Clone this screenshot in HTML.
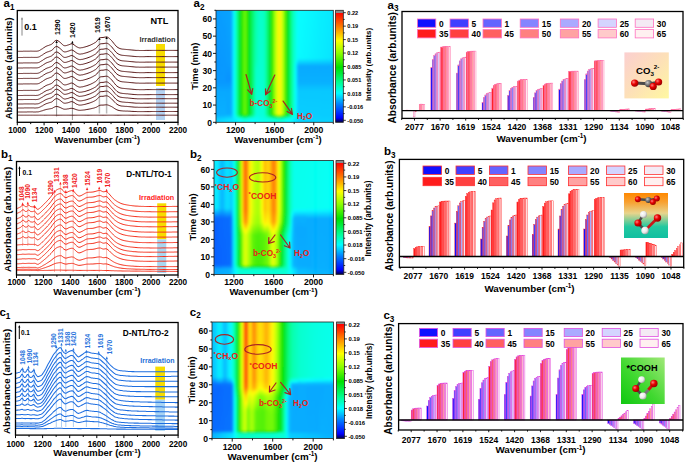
<!DOCTYPE html>
<html><head><meta charset="utf-8"><style>
html,body{margin:0;padding:0;background:#fff;}
body{width:685px;height:462px;overflow:hidden;}
svg{display:block;font-family:"Liberation Sans", sans-serif;}
</style></head><body>
<svg width="685" height="462" viewBox="0 0 685 462">
<defs><filter id="hblur" x="-5%" y="-5%" width="110%" height="110%"><feGaussianBlur stdDeviation="0.9"/></filter><clipPath id="hc1"><rect x="216" y="10.3" width="117.3" height="112"/></clipPath><linearGradient id="g2" x1="0" y1="0" x2="0" y2="1"><stop offset="0" stop-color="#0099ff"/><stop offset="0.47" stop-color="#0092ff"/><stop offset="0.64" stop-color="#0095ff"/><stop offset="0.72" stop-color="#00a6ff"/><stop offset="0.92" stop-color="#00abff"/><stop offset="0.96" stop-color="#00ccff"/><stop offset="1" stop-color="#00ccff"/></linearGradient><linearGradient id="g3" x1="0" y1="0" x2="0" y2="1"><stop offset="0" stop-color="#009aff"/><stop offset="0.47" stop-color="#0092ff"/><stop offset="0.64" stop-color="#0095ff"/><stop offset="0.72" stop-color="#00a6ff"/><stop offset="0.92" stop-color="#00acff"/><stop offset="0.96" stop-color="#00ccff"/><stop offset="1" stop-color="#00cdff"/></linearGradient><linearGradient id="g4" x1="0" y1="0" x2="0" y2="1"><stop offset="0" stop-color="#009aff"/><stop offset="0.47" stop-color="#0093ff"/><stop offset="0.64" stop-color="#0095ff"/><stop offset="0.72" stop-color="#00a6ff"/><stop offset="0.92" stop-color="#00acff"/><stop offset="0.96" stop-color="#00cfff"/><stop offset="1" stop-color="#00cfff"/></linearGradient><linearGradient id="g5" x1="0" y1="0" x2="0" y2="1"><stop offset="0" stop-color="#009bff"/><stop offset="0.47" stop-color="#0094ff"/><stop offset="0.64" stop-color="#0095ff"/><stop offset="0.72" stop-color="#00a6ff"/><stop offset="0.92" stop-color="#00acff"/><stop offset="0.96" stop-color="#00d1ff"/><stop offset="1" stop-color="#00d1ff"/></linearGradient><linearGradient id="g6" x1="0" y1="0" x2="0" y2="1"><stop offset="0" stop-color="#009bff"/><stop offset="0.47" stop-color="#0095ff"/><stop offset="0.64" stop-color="#0095ff"/><stop offset="0.72" stop-color="#00a6ff"/><stop offset="0.92" stop-color="#00adff"/><stop offset="0.96" stop-color="#00d4ff"/><stop offset="1" stop-color="#00d4ff"/></linearGradient><linearGradient id="g7" x1="0" y1="0" x2="0" y2="1"><stop offset="0" stop-color="#009cff"/><stop offset="0.47" stop-color="#0095ff"/><stop offset="0.64" stop-color="#0095ff"/><stop offset="0.72" stop-color="#00a6ff"/><stop offset="0.92" stop-color="#00adff"/><stop offset="0.96" stop-color="#00d6ff"/><stop offset="1" stop-color="#00d6ff"/></linearGradient><linearGradient id="g8" x1="0" y1="0" x2="0" y2="1"><stop offset="0" stop-color="#009dff"/><stop offset="0.47" stop-color="#0095ff"/><stop offset="0.64" stop-color="#0095ff"/><stop offset="0.72" stop-color="#00a6ff"/><stop offset="0.92" stop-color="#00adff"/><stop offset="0.96" stop-color="#00d8ff"/><stop offset="1" stop-color="#00d9ff"/></linearGradient><linearGradient id="g9" x1="0" y1="0" x2="0" y2="1"><stop offset="0" stop-color="#009dff"/><stop offset="0.47" stop-color="#0096ff"/><stop offset="0.64" stop-color="#0095ff"/><stop offset="0.72" stop-color="#00a6ff"/><stop offset="0.92" stop-color="#00aeff"/><stop offset="0.96" stop-color="#00dbff"/><stop offset="1" stop-color="#00dbff"/></linearGradient><linearGradient id="g10" x1="0" y1="0" x2="0" y2="1"><stop offset="0" stop-color="#009eff"/><stop offset="0.46" stop-color="#0098ff"/><stop offset="0.62" stop-color="#0090ff"/><stop offset="0.72" stop-color="#00a6ff"/><stop offset="0.91" stop-color="#00a7ff"/><stop offset="0.96" stop-color="#00ddff"/><stop offset="1" stop-color="#00ddff"/></linearGradient><linearGradient id="g11" x1="0" y1="0" x2="0" y2="1"><stop offset="0" stop-color="#009fff"/><stop offset="0.46" stop-color="#0099ff"/><stop offset="0.62" stop-color="#0090ff"/><stop offset="0.72" stop-color="#00a6ff"/><stop offset="0.91" stop-color="#00a7ff"/><stop offset="0.96" stop-color="#00dfff"/><stop offset="1" stop-color="#00e0ff"/></linearGradient><linearGradient id="g12" x1="0" y1="0" x2="0" y2="1"><stop offset="0" stop-color="#009fff"/><stop offset="0.46" stop-color="#0099ff"/><stop offset="0.61" stop-color="#008fff"/><stop offset="0.72" stop-color="#00a6ff"/><stop offset="0.91" stop-color="#00a7ff"/><stop offset="0.96" stop-color="#00e2ff"/><stop offset="1" stop-color="#00e2ff"/></linearGradient><linearGradient id="g13" x1="0" y1="0" x2="0" y2="1"><stop offset="0" stop-color="#00a7ff"/><stop offset="0.46" stop-color="#00a1ff"/><stop offset="0.62" stop-color="#0099ff"/><stop offset="0.72" stop-color="#00acff"/><stop offset="0.91" stop-color="#00adff"/><stop offset="0.96" stop-color="#00e4ff"/><stop offset="1" stop-color="#00e4ff"/></linearGradient><linearGradient id="g14" x1="0" y1="0" x2="0" y2="1"><stop offset="0" stop-color="#00d1ff"/><stop offset="0.91" stop-color="#00d3ff"/><stop offset="0.97" stop-color="#00e7ff"/><stop offset="1" stop-color="#00e7ff"/></linearGradient><linearGradient id="g15" x1="0" y1="0" x2="0" y2="1"><stop offset="0" stop-color="#00fffb"/><stop offset="0.93" stop-color="#00faff"/><stop offset="0.97" stop-color="#00e9ff"/><stop offset="1" stop-color="#00e9ff"/></linearGradient><linearGradient id="g16" x1="0" y1="0" x2="0" y2="1"><stop offset="0" stop-color="#00ffc9"/><stop offset="0.91" stop-color="#00ffca"/><stop offset="0.95" stop-color="#00f6ff"/><stop offset="0.97" stop-color="#00ecff"/><stop offset="1" stop-color="#00ecff"/></linearGradient><linearGradient id="g17" x1="0" y1="0" x2="0" y2="1"><stop offset="0" stop-color="#00fd8d"/><stop offset="0.91" stop-color="#00fd8e"/><stop offset="0.93" stop-color="#00ffbc"/><stop offset="0.95" stop-color="#00fff9"/><stop offset="0.97" stop-color="#00f4ff"/><stop offset="1" stop-color="#00f4ff"/></linearGradient><linearGradient id="g18" x1="0" y1="0" x2="0" y2="1"><stop offset="0" stop-color="#00f04c"/><stop offset="0.91" stop-color="#00f04e"/><stop offset="0.92" stop-color="#00f566"/><stop offset="0.95" stop-color="#00ffeb"/><stop offset="0.96" stop-color="#00feff"/><stop offset="1" stop-color="#00fdff"/></linearGradient><linearGradient id="g19" x1="0" y1="0" x2="0" y2="1"><stop offset="0" stop-color="#00e518"/><stop offset="0.91" stop-color="#00e51a"/><stop offset="0.92" stop-color="#00ec39"/><stop offset="0.95" stop-color="#00ffde"/><stop offset="0.96" stop-color="#00fff8"/><stop offset="1" stop-color="#00fff9"/></linearGradient><linearGradient id="g20" x1="0" y1="0" x2="0" y2="1"><stop offset="0" stop-color="#19e500"/><stop offset="0.91" stop-color="#17e500"/><stop offset="0.92" stop-color="#00e30e"/><stop offset="0.94" stop-color="#00ff97"/><stop offset="0.95" stop-color="#00ffd2"/><stop offset="0.96" stop-color="#00fff0"/><stop offset="1" stop-color="#00fff1"/></linearGradient><linearGradient id="g21" x1="0" y1="0" x2="0" y2="1"><stop offset="0" stop-color="#42ee00"/><stop offset="0.91" stop-color="#3fee00"/><stop offset="0.92" stop-color="#16e500"/><stop offset="0.93" stop-color="#00ea32"/><stop offset="0.94" stop-color="#00fb83"/><stop offset="0.95" stop-color="#00ffc6"/><stop offset="0.96" stop-color="#00ffe8"/><stop offset="1" stop-color="#00ffe9"/></linearGradient><linearGradient id="g22" x1="0" y1="0" x2="0" y2="1"><stop offset="0" stop-color="#68f600"/><stop offset="0.91" stop-color="#65f600"/><stop offset="0.92" stop-color="#39ec00"/><stop offset="0.93" stop-color="#00e517"/><stop offset="0.94" stop-color="#00f771"/><stop offset="0.95" stop-color="#00ffbb"/><stop offset="0.96" stop-color="#00ffe0"/><stop offset="1" stop-color="#00ffe1"/></linearGradient><linearGradient id="g23" x1="0" y1="0" x2="0" y2="1"><stop offset="0" stop-color="#4af000"/><stop offset="0.91" stop-color="#47ef00"/><stop offset="0.92" stop-color="#1ee600"/><stop offset="0.93" stop-color="#00e92b"/><stop offset="0.94" stop-color="#00fa7e"/><stop offset="0.95" stop-color="#00ffc2"/><stop offset="0.96" stop-color="#00ffe4"/><stop offset="1" stop-color="#00ffe6"/></linearGradient><linearGradient id="g24" x1="0" y1="0" x2="0" y2="1"><stop offset="0" stop-color="#1ee600"/><stop offset="0.91" stop-color="#1be600"/><stop offset="0.92" stop-color="#00e209"/><stop offset="0.94" stop-color="#00fe92"/><stop offset="0.95" stop-color="#00ffcd"/><stop offset="0.96" stop-color="#00ffeb"/><stop offset="1" stop-color="#00ffec"/></linearGradient><linearGradient id="g25" x1="0" y1="0" x2="0" y2="1"><stop offset="0" stop-color="#00e310"/><stop offset="0.91" stop-color="#00e412"/><stop offset="0.92" stop-color="#00ea31"/><stop offset="0.94" stop-color="#00ffa6"/><stop offset="0.95" stop-color="#00ffd8"/><stop offset="0.96" stop-color="#00fff2"/><stop offset="1" stop-color="#00fff3"/></linearGradient><linearGradient id="g26" x1="0" y1="0" x2="0" y2="1"><stop offset="0" stop-color="#00ec3c"/><stop offset="0.91" stop-color="#00ed3d"/><stop offset="0.92" stop-color="#00f257"/><stop offset="0.95" stop-color="#00ffe3"/><stop offset="0.96" stop-color="#00fff9"/><stop offset="1" stop-color="#00fff9"/></linearGradient><linearGradient id="g27" x1="0" y1="0" x2="0" y2="1"><stop offset="0" stop-color="#00f35c"/><stop offset="0.91" stop-color="#00f35e"/><stop offset="0.92" stop-color="#00f874"/><stop offset="0.95" stop-color="#00ffeb"/><stop offset="0.96" stop-color="#00fffe"/><stop offset="1" stop-color="#00ffff"/></linearGradient><linearGradient id="g28" x1="0" y1="0" x2="0" y2="1"><stop offset="0" stop-color="#00f97d"/><stop offset="0.91" stop-color="#00fc89"/><stop offset="0.93" stop-color="#00ffb4"/><stop offset="0.95" stop-color="#00ffee"/><stop offset="0.97" stop-color="#00fffc"/><stop offset="1" stop-color="#00fffc"/></linearGradient><linearGradient id="g29" x1="0" y1="0" x2="0" y2="1"><stop offset="0" stop-color="#00ff9d"/><stop offset="0.45" stop-color="#00ffa3"/><stop offset="0.53" stop-color="#00ffb4"/><stop offset="0.91" stop-color="#00ffbd"/><stop offset="0.96" stop-color="#00fffa"/><stop offset="1" stop-color="#00fffa"/></linearGradient><linearGradient id="g30" x1="0" y1="0" x2="0" y2="1"><stop offset="0" stop-color="#00ffb2"/><stop offset="0.45" stop-color="#00ffb9"/><stop offset="0.53" stop-color="#00ffcc"/><stop offset="0.92" stop-color="#00ffdb"/><stop offset="0.96" stop-color="#00fff8"/><stop offset="1" stop-color="#00fff8"/></linearGradient><linearGradient id="g31" x1="0" y1="0" x2="0" y2="1"><stop offset="0" stop-color="#00ffbe"/><stop offset="0.47" stop-color="#00ffc5"/><stop offset="0.85" stop-color="#00ffd6"/><stop offset="0.92" stop-color="#00ffda"/><stop offset="0.96" stop-color="#00fff6"/><stop offset="1" stop-color="#00fff6"/></linearGradient><linearGradient id="g32" x1="0" y1="0" x2="0" y2="1"><stop offset="0" stop-color="#00ffca"/><stop offset="0.66" stop-color="#00ffd3"/><stop offset="0.92" stop-color="#00ffda"/><stop offset="0.97" stop-color="#00fff4"/><stop offset="1" stop-color="#00fff4"/></linearGradient><linearGradient id="g33" x1="0" y1="0" x2="0" y2="1"><stop offset="0" stop-color="#00ffc8"/><stop offset="0.66" stop-color="#00ffd3"/><stop offset="0.92" stop-color="#00ffda"/><stop offset="0.97" stop-color="#00fff1"/><stop offset="1" stop-color="#00fff1"/></linearGradient><linearGradient id="g34" x1="0" y1="0" x2="0" y2="1"><stop offset="0" stop-color="#00ffc4"/><stop offset="0.64" stop-color="#00ffce"/><stop offset="0.92" stop-color="#00ffd9"/><stop offset="0.97" stop-color="#00ffef"/><stop offset="1" stop-color="#00ffef"/></linearGradient><linearGradient id="g35" x1="0" y1="0" x2="0" y2="1"><stop offset="0" stop-color="#00ffbc"/><stop offset="0.48" stop-color="#00ffc4"/><stop offset="0.92" stop-color="#00ffd3"/><stop offset="0.97" stop-color="#00ffed"/><stop offset="1" stop-color="#00ffed"/></linearGradient><linearGradient id="g36" x1="0" y1="0" x2="0" y2="1"><stop offset="0" stop-color="#00ff9d"/><stop offset="0.91" stop-color="#00ffa6"/><stop offset="0.96" stop-color="#00ffeb"/><stop offset="1" stop-color="#00ffeb"/></linearGradient><linearGradient id="g37" x1="0" y1="0" x2="0" y2="1"><stop offset="0" stop-color="#00f97a"/><stop offset="0.91" stop-color="#00f97b"/><stop offset="0.93" stop-color="#00ffa5"/><stop offset="0.95" stop-color="#00ffdb"/><stop offset="0.97" stop-color="#00ffe9"/><stop offset="1" stop-color="#00ffe9"/></linearGradient><linearGradient id="g38" x1="0" y1="0" x2="0" y2="1"><stop offset="0" stop-color="#00ef49"/><stop offset="0.91" stop-color="#00ef4b"/><stop offset="0.92" stop-color="#00f460"/><stop offset="0.95" stop-color="#00ffd4"/><stop offset="0.96" stop-color="#00ffe6"/><stop offset="1" stop-color="#00ffe6"/></linearGradient><linearGradient id="g39" x1="0" y1="0" x2="0" y2="1"><stop offset="0" stop-color="#00e518"/><stop offset="0.91" stop-color="#00e519"/><stop offset="0.92" stop-color="#00eb35"/><stop offset="0.95" stop-color="#00ffcc"/><stop offset="0.96" stop-color="#00ffe3"/><stop offset="1" stop-color="#00ffe4"/></linearGradient><linearGradient id="g40" x1="0" y1="0" x2="0" y2="1"><stop offset="0" stop-color="#1fe700"/><stop offset="0.91" stop-color="#1de600"/><stop offset="0.92" stop-color="#00e106"/><stop offset="0.94" stop-color="#00fc8a"/><stop offset="0.95" stop-color="#00ffc4"/><stop offset="0.96" stop-color="#00ffe1"/><stop offset="1" stop-color="#00ffe2"/></linearGradient><linearGradient id="g41" x1="0" y1="0" x2="0" y2="1"><stop offset="0" stop-color="#58f300"/><stop offset="0.91" stop-color="#55f200"/><stop offset="0.92" stop-color="#2be900"/><stop offset="0.93" stop-color="#00e721"/><stop offset="0.94" stop-color="#00f875"/><stop offset="0.95" stop-color="#00ffbb"/><stop offset="0.96" stop-color="#00ffdf"/><stop offset="1" stop-color="#00ffe0"/></linearGradient><linearGradient id="g42" x1="0" y1="0" x2="0" y2="1"><stop offset="0" stop-color="#94ff00"/><stop offset="0.91" stop-color="#91ff00"/><stop offset="0.92" stop-color="#5ff400"/><stop offset="0.93" stop-color="#05e100"/><stop offset="0.95" stop-color="#00ffb3"/><stop offset="0.96" stop-color="#00ffdc"/><stop offset="1" stop-color="#00ffde"/></linearGradient><linearGradient id="g43" x1="0" y1="0" x2="0" y2="1"><stop offset="0" stop-color="#c8ff00"/><stop offset="0.91" stop-color="#c5ff00"/><stop offset="0.92" stop-color="#91ff00"/><stop offset="0.93" stop-color="#2ae900"/><stop offset="0.94" stop-color="#00ef4a"/><stop offset="0.95" stop-color="#00ffaa"/><stop offset="0.96" stop-color="#00ffda"/><stop offset="1" stop-color="#00ffdb"/></linearGradient><linearGradient id="g44" x1="0" y1="0" x2="0" y2="1"><stop offset="0" stop-color="#ebff00"/><stop offset="0.91" stop-color="#e7ff00"/><stop offset="0.92" stop-color="#afff00"/><stop offset="0.93" stop-color="#42ee00"/><stop offset="0.94" stop-color="#00ec3b"/><stop offset="0.95" stop-color="#00ffa4"/><stop offset="0.96" stop-color="#00ffd7"/><stop offset="1" stop-color="#00ffd9"/></linearGradient><linearGradient id="g45" x1="0" y1="0" x2="0" y2="1"><stop offset="0" stop-color="#fff100"/><stop offset="0.91" stop-color="#fff500"/><stop offset="0.92" stop-color="#cdff00"/><stop offset="0.93" stop-color="#5bf400"/><stop offset="0.94" stop-color="#00e92c"/><stop offset="0.95" stop-color="#00ff9e"/><stop offset="0.96" stop-color="#00ffd5"/><stop offset="1" stop-color="#00ffd7"/></linearGradient><linearGradient id="g46" x1="0" y1="0" x2="0" y2="1"><stop offset="0" stop-color="#f3ff00"/><stop offset="0.91" stop-color="#efff00"/><stop offset="0.92" stop-color="#b5ff00"/><stop offset="0.93" stop-color="#48ef00"/><stop offset="0.94" stop-color="#00eb38"/><stop offset="0.95" stop-color="#00ffa3"/><stop offset="0.96" stop-color="#00ffd7"/><stop offset="1" stop-color="#00ffd9"/></linearGradient><linearGradient id="g47" x1="0" y1="0" x2="0" y2="1"><stop offset="0" stop-color="#ccff00"/><stop offset="0.91" stop-color="#c8ff00"/><stop offset="0.92" stop-color="#93ff00"/><stop offset="0.93" stop-color="#2be900"/><stop offset="0.94" stop-color="#00ef4b"/><stop offset="0.95" stop-color="#00ffad"/><stop offset="0.96" stop-color="#00ffde"/><stop offset="1" stop-color="#00ffdf"/></linearGradient><linearGradient id="g48" x1="0" y1="0" x2="0" y2="1"><stop offset="0" stop-color="#98ff00"/><stop offset="0.91" stop-color="#95ff00"/><stop offset="0.92" stop-color="#61f500"/><stop offset="0.93" stop-color="#04e100"/><stop offset="0.95" stop-color="#00ffba"/><stop offset="0.96" stop-color="#00ffe4"/><stop offset="1" stop-color="#00ffe6"/></linearGradient><linearGradient id="g49" x1="0" y1="0" x2="0" y2="1"><stop offset="0" stop-color="#50f100"/><stop offset="0.91" stop-color="#4ef100"/><stop offset="0.92" stop-color="#22e700"/><stop offset="0.93" stop-color="#00e92a"/><stop offset="0.94" stop-color="#00fa80"/><stop offset="0.95" stop-color="#00ffc7"/><stop offset="0.96" stop-color="#00ffeb"/><stop offset="1" stop-color="#00ffec"/></linearGradient><linearGradient id="g50" x1="0" y1="0" x2="0" y2="1"><stop offset="0" stop-color="#12e400"/><stop offset="0.91" stop-color="#10e300"/><stop offset="0.92" stop-color="#00e414"/><stop offset="0.94" stop-color="#00ff9a"/><stop offset="0.95" stop-color="#00ffd4"/><stop offset="0.96" stop-color="#00fff2"/><stop offset="1" stop-color="#00fff3"/></linearGradient><linearGradient id="g51" x1="0" y1="0" x2="0" y2="1"><stop offset="0" stop-color="#00e721"/><stop offset="0.91" stop-color="#00e723"/><stop offset="0.92" stop-color="#00ed41"/><stop offset="0.95" stop-color="#00ffe0"/><stop offset="0.96" stop-color="#00fff8"/><stop offset="1" stop-color="#00fff9"/></linearGradient><linearGradient id="g52" x1="0" y1="0" x2="0" y2="1"><stop offset="0" stop-color="#00f154"/><stop offset="0.91" stop-color="#00f155"/><stop offset="0.92" stop-color="#00f66d"/><stop offset="0.95" stop-color="#00ffeb"/><stop offset="0.96" stop-color="#00ffff"/><stop offset="1" stop-color="#00feff"/></linearGradient><linearGradient id="g53" x1="0" y1="0" x2="0" y2="1"><stop offset="0" stop-color="#00fb82"/><stop offset="0.91" stop-color="#00fb83"/><stop offset="0.93" stop-color="#00ffb5"/><stop offset="0.95" stop-color="#00fff6"/><stop offset="0.98" stop-color="#00f6ff"/><stop offset="1" stop-color="#00f6ff"/></linearGradient><linearGradient id="g54" x1="0" y1="0" x2="0" y2="1"><stop offset="0" stop-color="#00ffb0"/><stop offset="0.91" stop-color="#00ffb0"/><stop offset="0.93" stop-color="#00ffd2"/><stop offset="0.95" stop-color="#00fdff"/><stop offset="0.97" stop-color="#00efff"/><stop offset="1" stop-color="#00efff"/></linearGradient><linearGradient id="g55" x1="0" y1="0" x2="0" y2="1"><stop offset="0" stop-color="#00ffc9"/><stop offset="0.46" stop-color="#00ffd0"/><stop offset="0.58" stop-color="#00ffdb"/><stop offset="0.91" stop-color="#00ffd5"/><stop offset="0.94" stop-color="#00fffc"/><stop offset="0.96" stop-color="#00e9ff"/><stop offset="1" stop-color="#00e9ff"/></linearGradient><linearGradient id="g56" x1="0" y1="0" x2="0" y2="1"><stop offset="0" stop-color="#00ffdf"/><stop offset="0.44" stop-color="#00ffe4"/><stop offset="0.49" stop-color="#00faff"/><stop offset="0.65" stop-color="#00fdff"/><stop offset="0.93" stop-color="#00faff"/><stop offset="0.96" stop-color="#00e3ff"/><stop offset="1" stop-color="#00e2ff"/></linearGradient><linearGradient id="g57" x1="0" y1="0" x2="0" y2="1"><stop offset="0" stop-color="#00fff4"/><stop offset="0.43" stop-color="#00fff7"/><stop offset="0.46" stop-color="#00eeff"/><stop offset="0.5" stop-color="#00c2ff"/><stop offset="0.64" stop-color="#00c8ff"/><stop offset="0.72" stop-color="#00dcff"/><stop offset="1" stop-color="#00dcff"/></linearGradient><linearGradient id="g58" x1="0" y1="0" x2="0" y2="1"><stop offset="0" stop-color="#00feff"/><stop offset="0.43" stop-color="#00faff"/><stop offset="0.5" stop-color="#00a7ff"/><stop offset="0.64" stop-color="#00aeff"/><stop offset="0.71" stop-color="#00c6ff"/><stop offset="0.93" stop-color="#00cdff"/><stop offset="0.99" stop-color="#00d9ff"/><stop offset="1" stop-color="#00d9ff"/></linearGradient><linearGradient id="g59" x1="0" y1="0" x2="0" y2="1"><stop offset="0" stop-color="#00fdff"/><stop offset="0.43" stop-color="#00f9ff"/><stop offset="0.5" stop-color="#00a7ff"/><stop offset="0.64" stop-color="#00aeff"/><stop offset="0.71" stop-color="#00c6ff"/><stop offset="0.93" stop-color="#00cdff"/><stop offset="0.99" stop-color="#00d8ff"/><stop offset="1" stop-color="#00d8ff"/></linearGradient><linearGradient id="g60" x1="0" y1="0" x2="0" y2="1"><stop offset="0" stop-color="#00fcff"/><stop offset="0.43" stop-color="#00f8ff"/><stop offset="0.5" stop-color="#00a7ff"/><stop offset="0.64" stop-color="#00aeff"/><stop offset="0.71" stop-color="#00c6ff"/><stop offset="0.93" stop-color="#00cdff"/><stop offset="0.99" stop-color="#00d8ff"/><stop offset="1" stop-color="#00d8ff"/></linearGradient><linearGradient id="g61" x1="0" y1="0" x2="0" y2="1"><stop offset="0" stop-color="#00fbff"/><stop offset="0.43" stop-color="#00f7ff"/><stop offset="0.5" stop-color="#00a7ff"/><stop offset="0.64" stop-color="#00aeff"/><stop offset="0.71" stop-color="#00c6ff"/><stop offset="0.93" stop-color="#00cdff"/><stop offset="1" stop-color="#00d8ff"/></linearGradient><linearGradient id="g62" x1="0" y1="0" x2="0" y2="1"><stop offset="0" stop-color="#00faff"/><stop offset="0.43" stop-color="#00f6ff"/><stop offset="0.5" stop-color="#00a7ff"/><stop offset="0.64" stop-color="#00aeff"/><stop offset="0.71" stop-color="#00c6ff"/><stop offset="0.93" stop-color="#00cdff"/><stop offset="1" stop-color="#00d8ff"/></linearGradient><linearGradient id="g63" x1="0" y1="0" x2="0" y2="1"><stop offset="0" stop-color="#00f9ff"/><stop offset="0.43" stop-color="#00f5ff"/><stop offset="0.5" stop-color="#00a7ff"/><stop offset="0.64" stop-color="#00aeff"/><stop offset="0.71" stop-color="#00c6ff"/><stop offset="0.93" stop-color="#00ccff"/><stop offset="1" stop-color="#00d7ff"/></linearGradient><linearGradient id="g64" x1="0" y1="0" x2="0" y2="1"><stop offset="0" stop-color="#00f8ff"/><stop offset="0.43" stop-color="#00f4ff"/><stop offset="0.5" stop-color="#00a7ff"/><stop offset="0.64" stop-color="#00aeff"/><stop offset="0.71" stop-color="#00c6ff"/><stop offset="0.93" stop-color="#00ccff"/><stop offset="1" stop-color="#00d7ff"/></linearGradient><linearGradient id="g65" x1="0" y1="0" x2="0" y2="1"><stop offset="0" stop-color="#00f7ff"/><stop offset="0.43" stop-color="#00f3ff"/><stop offset="0.5" stop-color="#00a7ff"/><stop offset="0.64" stop-color="#00aeff"/><stop offset="0.71" stop-color="#00c6ff"/><stop offset="0.93" stop-color="#00ccff"/><stop offset="1" stop-color="#00d7ff"/></linearGradient><linearGradient id="g66" x1="0" y1="0" x2="0" y2="1"><stop offset="0" stop-color="#00f6ff"/><stop offset="0.43" stop-color="#00f2ff"/><stop offset="0.5" stop-color="#00a7ff"/><stop offset="0.64" stop-color="#00aeff"/><stop offset="0.71" stop-color="#00c6ff"/><stop offset="0.93" stop-color="#00ccff"/><stop offset="1" stop-color="#00d7ff"/></linearGradient><linearGradient id="g67" x1="0" y1="0" x2="0" y2="1"><stop offset="0" stop-color="#00f5ff"/><stop offset="0.43" stop-color="#00f1ff"/><stop offset="0.5" stop-color="#00a7ff"/><stop offset="0.64" stop-color="#00aeff"/><stop offset="0.71" stop-color="#00c6ff"/><stop offset="0.93" stop-color="#00ccff"/><stop offset="1" stop-color="#00d6ff"/></linearGradient><linearGradient id="g68" x1="0" y1="0" x2="0" y2="1"><stop offset="0" stop-color="#00f4ff"/><stop offset="0.43" stop-color="#00f0ff"/><stop offset="0.5" stop-color="#00a7ff"/><stop offset="0.64" stop-color="#00aeff"/><stop offset="0.71" stop-color="#00c6ff"/><stop offset="0.93" stop-color="#00ccff"/><stop offset="1" stop-color="#00d6ff"/></linearGradient><linearGradient id="g69" x1="0" y1="0" x2="0" y2="1"><stop offset="0" stop-color="#00f3ff"/><stop offset="0.43" stop-color="#00efff"/><stop offset="0.5" stop-color="#00a7ff"/><stop offset="0.64" stop-color="#00aeff"/><stop offset="0.71" stop-color="#00c6ff"/><stop offset="0.93" stop-color="#00ccff"/><stop offset="1" stop-color="#00d6ff"/></linearGradient><linearGradient id="g70" x1="0" y1="0" x2="0" y2="1"><stop offset="0" stop-color="#00f2ff"/><stop offset="0.43" stop-color="#00eeff"/><stop offset="0.5" stop-color="#00a7ff"/><stop offset="0.64" stop-color="#00aeff"/><stop offset="0.71" stop-color="#00c6ff"/><stop offset="0.93" stop-color="#00ccff"/><stop offset="1" stop-color="#00d6ff"/></linearGradient><linearGradient id="g71" x1="0" y1="0" x2="0" y2="1"><stop offset="0" stop-color="#00f0ff"/><stop offset="0.43" stop-color="#00edff"/><stop offset="0.5" stop-color="#00a7ff"/><stop offset="0.64" stop-color="#00aeff"/><stop offset="0.71" stop-color="#00c6ff"/><stop offset="0.93" stop-color="#00ccff"/><stop offset="1" stop-color="#00d5ff"/></linearGradient><linearGradient id="g72" x1="0" y1="0" x2="0" y2="1"><stop offset="0" stop-color="#00efff"/><stop offset="0.43" stop-color="#00ecff"/><stop offset="0.5" stop-color="#00a7ff"/><stop offset="0.64" stop-color="#00aeff"/><stop offset="0.71" stop-color="#00c6ff"/><stop offset="0.93" stop-color="#00ccff"/><stop offset="1" stop-color="#00d5ff"/></linearGradient><linearGradient id="g73" x1="0" y1="0" x2="0" y2="1"><stop offset="0" stop-color="#00eeff"/><stop offset="0.43" stop-color="#00ebff"/><stop offset="0.5" stop-color="#00a7ff"/><stop offset="0.64" stop-color="#00aeff"/><stop offset="0.71" stop-color="#00c6ff"/><stop offset="0.93" stop-color="#00cbff"/><stop offset="1" stop-color="#00d5ff"/></linearGradient><linearGradient id="g74" x1="0" y1="0" x2="0" y2="1"><stop offset="0" stop-color="#00edff"/><stop offset="0.43" stop-color="#00eaff"/><stop offset="0.5" stop-color="#00a7ff"/><stop offset="0.64" stop-color="#00aeff"/><stop offset="0.71" stop-color="#00c6ff"/><stop offset="0.93" stop-color="#00cbff"/><stop offset="1" stop-color="#00d4ff"/></linearGradient><linearGradient id="g75" x1="0" y1="0" x2="0" y2="1"><stop offset="0" stop-color="#00ecff"/><stop offset="0.43" stop-color="#00e9ff"/><stop offset="0.5" stop-color="#00a7ff"/><stop offset="0.64" stop-color="#00aeff"/><stop offset="0.71" stop-color="#00c6ff"/><stop offset="0.93" stop-color="#00cbff"/><stop offset="1" stop-color="#00d4ff"/></linearGradient><linearGradient id="g76" x1="0" y1="0" x2="0" y2="1"><stop offset="0" stop-color="#00ebff"/><stop offset="0.43" stop-color="#00e8ff"/><stop offset="0.5" stop-color="#00a7ff"/><stop offset="0.64" stop-color="#00aeff"/><stop offset="0.71" stop-color="#00c6ff"/><stop offset="0.93" stop-color="#00cbff"/><stop offset="1" stop-color="#00d4ff"/></linearGradient><linearGradient id="g77" x1="0" y1="0" x2="0" y2="1"><stop offset="0" stop-color="#00eaff"/><stop offset="0.43" stop-color="#00e7ff"/><stop offset="0.5" stop-color="#00a7ff"/><stop offset="0.64" stop-color="#00aeff"/><stop offset="0.71" stop-color="#00c6ff"/><stop offset="0.93" stop-color="#00cbff"/><stop offset="1" stop-color="#00d4ff"/></linearGradient><linearGradient id="g78" x1="0" y1="0" x2="0" y2="1"><stop offset="0" stop-color="#00e9ff"/><stop offset="0.43" stop-color="#00e6ff"/><stop offset="0.5" stop-color="#00a7ff"/><stop offset="0.64" stop-color="#00aeff"/><stop offset="0.71" stop-color="#00c6ff"/><stop offset="0.93" stop-color="#00cbff"/><stop offset="1" stop-color="#00d3ff"/></linearGradient><linearGradient id="g79" x1="0" y1="0" x2="0" y2="1"><stop offset="0" stop-color="#00e8ff"/><stop offset="0.43" stop-color="#00e5ff"/><stop offset="0.5" stop-color="#00a7ff"/><stop offset="0.64" stop-color="#00aeff"/><stop offset="0.71" stop-color="#00c6ff"/><stop offset="0.93" stop-color="#00cbff"/><stop offset="1" stop-color="#00d3ff"/></linearGradient><linearGradient id="g80" x1="0" y1="0" x2="0" y2="1"><stop offset="0" stop-color="#00e7ff"/><stop offset="0.43" stop-color="#00e4ff"/><stop offset="0.5" stop-color="#00a7ff"/><stop offset="0.64" stop-color="#00aeff"/><stop offset="0.71" stop-color="#00c6ff"/><stop offset="0.93" stop-color="#00cbff"/><stop offset="1" stop-color="#00d3ff"/></linearGradient><linearGradient id="g81" x1="0" y1="0" x2="0" y2="1"><stop offset="0" stop-color="#00e6ff"/><stop offset="0.43" stop-color="#00e3ff"/><stop offset="0.5" stop-color="#00a7ff"/><stop offset="0.64" stop-color="#00aeff"/><stop offset="0.71" stop-color="#00c6ff"/><stop offset="0.93" stop-color="#00cbff"/><stop offset="1" stop-color="#00d3ff"/></linearGradient><linearGradient id="cb81" x1="0" y1="0" x2="0" y2="1"><stop offset="0" stop-color="#8a8a8a"/><stop offset="0.02" stop-color="#8a8a8a"/><stop offset="0.02" stop-color="#ff0000"/><stop offset="0.15" stop-color="#ff8000"/><stop offset="0.27" stop-color="#ffff00"/><stop offset="0.38" stop-color="#90ff00"/><stop offset="0.51" stop-color="#00e000"/><stop offset="0.65" stop-color="#00ff98"/><stop offset="0.74" stop-color="#00ffff"/><stop offset="0.84" stop-color="#0080ff"/><stop offset="0.96" stop-color="#0000ff"/><stop offset="1" stop-color="#000040"/></linearGradient><clipPath id="hc83"><rect x="214" y="160.6" width="119.4" height="113.8"/></clipPath><linearGradient id="g84" x1="0" y1="0" x2="0" y2="1"><stop offset="0" stop-color="#00e6ff"/><stop offset="0.42" stop-color="#00e0ff"/><stop offset="0.47" stop-color="#0093ff"/><stop offset="0.51" stop-color="#005eff"/><stop offset="0.9" stop-color="#005cff"/><stop offset="0.94" stop-color="#00a2ff"/><stop offset="1" stop-color="#00a6ff"/></linearGradient><linearGradient id="g85" x1="0" y1="0" x2="0" y2="1"><stop offset="0" stop-color="#00e7ff"/><stop offset="0.42" stop-color="#00e1ff"/><stop offset="0.46" stop-color="#00a3ff"/><stop offset="0.5" stop-color="#0064ff"/><stop offset="0.57" stop-color="#005bff"/><stop offset="0.9" stop-color="#005cff"/><stop offset="0.94" stop-color="#00a2ff"/><stop offset="1" stop-color="#00a6ff"/></linearGradient><linearGradient id="g86" x1="0" y1="0" x2="0" y2="1"><stop offset="0" stop-color="#00edff"/><stop offset="0.42" stop-color="#00e8ff"/><stop offset="0.46" stop-color="#00a7ff"/><stop offset="0.5" stop-color="#0066ff"/><stop offset="0.56" stop-color="#005cff"/><stop offset="0.9" stop-color="#005dff"/><stop offset="0.94" stop-color="#00a3ff"/><stop offset="1" stop-color="#00a7ff"/></linearGradient><linearGradient id="g87" x1="0" y1="0" x2="0" y2="1"><stop offset="0" stop-color="#00efff"/><stop offset="0.42" stop-color="#00eaff"/><stop offset="0.46" stop-color="#00a9ff"/><stop offset="0.5" stop-color="#0067ff"/><stop offset="0.56" stop-color="#005dff"/><stop offset="0.9" stop-color="#005eff"/><stop offset="0.94" stop-color="#00a4ff"/><stop offset="1" stop-color="#00a9ff"/></linearGradient><linearGradient id="g88" x1="0" y1="0" x2="0" y2="1"><stop offset="0" stop-color="#00dcff"/><stop offset="0.42" stop-color="#00d7ff"/><stop offset="0.47" stop-color="#0091ff"/><stop offset="0.51" stop-color="#0061ff"/><stop offset="0.9" stop-color="#005fff"/><stop offset="0.94" stop-color="#00a6ff"/><stop offset="1" stop-color="#00aaff"/></linearGradient><linearGradient id="g89" x1="0" y1="0" x2="0" y2="1"><stop offset="0" stop-color="#00c9ff"/><stop offset="0.42" stop-color="#00c5ff"/><stop offset="0.5" stop-color="#0066ff"/><stop offset="0.89" stop-color="#005fff"/><stop offset="0.92" stop-color="#0077ff"/><stop offset="0.94" stop-color="#00a7ff"/><stop offset="1" stop-color="#00abff"/></linearGradient><linearGradient id="g90" x1="0" y1="0" x2="0" y2="1"><stop offset="0" stop-color="#00b6ff"/><stop offset="0.42" stop-color="#00b3ff"/><stop offset="0.51" stop-color="#0062ff"/><stop offset="0.9" stop-color="#0061ff"/><stop offset="0.94" stop-color="#00a8ff"/><stop offset="1" stop-color="#00acff"/></linearGradient><linearGradient id="g91" x1="0" y1="0" x2="0" y2="1"><stop offset="0" stop-color="#00c0ff"/><stop offset="0.42" stop-color="#00bcff"/><stop offset="0.51" stop-color="#0063ff"/><stop offset="0.9" stop-color="#0062ff"/><stop offset="0.94" stop-color="#00a9ff"/><stop offset="1" stop-color="#00adff"/></linearGradient><linearGradient id="g92" x1="0" y1="0" x2="0" y2="1"><stop offset="0" stop-color="#00cfff"/><stop offset="0.42" stop-color="#00cbff"/><stop offset="0.5" stop-color="#0069ff"/><stop offset="0.84" stop-color="#0061ff"/><stop offset="0.9" stop-color="#0063ff"/><stop offset="0.94" stop-color="#00aaff"/><stop offset="1" stop-color="#00afff"/></linearGradient><linearGradient id="g93" x1="0" y1="0" x2="0" y2="1"><stop offset="0" stop-color="#00deff"/><stop offset="0.42" stop-color="#00d9ff"/><stop offset="0.47" stop-color="#0095ff"/><stop offset="0.51" stop-color="#0065ff"/><stop offset="0.9" stop-color="#0064ff"/><stop offset="0.94" stop-color="#00abff"/><stop offset="1" stop-color="#00b0ff"/></linearGradient><linearGradient id="g94" x1="0" y1="0" x2="0" y2="1"><stop offset="0" stop-color="#00e2ff"/><stop offset="0.42" stop-color="#00ddff"/><stop offset="0.47" stop-color="#0097ff"/><stop offset="0.51" stop-color="#0066ff"/><stop offset="0.9" stop-color="#0065ff"/><stop offset="0.94" stop-color="#00adff"/><stop offset="1" stop-color="#00b1ff"/></linearGradient><linearGradient id="g95" x1="0" y1="0" x2="0" y2="1"><stop offset="0" stop-color="#00daff"/><stop offset="0.42" stop-color="#00d6ff"/><stop offset="0.5" stop-color="#006cff"/><stop offset="0.66" stop-color="#0064ff"/><stop offset="0.9" stop-color="#0066ff"/><stop offset="0.94" stop-color="#00aeff"/><stop offset="1" stop-color="#00b2ff"/></linearGradient><linearGradient id="g96" x1="0" y1="0" x2="0" y2="1"><stop offset="0" stop-color="#00d3ff"/><stop offset="0.42" stop-color="#00ceff"/><stop offset="0.5" stop-color="#006dff"/><stop offset="0.87" stop-color="#0065ff"/><stop offset="0.91" stop-color="#0071ff"/><stop offset="0.94" stop-color="#00b8ff"/><stop offset="1" stop-color="#00bcff"/></linearGradient><linearGradient id="g97" x1="0" y1="0" x2="0" y2="1"><stop offset="0" stop-color="#00d5ff"/><stop offset="0.42" stop-color="#00d0ff"/><stop offset="0.52" stop-color="#009dff"/><stop offset="0.9" stop-color="#009eff"/><stop offset="0.95" stop-color="#00cfff"/><stop offset="1" stop-color="#00cfff"/></linearGradient><linearGradient id="g98" x1="0" y1="0" x2="0" y2="1"><stop offset="0" stop-color="#00fff8"/><stop offset="0.47" stop-color="#00f8ff"/><stop offset="0.65" stop-color="#00e6ff"/><stop offset="1" stop-color="#00e2ff"/></linearGradient><linearGradient id="g99" x1="0" y1="0" x2="0" y2="1"><stop offset="0" stop-color="#00ffc8"/><stop offset="0.9" stop-color="#00ffd3"/><stop offset="0.94" stop-color="#00f9ff"/><stop offset="1" stop-color="#00f5ff"/></linearGradient><linearGradient id="g100" x1="0" y1="0" x2="0" y2="1"><stop offset="0" stop-color="#00f874"/><stop offset="0.56" stop-color="#00f97c"/><stop offset="0.7" stop-color="#00fd8e"/><stop offset="0.9" stop-color="#00fe91"/><stop offset="0.94" stop-color="#00fff2"/><stop offset="1" stop-color="#00fff7"/></linearGradient><linearGradient id="g101" x1="0" y1="0" x2="0" y2="1"><stop offset="0" stop-color="#00e51a"/><stop offset="0.54" stop-color="#00e723"/><stop offset="0.67" stop-color="#00ee43"/><stop offset="0.9" stop-color="#00ee47"/><stop offset="0.92" stop-color="#00fa7f"/><stop offset="0.93" stop-color="#00ffc7"/><stop offset="0.94" stop-color="#00ffdf"/><stop offset="0.99" stop-color="#00ffe8"/><stop offset="1" stop-color="#00ffe8"/></linearGradient><linearGradient id="g102" x1="0" y1="0" x2="0" y2="1"><stop offset="0" stop-color="#50f100"/><stop offset="0.48" stop-color="#48ef00"/><stop offset="0.56" stop-color="#39ec00"/><stop offset="0.65" stop-color="#09e200"/><stop offset="0.9" stop-color="#04e100"/><stop offset="0.91" stop-color="#00e51a"/><stop offset="0.93" stop-color="#00ffac"/><stop offset="0.94" stop-color="#00ffcd"/><stop offset="0.96" stop-color="#00ffd8"/><stop offset="1" stop-color="#00ffd8"/></linearGradient><linearGradient id="g103" x1="0" y1="0" x2="0" y2="1"><stop offset="0" stop-color="#c2ff00"/><stop offset="0.46" stop-color="#bbff00"/><stop offset="0.55" stop-color="#a6ff00"/><stop offset="0.65" stop-color="#50f100"/><stop offset="0.9" stop-color="#46ef00"/><stop offset="0.91" stop-color="#20e700"/><stop offset="0.92" stop-color="#00e61b"/><stop offset="0.93" stop-color="#00ff9c"/><stop offset="0.94" stop-color="#00ffc7"/><stop offset="0.95" stop-color="#00ffd6"/><stop offset="1" stop-color="#00ffd6"/></linearGradient><linearGradient id="g104" x1="0" y1="0" x2="0" y2="1"><stop offset="0" stop-color="#ffc400"/><stop offset="0.44" stop-color="#ffcb00"/><stop offset="0.54" stop-color="#ffe700"/><stop offset="0.57" stop-color="#f9ff00"/><stop offset="0.64" stop-color="#99ff00"/><stop offset="0.73" stop-color="#90ff00"/><stop offset="0.89" stop-color="#90ff00"/><stop offset="0.9" stop-color="#87fd00"/><stop offset="0.91" stop-color="#58f300"/><stop offset="0.92" stop-color="#0fe300"/><stop offset="0.93" stop-color="#00ee43"/><stop offset="0.93" stop-color="#00fd8f"/><stop offset="0.94" stop-color="#00ffc4"/><stop offset="0.95" stop-color="#00ffd6"/><stop offset="1" stop-color="#00ffd6"/></linearGradient><linearGradient id="g105" x1="0" y1="0" x2="0" y2="1"><stop offset="0" stop-color="#ff8000"/><stop offset="0.44" stop-color="#ff8700"/><stop offset="0.54" stop-color="#ffa500"/><stop offset="0.6" stop-color="#fffb00"/><stop offset="0.65" stop-color="#d0ff00"/><stop offset="0.89" stop-color="#cdff00"/><stop offset="0.9" stop-color="#c3ff00"/><stop offset="0.91" stop-color="#91ff00"/><stop offset="0.92" stop-color="#3aed00"/><stop offset="0.93" stop-color="#00e827"/><stop offset="0.93" stop-color="#00fa82"/><stop offset="0.94" stop-color="#00ffc1"/><stop offset="0.95" stop-color="#00ffd6"/><stop offset="1" stop-color="#00ffd6"/></linearGradient><linearGradient id="g106" x1="0" y1="0" x2="0" y2="1"><stop offset="0" stop-color="#ff5800"/><stop offset="0.43" stop-color="#ff5e00"/><stop offset="0.54" stop-color="#ff8900"/><stop offset="0.62" stop-color="#fdff00"/><stop offset="0.65" stop-color="#deff00"/><stop offset="0.89" stop-color="#deff00"/><stop offset="0.9" stop-color="#d4ff00"/><stop offset="0.91" stop-color="#9fff00"/><stop offset="0.92" stop-color="#47ef00"/><stop offset="0.93" stop-color="#00e620"/><stop offset="0.93" stop-color="#00fa7e"/><stop offset="0.94" stop-color="#00ffc0"/><stop offset="0.95" stop-color="#00ffd6"/><stop offset="1" stop-color="#00ffd6"/></linearGradient><linearGradient id="g107" x1="0" y1="0" x2="0" y2="1"><stop offset="0" stop-color="#ff8d00"/><stop offset="0.44" stop-color="#ff9300"/><stop offset="0.54" stop-color="#ffb100"/><stop offset="0.6" stop-color="#f8ff00"/><stop offset="0.65" stop-color="#c6ff00"/><stop offset="0.89" stop-color="#c3ff00"/><stop offset="0.9" stop-color="#baff00"/><stop offset="0.91" stop-color="#88fd00"/><stop offset="0.92" stop-color="#34eb00"/><stop offset="0.93" stop-color="#00e92c"/><stop offset="0.93" stop-color="#00fb84"/><stop offset="0.94" stop-color="#00ffc1"/><stop offset="0.95" stop-color="#00ffd6"/><stop offset="1" stop-color="#00ffd6"/></linearGradient><linearGradient id="g108" x1="0" y1="0" x2="0" y2="1"><stop offset="0" stop-color="#ffc100"/><stop offset="0.45" stop-color="#ffc800"/><stop offset="0.54" stop-color="#ffdf00"/><stop offset="0.58" stop-color="#f9ff00"/><stop offset="0.64" stop-color="#b0ff00"/><stop offset="0.87" stop-color="#a9ff00"/><stop offset="0.9" stop-color="#a0ff00"/><stop offset="0.91" stop-color="#6ff800"/><stop offset="0.92" stop-color="#21e700"/><stop offset="0.93" stop-color="#00eb38"/><stop offset="0.93" stop-color="#00fc8a"/><stop offset="0.94" stop-color="#00ffc3"/><stop offset="0.95" stop-color="#00ffd6"/><stop offset="1" stop-color="#00ffd6"/></linearGradient><linearGradient id="g109" x1="0" y1="0" x2="0" y2="1"><stop offset="0" stop-color="#fff000"/><stop offset="0.45" stop-color="#fff700"/><stop offset="0.54" stop-color="#f3ff00"/><stop offset="0.65" stop-color="#90ff00"/><stop offset="0.89" stop-color="#8eff00"/><stop offset="0.9" stop-color="#85fd00"/><stop offset="0.91" stop-color="#57f300"/><stop offset="0.92" stop-color="#0ee300"/><stop offset="0.93" stop-color="#00fd90"/><stop offset="0.94" stop-color="#00ffc4"/><stop offset="0.95" stop-color="#00ffd6"/><stop offset="1" stop-color="#00ffd6"/></linearGradient><linearGradient id="g110" x1="0" y1="0" x2="0" y2="1"><stop offset="0" stop-color="#f0ff00"/><stop offset="0.45" stop-color="#e9ff00"/><stop offset="0.55" stop-color="#d0ff00"/><stop offset="0.65" stop-color="#73f900"/><stop offset="0.89" stop-color="#71f800"/><stop offset="0.9" stop-color="#69f700"/><stop offset="0.91" stop-color="#3eed00"/><stop offset="0.92" stop-color="#00e105"/><stop offset="0.93" stop-color="#00fe96"/><stop offset="0.94" stop-color="#00ffc6"/><stop offset="0.95" stop-color="#00ffd6"/><stop offset="1" stop-color="#00ffd6"/></linearGradient><linearGradient id="g111" x1="0" y1="0" x2="0" y2="1"><stop offset="0" stop-color="#d4ff00"/><stop offset="0.45" stop-color="#ceff00"/><stop offset="0.55" stop-color="#b5ff00"/><stop offset="0.65" stop-color="#5af300"/><stop offset="0.89" stop-color="#58f300"/><stop offset="0.9" stop-color="#50f100"/><stop offset="0.91" stop-color="#29e900"/><stop offset="0.92" stop-color="#00e415"/><stop offset="0.93" stop-color="#00ff9a"/><stop offset="0.94" stop-color="#00ffc7"/><stop offset="0.95" stop-color="#00ffd6"/><stop offset="1" stop-color="#00ffd6"/></linearGradient><linearGradient id="g112" x1="0" y1="0" x2="0" y2="1"><stop offset="0" stop-color="#c5ff00"/><stop offset="0.46" stop-color="#bdff00"/><stop offset="0.55" stop-color="#a8ff00"/><stop offset="0.65" stop-color="#53f200"/><stop offset="0.9" stop-color="#4af000"/><stop offset="0.91" stop-color="#23e800"/><stop offset="0.92" stop-color="#00e519"/><stop offset="0.93" stop-color="#00ff9c"/><stop offset="0.94" stop-color="#00ffc7"/><stop offset="0.95" stop-color="#00ffd6"/><stop offset="1" stop-color="#00ffd6"/></linearGradient><linearGradient id="g113" x1="0" y1="0" x2="0" y2="1"><stop offset="0" stop-color="#b8ff00"/><stop offset="0.46" stop-color="#b0ff00"/><stop offset="0.55" stop-color="#9dff00"/><stop offset="0.65" stop-color="#4cf000"/><stop offset="0.9" stop-color="#43ee00"/><stop offset="0.91" stop-color="#1de600"/><stop offset="0.92" stop-color="#00e61d"/><stop offset="0.93" stop-color="#00ff9d"/><stop offset="0.94" stop-color="#00ffc7"/><stop offset="0.95" stop-color="#00ffd6"/><stop offset="1" stop-color="#00ffd6"/></linearGradient><linearGradient id="g114" x1="0" y1="0" x2="0" y2="1"><stop offset="0" stop-color="#b2ff00"/><stop offset="0.46" stop-color="#abff00"/><stop offset="0.55" stop-color="#97ff00"/><stop offset="0.65" stop-color="#46ef00"/><stop offset="0.9" stop-color="#3ded00"/><stop offset="0.91" stop-color="#18e500"/><stop offset="0.92" stop-color="#00e722"/><stop offset="0.93" stop-color="#00ff9e"/><stop offset="0.94" stop-color="#00ffc8"/><stop offset="0.95" stop-color="#00ffd6"/><stop offset="1" stop-color="#00ffd6"/></linearGradient><linearGradient id="g115" x1="0" y1="0" x2="0" y2="1"><stop offset="0" stop-color="#b5ff00"/><stop offset="0.46" stop-color="#aeff00"/><stop offset="0.55" stop-color="#9aff00"/><stop offset="0.65" stop-color="#47ef00"/><stop offset="0.9" stop-color="#3eed00"/><stop offset="0.91" stop-color="#19e500"/><stop offset="0.92" stop-color="#00e720"/><stop offset="0.93" stop-color="#00ff9e"/><stop offset="0.94" stop-color="#00ffc8"/><stop offset="0.95" stop-color="#00ffd6"/><stop offset="1" stop-color="#00ffd6"/></linearGradient><linearGradient id="g116" x1="0" y1="0" x2="0" y2="1"><stop offset="0" stop-color="#ddff00"/><stop offset="0.45" stop-color="#d6ff00"/><stop offset="0.54" stop-color="#bfff00"/><stop offset="0.64" stop-color="#51f100"/><stop offset="0.8" stop-color="#49f000"/><stop offset="0.9" stop-color="#41ee00"/><stop offset="0.91" stop-color="#1ce600"/><stop offset="0.92" stop-color="#00e61e"/><stop offset="0.93" stop-color="#00ff9d"/><stop offset="0.94" stop-color="#00ffc8"/><stop offset="0.95" stop-color="#00ffd6"/><stop offset="1" stop-color="#00ffd6"/></linearGradient><linearGradient id="g117" x1="0" y1="0" x2="0" y2="1"><stop offset="0" stop-color="#fff800"/><stop offset="0.46" stop-color="#f9ff00"/><stop offset="0.54" stop-color="#e0ff00"/><stop offset="0.64" stop-color="#56f300"/><stop offset="0.7" stop-color="#4cf000"/><stop offset="0.9" stop-color="#45ef00"/><stop offset="0.91" stop-color="#1fe700"/><stop offset="0.92" stop-color="#00e61c"/><stop offset="0.93" stop-color="#00ff9d"/><stop offset="0.94" stop-color="#00ffc7"/><stop offset="0.95" stop-color="#00ffd6"/><stop offset="1" stop-color="#00ffd6"/></linearGradient><linearGradient id="g118" x1="0" y1="0" x2="0" y2="1"><stop offset="0" stop-color="#ffd100"/><stop offset="0.43" stop-color="#ffd700"/><stop offset="0.54" stop-color="#fffd00"/><stop offset="0.59" stop-color="#baff00"/><stop offset="0.64" stop-color="#5ff400"/><stop offset="0.68" stop-color="#53f200"/><stop offset="0.89" stop-color="#53f200"/><stop offset="0.9" stop-color="#4bf000"/><stop offset="0.91" stop-color="#24e800"/><stop offset="0.92" stop-color="#00e518"/><stop offset="0.93" stop-color="#00ff9b"/><stop offset="0.94" stop-color="#00ffc7"/><stop offset="0.95" stop-color="#00ffd6"/><stop offset="1" stop-color="#00ffd6"/></linearGradient><linearGradient id="g119" x1="0" y1="0" x2="0" y2="1"><stop offset="0" stop-color="#ffb500"/><stop offset="0.43" stop-color="#ffba00"/><stop offset="0.54" stop-color="#ffe400"/><stop offset="0.56" stop-color="#fffe00"/><stop offset="0.64" stop-color="#6af700"/><stop offset="0.67" stop-color="#5cf400"/><stop offset="0.89" stop-color="#5cf400"/><stop offset="0.9" stop-color="#55f200"/><stop offset="0.91" stop-color="#2dea00"/><stop offset="0.92" stop-color="#00e412"/><stop offset="0.93" stop-color="#00ff9a"/><stop offset="0.94" stop-color="#00ffc7"/><stop offset="0.95" stop-color="#00ffd6"/><stop offset="1" stop-color="#00ffd6"/></linearGradient><linearGradient id="g120" x1="0" y1="0" x2="0" y2="1"><stop offset="0" stop-color="#ffcc00"/><stop offset="0.44" stop-color="#ffd400"/><stop offset="0.54" stop-color="#fff500"/><stop offset="0.56" stop-color="#f3ff00"/><stop offset="0.64" stop-color="#72f900"/><stop offset="0.68" stop-color="#66f600"/><stop offset="0.89" stop-color="#66f600"/><stop offset="0.9" stop-color="#5ff400"/><stop offset="0.92" stop-color="#00e20b"/><stop offset="0.93" stop-color="#00ff98"/><stop offset="0.94" stop-color="#00ffc6"/><stop offset="0.95" stop-color="#00ffd6"/><stop offset="1" stop-color="#00ffd6"/></linearGradient><linearGradient id="g121" x1="0" y1="0" x2="0" y2="1"><stop offset="0" stop-color="#ffd200"/><stop offset="0.44" stop-color="#ffd900"/><stop offset="0.54" stop-color="#fff700"/><stop offset="0.56" stop-color="#f3ff00"/><stop offset="0.64" stop-color="#80fb00"/><stop offset="0.69" stop-color="#75f900"/><stop offset="0.89" stop-color="#75f900"/><stop offset="0.9" stop-color="#6df800"/><stop offset="0.91" stop-color="#42ee00"/><stop offset="0.92" stop-color="#00e002"/><stop offset="0.93" stop-color="#00fe95"/><stop offset="0.94" stop-color="#00ffc5"/><stop offset="0.95" stop-color="#00ffd6"/><stop offset="1" stop-color="#00ffd6"/></linearGradient><linearGradient id="g122" x1="0" y1="0" x2="0" y2="1"><stop offset="0" stop-color="#ffc600"/><stop offset="0.44" stop-color="#ffcc00"/><stop offset="0.54" stop-color="#ffe600"/><stop offset="0.57" stop-color="#fcff00"/><stop offset="0.64" stop-color="#a4ff00"/><stop offset="0.79" stop-color="#9cff00"/><stop offset="0.89" stop-color="#9cff00"/><stop offset="0.9" stop-color="#94ff00"/><stop offset="0.91" stop-color="#64f500"/><stop offset="0.92" stop-color="#18e500"/><stop offset="0.93" stop-color="#00ed3d"/><stop offset="0.93" stop-color="#00fd8d"/><stop offset="0.94" stop-color="#00ffc3"/><stop offset="0.95" stop-color="#00ffd6"/><stop offset="1" stop-color="#00ffd6"/></linearGradient><linearGradient id="g123" x1="0" y1="0" x2="0" y2="1"><stop offset="0" stop-color="#ffa400"/><stop offset="0.44" stop-color="#ffaa00"/><stop offset="0.54" stop-color="#ffc400"/><stop offset="0.59" stop-color="#fcff00"/><stop offset="0.65" stop-color="#c3ff00"/><stop offset="0.89" stop-color="#c0ff00"/><stop offset="0.9" stop-color="#b7ff00"/><stop offset="0.91" stop-color="#86fd00"/><stop offset="0.92" stop-color="#32eb00"/><stop offset="0.93" stop-color="#00e92d"/><stop offset="0.93" stop-color="#00fb84"/><stop offset="0.94" stop-color="#00ffc1"/><stop offset="0.95" stop-color="#00ffd6"/><stop offset="1" stop-color="#00ffd6"/></linearGradient><linearGradient id="g124" x1="0" y1="0" x2="0" y2="1"><stop offset="0" stop-color="#ff7d00"/><stop offset="0.44" stop-color="#ff8300"/><stop offset="0.54" stop-color="#ff9d00"/><stop offset="0.62" stop-color="#feff00"/><stop offset="0.65" stop-color="#e5ff00"/><stop offset="0.89" stop-color="#e5ff00"/><stop offset="0.9" stop-color="#dbff00"/><stop offset="0.91" stop-color="#a5ff00"/><stop offset="0.92" stop-color="#4cf000"/><stop offset="0.93" stop-color="#00e61d"/><stop offset="0.93" stop-color="#00f97c"/><stop offset="0.94" stop-color="#00ffc0"/><stop offset="0.95" stop-color="#00ffd6"/><stop offset="1" stop-color="#00ffd6"/></linearGradient><linearGradient id="g125" x1="0" y1="0" x2="0" y2="1"><stop offset="0" stop-color="#ff8000"/><stop offset="0.44" stop-color="#ff8600"/><stop offset="0.54" stop-color="#ffa300"/><stop offset="0.61" stop-color="#fcff00"/><stop offset="0.65" stop-color="#d5ff00"/><stop offset="0.89" stop-color="#d5ff00"/><stop offset="0.9" stop-color="#cbff00"/><stop offset="0.91" stop-color="#98ff00"/><stop offset="0.92" stop-color="#40ee00"/><stop offset="0.93" stop-color="#00e724"/><stop offset="0.93" stop-color="#00fa80"/><stop offset="0.94" stop-color="#00ffc0"/><stop offset="0.95" stop-color="#00ffd6"/><stop offset="1" stop-color="#00ffd6"/></linearGradient><linearGradient id="g126" x1="0" y1="0" x2="0" y2="1"><stop offset="0" stop-color="#ff9400"/><stop offset="0.44" stop-color="#ff9b00"/><stop offset="0.54" stop-color="#ffbb00"/><stop offset="0.59" stop-color="#fdff00"/><stop offset="0.64" stop-color="#c3ff00"/><stop offset="0.72" stop-color="#baff00"/><stop offset="0.89" stop-color="#baff00"/><stop offset="0.9" stop-color="#b1ff00"/><stop offset="0.91" stop-color="#80fc00"/><stop offset="0.92" stop-color="#2dea00"/><stop offset="0.93" stop-color="#00ea30"/><stop offset="0.93" stop-color="#00fb86"/><stop offset="0.94" stop-color="#00ffc2"/><stop offset="0.95" stop-color="#00ffd6"/><stop offset="1" stop-color="#00ffd6"/></linearGradient><linearGradient id="g127" x1="0" y1="0" x2="0" y2="1"><stop offset="0" stop-color="#ffce00"/><stop offset="0.45" stop-color="#ffd600"/><stop offset="0.54" stop-color="#ffed00"/><stop offset="0.57" stop-color="#f7ff00"/><stop offset="0.64" stop-color="#a3ff00"/><stop offset="0.87" stop-color="#9bff00"/><stop offset="0.9" stop-color="#92ff00"/><stop offset="0.91" stop-color="#62f500"/><stop offset="0.92" stop-color="#17e500"/><stop offset="0.93" stop-color="#00ed3e"/><stop offset="0.93" stop-color="#00fd8d"/><stop offset="0.94" stop-color="#00ffc3"/><stop offset="0.95" stop-color="#00ffd6"/><stop offset="1" stop-color="#00ffd6"/></linearGradient><linearGradient id="g128" x1="0" y1="0" x2="0" y2="1"><stop offset="0" stop-color="#faff00"/><stop offset="0.44" stop-color="#f4ff00"/><stop offset="0.54" stop-color="#daff00"/><stop offset="0.64" stop-color="#66f600"/><stop offset="0.74" stop-color="#5df400"/><stop offset="0.89" stop-color="#5df400"/><stop offset="0.9" stop-color="#56f200"/><stop offset="0.91" stop-color="#2eea00"/><stop offset="0.92" stop-color="#00e311"/><stop offset="0.93" stop-color="#00ff99"/><stop offset="0.94" stop-color="#00ffc7"/><stop offset="0.95" stop-color="#00ffd6"/><stop offset="1" stop-color="#00ffd6"/></linearGradient><linearGradient id="g129" x1="0" y1="0" x2="0" y2="1"><stop offset="0" stop-color="#c8ff00"/><stop offset="0.44" stop-color="#c1ff00"/><stop offset="0.54" stop-color="#a6ff00"/><stop offset="0.64" stop-color="#28e900"/><stop offset="0.72" stop-color="#1fe700"/><stop offset="0.9" stop-color="#19e500"/><stop offset="0.91" stop-color="#00e107"/><stop offset="0.93" stop-color="#00ffa5"/><stop offset="0.94" stop-color="#00ffca"/><stop offset="0.96" stop-color="#00ffd6"/><stop offset="1" stop-color="#00ffd6"/></linearGradient><linearGradient id="g130" x1="0" y1="0" x2="0" y2="1"><stop offset="0" stop-color="#8afe00"/><stop offset="0.44" stop-color="#84fc00"/><stop offset="0.54" stop-color="#68f600"/><stop offset="0.62" stop-color="#01e000"/><stop offset="0.66" stop-color="#00e518"/><stop offset="0.9" stop-color="#00e61d"/><stop offset="0.92" stop-color="#00f35c"/><stop offset="0.93" stop-color="#00ffb0"/><stop offset="0.94" stop-color="#00ffcc"/><stop offset="0.97" stop-color="#00ffd6"/><stop offset="1" stop-color="#00ffd6"/></linearGradient><linearGradient id="g131" x1="0" y1="0" x2="0" y2="1"><stop offset="0" stop-color="#3ded00"/><stop offset="0.45" stop-color="#36ec00"/><stop offset="0.54" stop-color="#20e700"/><stop offset="0.58" stop-color="#00e002"/><stop offset="0.64" stop-color="#00ee42"/><stop offset="0.9" stop-color="#00f04d"/><stop offset="0.92" stop-color="#00f97c"/><stop offset="0.94" stop-color="#00ffcf"/><stop offset="1" stop-color="#00ffd6"/></linearGradient><linearGradient id="g132" x1="0" y1="0" x2="0" y2="1"><stop offset="0" stop-color="#00e103"/><stop offset="0.45" stop-color="#00e209"/><stop offset="0.55" stop-color="#00e722"/><stop offset="0.65" stop-color="#00f878"/><stop offset="0.9" stop-color="#00f97c"/><stop offset="0.94" stop-color="#00ffd1"/><stop offset="1" stop-color="#00ffd6"/></linearGradient><linearGradient id="g133" x1="0" y1="0" x2="0" y2="1"><stop offset="0" stop-color="#00eb34"/><stop offset="0.46" stop-color="#00ec3b"/><stop offset="0.55" stop-color="#00f051"/><stop offset="0.65" stop-color="#00ffa2"/><stop offset="0.9" stop-color="#00ffa5"/><stop offset="0.95" stop-color="#00ffd8"/><stop offset="1" stop-color="#00ffd8"/></linearGradient><linearGradient id="g134" x1="0" y1="0" x2="0" y2="1"><stop offset="0" stop-color="#00f463"/><stop offset="0.46" stop-color="#00f66b"/><stop offset="0.55" stop-color="#00fa7f"/><stop offset="0.65" stop-color="#00ffc8"/><stop offset="0.91" stop-color="#00ffce"/><stop offset="0.96" stop-color="#00ffe5"/><stop offset="1" stop-color="#00ffe5"/></linearGradient><linearGradient id="g135" x1="0" y1="0" x2="0" y2="1"><stop offset="0" stop-color="#00fe92"/><stop offset="0.46" stop-color="#00ff99"/><stop offset="0.55" stop-color="#00ffaa"/><stop offset="0.65" stop-color="#00ffee"/><stop offset="1" stop-color="#00fff2"/></linearGradient><linearGradient id="g136" x1="0" y1="0" x2="0" y2="1"><stop offset="0" stop-color="#00ffbb"/><stop offset="0.44" stop-color="#00ffc2"/><stop offset="0.58" stop-color="#00ffec"/><stop offset="0.63" stop-color="#00f4ff"/><stop offset="0.89" stop-color="#00ecff"/><stop offset="0.97" stop-color="#00ffff"/><stop offset="1" stop-color="#00ffff"/></linearGradient><linearGradient id="g137" x1="0" y1="0" x2="0" y2="1"><stop offset="0" stop-color="#00ffd1"/><stop offset="0.42" stop-color="#00ffd7"/><stop offset="0.47" stop-color="#00fcff"/><stop offset="0.52" stop-color="#00deff"/><stop offset="0.7" stop-color="#00c6ff"/><stop offset="0.91" stop-color="#00ccff"/><stop offset="0.95" stop-color="#00f0ff"/><stop offset="1" stop-color="#00f0ff"/></linearGradient><linearGradient id="g138" x1="0" y1="0" x2="0" y2="1"><stop offset="0" stop-color="#00ffe7"/><stop offset="0.42" stop-color="#00ffea"/><stop offset="0.45" stop-color="#00f6ff"/><stop offset="0.51" stop-color="#00b3ff"/><stop offset="0.9" stop-color="#00b1ff"/><stop offset="0.95" stop-color="#00e3ff"/><stop offset="1" stop-color="#00e3ff"/></linearGradient><linearGradient id="g139" x1="0" y1="0" x2="0" y2="1"><stop offset="0" stop-color="#00ffeb"/><stop offset="0.42" stop-color="#00ffee"/><stop offset="0.44" stop-color="#00fcff"/><stop offset="0.5" stop-color="#00b2ff"/><stop offset="0.6" stop-color="#00a9ff"/><stop offset="0.91" stop-color="#00b0ff"/><stop offset="0.95" stop-color="#00d7ff"/><stop offset="1" stop-color="#00d7ff"/></linearGradient><linearGradient id="g140" x1="0" y1="0" x2="0" y2="1"><stop offset="0" stop-color="#00ffeb"/><stop offset="0.42" stop-color="#00ffee"/><stop offset="0.44" stop-color="#00fbff"/><stop offset="0.5" stop-color="#00afff"/><stop offset="0.59" stop-color="#00a6ff"/><stop offset="0.91" stop-color="#00acff"/><stop offset="0.95" stop-color="#00caff"/><stop offset="1" stop-color="#00caff"/></linearGradient><linearGradient id="g141" x1="0" y1="0" x2="0" y2="1"><stop offset="0" stop-color="#00ffec"/><stop offset="0.42" stop-color="#00ffef"/><stop offset="0.44" stop-color="#00faff"/><stop offset="0.5" stop-color="#00afff"/><stop offset="0.59" stop-color="#00a6ff"/><stop offset="0.91" stop-color="#00aaff"/><stop offset="0.96" stop-color="#00bfff"/><stop offset="1" stop-color="#00bfff"/></linearGradient><linearGradient id="g142" x1="0" y1="0" x2="0" y2="1"><stop offset="0" stop-color="#00ffec"/><stop offset="0.42" stop-color="#00fff0"/><stop offset="0.44" stop-color="#00faff"/><stop offset="0.5" stop-color="#00afff"/><stop offset="0.59" stop-color="#00a6ff"/><stop offset="0.91" stop-color="#00aaff"/><stop offset="0.96" stop-color="#00beff"/><stop offset="1" stop-color="#00beff"/></linearGradient><linearGradient id="g143" x1="0" y1="0" x2="0" y2="1"><stop offset="0" stop-color="#00ffed"/><stop offset="0.42" stop-color="#00fff0"/><stop offset="0.44" stop-color="#00f9ff"/><stop offset="0.5" stop-color="#00afff"/><stop offset="0.6" stop-color="#00a6ff"/><stop offset="0.91" stop-color="#00aaff"/><stop offset="0.96" stop-color="#00beff"/><stop offset="1" stop-color="#00beff"/></linearGradient><linearGradient id="g144" x1="0" y1="0" x2="0" y2="1"><stop offset="0" stop-color="#00ffed"/><stop offset="0.42" stop-color="#00fff0"/><stop offset="0.44" stop-color="#00f9ff"/><stop offset="0.5" stop-color="#00afff"/><stop offset="0.6" stop-color="#00a6ff"/><stop offset="0.91" stop-color="#00aaff"/><stop offset="0.96" stop-color="#00bdff"/><stop offset="1" stop-color="#00bdff"/></linearGradient><linearGradient id="g145" x1="0" y1="0" x2="0" y2="1"><stop offset="0" stop-color="#00ffed"/><stop offset="0.42" stop-color="#00fff1"/><stop offset="0.44" stop-color="#00f9ff"/><stop offset="0.5" stop-color="#00afff"/><stop offset="0.6" stop-color="#00a6ff"/><stop offset="0.91" stop-color="#00aaff"/><stop offset="0.96" stop-color="#00bdff"/><stop offset="1" stop-color="#00bdff"/></linearGradient><linearGradient id="g146" x1="0" y1="0" x2="0" y2="1"><stop offset="0" stop-color="#00ffee"/><stop offset="0.42" stop-color="#00fff1"/><stop offset="0.44" stop-color="#00f8ff"/><stop offset="0.51" stop-color="#00a9ff"/><stop offset="0.91" stop-color="#00a9ff"/><stop offset="0.97" stop-color="#00bcff"/><stop offset="1" stop-color="#00bcff"/></linearGradient><linearGradient id="g147" x1="0" y1="0" x2="0" y2="1"><stop offset="0" stop-color="#00ffef"/><stop offset="0.42" stop-color="#00fff2"/><stop offset="0.44" stop-color="#00f8ff"/><stop offset="0.51" stop-color="#00a9ff"/><stop offset="0.91" stop-color="#00a9ff"/><stop offset="0.97" stop-color="#00bbff"/><stop offset="1" stop-color="#00bbff"/></linearGradient><linearGradient id="g148" x1="0" y1="0" x2="0" y2="1"><stop offset="0" stop-color="#00ffef"/><stop offset="0.42" stop-color="#00fff2"/><stop offset="0.44" stop-color="#00f7ff"/><stop offset="0.51" stop-color="#00a9ff"/><stop offset="0.92" stop-color="#00adff"/><stop offset="0.98" stop-color="#00bbff"/><stop offset="1" stop-color="#00bbff"/></linearGradient><linearGradient id="g149" x1="0" y1="0" x2="0" y2="1"><stop offset="0" stop-color="#00ffef"/><stop offset="0.42" stop-color="#00fff3"/><stop offset="0.44" stop-color="#00f7ff"/><stop offset="0.51" stop-color="#00a9ff"/><stop offset="0.92" stop-color="#00adff"/><stop offset="0.98" stop-color="#00baff"/><stop offset="1" stop-color="#00baff"/></linearGradient><linearGradient id="g150" x1="0" y1="0" x2="0" y2="1"><stop offset="0" stop-color="#00fff0"/><stop offset="0.42" stop-color="#00fff3"/><stop offset="0.44" stop-color="#00f6ff"/><stop offset="0.51" stop-color="#00a9ff"/><stop offset="0.92" stop-color="#00adff"/><stop offset="0.98" stop-color="#00b9ff"/><stop offset="1" stop-color="#00b9ff"/></linearGradient><linearGradient id="g151" x1="0" y1="0" x2="0" y2="1"><stop offset="0" stop-color="#00fff1"/><stop offset="0.42" stop-color="#00fff4"/><stop offset="0.44" stop-color="#00f6ff"/><stop offset="0.51" stop-color="#00a9ff"/><stop offset="0.92" stop-color="#00adff"/><stop offset="0.99" stop-color="#00b8ff"/><stop offset="1" stop-color="#00b8ff"/></linearGradient><linearGradient id="g152" x1="0" y1="0" x2="0" y2="1"><stop offset="0" stop-color="#00fff1"/><stop offset="0.42" stop-color="#00fff4"/><stop offset="0.44" stop-color="#00f5ff"/><stop offset="0.51" stop-color="#00a9ff"/><stop offset="0.92" stop-color="#00acff"/><stop offset="0.99" stop-color="#00b8ff"/><stop offset="1" stop-color="#00b8ff"/></linearGradient><linearGradient id="g153" x1="0" y1="0" x2="0" y2="1"><stop offset="0" stop-color="#00fff1"/><stop offset="0.42" stop-color="#00fff4"/><stop offset="0.44" stop-color="#00f5ff"/><stop offset="0.51" stop-color="#00a9ff"/><stop offset="0.92" stop-color="#00acff"/><stop offset="1" stop-color="#00b7ff"/></linearGradient><linearGradient id="g154" x1="0" y1="0" x2="0" y2="1"><stop offset="0" stop-color="#00fff2"/><stop offset="0.42" stop-color="#00fff5"/><stop offset="0.44" stop-color="#00f5ff"/><stop offset="0.51" stop-color="#00a9ff"/><stop offset="0.92" stop-color="#00acff"/><stop offset="1" stop-color="#00b7ff"/></linearGradient><linearGradient id="g155" x1="0" y1="0" x2="0" y2="1"><stop offset="0" stop-color="#00fff2"/><stop offset="0.42" stop-color="#00fff5"/><stop offset="0.44" stop-color="#00f4ff"/><stop offset="0.51" stop-color="#00a9ff"/><stop offset="0.92" stop-color="#00acff"/><stop offset="1" stop-color="#00b6ff"/></linearGradient><linearGradient id="g156" x1="0" y1="0" x2="0" y2="1"><stop offset="0" stop-color="#00fff3"/><stop offset="0.42" stop-color="#00fff6"/><stop offset="0.44" stop-color="#00f4ff"/><stop offset="0.51" stop-color="#00a9ff"/><stop offset="0.92" stop-color="#00acff"/><stop offset="1" stop-color="#00b6ff"/></linearGradient><linearGradient id="g157" x1="0" y1="0" x2="0" y2="1"><stop offset="0" stop-color="#00fff3"/><stop offset="0.42" stop-color="#00fff6"/><stop offset="0.44" stop-color="#00f4ff"/><stop offset="0.51" stop-color="#00a9ff"/><stop offset="0.92" stop-color="#00abff"/><stop offset="1" stop-color="#00b5ff"/></linearGradient><linearGradient id="g158" x1="0" y1="0" x2="0" y2="1"><stop offset="0" stop-color="#00fff3"/><stop offset="0.42" stop-color="#00fff6"/><stop offset="0.44" stop-color="#00f3ff"/><stop offset="0.51" stop-color="#00a9ff"/><stop offset="0.92" stop-color="#00abff"/><stop offset="1" stop-color="#00b5ff"/></linearGradient><linearGradient id="g159" x1="0" y1="0" x2="0" y2="1"><stop offset="0" stop-color="#00fff4"/><stop offset="0.42" stop-color="#00fff7"/><stop offset="0.44" stop-color="#00f3ff"/><stop offset="0.51" stop-color="#00a9ff"/><stop offset="0.92" stop-color="#00abff"/><stop offset="1" stop-color="#00b4ff"/></linearGradient><linearGradient id="g160" x1="0" y1="0" x2="0" y2="1"><stop offset="0" stop-color="#00fff5"/><stop offset="0.42" stop-color="#00fff8"/><stop offset="0.44" stop-color="#00f2ff"/><stop offset="0.51" stop-color="#00a9ff"/><stop offset="0.92" stop-color="#00abff"/><stop offset="1" stop-color="#00b3ff"/></linearGradient><linearGradient id="cb160" x1="0" y1="0" x2="0" y2="1"><stop offset="0" stop-color="#8a8a8a"/><stop offset="0.02" stop-color="#8a8a8a"/><stop offset="0.02" stop-color="#ff0000"/><stop offset="0.15" stop-color="#ff8000"/><stop offset="0.27" stop-color="#ffff00"/><stop offset="0.38" stop-color="#90ff00"/><stop offset="0.51" stop-color="#00e000"/><stop offset="0.65" stop-color="#00ff98"/><stop offset="0.74" stop-color="#00ffff"/><stop offset="0.84" stop-color="#0080ff"/><stop offset="0.96" stop-color="#0000ff"/><stop offset="1" stop-color="#000040"/></linearGradient><clipPath id="hc162"><rect x="212" y="322" width="121.4" height="116.6"/></clipPath><linearGradient id="g163" x1="0" y1="0" x2="0" y2="1"><stop offset="0" stop-color="#00c0ff"/><stop offset="0.47" stop-color="#00bdff"/><stop offset="0.54" stop-color="#0062ff"/><stop offset="0.92" stop-color="#006dff"/><stop offset="0.94" stop-color="#00aaff"/><stop offset="0.99" stop-color="#00b3ff"/><stop offset="1" stop-color="#00b3ff"/></linearGradient><linearGradient id="g164" x1="0" y1="0" x2="0" y2="1"><stop offset="0" stop-color="#00c1ff"/><stop offset="0.47" stop-color="#00beff"/><stop offset="0.54" stop-color="#0063ff"/><stop offset="0.91" stop-color="#0065ff"/><stop offset="0.93" stop-color="#007eff"/><stop offset="0.94" stop-color="#00abff"/><stop offset="0.99" stop-color="#00b3ff"/><stop offset="1" stop-color="#00b3ff"/></linearGradient><linearGradient id="g165" x1="0" y1="0" x2="0" y2="1"><stop offset="0" stop-color="#00c7ff"/><stop offset="0.47" stop-color="#00c4ff"/><stop offset="0.53" stop-color="#006aff"/><stop offset="0.59" stop-color="#0061ff"/><stop offset="0.91" stop-color="#0066ff"/><stop offset="0.93" stop-color="#0080ff"/><stop offset="0.94" stop-color="#00aeff"/><stop offset="0.98" stop-color="#00b7ff"/><stop offset="1" stop-color="#00b7ff"/></linearGradient><linearGradient id="g166" x1="0" y1="0" x2="0" y2="1"><stop offset="0" stop-color="#00cfff"/><stop offset="0.47" stop-color="#00cbff"/><stop offset="0.53" stop-color="#006cff"/><stop offset="0.58" stop-color="#0062ff"/><stop offset="0.91" stop-color="#0067ff"/><stop offset="0.93" stop-color="#0081ff"/><stop offset="0.94" stop-color="#00b1ff"/><stop offset="0.98" stop-color="#00bbff"/><stop offset="1" stop-color="#00bbff"/></linearGradient><linearGradient id="g167" x1="0" y1="0" x2="0" y2="1"><stop offset="0" stop-color="#00ddff"/><stop offset="0.47" stop-color="#00d9ff"/><stop offset="0.51" stop-color="#009dff"/><stop offset="0.53" stop-color="#006eff"/><stop offset="0.57" stop-color="#0063ff"/><stop offset="0.91" stop-color="#0068ff"/><stop offset="0.93" stop-color="#0083ff"/><stop offset="0.94" stop-color="#00b5ff"/><stop offset="0.97" stop-color="#00beff"/><stop offset="1" stop-color="#00beff"/></linearGradient><linearGradient id="g168" x1="0" y1="0" x2="0" y2="1"><stop offset="0" stop-color="#00ebff"/><stop offset="0.47" stop-color="#00e7ff"/><stop offset="0.51" stop-color="#00a5ff"/><stop offset="0.53" stop-color="#0070ff"/><stop offset="0.56" stop-color="#0063ff"/><stop offset="0.91" stop-color="#0069ff"/><stop offset="0.93" stop-color="#0085ff"/><stop offset="0.94" stop-color="#00b8ff"/><stop offset="0.97" stop-color="#00c2ff"/><stop offset="1" stop-color="#00c2ff"/></linearGradient><linearGradient id="g169" x1="0" y1="0" x2="0" y2="1"><stop offset="0" stop-color="#00efff"/><stop offset="0.47" stop-color="#00ebff"/><stop offset="0.51" stop-color="#00a7ff"/><stop offset="0.53" stop-color="#0071ff"/><stop offset="0.56" stop-color="#0064ff"/><stop offset="0.91" stop-color="#0069ff"/><stop offset="0.93" stop-color="#0087ff"/><stop offset="0.94" stop-color="#00bcff"/><stop offset="0.97" stop-color="#00c6ff"/><stop offset="1" stop-color="#00c6ff"/></linearGradient><linearGradient id="g170" x1="0" y1="0" x2="0" y2="1"><stop offset="0" stop-color="#00e9ff"/><stop offset="0.47" stop-color="#00e5ff"/><stop offset="0.51" stop-color="#00a4ff"/><stop offset="0.53" stop-color="#0071ff"/><stop offset="0.56" stop-color="#0065ff"/><stop offset="0.91" stop-color="#006aff"/><stop offset="0.93" stop-color="#0089ff"/><stop offset="0.94" stop-color="#00bfff"/><stop offset="0.97" stop-color="#00c9ff"/><stop offset="1" stop-color="#00c9ff"/></linearGradient><linearGradient id="g171" x1="0" y1="0" x2="0" y2="1"><stop offset="0" stop-color="#00d9ff"/><stop offset="0.47" stop-color="#00d6ff"/><stop offset="0.51" stop-color="#009dff"/><stop offset="0.53" stop-color="#0070ff"/><stop offset="0.58" stop-color="#0066ff"/><stop offset="0.91" stop-color="#006bff"/><stop offset="0.92" stop-color="#0074ff"/><stop offset="0.94" stop-color="#00c2ff"/><stop offset="0.96" stop-color="#00cdff"/><stop offset="1" stop-color="#00cdff"/></linearGradient><linearGradient id="g172" x1="0" y1="0" x2="0" y2="1"><stop offset="0" stop-color="#00c0ff"/><stop offset="0.47" stop-color="#00bdff"/><stop offset="0.54" stop-color="#0069ff"/><stop offset="0.91" stop-color="#006cff"/><stop offset="0.92" stop-color="#0075ff"/><stop offset="0.94" stop-color="#00c6ff"/><stop offset="0.96" stop-color="#00d0ff"/><stop offset="1" stop-color="#00d0ff"/></linearGradient><linearGradient id="g173" x1="0" y1="0" x2="0" y2="1"><stop offset="0" stop-color="#00c0ff"/><stop offset="0.47" stop-color="#00bdff"/><stop offset="0.54" stop-color="#006aff"/><stop offset="0.91" stop-color="#006dff"/><stop offset="0.92" stop-color="#0076ff"/><stop offset="0.94" stop-color="#00c9ff"/><stop offset="0.96" stop-color="#00d4ff"/><stop offset="1" stop-color="#00d4ff"/></linearGradient><linearGradient id="g174" x1="0" y1="0" x2="0" y2="1"><stop offset="0" stop-color="#00d9ff"/><stop offset="0.47" stop-color="#00d6ff"/><stop offset="0.51" stop-color="#009eff"/><stop offset="0.53" stop-color="#0072ff"/><stop offset="0.58" stop-color="#0068ff"/><stop offset="0.91" stop-color="#006dff"/><stop offset="0.92" stop-color="#0077ff"/><stop offset="0.94" stop-color="#00ccff"/><stop offset="0.96" stop-color="#00d8ff"/><stop offset="1" stop-color="#00d8ff"/></linearGradient><linearGradient id="g175" x1="0" y1="0" x2="0" y2="1"><stop offset="0" stop-color="#00ecff"/><stop offset="0.47" stop-color="#00e8ff"/><stop offset="0.51" stop-color="#00a8ff"/><stop offset="0.53" stop-color="#0075ff"/><stop offset="0.56" stop-color="#0069ff"/><stop offset="0.91" stop-color="#006eff"/><stop offset="0.92" stop-color="#0078ff"/><stop offset="0.94" stop-color="#00d0ff"/><stop offset="0.96" stop-color="#00dbff"/><stop offset="1" stop-color="#00dbff"/></linearGradient><linearGradient id="g176" x1="0" y1="0" x2="0" y2="1"><stop offset="0" stop-color="#00f9ff"/><stop offset="0.47" stop-color="#00f5ff"/><stop offset="0.5" stop-color="#00c5ff"/><stop offset="0.53" stop-color="#0077ff"/><stop offset="0.56" stop-color="#006aff"/><stop offset="0.91" stop-color="#006fff"/><stop offset="0.92" stop-color="#0079ff"/><stop offset="0.94" stop-color="#00d3ff"/><stop offset="0.96" stop-color="#00dfff"/><stop offset="1" stop-color="#00dfff"/></linearGradient><linearGradient id="g177" x1="0" y1="0" x2="0" y2="1"><stop offset="0" stop-color="#00ffed"/><stop offset="0.47" stop-color="#00fff1"/><stop offset="0.48" stop-color="#00fffc"/><stop offset="0.51" stop-color="#00beff"/><stop offset="0.53" stop-color="#007aff"/><stop offset="0.56" stop-color="#006bff"/><stop offset="0.91" stop-color="#0070ff"/><stop offset="0.92" stop-color="#007aff"/><stop offset="0.94" stop-color="#00d6ff"/><stop offset="0.96" stop-color="#00e3ff"/><stop offset="1" stop-color="#00e3ff"/></linearGradient><linearGradient id="g178" x1="0" y1="0" x2="0" y2="1"><stop offset="0" stop-color="#00ffc9"/><stop offset="0.47" stop-color="#00ffcc"/><stop offset="0.51" stop-color="#00fcff"/><stop offset="0.54" stop-color="#00baff"/><stop offset="0.71" stop-color="#00aeff"/><stop offset="0.92" stop-color="#00b6ff"/><stop offset="0.95" stop-color="#00e9ff"/><stop offset="1" stop-color="#00e9ff"/></linearGradient><linearGradient id="g179" x1="0" y1="0" x2="0" y2="1"><stop offset="0" stop-color="#00ff98"/><stop offset="0.48" stop-color="#00ff9d"/><stop offset="0.55" stop-color="#00ffc7"/><stop offset="0.65" stop-color="#00fffb"/><stop offset="1" stop-color="#00ffff"/></linearGradient><linearGradient id="g180" x1="0" y1="0" x2="0" y2="1"><stop offset="0" stop-color="#00f257"/><stop offset="0.55" stop-color="#00f35e"/><stop offset="0.6" stop-color="#00fa81"/><stop offset="0.65" stop-color="#00ffa2"/><stop offset="0.91" stop-color="#00ffa2"/><stop offset="0.93" stop-color="#00ffbd"/><stop offset="0.94" stop-color="#00ffe6"/><stop offset="1" stop-color="#00ffed"/></linearGradient><linearGradient id="g181" x1="0" y1="0" x2="0" y2="1"><stop offset="0" stop-color="#00e30e"/><stop offset="0.56" stop-color="#00e414"/><stop offset="0.65" stop-color="#00ee46"/><stop offset="0.91" stop-color="#00ee46"/><stop offset="0.92" stop-color="#00f156"/><stop offset="0.94" stop-color="#00ffcd"/><stop offset="0.95" stop-color="#00ffdc"/><stop offset="1" stop-color="#00ffdc"/></linearGradient><linearGradient id="g182" x1="0" y1="0" x2="0" y2="1"><stop offset="0" stop-color="#45ef00"/><stop offset="0.56" stop-color="#3fee00"/><stop offset="0.65" stop-color="#0ee300"/><stop offset="0.91" stop-color="#0ee300"/><stop offset="0.92" stop-color="#00e209"/><stop offset="0.94" stop-color="#00ffb4"/><stop offset="0.95" stop-color="#00ffca"/><stop offset="1" stop-color="#00ffca"/></linearGradient><linearGradient id="g183" x1="0" y1="0" x2="0" y2="1"><stop offset="0" stop-color="#9cff00"/><stop offset="0.56" stop-color="#96ff00"/><stop offset="0.65" stop-color="#61f500"/><stop offset="0.91" stop-color="#61f500"/><stop offset="0.92" stop-color="#42ee00"/><stop offset="0.93" stop-color="#00e207"/><stop offset="0.94" stop-color="#00f35d"/><stop offset="0.94" stop-color="#00ffa5"/><stop offset="0.95" stop-color="#00ffc2"/><stop offset="1" stop-color="#00ffc2"/></linearGradient><linearGradient id="g184" x1="0" y1="0" x2="0" y2="1"><stop offset="0" stop-color="#f1ff00"/><stop offset="0.56" stop-color="#ebff00"/><stop offset="0.65" stop-color="#aeff00"/><stop offset="0.79" stop-color="#91ff00"/><stop offset="0.91" stop-color="#91ff00"/><stop offset="0.92" stop-color="#6df800"/><stop offset="0.93" stop-color="#18e500"/><stop offset="0.94" stop-color="#00f04d"/><stop offset="0.94" stop-color="#00ffa1"/><stop offset="0.95" stop-color="#00ffc2"/><stop offset="1" stop-color="#00ffc2"/></linearGradient><linearGradient id="g185" x1="0" y1="0" x2="0" y2="1"><stop offset="0" stop-color="#ffaa00"/><stop offset="0.52" stop-color="#ffb100"/><stop offset="0.57" stop-color="#ffc100"/><stop offset="0.63" stop-color="#faff00"/><stop offset="0.7" stop-color="#d5ff00"/><stop offset="0.76" stop-color="#b7ff00"/><stop offset="0.91" stop-color="#b7ff00"/><stop offset="0.92" stop-color="#92ff00"/><stop offset="0.93" stop-color="#32eb00"/><stop offset="0.94" stop-color="#00ed3f"/><stop offset="0.94" stop-color="#00ff9d"/><stop offset="0.95" stop-color="#00ffc3"/><stop offset="1" stop-color="#00ffc3"/></linearGradient><linearGradient id="g186" x1="0" y1="0" x2="0" y2="1"><stop offset="0" stop-color="#ff4f00"/><stop offset="0.51" stop-color="#ff5600"/><stop offset="0.56" stop-color="#ff6600"/><stop offset="0.63" stop-color="#ffd200"/><stop offset="0.69" stop-color="#fff400"/><stop offset="0.73" stop-color="#dfff00"/><stop offset="0.77" stop-color="#ceff00"/><stop offset="0.91" stop-color="#ceff00"/><stop offset="0.92" stop-color="#a7ff00"/><stop offset="0.93" stop-color="#42ee00"/><stop offset="0.94" stop-color="#00eb37"/><stop offset="0.94" stop-color="#00ff9c"/><stop offset="0.95" stop-color="#00ffc4"/><stop offset="1" stop-color="#00ffc4"/></linearGradient><linearGradient id="g187" x1="0" y1="0" x2="0" y2="1"><stop offset="0" stop-color="#ff4f00"/><stop offset="0.51" stop-color="#ff5600"/><stop offset="0.56" stop-color="#ff6700"/><stop offset="0.63" stop-color="#ffd800"/><stop offset="0.69" stop-color="#f8ff00"/><stop offset="0.75" stop-color="#a3ff00"/><stop offset="0.91" stop-color="#9cff00"/><stop offset="0.92" stop-color="#78fa00"/><stop offset="0.93" stop-color="#1ee700"/><stop offset="0.94" stop-color="#00ef4b"/><stop offset="0.94" stop-color="#00ffa2"/><stop offset="0.95" stop-color="#00ffc4"/><stop offset="1" stop-color="#00ffc4"/></linearGradient><linearGradient id="g188" x1="0" y1="0" x2="0" y2="1"><stop offset="0" stop-color="#ffa200"/><stop offset="0.51" stop-color="#ffa800"/><stop offset="0.56" stop-color="#ffb700"/><stop offset="0.61" stop-color="#feff00"/><stop offset="0.65" stop-color="#e1ff00"/><stop offset="0.69" stop-color="#c1ff00"/><stop offset="0.75" stop-color="#79fa00"/><stop offset="0.91" stop-color="#73f900"/><stop offset="0.92" stop-color="#52f200"/><stop offset="0.93" stop-color="#03e100"/><stop offset="0.94" stop-color="#00ffa6"/><stop offset="0.95" stop-color="#00ffc5"/><stop offset="1" stop-color="#00ffc5"/></linearGradient><linearGradient id="g189" x1="0" y1="0" x2="0" y2="1"><stop offset="0" stop-color="#ffe600"/><stop offset="0.56" stop-color="#ffe900"/><stop offset="0.6" stop-color="#f4ff00"/><stop offset="0.64" stop-color="#ceff00"/><stop offset="0.7" stop-color="#b3ff00"/><stop offset="0.76" stop-color="#8cfe00"/><stop offset="0.91" stop-color="#8cfe00"/><stop offset="0.92" stop-color="#68f600"/><stop offset="0.93" stop-color="#13e400"/><stop offset="0.94" stop-color="#00f152"/><stop offset="0.94" stop-color="#00ffa4"/><stop offset="0.95" stop-color="#00ffc6"/><stop offset="1" stop-color="#00ffc6"/></linearGradient><linearGradient id="g190" x1="0" y1="0" x2="0" y2="1"><stop offset="0" stop-color="#ffc200"/><stop offset="0.52" stop-color="#ffc900"/><stop offset="0.57" stop-color="#ffd800"/><stop offset="0.61" stop-color="#f6ff00"/><stop offset="0.66" stop-color="#e0ff00"/><stop offset="0.76" stop-color="#a3ff00"/><stop offset="0.91" stop-color="#a3ff00"/><stop offset="0.92" stop-color="#7efb00"/><stop offset="0.93" stop-color="#23e700"/><stop offset="0.94" stop-color="#00ef49"/><stop offset="0.94" stop-color="#00ffa3"/><stop offset="0.95" stop-color="#00ffc6"/><stop offset="1" stop-color="#00ffc6"/></linearGradient><linearGradient id="g191" x1="0" y1="0" x2="0" y2="1"><stop offset="0" stop-color="#ffa200"/><stop offset="0.51" stop-color="#ffa800"/><stop offset="0.56" stop-color="#ffb700"/><stop offset="0.61" stop-color="#feff00"/><stop offset="0.65" stop-color="#e1ff00"/><stop offset="0.7" stop-color="#c0ff00"/><stop offset="0.76" stop-color="#9fff00"/><stop offset="0.91" stop-color="#9fff00"/><stop offset="0.92" stop-color="#7bfa00"/><stop offset="0.93" stop-color="#20e700"/><stop offset="0.94" stop-color="#00ef4b"/><stop offset="0.94" stop-color="#00ffa4"/><stop offset="0.95" stop-color="#00ffc7"/><stop offset="1" stop-color="#00ffc7"/></linearGradient><linearGradient id="g192" x1="0" y1="0" x2="0" y2="1"><stop offset="0" stop-color="#ff8500"/><stop offset="0.49" stop-color="#ff8a00"/><stop offset="0.56" stop-color="#ffa600"/><stop offset="0.6" stop-color="#fff800"/><stop offset="0.64" stop-color="#d0ff00"/><stop offset="0.7" stop-color="#afff00"/><stop offset="0.76" stop-color="#81fc00"/><stop offset="0.91" stop-color="#7ffb00"/><stop offset="0.92" stop-color="#5df400"/><stop offset="0.93" stop-color="#0ae200"/><stop offset="0.94" stop-color="#00ffa8"/><stop offset="0.95" stop-color="#00ffc8"/><stop offset="1" stop-color="#00ffc8"/></linearGradient><linearGradient id="g193" x1="0" y1="0" x2="0" y2="1"><stop offset="0" stop-color="#ffa200"/><stop offset="0.5" stop-color="#ffa800"/><stop offset="0.56" stop-color="#ffbd00"/><stop offset="0.6" stop-color="#fffc00"/><stop offset="0.63" stop-color="#c2ff00"/><stop offset="0.7" stop-color="#95ff00"/><stop offset="0.76" stop-color="#5ff500"/><stop offset="0.91" stop-color="#5ef400"/><stop offset="0.92" stop-color="#3fee00"/><stop offset="0.93" stop-color="#00e20c"/><stop offset="0.94" stop-color="#00f463"/><stop offset="0.94" stop-color="#00ffab"/><stop offset="0.95" stop-color="#00ffc9"/><stop offset="1" stop-color="#00ffc9"/></linearGradient><linearGradient id="g194" x1="0" y1="0" x2="0" y2="1"><stop offset="0" stop-color="#ffc700"/><stop offset="0.51" stop-color="#ffce00"/><stop offset="0.56" stop-color="#ffe000"/><stop offset="0.59" stop-color="#f5ff00"/><stop offset="0.63" stop-color="#a8ff00"/><stop offset="0.7" stop-color="#83fc00"/><stop offset="0.76" stop-color="#58f300"/><stop offset="0.91" stop-color="#57f300"/><stop offset="0.92" stop-color="#38ec00"/><stop offset="0.93" stop-color="#00e311"/><stop offset="0.94" stop-color="#00f566"/><stop offset="0.94" stop-color="#00ffad"/><stop offset="0.95" stop-color="#00ffc9"/><stop offset="1" stop-color="#00ffc9"/></linearGradient><linearGradient id="g195" x1="0" y1="0" x2="0" y2="1"><stop offset="0" stop-color="#ffd500"/><stop offset="0.5" stop-color="#ffdb00"/><stop offset="0.56" stop-color="#fff000"/><stop offset="0.58" stop-color="#f3ff00"/><stop offset="0.63" stop-color="#91ff00"/><stop offset="0.76" stop-color="#54f200"/><stop offset="0.91" stop-color="#54f200"/><stop offset="0.92" stop-color="#36ec00"/><stop offset="0.93" stop-color="#00e413"/><stop offset="0.94" stop-color="#00f568"/><stop offset="0.94" stop-color="#00ffae"/><stop offset="0.95" stop-color="#00ffca"/><stop offset="1" stop-color="#00ffca"/></linearGradient><linearGradient id="g196" x1="0" y1="0" x2="0" y2="1"><stop offset="0" stop-color="#ffe000"/><stop offset="0.5" stop-color="#ffe600"/><stop offset="0.56" stop-color="#fffc00"/><stop offset="0.6" stop-color="#c0ff00"/><stop offset="0.63" stop-color="#7dfb00"/><stop offset="0.76" stop-color="#52f200"/><stop offset="0.91" stop-color="#52f200"/><stop offset="0.92" stop-color="#34eb00"/><stop offset="0.93" stop-color="#00e414"/><stop offset="0.94" stop-color="#00f569"/><stop offset="0.94" stop-color="#00ffae"/><stop offset="0.95" stop-color="#00ffcb"/><stop offset="1" stop-color="#00ffcb"/></linearGradient><linearGradient id="g197" x1="0" y1="0" x2="0" y2="1"><stop offset="0" stop-color="#ffd600"/><stop offset="0.5" stop-color="#ffdc00"/><stop offset="0.56" stop-color="#fff200"/><stop offset="0.57" stop-color="#ffff00"/><stop offset="0.63" stop-color="#85fd00"/><stop offset="0.76" stop-color="#50f100"/><stop offset="0.91" stop-color="#50f100"/><stop offset="0.92" stop-color="#31eb00"/><stop offset="0.93" stop-color="#00e516"/><stop offset="0.94" stop-color="#00f66a"/><stop offset="0.94" stop-color="#00ffaf"/><stop offset="0.95" stop-color="#00ffcb"/><stop offset="1" stop-color="#00ffcb"/></linearGradient><linearGradient id="g198" x1="0" y1="0" x2="0" y2="1"><stop offset="0" stop-color="#ffcb00"/><stop offset="0.5" stop-color="#ffd100"/><stop offset="0.56" stop-color="#ffe800"/><stop offset="0.58" stop-color="#f9ff00"/><stop offset="0.63" stop-color="#8eff00"/><stop offset="0.76" stop-color="#4ff100"/><stop offset="0.91" stop-color="#4ff100"/><stop offset="0.92" stop-color="#31eb00"/><stop offset="0.93" stop-color="#00e517"/><stop offset="0.94" stop-color="#00f66b"/><stop offset="0.94" stop-color="#00ffb0"/><stop offset="0.95" stop-color="#00ffcc"/><stop offset="1" stop-color="#00ffcc"/></linearGradient><linearGradient id="g199" x1="0" y1="0" x2="0" y2="1"><stop offset="0" stop-color="#ffbb00"/><stop offset="0.5" stop-color="#ffc100"/><stop offset="0.56" stop-color="#ffd800"/><stop offset="0.59" stop-color="#f5ff00"/><stop offset="0.63" stop-color="#9aff00"/><stop offset="0.76" stop-color="#59f300"/><stop offset="0.91" stop-color="#59f300"/><stop offset="0.92" stop-color="#3aec00"/><stop offset="0.93" stop-color="#00e310"/><stop offset="0.94" stop-color="#00f568"/><stop offset="0.94" stop-color="#00ffb0"/><stop offset="0.95" stop-color="#00ffcd"/><stop offset="1" stop-color="#00ffcd"/></linearGradient><linearGradient id="g200" x1="0" y1="0" x2="0" y2="1"><stop offset="0" stop-color="#ffaa00"/><stop offset="0.5" stop-color="#ffb100"/><stop offset="0.56" stop-color="#ffcb00"/><stop offset="0.59" stop-color="#fffb00"/><stop offset="0.63" stop-color="#a9ff00"/><stop offset="0.76" stop-color="#63f500"/><stop offset="0.91" stop-color="#63f500"/><stop offset="0.92" stop-color="#43ee00"/><stop offset="0.93" stop-color="#00e20a"/><stop offset="0.94" stop-color="#00f565"/><stop offset="0.94" stop-color="#00ffaf"/><stop offset="0.95" stop-color="#00ffcd"/><stop offset="1" stop-color="#00ffcd"/></linearGradient><linearGradient id="g201" x1="0" y1="0" x2="0" y2="1"><stop offset="0" stop-color="#ffb900"/><stop offset="0.51" stop-color="#ffc000"/><stop offset="0.56" stop-color="#ffd200"/><stop offset="0.59" stop-color="#fffb00"/><stop offset="0.63" stop-color="#b6ff00"/><stop offset="0.71" stop-color="#87fd00"/><stop offset="0.76" stop-color="#6df700"/><stop offset="0.91" stop-color="#6df700"/><stop offset="0.92" stop-color="#4cf000"/><stop offset="0.93" stop-color="#00e104"/><stop offset="0.94" stop-color="#00f462"/><stop offset="0.94" stop-color="#00ffaf"/><stop offset="0.95" stop-color="#00ffce"/><stop offset="1" stop-color="#00ffce"/></linearGradient><linearGradient id="g202" x1="0" y1="0" x2="0" y2="1"><stop offset="0" stop-color="#ffcd00"/><stop offset="0.51" stop-color="#ffd400"/><stop offset="0.56" stop-color="#ffe400"/><stop offset="0.59" stop-color="#f6ff00"/><stop offset="0.63" stop-color="#b2ff00"/><stop offset="0.71" stop-color="#87fd00"/><stop offset="0.77" stop-color="#6ff800"/><stop offset="0.91" stop-color="#6ff800"/><stop offset="0.92" stop-color="#4df100"/><stop offset="0.93" stop-color="#00e104"/><stop offset="0.94" stop-color="#00f462"/><stop offset="0.94" stop-color="#00ffaf"/><stop offset="0.95" stop-color="#00ffcf"/><stop offset="1" stop-color="#00ffcf"/></linearGradient><linearGradient id="g203" x1="0" y1="0" x2="0" y2="1"><stop offset="0" stop-color="#ffe200"/><stop offset="0.51" stop-color="#ffe900"/><stop offset="0.56" stop-color="#fff500"/><stop offset="0.58" stop-color="#f5ff00"/><stop offset="0.63" stop-color="#abff00"/><stop offset="0.73" stop-color="#7afa00"/><stop offset="0.81" stop-color="#6ff800"/><stop offset="0.91" stop-color="#6ff800"/><stop offset="0.92" stop-color="#4df100"/><stop offset="0.93" stop-color="#00e104"/><stop offset="0.94" stop-color="#00f462"/><stop offset="0.94" stop-color="#00ffb0"/><stop offset="0.95" stop-color="#00ffd0"/><stop offset="1" stop-color="#00ffd0"/></linearGradient><linearGradient id="g204" x1="0" y1="0" x2="0" y2="1"><stop offset="0" stop-color="#fff500"/><stop offset="0.51" stop-color="#fffc00"/><stop offset="0.56" stop-color="#f7ff00"/><stop offset="0.64" stop-color="#9fff00"/><stop offset="0.72" stop-color="#7dfb00"/><stop offset="0.79" stop-color="#6ff800"/><stop offset="0.91" stop-color="#6ff800"/><stop offset="0.92" stop-color="#4df100"/><stop offset="0.93" stop-color="#00e104"/><stop offset="0.94" stop-color="#00f463"/><stop offset="0.94" stop-color="#00ffb1"/><stop offset="0.95" stop-color="#00ffd0"/><stop offset="1" stop-color="#00ffd0"/></linearGradient><linearGradient id="g205" x1="0" y1="0" x2="0" y2="1"><stop offset="0" stop-color="#f0ff00"/><stop offset="0.51" stop-color="#e9ff00"/><stop offset="0.56" stop-color="#dfff00"/><stop offset="0.64" stop-color="#8afe00"/><stop offset="0.77" stop-color="#62f500"/><stop offset="0.91" stop-color="#62f500"/><stop offset="0.92" stop-color="#42ee00"/><stop offset="0.93" stop-color="#00e20c"/><stop offset="0.94" stop-color="#00f568"/><stop offset="0.94" stop-color="#00ffb3"/><stop offset="0.95" stop-color="#00ffd1"/><stop offset="1" stop-color="#00ffd1"/></linearGradient><linearGradient id="g206" x1="0" y1="0" x2="0" y2="1"><stop offset="0" stop-color="#d2ff00"/><stop offset="0.51" stop-color="#cbff00"/><stop offset="0.56" stop-color="#c0ff00"/><stop offset="0.64" stop-color="#65f600"/><stop offset="0.79" stop-color="#49f000"/><stop offset="0.91" stop-color="#49f000"/><stop offset="0.92" stop-color="#2be900"/><stop offset="0.93" stop-color="#00e61c"/><stop offset="0.94" stop-color="#00f771"/><stop offset="0.94" stop-color="#00ffb6"/><stop offset="0.95" stop-color="#00ffd2"/><stop offset="1" stop-color="#00ffd2"/></linearGradient><linearGradient id="g207" x1="0" y1="0" x2="0" y2="1"><stop offset="0" stop-color="#b3ff00"/><stop offset="0.51" stop-color="#acff00"/><stop offset="0.56" stop-color="#a1ff00"/><stop offset="0.64" stop-color="#40ee00"/><stop offset="0.85" stop-color="#30ea00"/><stop offset="0.91" stop-color="#30ea00"/><stop offset="0.92" stop-color="#15e400"/><stop offset="0.93" stop-color="#00e92c"/><stop offset="0.94" stop-color="#00f97a"/><stop offset="0.94" stop-color="#00ffb9"/><stop offset="0.95" stop-color="#00ffd2"/><stop offset="1" stop-color="#00ffd2"/></linearGradient><linearGradient id="g208" x1="0" y1="0" x2="0" y2="1"><stop offset="0" stop-color="#8bfe00"/><stop offset="0.51" stop-color="#84fc00"/><stop offset="0.56" stop-color="#79fa00"/><stop offset="0.64" stop-color="#1ee600"/><stop offset="0.91" stop-color="#13e400"/><stop offset="0.92" stop-color="#00e105"/><stop offset="0.94" stop-color="#00ffbc"/><stop offset="0.95" stop-color="#00ffd3"/><stop offset="1" stop-color="#00ffd3"/></linearGradient><linearGradient id="g209" x1="0" y1="0" x2="0" y2="1"><stop offset="0" stop-color="#5df400"/><stop offset="0.52" stop-color="#56f200"/><stop offset="0.57" stop-color="#46ef00"/><stop offset="0.63" stop-color="#01e000"/><stop offset="0.91" stop-color="#00e20a"/><stop offset="0.92" stop-color="#00e620"/><stop offset="0.94" stop-color="#00ffc0"/><stop offset="0.95" stop-color="#00ffd4"/><stop offset="1" stop-color="#00ffd4"/></linearGradient><linearGradient id="g210" x1="0" y1="0" x2="0" y2="1"><stop offset="0" stop-color="#31eb00"/><stop offset="0.53" stop-color="#29e900"/><stop offset="0.57" stop-color="#1ce600"/><stop offset="0.6" stop-color="#00e209"/><stop offset="0.65" stop-color="#00e826"/><stop offset="0.91" stop-color="#00e828"/><stop offset="0.92" stop-color="#00ec3a"/><stop offset="0.94" stop-color="#00ffc3"/><stop offset="0.95" stop-color="#00ffd5"/><stop offset="1" stop-color="#00ffd5"/></linearGradient><linearGradient id="g211" x1="0" y1="0" x2="0" y2="1"><stop offset="0" stop-color="#0ce300"/><stop offset="0.51" stop-color="#05e100"/><stop offset="0.56" stop-color="#00e105"/><stop offset="0.64" stop-color="#00f258"/><stop offset="0.91" stop-color="#00f25a"/><stop offset="0.92" stop-color="#00f567"/><stop offset="0.94" stop-color="#00ffc9"/><stop offset="0.96" stop-color="#00ffd5"/><stop offset="1" stop-color="#00ffd5"/></linearGradient><linearGradient id="g212" x1="0" y1="0" x2="0" y2="1"><stop offset="0" stop-color="#00e519"/><stop offset="0.51" stop-color="#00e620"/><stop offset="0.56" stop-color="#00ea30"/><stop offset="0.63" stop-color="#00ff97"/><stop offset="0.71" stop-color="#00ffa0"/><stop offset="0.92" stop-color="#00ffa6"/><stop offset="0.95" stop-color="#00ffd9"/><stop offset="1" stop-color="#00ffd9"/></linearGradient><linearGradient id="g213" x1="0" y1="0" x2="0" y2="1"><stop offset="0" stop-color="#00ec3c"/><stop offset="0.5" stop-color="#00ed41"/><stop offset="0.56" stop-color="#00f257"/><stop offset="0.63" stop-color="#00ffd1"/><stop offset="0.68" stop-color="#00ffdb"/><stop offset="0.93" stop-color="#00ffe2"/><stop offset="0.99" stop-color="#00ffee"/><stop offset="1" stop-color="#00ffee"/></linearGradient><linearGradient id="g214" x1="0" y1="0" x2="0" y2="1"><stop offset="0" stop-color="#00f35c"/><stop offset="0.5" stop-color="#00f463"/><stop offset="0.56" stop-color="#00f97b"/><stop offset="0.62" stop-color="#00fff6"/><stop offset="0.66" stop-color="#00ecff"/><stop offset="0.93" stop-color="#00f1ff"/><stop offset="1" stop-color="#00fbff"/></linearGradient><linearGradient id="g215" x1="0" y1="0" x2="0" y2="1"><stop offset="0" stop-color="#00f97d"/><stop offset="0.48" stop-color="#00fb83"/><stop offset="0.54" stop-color="#00ffb6"/><stop offset="0.57" stop-color="#00ffca"/><stop offset="0.6" stop-color="#00fbff"/><stop offset="0.64" stop-color="#00c6ff"/><stop offset="0.92" stop-color="#00c6ff"/><stop offset="0.95" stop-color="#00e1ff"/><stop offset="1" stop-color="#00e1ff"/></linearGradient><linearGradient id="g216" x1="0" y1="0" x2="0" y2="1"><stop offset="0" stop-color="#00fd90"/><stop offset="0.47" stop-color="#00fe94"/><stop offset="0.51" stop-color="#00ffd4"/><stop offset="0.52" stop-color="#00fffb"/><stop offset="0.55" stop-color="#00e0ff"/><stop offset="0.65" stop-color="#00b0ff"/><stop offset="0.92" stop-color="#00b3ff"/><stop offset="0.95" stop-color="#00ccff"/><stop offset="1" stop-color="#00ccff"/></linearGradient><linearGradient id="g217" x1="0" y1="0" x2="0" y2="1"><stop offset="0" stop-color="#00ffa0"/><stop offset="0.47" stop-color="#00ffa4"/><stop offset="0.5" stop-color="#00ffdb"/><stop offset="0.51" stop-color="#00fff3"/><stop offset="0.52" stop-color="#00d3ff"/><stop offset="0.54" stop-color="#00acff"/><stop offset="0.92" stop-color="#00aaff"/><stop offset="0.95" stop-color="#00cbff"/><stop offset="1" stop-color="#00cbff"/></linearGradient><linearGradient id="g218" x1="0" y1="0" x2="0" y2="1"><stop offset="0" stop-color="#00ffae"/><stop offset="0.47" stop-color="#00ffb2"/><stop offset="0.5" stop-color="#00ffe4"/><stop offset="0.51" stop-color="#00fffa"/><stop offset="0.54" stop-color="#00abff"/><stop offset="0.92" stop-color="#00aaff"/><stop offset="0.95" stop-color="#00caff"/><stop offset="1" stop-color="#00caff"/></linearGradient><linearGradient id="g219" x1="0" y1="0" x2="0" y2="1"><stop offset="0" stop-color="#00ffb4"/><stop offset="0.47" stop-color="#00ffb8"/><stop offset="0.5" stop-color="#00ffe8"/><stop offset="0.51" stop-color="#00fffe"/><stop offset="0.53" stop-color="#00b9ff"/><stop offset="0.55" stop-color="#00a6ff"/><stop offset="0.92" stop-color="#00aaff"/><stop offset="0.95" stop-color="#00c9ff"/><stop offset="1" stop-color="#00c9ff"/></linearGradient><linearGradient id="g220" x1="0" y1="0" x2="0" y2="1"><stop offset="0" stop-color="#00ffbb"/><stop offset="0.47" stop-color="#00ffbf"/><stop offset="0.51" stop-color="#00fdff"/><stop offset="0.53" stop-color="#00b8ff"/><stop offset="0.55" stop-color="#00a6ff"/><stop offset="0.92" stop-color="#00aaff"/><stop offset="0.95" stop-color="#00c9ff"/><stop offset="1" stop-color="#00c9ff"/></linearGradient><linearGradient id="g221" x1="0" y1="0" x2="0" y2="1"><stop offset="0" stop-color="#00ffc2"/><stop offset="0.47" stop-color="#00ffc5"/><stop offset="0.51" stop-color="#00f8ff"/><stop offset="0.53" stop-color="#00b7ff"/><stop offset="0.56" stop-color="#00a6ff"/><stop offset="0.92" stop-color="#00aaff"/><stop offset="0.95" stop-color="#00c8ff"/><stop offset="1" stop-color="#00c8ff"/></linearGradient><linearGradient id="g222" x1="0" y1="0" x2="0" y2="1"><stop offset="0" stop-color="#00ffc8"/><stop offset="0.47" stop-color="#00ffcc"/><stop offset="0.5" stop-color="#00fff5"/><stop offset="0.51" stop-color="#00ddff"/><stop offset="0.54" stop-color="#00aaff"/><stop offset="0.92" stop-color="#00a9ff"/><stop offset="0.95" stop-color="#00c7ff"/><stop offset="1" stop-color="#00c7ff"/></linearGradient><linearGradient id="g223" x1="0" y1="0" x2="0" y2="1"><stop offset="0" stop-color="#00ffcd"/><stop offset="0.47" stop-color="#00ffd0"/><stop offset="0.5" stop-color="#00fff8"/><stop offset="0.54" stop-color="#00aaff"/><stop offset="0.92" stop-color="#00a9ff"/><stop offset="0.95" stop-color="#00c6ff"/><stop offset="1" stop-color="#00c6ff"/></linearGradient><linearGradient id="g224" x1="0" y1="0" x2="0" y2="1"><stop offset="0" stop-color="#00ffcf"/><stop offset="0.47" stop-color="#00ffd2"/><stop offset="0.5" stop-color="#00fff9"/><stop offset="0.54" stop-color="#00aaff"/><stop offset="0.92" stop-color="#00a9ff"/><stop offset="0.95" stop-color="#00c5ff"/><stop offset="1" stop-color="#00c5ff"/></linearGradient><linearGradient id="g225" x1="0" y1="0" x2="0" y2="1"><stop offset="0" stop-color="#00ffd1"/><stop offset="0.47" stop-color="#00ffd4"/><stop offset="0.5" stop-color="#00fffa"/><stop offset="0.54" stop-color="#00aaff"/><stop offset="0.92" stop-color="#00a9ff"/><stop offset="0.95" stop-color="#00c4ff"/><stop offset="1" stop-color="#00c4ff"/></linearGradient><linearGradient id="g226" x1="0" y1="0" x2="0" y2="1"><stop offset="0" stop-color="#00ffd3"/><stop offset="0.47" stop-color="#00ffd6"/><stop offset="0.5" stop-color="#00fffc"/><stop offset="0.54" stop-color="#00aaff"/><stop offset="0.92" stop-color="#00a9ff"/><stop offset="0.95" stop-color="#00c3ff"/><stop offset="1" stop-color="#00c3ff"/></linearGradient><linearGradient id="g227" x1="0" y1="0" x2="0" y2="1"><stop offset="0" stop-color="#00ffd5"/><stop offset="0.47" stop-color="#00ffd8"/><stop offset="0.5" stop-color="#00fffd"/><stop offset="0.53" stop-color="#00b5ff"/><stop offset="0.56" stop-color="#00a6ff"/><stop offset="0.92" stop-color="#00a9ff"/><stop offset="0.95" stop-color="#00c2ff"/><stop offset="1" stop-color="#00c2ff"/></linearGradient><linearGradient id="g228" x1="0" y1="0" x2="0" y2="1"><stop offset="0" stop-color="#00ffd7"/><stop offset="0.47" stop-color="#00ffda"/><stop offset="0.5" stop-color="#00fffe"/><stop offset="0.53" stop-color="#00b4ff"/><stop offset="0.56" stop-color="#00a6ff"/><stop offset="0.92" stop-color="#00a9ff"/><stop offset="0.96" stop-color="#00c2ff"/><stop offset="1" stop-color="#00c2ff"/></linearGradient><linearGradient id="g229" x1="0" y1="0" x2="0" y2="1"><stop offset="0" stop-color="#00ffd9"/><stop offset="0.47" stop-color="#00ffdc"/><stop offset="0.5" stop-color="#00feff"/><stop offset="0.53" stop-color="#00b4ff"/><stop offset="0.56" stop-color="#00a6ff"/><stop offset="0.92" stop-color="#00a9ff"/><stop offset="0.96" stop-color="#00c1ff"/><stop offset="1" stop-color="#00c1ff"/></linearGradient><linearGradient id="g230" x1="0" y1="0" x2="0" y2="1"><stop offset="0" stop-color="#00ffdb"/><stop offset="0.47" stop-color="#00ffde"/><stop offset="0.5" stop-color="#00fdff"/><stop offset="0.53" stop-color="#00b4ff"/><stop offset="0.56" stop-color="#00a6ff"/><stop offset="0.92" stop-color="#00a9ff"/><stop offset="0.96" stop-color="#00c0ff"/><stop offset="1" stop-color="#00c0ff"/></linearGradient><linearGradient id="g231" x1="0" y1="0" x2="0" y2="1"><stop offset="0" stop-color="#00ffdd"/><stop offset="0.47" stop-color="#00ffe0"/><stop offset="0.5" stop-color="#00fbff"/><stop offset="0.53" stop-color="#00b4ff"/><stop offset="0.56" stop-color="#00a6ff"/><stop offset="0.92" stop-color="#00a9ff"/><stop offset="0.96" stop-color="#00bfff"/><stop offset="1" stop-color="#00bfff"/></linearGradient><linearGradient id="g232" x1="0" y1="0" x2="0" y2="1"><stop offset="0" stop-color="#00ffdf"/><stop offset="0.47" stop-color="#00ffe2"/><stop offset="0.5" stop-color="#00f9ff"/><stop offset="0.53" stop-color="#00b3ff"/><stop offset="0.56" stop-color="#00a6ff"/><stop offset="0.92" stop-color="#00a9ff"/><stop offset="0.96" stop-color="#00beff"/><stop offset="1" stop-color="#00beff"/></linearGradient><linearGradient id="g233" x1="0" y1="0" x2="0" y2="1"><stop offset="0" stop-color="#00ffe1"/><stop offset="0.47" stop-color="#00ffe3"/><stop offset="0.5" stop-color="#00f8ff"/><stop offset="0.53" stop-color="#00b3ff"/><stop offset="0.56" stop-color="#00a6ff"/><stop offset="0.92" stop-color="#00a8ff"/><stop offset="0.96" stop-color="#00bdff"/><stop offset="1" stop-color="#00bdff"/></linearGradient><linearGradient id="g234" x1="0" y1="0" x2="0" y2="1"><stop offset="0" stop-color="#00ffe1"/><stop offset="0.47" stop-color="#00ffe4"/><stop offset="0.5" stop-color="#00f7ff"/><stop offset="0.53" stop-color="#00b3ff"/><stop offset="0.56" stop-color="#00a6ff"/><stop offset="0.92" stop-color="#00a8ff"/><stop offset="0.96" stop-color="#00bcff"/><stop offset="1" stop-color="#00bcff"/></linearGradient><linearGradient id="g235" x1="0" y1="0" x2="0" y2="1"><stop offset="0" stop-color="#00ffe2"/><stop offset="0.47" stop-color="#00ffe5"/><stop offset="0.5" stop-color="#00f7ff"/><stop offset="0.53" stop-color="#00b3ff"/><stop offset="0.56" stop-color="#00a6ff"/><stop offset="0.92" stop-color="#00a8ff"/><stop offset="0.96" stop-color="#00bbff"/><stop offset="1" stop-color="#00bbff"/></linearGradient><linearGradient id="g236" x1="0" y1="0" x2="0" y2="1"><stop offset="0" stop-color="#00ffe3"/><stop offset="0.47" stop-color="#00ffe6"/><stop offset="0.5" stop-color="#00f6ff"/><stop offset="0.53" stop-color="#00b3ff"/><stop offset="0.56" stop-color="#00a6ff"/><stop offset="0.93" stop-color="#00adff"/><stop offset="0.98" stop-color="#00baff"/><stop offset="1" stop-color="#00baff"/></linearGradient><linearGradient id="g237" x1="0" y1="0" x2="0" y2="1"><stop offset="0" stop-color="#00ffe4"/><stop offset="0.47" stop-color="#00ffe7"/><stop offset="0.5" stop-color="#00f5ff"/><stop offset="0.53" stop-color="#00b3ff"/><stop offset="0.56" stop-color="#00a6ff"/><stop offset="0.93" stop-color="#00adff"/><stop offset="0.98" stop-color="#00baff"/><stop offset="1" stop-color="#00baff"/></linearGradient><linearGradient id="g238" x1="0" y1="0" x2="0" y2="1"><stop offset="0" stop-color="#00ffe5"/><stop offset="0.47" stop-color="#00ffe7"/><stop offset="0.5" stop-color="#00f5ff"/><stop offset="0.53" stop-color="#00b3ff"/><stop offset="0.56" stop-color="#00a6ff"/><stop offset="0.93" stop-color="#00adff"/><stop offset="0.99" stop-color="#00b9ff"/><stop offset="1" stop-color="#00b9ff"/></linearGradient><linearGradient id="g239" x1="0" y1="0" x2="0" y2="1"><stop offset="0" stop-color="#00ffe6"/><stop offset="0.47" stop-color="#00ffe8"/><stop offset="0.49" stop-color="#00fffb"/><stop offset="0.54" stop-color="#00a9ff"/><stop offset="0.93" stop-color="#00acff"/><stop offset="0.99" stop-color="#00b8ff"/><stop offset="1" stop-color="#00b8ff"/></linearGradient><linearGradient id="g240" x1="0" y1="0" x2="0" y2="1"><stop offset="0" stop-color="#00ffe6"/><stop offset="0.47" stop-color="#00ffe9"/><stop offset="0.49" stop-color="#00fffb"/><stop offset="0.54" stop-color="#00a9ff"/><stop offset="0.93" stop-color="#00acff"/><stop offset="0.99" stop-color="#00b7ff"/><stop offset="1" stop-color="#00b7ff"/></linearGradient><linearGradient id="g241" x1="0" y1="0" x2="0" y2="1"><stop offset="0" stop-color="#00ffe7"/><stop offset="0.47" stop-color="#00ffea"/><stop offset="0.49" stop-color="#00fffc"/><stop offset="0.54" stop-color="#00a9ff"/><stop offset="0.93" stop-color="#00acff"/><stop offset="1" stop-color="#00b6ff"/></linearGradient><linearGradient id="g242" x1="0" y1="0" x2="0" y2="1"><stop offset="0" stop-color="#00ffe8"/><stop offset="0.47" stop-color="#00ffeb"/><stop offset="0.49" stop-color="#00fffd"/><stop offset="0.54" stop-color="#00a9ff"/><stop offset="0.93" stop-color="#00abff"/><stop offset="1" stop-color="#00b5ff"/></linearGradient><linearGradient id="g243" x1="0" y1="0" x2="0" y2="1"><stop offset="0" stop-color="#00ffe9"/><stop offset="0.47" stop-color="#00ffec"/><stop offset="0.49" stop-color="#00fffd"/><stop offset="0.54" stop-color="#00a9ff"/><stop offset="0.93" stop-color="#00abff"/><stop offset="1" stop-color="#00b4ff"/></linearGradient><linearGradient id="g244" x1="0" y1="0" x2="0" y2="1"><stop offset="0" stop-color="#00ffea"/><stop offset="0.47" stop-color="#00ffec"/><stop offset="0.49" stop-color="#00fffe"/><stop offset="0.54" stop-color="#00a9ff"/><stop offset="0.93" stop-color="#00abff"/><stop offset="1" stop-color="#00b3ff"/></linearGradient><linearGradient id="g245" x1="0" y1="0" x2="0" y2="1"><stop offset="0" stop-color="#00ffea"/><stop offset="0.47" stop-color="#00ffed"/><stop offset="0.49" stop-color="#00fffe"/><stop offset="0.53" stop-color="#00b2ff"/><stop offset="0.56" stop-color="#00a6ff"/><stop offset="0.93" stop-color="#00abff"/><stop offset="1" stop-color="#00b3ff"/></linearGradient><linearGradient id="cb245" x1="0" y1="0" x2="0" y2="1"><stop offset="0" stop-color="#8a8a8a"/><stop offset="0.02" stop-color="#8a8a8a"/><stop offset="0.02" stop-color="#ff0000"/><stop offset="0.14" stop-color="#ff8000"/><stop offset="0.27" stop-color="#ffff00"/><stop offset="0.38" stop-color="#90ff00"/><stop offset="0.51" stop-color="#00e000"/><stop offset="0.65" stop-color="#00ff98"/><stop offset="0.74" stop-color="#00ffff"/><stop offset="0.84" stop-color="#0080ff"/><stop offset="0.96" stop-color="#0000ff"/><stop offset="1" stop-color="#000040"/></linearGradient><radialGradient id="bR" cx="0.35" cy="0.35" r="0.7"><stop offset="0" stop-color="#ff8080"/><stop offset="0.45" stop-color="#e80000"/><stop offset="1" stop-color="#900000"/></radialGradient><radialGradient id="bG" cx="0.35" cy="0.35" r="0.7"><stop offset="0" stop-color="#c8c8c8"/><stop offset="0.5" stop-color="#777"/><stop offset="1" stop-color="#333"/></radialGradient><radialGradient id="bW" cx="0.35" cy="0.35" r="0.7"><stop offset="0" stop-color="#ffffff"/><stop offset="0.6" stop-color="#e8e8e8"/><stop offset="1" stop-color="#a0a0a0"/></radialGradient><linearGradient id="inA" x1="0" y1="0" x2="1" y2="1"><stop offset="0" stop-color="#fbcfd0"/><stop offset="0.5" stop-color="#fde0b8"/><stop offset="1" stop-color="#fff8a0"/></linearGradient><linearGradient id="inB" x1="0" y1="0" x2="0" y2="1"><stop offset="0" stop-color="#ff8800"/><stop offset="0.2" stop-color="#f8a030"/><stop offset="0.45" stop-color="#e8d48c"/><stop offset="0.75" stop-color="#22c8a0"/><stop offset="1" stop-color="#10bfa0"/></linearGradient><linearGradient id="inC" x1="0" y1="1" x2="1" y2="0"><stop offset="0" stop-color="#10c810"/><stop offset="0.45" stop-color="#40d830"/><stop offset="1" stop-color="#a0e878"/></linearGradient></defs>
<text x="3.5" y="7" font-size="11.5" font-weight="bold" fill="#000">a<tspan font-size="8.16" dy="2.7">1</tspan></text>
<rect x="156" y="44" width="9" height="42" fill="#f7dc00"/>
<rect x="156" y="88" width="9" height="32" fill="#b4d2f2"/>
<line x1="56.6" y1="40.5" x2="56.6" y2="116.4" stroke="#777" stroke-width="0.8"/>
<line x1="72.4" y1="41" x2="72.4" y2="120" stroke="#777" stroke-width="0.8"/>
<line x1="99.4" y1="37.5" x2="99.4" y2="113.5" stroke="#bbb" stroke-width="1.5"/>
<line x1="106.6" y1="36.5" x2="106.6" y2="113.5" stroke="#bbb" stroke-width="1.5"/>
<polyline points="17.3,51.3 17.8,51.3 18.4,51.3 18.9,51.3 19.4,51.3 20.0,51.3 20.5,51.3 21.0,51.3 21.6,51.3 22.1,51.3 22.7,51.3 23.2,51.2 23.7,51.2 24.3,51.2 24.8,51.2 25.3,51.2 25.9,51.2 26.4,51.2 26.9,51.2 27.5,51.2 28.0,51.2 28.5,51.2 29.1,51.2 29.6,51.2 30.2,51.2 30.7,51.1 31.2,51.1 31.8,51.2 32.3,51.2 32.8,51.2 33.4,51.2 33.9,51.2 34.4,51.2 35.0,51.3 35.5,51.2 36.0,51.2 36.6,51.2 37.1,51.1 37.7,51.1 38.2,51.0 38.7,50.8 39.3,50.6 39.8,50.3 40.3,50.0 40.9,49.6 41.4,49.3 41.9,49.0 42.5,48.7 43.0,48.3 43.5,47.9 44.1,47.6 45.2,46.8 46.2,46.3 47.3,45.8 48.4,45.5 49.4,45.1 50.5,44.7 51.6,44.2 52.7,43.4 53.7,42.1 54.8,41.1 55.9,40.4 56.9,40.2 58.0,40.8 59.1,41.5 60.2,42.4 61.2,43.3 62.3,44.4 63.4,45.3 64.4,45.7 65.5,45.7 66.6,45.5 67.7,45.1 68.7,44.8 69.8,44.4 70.9,43.9 71.9,43.8 73.0,44.2 74.1,44.9 75.2,45.7 76.2,46.5 77.3,47.1 78.4,47.6 79.4,47.9 80.5,47.9 81.6,47.7 82.7,47.6 83.7,47.3 84.8,47.0 85.9,46.7 86.9,46.4 88.0,46.0 89.1,45.6 90.2,45.2 91.2,44.7 92.3,44.2 93.4,43.6 94.4,43.0 95.5,42.4 96.6,41.5 97.6,40.2 98.7,38.9 99.8,37.9 100.9,37.6 101.9,37.5 103.0,37.5 104.1,37.3 105.1,37.1 106.2,37.0 107.3,37.1 108.4,37.7 109.4,38.5 110.5,39.5 111.6,40.6 112.6,41.8 113.7,43.2 114.8,44.6 115.9,45.9 116.9,46.8 118.0,47.6 119.1,48.2 120.1,48.6 121.2,48.9 122.3,49.1 123.4,49.2 124.4,49.3 125.5,49.4 126.6,49.5 127.6,49.6 128.7,49.7 129.8,49.8 130.9,49.9 131.9,50.0 133.0,50.1 134.1,50.2 135.1,50.3 136.2,50.4 137.3,50.4 138.4,50.4 139.4,50.5 140.5,50.5 141.6,50.5 142.6,50.5 143.7,50.5 144.8,50.5 145.9,50.4 146.9,50.4 148.0,50.4 149.1,50.4 150.1,50.4 151.2,50.4 152.3,50.4 153.4,50.4 154.4,50.4 155.5,50.4 156.6,50.4 157.6,50.4 158.7,50.4 159.8,50.4 160.9,50.4 161.9,50.4 163.0,50.4 164.1,50.4 165.1,50.4 166.2,50.4 167.3,50.4 168.4,50.4 169.4,50.4 170.5,50.4 171.6,50.4 172.6,50.4 173.7,50.4 174.8,50.4 175.9,50.4 176.9,50.4 178.0,50.4" fill="none" stroke="#5a1a1a" stroke-width="1" stroke-linejoin="round"/>
<polyline points="17.3,57.5 17.8,57.5 18.4,57.5 18.9,57.5 19.4,57.5 20.0,57.5 20.5,57.5 21.0,57.5 21.6,57.5 22.1,57.5 22.7,57.5 23.2,57.4 23.7,57.4 24.3,57.4 24.8,57.4 25.3,57.4 25.9,57.4 26.4,57.4 26.9,57.4 27.5,57.4 28.0,57.4 28.5,57.4 29.1,57.4 29.6,57.4 30.2,57.4 30.7,57.4 31.2,57.3 31.8,57.4 32.3,57.4 32.8,57.4 33.4,57.4 33.9,57.4 34.4,57.4 35.0,57.5 35.5,57.4 36.0,57.4 36.6,57.4 37.1,57.3 37.7,57.3 38.2,57.2 38.7,57.0 39.3,56.8 39.8,56.5 40.3,56.2 40.9,55.8 41.4,55.5 41.9,55.2 42.5,54.9 43.0,54.5 43.5,54.1 44.1,53.8 45.2,53.0 46.2,52.5 47.3,52.0 48.4,51.7 49.4,51.3 50.5,50.9 51.6,50.4 52.7,49.6 53.7,48.3 54.8,47.3 55.9,46.6 56.9,46.4 58.0,47.0 59.1,47.7 60.2,48.6 61.2,49.5 62.3,50.6 63.4,51.5 64.4,51.9 65.5,51.9 66.6,51.7 67.7,51.3 68.7,51.0 69.8,50.6 70.9,50.1 71.9,50.0 73.0,50.4 74.1,51.1 75.2,51.9 76.2,52.7 77.3,53.3 78.4,53.8 79.4,54.1 80.5,54.1 81.6,53.9 82.7,53.8 83.7,53.5 84.8,53.2 85.9,52.9 86.9,52.6 88.0,52.2 89.1,51.8 90.2,51.4 91.2,50.9 92.3,50.4 93.4,49.8 94.4,49.2 95.5,48.6 96.6,47.7 97.6,46.4 98.7,45.1 99.8,44.1 100.9,43.8 101.9,43.7 103.0,43.7 104.1,43.5 105.1,43.3 106.2,43.2 107.3,43.3 108.4,43.9 109.4,44.7 110.5,45.7 111.6,46.8 112.6,48.0 113.7,49.4 114.8,50.8 115.9,52.1 116.9,53.0 118.0,53.8 119.1,54.4 120.1,54.8 121.2,55.1 122.3,55.3 123.4,55.4 124.4,55.5 125.5,55.6 126.6,55.7 127.6,55.8 128.7,55.9 129.8,56.0 130.9,56.1 131.9,56.2 133.0,56.3 134.1,56.4 135.1,56.5 136.2,56.6 137.3,56.6 138.4,56.6 139.4,56.7 140.5,56.7 141.6,56.7 142.6,56.7 143.7,56.7 144.8,56.7 145.9,56.6 146.9,56.6 148.0,56.6 149.1,56.6 150.1,56.6 151.2,56.6 152.3,56.6 153.4,56.6 154.4,56.6 155.5,56.6 156.6,56.6 157.6,56.6 158.7,56.6 159.8,56.6 160.9,56.6 161.9,56.6 163.0,56.6 164.1,56.6 165.1,56.6 166.2,56.6 167.3,56.6 168.4,56.6 169.4,56.6 170.5,56.6 171.6,56.6 172.6,56.6 173.7,56.6 174.8,56.6 175.9,56.6 176.9,56.6 178.0,56.6" fill="none" stroke="#5a1a1a" stroke-width="1" stroke-linejoin="round"/>
<polyline points="17.3,63.0 17.8,63.0 18.4,63.0 18.9,63.0 19.4,63.0 20.0,63.0 20.5,63.0 21.0,63.0 21.6,63.0 22.1,63.0 22.7,63.0 23.2,62.9 23.7,62.9 24.3,62.9 24.8,62.9 25.3,62.9 25.9,62.9 26.4,62.9 26.9,62.9 27.5,62.9 28.0,62.9 28.5,62.9 29.1,62.9 29.6,62.9 30.2,62.9 30.7,62.9 31.2,62.8 31.8,62.9 32.3,62.9 32.8,62.9 33.4,62.9 33.9,62.9 34.4,62.9 35.0,63.0 35.5,62.9 36.0,62.9 36.6,62.9 37.1,62.8 37.7,62.8 38.2,62.7 38.7,62.5 39.3,62.3 39.8,62.0 40.3,61.7 40.9,61.3 41.4,61.0 41.9,60.7 42.5,60.4 43.0,60.0 43.5,59.6 44.1,59.3 45.2,58.5 46.2,58.0 47.3,57.5 48.4,57.2 49.4,56.8 50.5,56.4 51.6,55.9 52.7,55.1 53.7,53.8 54.8,52.8 55.9,52.1 56.9,51.9 58.0,52.5 59.1,53.2 60.2,54.1 61.2,55.0 62.3,56.1 63.4,57.0 64.4,57.4 65.5,57.4 66.6,57.2 67.7,56.8 68.7,56.5 69.8,56.1 70.9,55.6 71.9,55.5 73.0,55.9 74.1,56.6 75.2,57.4 76.2,58.2 77.3,58.8 78.4,59.3 79.4,59.6 80.5,59.6 81.6,59.4 82.7,59.3 83.7,59.0 84.8,58.7 85.9,58.4 86.9,58.1 88.0,57.7 89.1,57.3 90.2,56.9 91.2,56.4 92.3,55.9 93.4,55.3 94.4,54.7 95.5,54.1 96.6,53.2 97.6,51.9 98.7,50.6 99.8,49.6 100.9,49.3 101.9,49.2 103.0,49.2 104.1,49.0 105.1,48.8 106.2,48.7 107.3,48.8 108.4,49.4 109.4,50.2 110.5,51.2 111.6,52.3 112.6,53.5 113.7,54.9 114.8,56.3 115.9,57.6 116.9,58.5 118.0,59.3 119.1,59.9 120.1,60.3 121.2,60.6 122.3,60.8 123.4,60.9 124.4,61.0 125.5,61.1 126.6,61.2 127.6,61.3 128.7,61.4 129.8,61.5 130.9,61.6 131.9,61.7 133.0,61.8 134.1,61.9 135.1,62.0 136.2,62.1 137.3,62.1 138.4,62.1 139.4,62.2 140.5,62.2 141.6,62.2 142.6,62.2 143.7,62.2 144.8,62.2 145.9,62.1 146.9,62.1 148.0,62.1 149.1,62.1 150.1,62.1 151.2,62.1 152.3,62.1 153.4,62.1 154.4,62.1 155.5,62.1 156.6,62.1 157.6,62.1 158.7,62.1 159.8,62.1 160.9,62.1 161.9,62.1 163.0,62.1 164.1,62.1 165.1,62.1 166.2,62.1 167.3,62.1 168.4,62.1 169.4,62.1 170.5,62.1 171.6,62.1 172.6,62.1 173.7,62.1 174.8,62.1 175.9,62.1 176.9,62.1 178.0,62.1" fill="none" stroke="#5a1a1a" stroke-width="1" stroke-linejoin="round"/>
<polyline points="17.3,68.0 17.8,68.0 18.4,68.0 18.9,68.0 19.4,68.0 20.0,68.0 20.5,68.0 21.0,68.0 21.6,68.0 22.1,68.0 22.7,68.0 23.2,67.9 23.7,67.9 24.3,67.9 24.8,67.9 25.3,67.9 25.9,67.9 26.4,67.9 26.9,67.9 27.5,67.9 28.0,67.9 28.5,67.9 29.1,67.9 29.6,67.9 30.2,67.9 30.7,67.8 31.2,67.8 31.8,67.9 32.3,67.9 32.8,67.9 33.4,67.9 33.9,67.9 34.4,67.9 35.0,68.0 35.5,67.9 36.0,67.9 36.6,67.9 37.1,67.8 37.7,67.8 38.2,67.7 38.7,67.5 39.3,67.3 39.8,67.0 40.3,66.7 40.9,66.3 41.4,66.0 41.9,65.7 42.5,65.4 43.0,65.0 43.5,64.6 44.1,64.3 45.2,63.5 46.2,63.0 47.3,62.5 48.4,62.2 49.4,61.8 50.5,61.4 51.6,60.9 52.7,60.1 53.7,58.8 54.8,57.8 55.9,57.1 56.9,56.9 58.0,57.5 59.1,58.2 60.2,59.1 61.2,60.0 62.3,61.1 63.4,62.0 64.4,62.4 65.5,62.4 66.6,62.2 67.7,61.8 68.7,61.5 69.8,61.1 70.9,60.6 71.9,60.5 73.0,60.9 74.1,61.6 75.2,62.4 76.2,63.2 77.3,63.8 78.4,64.3 79.4,64.6 80.5,64.6 81.6,64.4 82.7,64.3 83.7,64.0 84.8,63.7 85.9,63.4 86.9,63.1 88.0,62.7 89.1,62.3 90.2,61.9 91.2,61.4 92.3,60.9 93.4,60.3 94.4,59.7 95.5,59.1 96.6,58.2 97.6,56.9 98.7,55.6 99.8,54.6 100.9,54.3 101.9,54.2 103.0,54.2 104.1,54.0 105.1,53.8 106.2,53.7 107.3,53.8 108.4,54.4 109.4,55.2 110.5,56.2 111.6,57.3 112.6,58.5 113.7,59.9 114.8,61.3 115.9,62.6 116.9,63.5 118.0,64.3 119.1,64.9 120.1,65.3 121.2,65.6 122.3,65.8 123.4,65.9 124.4,66.0 125.5,66.1 126.6,66.2 127.6,66.3 128.7,66.4 129.8,66.5 130.9,66.6 131.9,66.7 133.0,66.8 134.1,66.9 135.1,67.0 136.2,67.1 137.3,67.1 138.4,67.1 139.4,67.2 140.5,67.2 141.6,67.2 142.6,67.2 143.7,67.2 144.8,67.2 145.9,67.1 146.9,67.1 148.0,67.1 149.1,67.1 150.1,67.1 151.2,67.1 152.3,67.1 153.4,67.1 154.4,67.1 155.5,67.1 156.6,67.1 157.6,67.1 158.7,67.1 159.8,67.1 160.9,67.1 161.9,67.1 163.0,67.1 164.1,67.1 165.1,67.1 166.2,67.1 167.3,67.1 168.4,67.1 169.4,67.1 170.5,67.1 171.6,67.1 172.6,67.1 173.7,67.1 174.8,67.1 175.9,67.1 176.9,67.1 178.0,67.1" fill="none" stroke="#5a1a1a" stroke-width="1" stroke-linejoin="round"/>
<polyline points="17.3,73.5 17.8,73.5 18.4,73.5 18.9,73.5 19.4,73.5 20.0,73.5 20.5,73.5 21.0,73.5 21.6,73.5 22.1,73.5 22.7,73.5 23.2,73.4 23.7,73.4 24.3,73.4 24.8,73.4 25.3,73.4 25.9,73.4 26.4,73.4 26.9,73.4 27.5,73.4 28.0,73.4 28.5,73.4 29.1,73.4 29.6,73.4 30.2,73.4 30.7,73.3 31.2,73.3 31.8,73.4 32.3,73.4 32.8,73.4 33.4,73.4 33.9,73.4 34.4,73.4 35.0,73.5 35.5,73.4 36.0,73.4 36.6,73.4 37.1,73.3 37.7,73.3 38.2,73.2 38.7,73.0 39.3,72.8 39.8,72.5 40.3,72.2 40.9,71.8 41.4,71.5 41.9,71.2 42.5,70.9 43.0,70.5 43.5,70.1 44.1,69.8 45.2,69.0 46.2,68.5 47.3,68.0 48.4,67.7 49.4,67.3 50.5,66.9 51.6,66.4 52.7,65.6 53.7,64.3 54.8,63.3 55.9,62.6 56.9,62.4 58.0,63.0 59.1,63.7 60.2,64.6 61.2,65.5 62.3,66.6 63.4,67.5 64.4,67.9 65.5,67.9 66.6,67.7 67.7,67.3 68.7,67.0 69.8,66.6 70.9,66.1 71.9,66.0 73.0,66.4 74.1,67.1 75.2,67.9 76.2,68.7 77.3,69.3 78.4,69.8 79.4,70.1 80.5,70.1 81.6,69.9 82.7,69.8 83.7,69.5 84.8,69.2 85.9,68.9 86.9,68.6 88.0,68.2 89.1,67.8 90.2,67.4 91.2,66.9 92.3,66.4 93.4,65.8 94.4,65.2 95.5,64.6 96.6,63.7 97.6,62.4 98.7,61.1 99.8,60.1 100.9,59.8 101.9,59.7 103.0,59.7 104.1,59.5 105.1,59.3 106.2,59.2 107.3,59.3 108.4,59.9 109.4,60.7 110.5,61.7 111.6,62.8 112.6,64.0 113.7,65.4 114.8,66.8 115.9,68.1 116.9,69.0 118.0,69.8 119.1,70.4 120.1,70.8 121.2,71.1 122.3,71.3 123.4,71.4 124.4,71.5 125.5,71.6 126.6,71.7 127.6,71.8 128.7,71.9 129.8,72.0 130.9,72.1 131.9,72.2 133.0,72.3 134.1,72.4 135.1,72.5 136.2,72.6 137.3,72.6 138.4,72.6 139.4,72.7 140.5,72.7 141.6,72.7 142.6,72.7 143.7,72.7 144.8,72.7 145.9,72.6 146.9,72.6 148.0,72.6 149.1,72.6 150.1,72.6 151.2,72.6 152.3,72.6 153.4,72.6 154.4,72.6 155.5,72.6 156.6,72.6 157.6,72.6 158.7,72.6 159.8,72.6 160.9,72.6 161.9,72.6 163.0,72.6 164.1,72.6 165.1,72.6 166.2,72.6 167.3,72.6 168.4,72.6 169.4,72.6 170.5,72.6 171.6,72.6 172.6,72.6 173.7,72.6 174.8,72.6 175.9,72.6 176.9,72.6 178.0,72.6" fill="none" stroke="#5a1a1a" stroke-width="1" stroke-linejoin="round"/>
<polyline points="17.3,78.5 17.8,78.5 18.4,78.5 18.9,78.5 19.4,78.5 20.0,78.5 20.5,78.5 21.0,78.5 21.6,78.5 22.1,78.5 22.7,78.5 23.2,78.4 23.7,78.4 24.3,78.4 24.8,78.4 25.3,78.4 25.9,78.4 26.4,78.4 26.9,78.4 27.5,78.4 28.0,78.4 28.5,78.4 29.1,78.4 29.6,78.4 30.2,78.4 30.7,78.3 31.2,78.3 31.8,78.4 32.3,78.4 32.8,78.4 33.4,78.4 33.9,78.4 34.4,78.4 35.0,78.5 35.5,78.4 36.0,78.4 36.6,78.4 37.1,78.3 37.7,78.3 38.2,78.2 38.7,78.0 39.3,77.8 39.8,77.5 40.3,77.2 40.9,76.8 41.4,76.5 41.9,76.2 42.5,75.9 43.0,75.5 43.5,75.1 44.1,74.8 45.2,74.0 46.2,73.5 47.3,73.0 48.4,72.7 49.4,72.3 50.5,71.9 51.6,71.4 52.7,70.6 53.7,69.3 54.8,68.3 55.9,67.6 56.9,67.4 58.0,68.0 59.1,68.7 60.2,69.6 61.2,70.5 62.3,71.6 63.4,72.5 64.4,72.9 65.5,72.9 66.6,72.7 67.7,72.3 68.7,72.0 69.8,71.6 70.9,71.1 71.9,71.0 73.0,71.4 74.1,72.1 75.2,72.9 76.2,73.7 77.3,74.3 78.4,74.8 79.4,75.1 80.5,75.1 81.6,74.9 82.7,74.8 83.7,74.5 84.8,74.2 85.9,73.9 86.9,73.6 88.0,73.2 89.1,72.8 90.2,72.4 91.2,71.9 92.3,71.4 93.4,70.8 94.4,70.2 95.5,69.6 96.6,68.7 97.6,67.4 98.7,66.1 99.8,65.1 100.9,64.8 101.9,64.7 103.0,64.7 104.1,64.5 105.1,64.3 106.2,64.2 107.3,64.3 108.4,64.9 109.4,65.7 110.5,66.7 111.6,67.8 112.6,69.0 113.7,70.4 114.8,71.8 115.9,73.1 116.9,74.0 118.0,74.8 119.1,75.4 120.1,75.8 121.2,76.1 122.3,76.3 123.4,76.4 124.4,76.5 125.5,76.6 126.6,76.7 127.6,76.8 128.7,76.9 129.8,77.0 130.9,77.1 131.9,77.2 133.0,77.3 134.1,77.4 135.1,77.5 136.2,77.6 137.3,77.6 138.4,77.6 139.4,77.7 140.5,77.7 141.6,77.7 142.6,77.7 143.7,77.7 144.8,77.7 145.9,77.6 146.9,77.6 148.0,77.6 149.1,77.6 150.1,77.6 151.2,77.6 152.3,77.6 153.4,77.6 154.4,77.6 155.5,77.6 156.6,77.6 157.6,77.6 158.7,77.6 159.8,77.6 160.9,77.6 161.9,77.6 163.0,77.6 164.1,77.6 165.1,77.6 166.2,77.6 167.3,77.6 168.4,77.6 169.4,77.6 170.5,77.6 171.6,77.6 172.6,77.6 173.7,77.6 174.8,77.6 175.9,77.6 176.9,77.6 178.0,77.6" fill="none" stroke="#5a1a1a" stroke-width="1" stroke-linejoin="round"/>
<polyline points="17.3,84.0 17.8,84.0 18.4,84.0 18.9,84.0 19.4,84.0 20.0,84.0 20.5,84.0 21.0,84.0 21.6,84.0 22.1,84.0 22.7,84.0 23.2,83.9 23.7,83.9 24.3,83.9 24.8,83.9 25.3,83.9 25.9,83.9 26.4,83.9 26.9,83.9 27.5,83.9 28.0,83.9 28.5,83.9 29.1,83.9 29.6,83.9 30.2,83.9 30.7,83.8 31.2,83.8 31.8,83.9 32.3,83.9 32.8,83.9 33.4,83.9 33.9,83.9 34.4,83.9 35.0,84.0 35.5,83.9 36.0,83.9 36.6,83.9 37.1,83.8 37.7,83.8 38.2,83.7 38.7,83.5 39.3,83.3 39.8,83.0 40.3,82.7 40.9,82.3 41.4,82.0 41.9,81.7 42.5,81.4 43.0,81.0 43.5,80.6 44.1,80.3 45.2,79.5 46.2,79.0 47.3,78.5 48.4,78.2 49.4,77.8 50.5,77.4 51.6,76.9 52.7,76.1 53.7,74.8 54.8,73.8 55.9,73.1 56.9,72.9 58.0,73.5 59.1,74.2 60.2,75.1 61.2,76.0 62.3,77.1 63.4,78.0 64.4,78.4 65.5,78.4 66.6,78.2 67.7,77.8 68.7,77.5 69.8,77.1 70.9,76.6 71.9,76.5 73.0,76.9 74.1,77.6 75.2,78.4 76.2,79.2 77.3,79.8 78.4,80.3 79.4,80.6 80.5,80.6 81.6,80.4 82.7,80.3 83.7,80.0 84.8,79.7 85.9,79.4 86.9,79.1 88.0,78.7 89.1,78.3 90.2,77.9 91.2,77.4 92.3,76.9 93.4,76.3 94.4,75.7 95.5,75.1 96.6,74.2 97.6,72.9 98.7,71.6 99.8,70.6 100.9,70.3 101.9,70.2 103.0,70.2 104.1,70.0 105.1,69.8 106.2,69.7 107.3,69.8 108.4,70.4 109.4,71.2 110.5,72.2 111.6,73.3 112.6,74.5 113.7,75.9 114.8,77.3 115.9,78.6 116.9,79.5 118.0,80.3 119.1,80.9 120.1,81.3 121.2,81.6 122.3,81.8 123.4,81.9 124.4,82.0 125.5,82.1 126.6,82.2 127.6,82.3 128.7,82.4 129.8,82.5 130.9,82.6 131.9,82.7 133.0,82.8 134.1,82.9 135.1,83.0 136.2,83.1 137.3,83.1 138.4,83.1 139.4,83.2 140.5,83.2 141.6,83.2 142.6,83.2 143.7,83.2 144.8,83.2 145.9,83.1 146.9,83.1 148.0,83.1 149.1,83.1 150.1,83.1 151.2,83.1 152.3,83.1 153.4,83.1 154.4,83.1 155.5,83.1 156.6,83.1 157.6,83.1 158.7,83.1 159.8,83.1 160.9,83.1 161.9,83.1 163.0,83.1 164.1,83.1 165.1,83.1 166.2,83.1 167.3,83.1 168.4,83.1 169.4,83.1 170.5,83.1 171.6,83.1 172.6,83.1 173.7,83.1 174.8,83.1 175.9,83.1 176.9,83.1 178.0,83.1" fill="none" stroke="#5a1a1a" stroke-width="1" stroke-linejoin="round"/>
<polyline points="17.3,90.5 17.8,90.5 18.4,90.5 18.9,90.5 19.4,90.5 20.0,90.5 20.5,90.5 21.0,90.5 21.6,90.5 22.1,90.5 22.7,90.5 23.2,90.4 23.7,90.4 24.3,90.4 24.8,90.4 25.3,90.4 25.9,90.4 26.4,90.4 26.9,90.4 27.5,90.4 28.0,90.4 28.5,90.4 29.1,90.4 29.6,90.4 30.2,90.4 30.7,90.3 31.2,90.3 31.8,90.4 32.3,90.4 32.8,90.4 33.4,90.4 33.9,90.4 34.4,90.4 35.0,90.5 35.5,90.4 36.0,90.4 36.6,90.4 37.1,90.3 37.7,90.3 38.2,90.2 38.7,90.0 39.3,89.8 39.8,89.5 40.3,89.2 40.9,88.8 41.4,88.5 41.9,88.2 42.5,87.9 43.0,87.5 43.5,87.1 44.1,86.8 45.2,86.0 46.2,85.5 47.3,85.0 48.4,84.7 49.4,84.3 50.5,83.9 51.6,83.4 52.7,82.6 53.7,81.3 54.8,80.3 55.9,79.6 56.9,79.4 58.0,80.0 59.1,80.7 60.2,81.6 61.2,82.5 62.3,83.6 63.4,84.5 64.4,84.9 65.5,84.9 66.6,84.7 67.7,84.3 68.7,84.0 69.8,83.6 70.9,83.1 71.9,83.0 73.0,83.4 74.1,84.1 75.2,84.9 76.2,85.7 77.3,86.3 78.4,86.8 79.4,87.1 80.5,87.1 81.6,86.9 82.7,86.8 83.7,86.5 84.8,86.2 85.9,85.9 86.9,85.6 88.0,85.2 89.1,84.8 90.2,84.4 91.2,83.9 92.3,83.4 93.4,82.8 94.4,82.2 95.5,81.6 96.6,80.7 97.6,79.4 98.7,78.1 99.8,77.1 100.9,76.8 101.9,76.7 103.0,76.7 104.1,76.5 105.1,76.3 106.2,76.2 107.3,76.3 108.4,76.9 109.4,77.7 110.5,78.7 111.6,79.8 112.6,81.0 113.7,82.4 114.8,83.8 115.9,85.1 116.9,86.0 118.0,86.8 119.1,87.4 120.1,87.8 121.2,88.1 122.3,88.3 123.4,88.4 124.4,88.5 125.5,88.6 126.6,88.7 127.6,88.8 128.7,88.9 129.8,89.0 130.9,89.1 131.9,89.2 133.0,89.3 134.1,89.4 135.1,89.5 136.2,89.6 137.3,89.6 138.4,89.6 139.4,89.7 140.5,89.7 141.6,89.7 142.6,89.7 143.7,89.7 144.8,89.7 145.9,89.6 146.9,89.6 148.0,89.6 149.1,89.6 150.1,89.6 151.2,89.6 152.3,89.6 153.4,89.6 154.4,89.6 155.5,89.6 156.6,89.6 157.6,89.6 158.7,89.6 159.8,89.6 160.9,89.6 161.9,89.6 163.0,89.6 164.1,89.6 165.1,89.6 166.2,89.6 167.3,89.6 168.4,89.6 169.4,89.6 170.5,89.6 171.6,89.6 172.6,89.6 173.7,89.6 174.8,89.6 175.9,89.6 176.9,89.6 178.0,89.6" fill="none" stroke="#5a1a1a" stroke-width="1" stroke-linejoin="round"/>
<polyline points="17.3,95.5 17.8,95.5 18.4,95.5 18.9,95.5 19.4,95.5 20.0,95.5 20.5,95.5 21.0,95.5 21.6,95.5 22.1,95.5 22.7,95.5 23.2,95.5 23.7,95.4 24.3,95.4 24.8,95.4 25.3,95.4 25.9,95.4 26.4,95.4 26.9,95.4 27.5,95.4 28.0,95.4 28.5,95.4 29.1,95.4 29.6,95.4 30.2,95.4 30.7,95.4 31.2,95.4 31.8,95.4 32.3,95.4 32.8,95.4 33.4,95.4 33.9,95.4 34.4,95.4 35.0,95.5 35.5,95.5 36.0,95.4 36.6,95.4 37.1,95.4 37.7,95.3 38.2,95.2 38.7,95.0 39.3,94.8 39.8,94.5 40.3,94.2 40.9,93.9 41.4,93.6 41.9,93.3 42.5,93.0 43.0,92.7 43.5,92.3 44.1,91.9 45.2,91.3 46.2,90.7 47.3,90.3 48.4,90.0 49.4,89.6 50.5,89.2 51.6,88.8 52.7,88.0 53.7,86.8 54.8,85.8 55.9,85.1 56.9,85.0 58.0,85.5 59.1,86.2 60.2,87.0 61.2,87.9 62.3,88.9 63.4,89.8 64.4,90.2 65.5,90.2 66.6,90.0 67.7,89.7 68.7,89.4 69.8,88.9 70.9,88.5 71.9,88.4 73.0,88.8 74.1,89.4 75.2,90.2 76.2,91.0 77.3,91.5 78.4,92.0 79.4,92.3 80.5,92.2 81.6,92.1 82.7,91.9 83.7,91.7 84.8,91.5 85.9,91.2 86.9,90.8 88.0,90.5 89.1,90.1 90.2,89.7 91.2,89.2 92.3,88.7 93.4,88.2 94.4,87.6 95.5,87.0 96.6,86.2 97.6,85.0 98.7,83.7 99.8,82.8 100.9,82.5 101.9,82.4 103.0,82.4 104.1,82.2 105.1,82.0 106.2,81.9 107.3,82.0 108.4,82.6 109.4,83.4 110.5,84.3 111.6,85.3 112.6,86.5 113.7,87.8 114.8,89.2 115.9,90.3 116.9,91.3 118.0,92.0 119.1,92.6 120.1,93.0 121.2,93.2 122.3,93.4 123.4,93.5 124.4,93.6 125.5,93.7 126.6,93.8 127.6,93.8 128.7,94.0 129.8,94.1 130.9,94.2 131.9,94.3 133.0,94.4 134.1,94.5 135.1,94.6 136.2,94.6 137.3,94.7 138.4,94.7 139.4,94.7 140.5,94.7 141.6,94.7 142.6,94.7 143.7,94.7 144.8,94.7 145.9,94.7 146.9,94.7 148.0,94.7 149.1,94.7 150.1,94.6 151.2,94.6 152.3,94.6 153.4,94.6 154.4,94.6 155.5,94.6 156.6,94.6 157.6,94.6 158.7,94.6 159.8,94.6 160.9,94.6 161.9,94.6 163.0,94.6 164.1,94.6 165.1,94.6 166.2,94.6 167.3,94.6 168.4,94.6 169.4,94.6 170.5,94.6 171.6,94.6 172.6,94.6 173.7,94.6 174.8,94.6 175.9,94.6 176.9,94.6 178.0,94.6" fill="none" stroke="#5a1a1a" stroke-width="1" stroke-linejoin="round"/>
<polyline points="17.3,99.6 17.8,99.6 18.4,99.6 18.9,99.6 19.4,99.6 20.0,99.6 20.5,99.6 21.0,99.6 21.6,99.6 22.1,99.6 22.7,99.6 23.2,99.6 23.7,99.5 24.3,99.5 24.8,99.5 25.3,99.5 25.9,99.5 26.4,99.5 26.9,99.5 27.5,99.5 28.0,99.5 28.5,99.5 29.1,99.5 29.6,99.5 30.2,99.5 30.7,99.5 31.2,99.5 31.8,99.5 32.3,99.5 32.8,99.5 33.4,99.5 33.9,99.5 34.4,99.5 35.0,99.6 35.5,99.6 36.0,99.5 36.6,99.5 37.1,99.5 37.7,99.4 38.2,99.3 38.7,99.1 39.3,98.9 39.8,98.6 40.3,98.3 40.9,98.0 41.4,97.7 41.9,97.4 42.5,97.1 43.0,96.8 43.5,96.4 44.1,96.0 45.2,95.4 46.2,94.8 47.3,94.4 48.4,94.1 49.4,93.7 50.5,93.3 51.6,92.9 52.7,92.1 53.7,90.9 54.8,89.9 55.9,89.2 56.9,89.1 58.0,89.6 59.1,90.3 60.2,91.1 61.2,92.0 62.3,93.0 63.4,93.9 64.4,94.3 65.5,94.3 66.6,94.1 67.7,93.8 68.7,93.5 69.8,93.0 70.9,92.6 71.9,92.5 73.0,92.9 74.1,93.5 75.2,94.3 76.2,95.1 77.3,95.6 78.4,96.1 79.4,96.4 80.5,96.3 81.6,96.2 82.7,96.0 83.7,95.8 84.8,95.6 85.9,95.3 86.9,94.9 88.0,94.6 89.1,94.2 90.2,93.8 91.2,93.3 92.3,92.8 93.4,92.3 94.4,91.7 95.5,91.1 96.6,90.3 97.6,89.1 98.7,87.8 99.8,86.9 100.9,86.6 101.9,86.5 103.0,86.5 104.1,86.3 105.1,86.1 106.2,86.0 107.3,86.1 108.4,86.7 109.4,87.5 110.5,88.4 111.6,89.4 112.6,90.6 113.7,91.9 114.8,93.3 115.9,94.4 116.9,95.4 118.0,96.1 119.1,96.7 120.1,97.1 121.2,97.3 122.3,97.5 123.4,97.6 124.4,97.7 125.5,97.8 126.6,97.9 127.6,97.9 128.7,98.1 129.8,98.2 130.9,98.3 131.9,98.4 133.0,98.5 134.1,98.6 135.1,98.7 136.2,98.7 137.3,98.8 138.4,98.8 139.4,98.8 140.5,98.8 141.6,98.8 142.6,98.8 143.7,98.8 144.8,98.8 145.9,98.8 146.9,98.8 148.0,98.8 149.1,98.8 150.1,98.7 151.2,98.7 152.3,98.7 153.4,98.7 154.4,98.7 155.5,98.7 156.6,98.7 157.6,98.7 158.7,98.7 159.8,98.7 160.9,98.7 161.9,98.7 163.0,98.7 164.1,98.7 165.1,98.7 166.2,98.7 167.3,98.7 168.4,98.7 169.4,98.7 170.5,98.7 171.6,98.7 172.6,98.7 173.7,98.7 174.8,98.7 175.9,98.7 176.9,98.7 178.0,98.7" fill="none" stroke="#5a1a1a" stroke-width="1" stroke-linejoin="round"/>
<polyline points="17.3,104.0 17.8,104.0 18.4,104.0 18.9,104.0 19.4,104.0 20.0,104.0 20.5,104.0 21.0,104.0 21.6,104.0 22.1,104.0 22.7,104.0 23.2,104.0 23.7,103.9 24.3,103.9 24.8,103.9 25.3,103.9 25.9,103.9 26.4,103.9 26.9,103.9 27.5,103.9 28.0,103.9 28.5,103.9 29.1,103.9 29.6,103.9 30.2,103.9 30.7,103.9 31.2,103.9 31.8,103.9 32.3,103.9 32.8,103.9 33.4,103.9 33.9,103.9 34.4,104.0 35.0,104.0 35.5,104.0 36.0,103.9 36.6,103.9 37.1,103.9 37.7,103.8 38.2,103.7 38.7,103.6 39.3,103.3 39.8,103.1 40.3,102.8 40.9,102.5 41.4,102.2 41.9,101.9 42.5,101.6 43.0,101.3 43.5,101.0 44.1,100.6 45.2,100.0 46.2,99.5 47.3,99.1 48.4,98.7 49.4,98.4 50.5,98.1 51.6,97.6 52.7,96.9 53.7,95.8 54.8,94.9 55.9,94.2 56.9,94.1 58.0,94.5 59.1,95.2 60.2,96.0 61.2,96.8 62.3,97.8 63.4,98.6 64.4,99.0 65.5,99.0 66.6,98.7 67.7,98.5 68.7,98.2 69.8,97.7 70.9,97.4 71.9,97.3 73.0,97.6 74.1,98.2 75.2,99.0 76.2,99.7 77.3,100.2 78.4,100.7 79.4,100.9 80.5,100.9 81.6,100.8 82.7,100.6 83.7,100.4 84.8,100.2 85.9,99.9 86.9,99.6 88.0,99.2 89.1,98.9 90.2,98.5 91.2,98.1 92.3,97.6 93.4,97.1 94.4,96.6 95.5,96.0 96.6,95.2 97.6,94.1 98.7,92.8 99.8,92.0 100.9,91.6 101.9,91.6 103.0,91.6 104.1,91.4 105.1,91.2 106.2,91.1 107.3,91.2 108.4,91.7 109.4,92.5 110.5,93.4 111.6,94.3 112.6,95.4 113.7,96.7 114.8,98.0 115.9,99.1 116.9,100.0 118.0,100.7 119.1,101.2 120.1,101.6 121.2,101.8 122.3,102.0 123.4,102.1 124.4,102.2 125.5,102.3 126.6,102.4 127.6,102.4 128.7,102.5 129.8,102.6 130.9,102.7 131.9,102.8 133.0,102.9 134.1,103.0 135.1,103.1 136.2,103.2 137.3,103.2 138.4,103.2 139.4,103.2 140.5,103.3 141.6,103.3 142.6,103.3 143.7,103.2 144.8,103.2 145.9,103.2 146.9,103.2 148.0,103.2 149.1,103.2 150.1,103.2 151.2,103.2 152.3,103.2 153.4,103.2 154.4,103.2 155.5,103.2 156.6,103.2 157.6,103.2 158.7,103.2 159.8,103.2 160.9,103.2 161.9,103.2 163.0,103.2 164.1,103.2 165.1,103.2 166.2,103.2 167.3,103.2 168.4,103.2 169.4,103.2 170.5,103.2 171.6,103.2 172.6,103.2 173.7,103.2 174.8,103.2 175.9,103.2 176.9,103.2 178.0,103.2" fill="none" stroke="#5a1a1a" stroke-width="1" stroke-linejoin="round"/>
<polyline points="17.3,108.0 17.8,108.0 18.4,108.0 18.9,108.0 19.4,108.0 20.0,108.0 20.5,108.0 21.0,108.0 21.6,108.0 22.1,108.0 22.7,108.0 23.2,108.0 23.7,108.0 24.3,107.9 24.8,107.9 25.3,107.9 25.9,107.9 26.4,107.9 26.9,107.9 27.5,107.9 28.0,107.9 28.5,107.9 29.1,107.9 29.6,107.9 30.2,107.9 30.7,107.9 31.2,107.9 31.8,107.9 32.3,107.9 32.8,107.9 33.4,107.9 33.9,107.9 34.4,108.0 35.0,108.0 35.5,108.0 36.0,107.9 36.6,107.9 37.1,107.9 37.7,107.8 38.2,107.7 38.7,107.6 39.3,107.4 39.8,107.1 40.3,106.9 40.9,106.6 41.4,106.3 41.9,106.0 42.5,105.8 43.0,105.5 43.5,105.1 44.1,104.8 45.2,104.2 46.2,103.7 47.3,103.4 48.4,103.0 49.4,102.7 50.5,102.4 51.6,102.0 52.7,101.3 53.7,100.2 54.8,99.4 55.9,98.7 56.9,98.6 58.0,99.0 59.1,99.6 60.2,100.4 61.2,101.2 62.3,102.1 63.4,102.9 64.4,103.2 65.5,103.2 66.6,103.0 67.7,102.8 68.7,102.5 69.8,102.1 70.9,101.7 71.9,101.6 73.0,102.0 74.1,102.5 75.2,103.3 76.2,104.0 77.3,104.4 78.4,104.9 79.4,105.1 80.5,105.1 81.6,105.0 82.7,104.8 83.7,104.6 84.8,104.4 85.9,104.1 86.9,103.8 88.0,103.5 89.1,103.2 90.2,102.8 91.2,102.4 92.3,102.0 93.4,101.5 94.4,101.0 95.5,100.4 96.6,99.7 97.6,98.6 98.7,97.4 99.8,96.6 100.9,96.3 101.9,96.3 103.0,96.3 104.1,96.1 105.1,95.9 106.2,95.8 107.3,95.9 108.4,96.4 109.4,97.1 110.5,98.0 111.6,98.9 112.6,99.9 113.7,101.1 114.8,102.3 115.9,103.4 116.9,104.2 118.0,104.9 119.1,105.4 120.1,105.7 121.2,106.0 122.3,106.1 123.4,106.2 124.4,106.3 125.5,106.4 126.6,106.4 127.6,106.5 128.7,106.6 129.8,106.7 130.9,106.8 131.9,106.9 133.0,107.0 134.1,107.1 135.1,107.2 136.2,107.2 137.3,107.2 138.4,107.3 139.4,107.3 140.5,107.3 141.6,107.3 142.6,107.3 143.7,107.3 144.8,107.3 145.9,107.3 146.9,107.3 148.0,107.3 149.1,107.2 150.1,107.2 151.2,107.2 152.3,107.2 153.4,107.2 154.4,107.2 155.5,107.2 156.6,107.2 157.6,107.2 158.7,107.2 159.8,107.2 160.9,107.2 161.9,107.2 163.0,107.2 164.1,107.2 165.1,107.2 166.2,107.2 167.3,107.2 168.4,107.2 169.4,107.2 170.5,107.2 171.6,107.2 172.6,107.2 173.7,107.2 174.8,107.2 175.9,107.2 176.9,107.2 178.0,107.2" fill="none" stroke="#5a1a1a" stroke-width="1" stroke-linejoin="round"/>
<polyline points="17.3,112.0 17.8,112.0 18.4,112.0 18.9,112.0 19.4,112.0 20.0,112.0 20.5,112.0 21.0,112.0 21.6,112.0 22.1,112.0 22.7,112.0 23.2,112.0 23.7,112.0 24.3,112.0 24.8,112.0 25.3,112.0 25.9,112.0 26.4,112.0 26.9,112.0 27.5,111.9 28.0,111.9 28.5,111.9 29.1,111.9 29.6,111.9 30.2,111.9 30.7,111.9 31.2,111.9 31.8,111.9 32.3,111.9 32.8,111.9 33.4,112.0 33.9,112.0 34.4,112.0 35.0,112.0 35.5,112.0 36.0,112.0 36.6,111.9 37.1,111.9 37.7,111.9 38.2,111.8 38.7,111.8 39.3,111.6 39.8,111.5 40.3,111.3 40.9,111.2 41.4,111.0 41.9,110.8 42.5,110.7 43.0,110.5 43.5,110.3 44.1,110.1 45.2,109.8 46.2,109.5 47.3,109.3 48.4,109.1 49.4,108.9 50.5,108.7 51.6,108.5 52.7,108.1 53.7,107.4 54.8,106.9 55.9,106.5 56.9,106.5 58.0,106.7 59.1,107.1 60.2,107.5 61.2,108.0 62.3,108.5 63.4,109.0 64.4,109.2 65.5,109.2 66.6,109.1 67.7,108.9 68.7,108.8 69.8,108.5 70.9,108.3 71.9,108.3 73.0,108.5 74.1,108.8 75.2,109.2 76.2,109.6 77.3,109.9 78.4,110.2 79.4,110.3 80.5,110.3 81.6,110.2 82.7,110.1 83.7,110.0 84.8,109.9 85.9,109.7 86.9,109.5 88.0,109.3 89.1,109.1 90.2,108.9 91.2,108.7 92.3,108.4 93.4,108.2 94.4,107.9 95.5,107.5 96.6,107.1 97.6,106.5 98.7,105.8 99.8,105.3 100.9,105.1 101.9,105.1 103.0,105.1 104.1,105.0 105.1,104.9 106.2,104.8 107.3,104.9 108.4,105.2 109.4,105.6 110.5,106.1 111.6,106.6 112.6,107.2 113.7,107.9 114.8,108.7 115.9,109.3 116.9,109.8 118.0,110.2 119.1,110.5 120.1,110.7 121.2,110.8 122.3,110.9 123.4,111.0 124.4,111.0 125.5,111.1 126.6,111.1 127.6,111.1 128.7,111.2 129.8,111.2 130.9,111.3 131.9,111.4 133.0,111.4 134.1,111.5 135.1,111.5 136.2,111.5 137.3,111.6 138.4,111.6 139.4,111.6 140.5,111.6 141.6,111.6 142.6,111.6 143.7,111.6 144.8,111.6 145.9,111.6 146.9,111.6 148.0,111.6 149.1,111.6 150.1,111.6 151.2,111.5 152.3,111.5 153.4,111.5 154.4,111.5 155.5,111.5 156.6,111.5 157.6,111.5 158.7,111.5 159.8,111.5 160.9,111.5 161.9,111.5 163.0,111.5 164.1,111.5 165.1,111.5 166.2,111.5 167.3,111.5 168.4,111.5 169.4,111.5 170.5,111.5 171.6,111.5 172.6,111.5 173.7,111.5 174.8,111.5 175.9,111.5 176.9,111.5 178.0,111.5" fill="none" stroke="#5a1a1a" stroke-width="1" stroke-linejoin="round"/>
<polyline points="17.3,115.2 17.8,115.2 18.4,115.2 18.9,115.2 19.4,115.2 20.0,115.2 20.5,115.2 21.0,115.2 21.6,115.2 22.1,115.2 22.7,115.2 23.2,115.2 23.7,115.2 24.3,115.2 24.8,115.2 25.3,115.2 25.9,115.2 26.4,115.2 26.9,115.2 27.5,115.2 28.0,115.2 28.5,115.2 29.1,115.2 29.6,115.2 30.2,115.2 30.7,115.2 31.2,115.2 31.8,115.2 32.3,115.2 32.8,115.2 33.4,115.2 33.9,115.2 34.4,115.2 35.0,115.2 35.5,115.2 36.0,115.2 36.6,115.2 37.1,115.2 37.7,115.2 38.2,115.2 38.7,115.2 39.3,115.2 39.8,115.2 40.3,115.2 40.9,115.2 41.4,115.2 41.9,115.2 42.5,115.2 43.0,115.2 43.5,115.2 44.1,115.2 45.2,115.2 46.2,115.2 47.3,115.2 48.4,115.2 49.4,115.2 50.5,115.2 51.6,115.2 52.7,115.2 53.7,115.2 54.8,115.2 55.9,115.2 56.9,115.2 58.0,115.2 59.1,115.2 60.2,115.2 61.2,115.2 62.3,115.2 63.4,115.2 64.4,115.2 65.5,115.2 66.6,115.2 67.7,115.2 68.7,115.2 69.8,115.2 70.9,115.2 71.9,115.2 73.0,115.2 74.1,115.2 75.2,115.2 76.2,115.2 77.3,115.2 78.4,115.2 79.4,115.2 80.5,115.2 81.6,115.2 82.7,115.2 83.7,115.2 84.8,115.2 85.9,115.2 86.9,115.2 88.0,115.2 89.1,115.2 90.2,115.2 91.2,115.2 92.3,115.2 93.4,115.2 94.4,115.2 95.5,115.2 96.6,115.2 97.6,115.2 98.7,115.2 99.8,115.2 100.9,115.2 101.9,115.2 103.0,115.2 104.1,115.2 105.1,115.2 106.2,115.2 107.3,115.2 108.4,115.2 109.4,115.2 110.5,115.2 111.6,115.2 112.6,115.2 113.7,115.2 114.8,115.2 115.9,115.2 116.9,115.2 118.0,115.2 119.1,115.2 120.1,115.2 121.2,115.2 122.3,115.2 123.4,115.2 124.4,115.2 125.5,115.2 126.6,115.2 127.6,115.2 128.7,115.2 129.8,115.2 130.9,115.2 131.9,115.2 133.0,115.2 134.1,115.2 135.1,115.2 136.2,115.2 137.3,115.2 138.4,115.2 139.4,115.2 140.5,115.2 141.6,115.2 142.6,115.2 143.7,115.2 144.8,115.2 145.9,115.2 146.9,115.2 148.0,115.2 149.1,115.2 150.1,115.2 151.2,115.2 152.3,115.2 153.4,115.2 154.4,115.2 155.5,115.2 156.6,115.2 157.6,115.2 158.7,115.2 159.8,115.2 160.9,115.2 161.9,115.2 163.0,115.2 164.1,115.2 165.1,115.2 166.2,115.2 167.3,115.2 168.4,115.2 169.4,115.2 170.5,115.2 171.6,115.2 172.6,115.2 173.7,115.2 174.8,115.2 175.9,115.2 176.9,115.2 178.0,115.2" fill="none" stroke="#5a1a1a" stroke-width="1" stroke-linejoin="round"/>
<path d="M56.6 40.5 l-1.2 2.6 h2.4 z" fill="#000"/>
<text x="60" y="35" font-size="7" text-anchor="start" font-weight="bold" fill="#000" transform="rotate(-90 60 35)">1290</text>
<path d="M72.4 41 l-1.2 2.6 h2.4 z" fill="#000"/>
<text x="75" y="38" font-size="7" text-anchor="start" font-weight="bold" fill="#000" transform="rotate(-90 75 38)">1420</text>
<path d="M99.4 37.5 l-1.2 2.6 h2.4 z" fill="#000"/>
<text x="100" y="33" font-size="7" text-anchor="start" font-weight="bold" fill="#000" transform="rotate(-90 100 33)">1619</text>
<path d="M106.6 36.5 l-1.2 2.6 h2.4 z" fill="#000"/>
<text x="110" y="32" font-size="7" text-anchor="start" font-weight="bold" fill="#000" transform="rotate(-90 110 32)">1670</text>
<rect x="17.3" y="10.5" width="160.7" height="111.8" fill="none" stroke="#000" stroke-width="1.3"/>
<line x1="17.3" y1="122.3" x2="17.3" y2="125.3" stroke="#000" stroke-width="1"/>
<line x1="30.69" y1="122.3" x2="30.69" y2="124.1" stroke="#000" stroke-width="1"/>
<line x1="44.08" y1="122.3" x2="44.08" y2="125.3" stroke="#000" stroke-width="1"/>
<line x1="57.47" y1="122.3" x2="57.47" y2="124.1" stroke="#000" stroke-width="1"/>
<line x1="70.87" y1="122.3" x2="70.87" y2="125.3" stroke="#000" stroke-width="1"/>
<line x1="84.26" y1="122.3" x2="84.26" y2="124.1" stroke="#000" stroke-width="1"/>
<line x1="97.65" y1="122.3" x2="97.65" y2="125.3" stroke="#000" stroke-width="1"/>
<line x1="111.04" y1="122.3" x2="111.04" y2="124.1" stroke="#000" stroke-width="1"/>
<line x1="124.43" y1="122.3" x2="124.43" y2="125.3" stroke="#000" stroke-width="1"/>
<line x1="137.83" y1="122.3" x2="137.83" y2="124.1" stroke="#000" stroke-width="1"/>
<line x1="151.22" y1="122.3" x2="151.22" y2="125.3" stroke="#000" stroke-width="1"/>
<line x1="164.61" y1="122.3" x2="164.61" y2="124.1" stroke="#000" stroke-width="1"/>
<line x1="178" y1="122.3" x2="178" y2="125.3" stroke="#000" stroke-width="1"/>
<text x="17.3" y="133" font-size="8.2" text-anchor="middle" font-weight="bold" fill="#000">1000</text>
<text x="44.08" y="133" font-size="8.2" text-anchor="middle" font-weight="bold" fill="#000">1200</text>
<text x="70.87" y="133" font-size="8.2" text-anchor="middle" font-weight="bold" fill="#000">1400</text>
<text x="97.65" y="133" font-size="8.2" text-anchor="middle" font-weight="bold" fill="#000">1600</text>
<text x="124.43" y="133" font-size="8.2" text-anchor="middle" font-weight="bold" fill="#000">1800</text>
<text x="151.22" y="133" font-size="8.2" text-anchor="middle" font-weight="bold" fill="#000">2000</text>
<text x="178" y="133" font-size="8.2" text-anchor="middle" font-weight="bold" fill="#000">2200</text>
<text x="97.4" y="142.6" font-size="9.3" text-anchor="middle" font-weight="bold">Wavenumber (cm<tspan font-size="6.05" dy="-3.5">-1</tspan><tspan dy="3.5">)</tspan></text>
<text x="11.8" y="68.3" font-size="9.3" text-anchor="middle" font-weight="bold" fill="#000" transform="rotate(-90 11.8 68.3)">Absorbance (arb.units)</text>
<line x1="22" y1="18.5" x2="22" y2="35.6" stroke="#888" stroke-width="1"/>
<path d="M22 17 l-1.1 2.6 h2.2 z" fill="#888"/>
<text x="24.2" y="30.4" font-size="9" text-anchor="start" font-weight="bold" fill="#000">0.1</text>
<text x="159.4" y="23.6" font-size="9.2" text-anchor="middle" font-weight="bold" fill="#000">NTL</text>
<text x="157.5" y="42" font-size="7.4" text-anchor="middle" font-weight="bold" fill="#333">Irradiation</text>
<text x="193.5" y="7" font-size="11.5" font-weight="bold" fill="#000">a<tspan font-size="8.16" dy="2.7">2</tspan></text>
<g clip-path="url(#hc1)"><g filter="url(#hblur)">
<rect x="214" y="8.3" width="1.8" height="116" fill="url(#g2)"/>
<rect x="215.5" y="8.3" width="1.8" height="116" fill="url(#g3)"/>
<rect x="217" y="8.3" width="1.8" height="116" fill="url(#g4)"/>
<rect x="218.5" y="8.3" width="1.8" height="116" fill="url(#g5)"/>
<rect x="220" y="8.3" width="1.8" height="116" fill="url(#g6)"/>
<rect x="221.5" y="8.3" width="1.8" height="116" fill="url(#g7)"/>
<rect x="223" y="8.3" width="1.8" height="116" fill="url(#g8)"/>
<rect x="224.5" y="8.3" width="1.8" height="116" fill="url(#g9)"/>
<rect x="226" y="8.3" width="1.8" height="116" fill="url(#g10)"/>
<rect x="227.5" y="8.3" width="1.8" height="116" fill="url(#g11)"/>
<rect x="229" y="8.3" width="1.8" height="116" fill="url(#g12)"/>
<rect x="230.5" y="8.3" width="1.8" height="116" fill="url(#g13)"/>
<rect x="232" y="8.3" width="1.8" height="116" fill="url(#g14)"/>
<rect x="233.5" y="8.3" width="1.8" height="116" fill="url(#g15)"/>
<rect x="235" y="8.3" width="1.8" height="116" fill="url(#g16)"/>
<rect x="236.5" y="8.3" width="1.8" height="116" fill="url(#g17)"/>
<rect x="238" y="8.3" width="1.8" height="116" fill="url(#g18)"/>
<rect x="239.5" y="8.3" width="1.8" height="116" fill="url(#g19)"/>
<rect x="241" y="8.3" width="1.8" height="116" fill="url(#g20)"/>
<rect x="242.5" y="8.3" width="1.8" height="116" fill="url(#g21)"/>
<rect x="244" y="8.3" width="1.8" height="116" fill="url(#g22)"/>
<rect x="245.5" y="8.3" width="1.8" height="116" fill="url(#g23)"/>
<rect x="247" y="8.3" width="1.8" height="116" fill="url(#g24)"/>
<rect x="248.5" y="8.3" width="1.8" height="116" fill="url(#g25)"/>
<rect x="250" y="8.3" width="1.8" height="116" fill="url(#g26)"/>
<rect x="251.5" y="8.3" width="1.8" height="116" fill="url(#g27)"/>
<rect x="253" y="8.3" width="1.8" height="116" fill="url(#g28)"/>
<rect x="254.5" y="8.3" width="1.8" height="116" fill="url(#g29)"/>
<rect x="256" y="8.3" width="1.8" height="116" fill="url(#g30)"/>
<rect x="257.5" y="8.3" width="1.8" height="116" fill="url(#g31)"/>
<rect x="259" y="8.3" width="1.8" height="116" fill="url(#g32)"/>
<rect x="260.5" y="8.3" width="1.8" height="116" fill="url(#g33)"/>
<rect x="262" y="8.3" width="1.8" height="116" fill="url(#g34)"/>
<rect x="263.5" y="8.3" width="1.8" height="116" fill="url(#g35)"/>
<rect x="265" y="8.3" width="1.8" height="116" fill="url(#g36)"/>
<rect x="266.5" y="8.3" width="1.8" height="116" fill="url(#g37)"/>
<rect x="268" y="8.3" width="1.8" height="116" fill="url(#g38)"/>
<rect x="269.5" y="8.3" width="1.8" height="116" fill="url(#g39)"/>
<rect x="271" y="8.3" width="1.8" height="116" fill="url(#g40)"/>
<rect x="272.5" y="8.3" width="1.8" height="116" fill="url(#g41)"/>
<rect x="274" y="8.3" width="1.8" height="116" fill="url(#g42)"/>
<rect x="275.5" y="8.3" width="1.8" height="116" fill="url(#g43)"/>
<rect x="277" y="8.3" width="1.8" height="116" fill="url(#g44)"/>
<rect x="278.5" y="8.3" width="1.8" height="116" fill="url(#g45)"/>
<rect x="280" y="8.3" width="1.8" height="116" fill="url(#g46)"/>
<rect x="281.5" y="8.3" width="1.8" height="116" fill="url(#g47)"/>
<rect x="283" y="8.3" width="1.8" height="116" fill="url(#g48)"/>
<rect x="284.5" y="8.3" width="1.8" height="116" fill="url(#g49)"/>
<rect x="286" y="8.3" width="1.8" height="116" fill="url(#g50)"/>
<rect x="287.5" y="8.3" width="1.8" height="116" fill="url(#g51)"/>
<rect x="289" y="8.3" width="1.8" height="116" fill="url(#g52)"/>
<rect x="290.5" y="8.3" width="1.8" height="116" fill="url(#g53)"/>
<rect x="292" y="8.3" width="1.8" height="116" fill="url(#g54)"/>
<rect x="293.5" y="8.3" width="1.8" height="116" fill="url(#g55)"/>
<rect x="295" y="8.3" width="1.8" height="116" fill="url(#g56)"/>
<rect x="296.5" y="8.3" width="1.8" height="116" fill="url(#g57)"/>
<rect x="298" y="8.3" width="1.8" height="116" fill="url(#g58)"/>
<rect x="299.5" y="8.3" width="1.8" height="116" fill="url(#g59)"/>
<rect x="301" y="8.3" width="1.8" height="116" fill="url(#g60)"/>
<rect x="302.5" y="8.3" width="1.8" height="116" fill="url(#g61)"/>
<rect x="304" y="8.3" width="1.8" height="116" fill="url(#g62)"/>
<rect x="305.5" y="8.3" width="1.8" height="116" fill="url(#g63)"/>
<rect x="307" y="8.3" width="1.8" height="116" fill="url(#g64)"/>
<rect x="308.5" y="8.3" width="1.8" height="116" fill="url(#g65)"/>
<rect x="310" y="8.3" width="1.8" height="116" fill="url(#g66)"/>
<rect x="311.5" y="8.3" width="1.8" height="116" fill="url(#g67)"/>
<rect x="313" y="8.3" width="1.8" height="116" fill="url(#g68)"/>
<rect x="314.5" y="8.3" width="1.8" height="116" fill="url(#g69)"/>
<rect x="316" y="8.3" width="1.8" height="116" fill="url(#g70)"/>
<rect x="317.5" y="8.3" width="1.8" height="116" fill="url(#g71)"/>
<rect x="319" y="8.3" width="1.8" height="116" fill="url(#g72)"/>
<rect x="320.5" y="8.3" width="1.8" height="116" fill="url(#g73)"/>
<rect x="322" y="8.3" width="1.8" height="116" fill="url(#g74)"/>
<rect x="323.5" y="8.3" width="1.8" height="116" fill="url(#g75)"/>
<rect x="325" y="8.3" width="1.8" height="116" fill="url(#g76)"/>
<rect x="326.5" y="8.3" width="1.8" height="116" fill="url(#g77)"/>
<rect x="328" y="8.3" width="1.8" height="116" fill="url(#g78)"/>
<rect x="329.5" y="8.3" width="1.8" height="116" fill="url(#g79)"/>
<rect x="331" y="8.3" width="1.8" height="116" fill="url(#g80)"/>
<rect x="332.5" y="8.3" width="3.1" height="116" fill="url(#g81)"/>
</g></g>
<rect x="216" y="10.3" width="117.3" height="112" fill="none" stroke="#222" stroke-width="0.8"/>
<line x1="216" y1="122.3" x2="213" y2="122.3" stroke="#000" stroke-width="0.9"/>
<line x1="216" y1="113.68" x2="214.4" y2="113.68" stroke="#000" stroke-width="0.9"/>
<line x1="216" y1="105.07" x2="213" y2="105.07" stroke="#000" stroke-width="0.9"/>
<line x1="216" y1="96.45" x2="214.4" y2="96.45" stroke="#000" stroke-width="0.9"/>
<line x1="216" y1="87.84" x2="213" y2="87.84" stroke="#000" stroke-width="0.9"/>
<line x1="216" y1="79.22" x2="214.4" y2="79.22" stroke="#000" stroke-width="0.9"/>
<line x1="216" y1="70.61" x2="213" y2="70.61" stroke="#000" stroke-width="0.9"/>
<line x1="216" y1="61.99" x2="214.4" y2="61.99" stroke="#000" stroke-width="0.9"/>
<line x1="216" y1="53.38" x2="213" y2="53.38" stroke="#000" stroke-width="0.9"/>
<line x1="216" y1="44.76" x2="214.4" y2="44.76" stroke="#000" stroke-width="0.9"/>
<line x1="216" y1="36.15" x2="213" y2="36.15" stroke="#000" stroke-width="0.9"/>
<line x1="216" y1="27.53" x2="214.4" y2="27.53" stroke="#000" stroke-width="0.9"/>
<line x1="216" y1="18.92" x2="213" y2="18.92" stroke="#000" stroke-width="0.9"/>
<line x1="216" y1="10.3" x2="214.4" y2="10.3" stroke="#000" stroke-width="0.9"/>
<text x="212" y="125.5" font-size="8.6" text-anchor="end" font-weight="bold" fill="#000">0</text>
<text x="212" y="108.27" font-size="8.6" text-anchor="end" font-weight="bold" fill="#000">10</text>
<text x="212" y="91.04" font-size="8.6" text-anchor="end" font-weight="bold" fill="#000">20</text>
<text x="212" y="73.81" font-size="8.6" text-anchor="end" font-weight="bold" fill="#000">30</text>
<text x="212" y="56.58" font-size="8.6" text-anchor="end" font-weight="bold" fill="#000">40</text>
<text x="212" y="39.35" font-size="8.6" text-anchor="end" font-weight="bold" fill="#000">50</text>
<text x="212" y="22.12" font-size="8.6" text-anchor="end" font-weight="bold" fill="#000">60</text>
<line x1="216" y1="122.3" x2="216" y2="124.1" stroke="#000" stroke-width="0.9"/>
<line x1="235.55" y1="122.3" x2="235.55" y2="125.3" stroke="#000" stroke-width="0.9"/>
<line x1="255.1" y1="122.3" x2="255.1" y2="124.1" stroke="#000" stroke-width="0.9"/>
<line x1="274.65" y1="122.3" x2="274.65" y2="125.3" stroke="#000" stroke-width="0.9"/>
<line x1="294.2" y1="122.3" x2="294.2" y2="124.1" stroke="#000" stroke-width="0.9"/>
<line x1="313.75" y1="122.3" x2="313.75" y2="125.3" stroke="#000" stroke-width="0.9"/>
<line x1="333.3" y1="122.3" x2="333.3" y2="124.1" stroke="#000" stroke-width="0.9"/>
<text x="235.55" y="133.3" font-size="8.6" text-anchor="middle" font-weight="bold" fill="#000">1200</text>
<text x="274.65" y="133.3" font-size="8.6" text-anchor="middle" font-weight="bold" fill="#000">1600</text>
<text x="313.75" y="133.3" font-size="8.6" text-anchor="middle" font-weight="bold" fill="#000">2000</text>
<text x="278" y="142.6" font-size="9.5" text-anchor="middle" font-weight="bold">Wavenumber (cm<tspan font-size="6.17" dy="-3.5">-1</tspan><tspan dy="3.5">)</tspan></text>
<text x="198.4" y="66.2" font-size="9.4" text-anchor="middle" font-weight="bold" fill="#000" transform="rotate(-90 198.4 66.2)">Time (min)</text>
<rect x="335.6" y="10.3" width="7.7" height="112" fill="url(#cb81)" stroke="#222" stroke-width="0.8"/>
<line x1="343.3" y1="12.7" x2="345.8" y2="12.7" stroke="#000" stroke-width="0.8"/>
<line x1="343.3" y1="19.42" x2="344.7" y2="19.42" stroke="#000" stroke-width="0.8"/>
<text x="347.3" y="14.9" font-size="5.6" text-anchor="start" font-weight="bold" fill="#000">0.22</text>
<line x1="343.3" y1="26.15" x2="345.8" y2="26.15" stroke="#000" stroke-width="0.8"/>
<line x1="343.3" y1="32.88" x2="344.7" y2="32.88" stroke="#000" stroke-width="0.8"/>
<text x="347.3" y="28.35" font-size="5.6" text-anchor="start" font-weight="bold" fill="#000">0.19</text>
<line x1="343.3" y1="39.6" x2="345.8" y2="39.6" stroke="#000" stroke-width="0.8"/>
<line x1="343.3" y1="46.32" x2="344.7" y2="46.32" stroke="#000" stroke-width="0.8"/>
<text x="347.3" y="41.8" font-size="5.6" text-anchor="start" font-weight="bold" fill="#000">0.15</text>
<line x1="343.3" y1="53.05" x2="345.8" y2="53.05" stroke="#000" stroke-width="0.8"/>
<line x1="343.3" y1="59.77" x2="344.7" y2="59.77" stroke="#000" stroke-width="0.8"/>
<text x="347.3" y="55.25" font-size="5.6" text-anchor="start" font-weight="bold" fill="#000">0.12</text>
<line x1="343.3" y1="66.5" x2="345.8" y2="66.5" stroke="#000" stroke-width="0.8"/>
<line x1="343.3" y1="73.22" x2="344.7" y2="73.22" stroke="#000" stroke-width="0.8"/>
<text x="347.3" y="68.7" font-size="5.6" text-anchor="start" font-weight="bold" fill="#000">0.085</text>
<line x1="343.3" y1="79.95" x2="345.8" y2="79.95" stroke="#000" stroke-width="0.8"/>
<line x1="343.3" y1="86.67" x2="344.7" y2="86.67" stroke="#000" stroke-width="0.8"/>
<text x="347.3" y="82.15" font-size="5.6" text-anchor="start" font-weight="bold" fill="#000">0.051</text>
<line x1="343.3" y1="93.4" x2="345.8" y2="93.4" stroke="#000" stroke-width="0.8"/>
<line x1="343.3" y1="100.12" x2="344.7" y2="100.12" stroke="#000" stroke-width="0.8"/>
<text x="347.3" y="95.6" font-size="5.6" text-anchor="start" font-weight="bold" fill="#000">0.018</text>
<line x1="343.3" y1="106.85" x2="345.8" y2="106.85" stroke="#000" stroke-width="0.8"/>
<line x1="343.3" y1="113.57" x2="344.7" y2="113.57" stroke="#000" stroke-width="0.8"/>
<text x="347.3" y="109.05" font-size="5.6" text-anchor="start" font-weight="bold" fill="#000">-0.016</text>
<line x1="343.3" y1="120.3" x2="345.8" y2="120.3" stroke="#000" stroke-width="0.8"/>
<text x="347.3" y="122.5" font-size="5.6" text-anchor="start" font-weight="bold" fill="#000">-0.050</text>
<text x="370.8" y="64.5" font-size="7.9" text-anchor="middle" font-weight="bold" fill="#000" transform="rotate(-90 370.8 64.5)">Intensity (arb.units)</text>
<text x="190" y="158.4" font-size="11.5" font-weight="bold" fill="#000">b<tspan font-size="8.16" dy="2.7">2</tspan></text>
<g clip-path="url(#hc83)"><g filter="url(#hblur)">
<rect x="212" y="158.6" width="1.8" height="117.8" fill="url(#g84)"/>
<rect x="213.5" y="158.6" width="1.8" height="117.8" fill="url(#g85)"/>
<rect x="215" y="158.6" width="1.8" height="117.8" fill="url(#g86)"/>
<rect x="216.5" y="158.6" width="1.8" height="117.8" fill="url(#g87)"/>
<rect x="218" y="158.6" width="1.8" height="117.8" fill="url(#g88)"/>
<rect x="219.5" y="158.6" width="1.8" height="117.8" fill="url(#g89)"/>
<rect x="221" y="158.6" width="1.8" height="117.8" fill="url(#g90)"/>
<rect x="222.5" y="158.6" width="1.8" height="117.8" fill="url(#g91)"/>
<rect x="224" y="158.6" width="1.8" height="117.8" fill="url(#g92)"/>
<rect x="225.5" y="158.6" width="1.8" height="117.8" fill="url(#g93)"/>
<rect x="227" y="158.6" width="1.8" height="117.8" fill="url(#g94)"/>
<rect x="228.5" y="158.6" width="1.8" height="117.8" fill="url(#g95)"/>
<rect x="230" y="158.6" width="1.8" height="117.8" fill="url(#g96)"/>
<rect x="231.5" y="158.6" width="1.8" height="117.8" fill="url(#g97)"/>
<rect x="233" y="158.6" width="1.8" height="117.8" fill="url(#g98)"/>
<rect x="234.5" y="158.6" width="1.8" height="117.8" fill="url(#g99)"/>
<rect x="236" y="158.6" width="1.8" height="117.8" fill="url(#g100)"/>
<rect x="237.5" y="158.6" width="1.8" height="117.8" fill="url(#g101)"/>
<rect x="239" y="158.6" width="1.8" height="117.8" fill="url(#g102)"/>
<rect x="240.5" y="158.6" width="1.8" height="117.8" fill="url(#g103)"/>
<rect x="242" y="158.6" width="1.8" height="117.8" fill="url(#g104)"/>
<rect x="243.5" y="158.6" width="1.8" height="117.8" fill="url(#g105)"/>
<rect x="245" y="158.6" width="1.8" height="117.8" fill="url(#g106)"/>
<rect x="246.5" y="158.6" width="1.8" height="117.8" fill="url(#g107)"/>
<rect x="248" y="158.6" width="1.8" height="117.8" fill="url(#g108)"/>
<rect x="249.5" y="158.6" width="1.8" height="117.8" fill="url(#g109)"/>
<rect x="251" y="158.6" width="1.8" height="117.8" fill="url(#g110)"/>
<rect x="252.5" y="158.6" width="1.8" height="117.8" fill="url(#g111)"/>
<rect x="254" y="158.6" width="1.8" height="117.8" fill="url(#g112)"/>
<rect x="255.5" y="158.6" width="1.8" height="117.8" fill="url(#g113)"/>
<rect x="257" y="158.6" width="1.8" height="117.8" fill="url(#g114)"/>
<rect x="258.5" y="158.6" width="1.8" height="117.8" fill="url(#g115)"/>
<rect x="260" y="158.6" width="1.8" height="117.8" fill="url(#g116)"/>
<rect x="261.5" y="158.6" width="1.8" height="117.8" fill="url(#g117)"/>
<rect x="263" y="158.6" width="1.8" height="117.8" fill="url(#g118)"/>
<rect x="264.5" y="158.6" width="1.8" height="117.8" fill="url(#g119)"/>
<rect x="266" y="158.6" width="1.8" height="117.8" fill="url(#g120)"/>
<rect x="267.5" y="158.6" width="1.8" height="117.8" fill="url(#g121)"/>
<rect x="269" y="158.6" width="1.8" height="117.8" fill="url(#g122)"/>
<rect x="270.5" y="158.6" width="1.8" height="117.8" fill="url(#g123)"/>
<rect x="272" y="158.6" width="1.8" height="117.8" fill="url(#g124)"/>
<rect x="273.5" y="158.6" width="1.8" height="117.8" fill="url(#g125)"/>
<rect x="275" y="158.6" width="1.8" height="117.8" fill="url(#g126)"/>
<rect x="276.5" y="158.6" width="1.8" height="117.8" fill="url(#g127)"/>
<rect x="278" y="158.6" width="1.8" height="117.8" fill="url(#g128)"/>
<rect x="279.5" y="158.6" width="1.8" height="117.8" fill="url(#g129)"/>
<rect x="281" y="158.6" width="1.8" height="117.8" fill="url(#g130)"/>
<rect x="282.5" y="158.6" width="1.8" height="117.8" fill="url(#g131)"/>
<rect x="284" y="158.6" width="1.8" height="117.8" fill="url(#g132)"/>
<rect x="285.5" y="158.6" width="1.8" height="117.8" fill="url(#g133)"/>
<rect x="287" y="158.6" width="1.8" height="117.8" fill="url(#g134)"/>
<rect x="288.5" y="158.6" width="1.8" height="117.8" fill="url(#g135)"/>
<rect x="290" y="158.6" width="1.8" height="117.8" fill="url(#g136)"/>
<rect x="291.5" y="158.6" width="1.8" height="117.8" fill="url(#g137)"/>
<rect x="293" y="158.6" width="1.8" height="117.8" fill="url(#g138)"/>
<rect x="294.5" y="158.6" width="1.8" height="117.8" fill="url(#g139)"/>
<rect x="296" y="158.6" width="1.8" height="117.8" fill="url(#g140)"/>
<rect x="297.5" y="158.6" width="3.3" height="117.8" fill="url(#g141)"/>
<rect x="300.5" y="158.6" width="1.8" height="117.8" fill="url(#g142)"/>
<rect x="302" y="158.6" width="1.8" height="117.8" fill="url(#g143)"/>
<rect x="303.5" y="158.6" width="1.8" height="117.8" fill="url(#g144)"/>
<rect x="305" y="158.6" width="1.8" height="117.8" fill="url(#g145)"/>
<rect x="306.5" y="158.6" width="3.3" height="117.8" fill="url(#g146)"/>
<rect x="309.5" y="158.6" width="1.8" height="117.8" fill="url(#g147)"/>
<rect x="311" y="158.6" width="1.8" height="117.8" fill="url(#g148)"/>
<rect x="312.5" y="158.6" width="1.8" height="117.8" fill="url(#g149)"/>
<rect x="314" y="158.6" width="3.3" height="117.8" fill="url(#g150)"/>
<rect x="317" y="158.6" width="1.8" height="117.8" fill="url(#g151)"/>
<rect x="318.5" y="158.6" width="1.8" height="117.8" fill="url(#g152)"/>
<rect x="320" y="158.6" width="1.8" height="117.8" fill="url(#g153)"/>
<rect x="321.5" y="158.6" width="1.8" height="117.8" fill="url(#g154)"/>
<rect x="323" y="158.6" width="1.8" height="117.8" fill="url(#g155)"/>
<rect x="324.5" y="158.6" width="1.8" height="117.8" fill="url(#g156)"/>
<rect x="326" y="158.6" width="1.8" height="117.8" fill="url(#g157)"/>
<rect x="327.5" y="158.6" width="1.8" height="117.8" fill="url(#g158)"/>
<rect x="329" y="158.6" width="3.3" height="117.8" fill="url(#g159)"/>
<rect x="332" y="158.6" width="3.7" height="117.8" fill="url(#g160)"/>
</g></g>
<rect x="214" y="160.6" width="119.4" height="113.8" fill="none" stroke="#222" stroke-width="0.8"/>
<line x1="214" y1="274.4" x2="211" y2="274.4" stroke="#000" stroke-width="0.9"/>
<line x1="214" y1="265.65" x2="212.4" y2="265.65" stroke="#000" stroke-width="0.9"/>
<line x1="214" y1="256.89" x2="211" y2="256.89" stroke="#000" stroke-width="0.9"/>
<line x1="214" y1="248.14" x2="212.4" y2="248.14" stroke="#000" stroke-width="0.9"/>
<line x1="214" y1="239.38" x2="211" y2="239.38" stroke="#000" stroke-width="0.9"/>
<line x1="214" y1="230.63" x2="212.4" y2="230.63" stroke="#000" stroke-width="0.9"/>
<line x1="214" y1="221.88" x2="211" y2="221.88" stroke="#000" stroke-width="0.9"/>
<line x1="214" y1="213.12" x2="212.4" y2="213.12" stroke="#000" stroke-width="0.9"/>
<line x1="214" y1="204.37" x2="211" y2="204.37" stroke="#000" stroke-width="0.9"/>
<line x1="214" y1="195.62" x2="212.4" y2="195.62" stroke="#000" stroke-width="0.9"/>
<line x1="214" y1="186.86" x2="211" y2="186.86" stroke="#000" stroke-width="0.9"/>
<line x1="214" y1="178.11" x2="212.4" y2="178.11" stroke="#000" stroke-width="0.9"/>
<line x1="214" y1="169.35" x2="211" y2="169.35" stroke="#000" stroke-width="0.9"/>
<line x1="214" y1="160.6" x2="212.4" y2="160.6" stroke="#000" stroke-width="0.9"/>
<text x="210" y="277.6" font-size="8.6" text-anchor="end" font-weight="bold" fill="#000">0</text>
<text x="210" y="260.09" font-size="8.6" text-anchor="end" font-weight="bold" fill="#000">10</text>
<text x="210" y="242.58" font-size="8.6" text-anchor="end" font-weight="bold" fill="#000">20</text>
<text x="210" y="225.08" font-size="8.6" text-anchor="end" font-weight="bold" fill="#000">30</text>
<text x="210" y="207.57" font-size="8.6" text-anchor="end" font-weight="bold" fill="#000">40</text>
<text x="210" y="190.06" font-size="8.6" text-anchor="end" font-weight="bold" fill="#000">50</text>
<text x="210" y="172.55" font-size="8.6" text-anchor="end" font-weight="bold" fill="#000">60</text>
<line x1="214" y1="274.4" x2="214" y2="276.2" stroke="#000" stroke-width="0.9"/>
<line x1="233.9" y1="274.4" x2="233.9" y2="277.4" stroke="#000" stroke-width="0.9"/>
<line x1="253.8" y1="274.4" x2="253.8" y2="276.2" stroke="#000" stroke-width="0.9"/>
<line x1="273.7" y1="274.4" x2="273.7" y2="277.4" stroke="#000" stroke-width="0.9"/>
<line x1="293.6" y1="274.4" x2="293.6" y2="276.2" stroke="#000" stroke-width="0.9"/>
<line x1="313.5" y1="274.4" x2="313.5" y2="277.4" stroke="#000" stroke-width="0.9"/>
<line x1="333.4" y1="274.4" x2="333.4" y2="276.2" stroke="#000" stroke-width="0.9"/>
<text x="233.9" y="285.3" font-size="8.6" text-anchor="middle" font-weight="bold" fill="#000">1200</text>
<text x="273.7" y="285.3" font-size="8.6" text-anchor="middle" font-weight="bold" fill="#000">1600</text>
<text x="313.5" y="285.3" font-size="8.6" text-anchor="middle" font-weight="bold" fill="#000">2000</text>
<text x="273.6" y="295" font-size="9.6" text-anchor="middle" font-weight="bold">Wavenumber (cm<tspan font-size="6.24" dy="-3.5">-1</tspan><tspan dy="3.5">)</tspan></text>
<text x="196.4" y="217" font-size="9.4" text-anchor="middle" font-weight="bold" fill="#000" transform="rotate(-90 196.4 217)">Time (min)</text>
<rect x="336" y="160.6" width="7.8" height="113.8" fill="url(#cb160)" stroke="#222" stroke-width="0.8"/>
<line x1="343.8" y1="163.3" x2="346.3" y2="163.3" stroke="#000" stroke-width="0.8"/>
<line x1="343.8" y1="170.11" x2="345.2" y2="170.11" stroke="#000" stroke-width="0.8"/>
<text x="347.8" y="165.5" font-size="5.9" text-anchor="start" font-weight="bold" fill="#000">0.22</text>
<line x1="343.8" y1="176.93" x2="346.3" y2="176.93" stroke="#000" stroke-width="0.8"/>
<line x1="343.8" y1="183.74" x2="345.2" y2="183.74" stroke="#000" stroke-width="0.8"/>
<text x="347.8" y="179.12" font-size="5.9" text-anchor="start" font-weight="bold" fill="#000">0.19</text>
<line x1="343.8" y1="190.55" x2="346.3" y2="190.55" stroke="#000" stroke-width="0.8"/>
<line x1="343.8" y1="197.36" x2="345.2" y2="197.36" stroke="#000" stroke-width="0.8"/>
<text x="347.8" y="192.75" font-size="5.9" text-anchor="start" font-weight="bold" fill="#000">0.15</text>
<line x1="343.8" y1="204.18" x2="346.3" y2="204.18" stroke="#000" stroke-width="0.8"/>
<line x1="343.8" y1="210.99" x2="345.2" y2="210.99" stroke="#000" stroke-width="0.8"/>
<text x="347.8" y="206.38" font-size="5.9" text-anchor="start" font-weight="bold" fill="#000">0.12</text>
<line x1="343.8" y1="217.8" x2="346.3" y2="217.8" stroke="#000" stroke-width="0.8"/>
<line x1="343.8" y1="224.61" x2="345.2" y2="224.61" stroke="#000" stroke-width="0.8"/>
<text x="347.8" y="220" font-size="5.9" text-anchor="start" font-weight="bold" fill="#000">0.085</text>
<line x1="343.8" y1="231.43" x2="346.3" y2="231.43" stroke="#000" stroke-width="0.8"/>
<line x1="343.8" y1="238.24" x2="345.2" y2="238.24" stroke="#000" stroke-width="0.8"/>
<text x="347.8" y="233.62" font-size="5.9" text-anchor="start" font-weight="bold" fill="#000">0.051</text>
<line x1="343.8" y1="245.05" x2="346.3" y2="245.05" stroke="#000" stroke-width="0.8"/>
<line x1="343.8" y1="251.86" x2="345.2" y2="251.86" stroke="#000" stroke-width="0.8"/>
<text x="347.8" y="247.25" font-size="5.9" text-anchor="start" font-weight="bold" fill="#000">0.018</text>
<line x1="343.8" y1="258.68" x2="346.3" y2="258.68" stroke="#000" stroke-width="0.8"/>
<line x1="343.8" y1="265.49" x2="345.2" y2="265.49" stroke="#000" stroke-width="0.8"/>
<text x="347.8" y="260.88" font-size="5.9" text-anchor="start" font-weight="bold" fill="#000">-0.016</text>
<line x1="343.8" y1="272.3" x2="346.3" y2="272.3" stroke="#000" stroke-width="0.8"/>
<text x="347.8" y="274.5" font-size="5.9" text-anchor="start" font-weight="bold" fill="#000">-0.050</text>
<text x="371.3" y="218.5" font-size="8.2" text-anchor="middle" font-weight="bold" fill="#000" transform="rotate(-90 371.3 218.5)">Intensity (arb.units)</text>
<text x="189.8" y="315.6" font-size="11.5" font-weight="bold" fill="#000">c<tspan font-size="8.16" dy="2.7">2</tspan></text>
<g clip-path="url(#hc162)"><g filter="url(#hblur)">
<rect x="210" y="320" width="1.8" height="120.6" fill="url(#g163)"/>
<rect x="211.5" y="320" width="1.8" height="120.6" fill="url(#g164)"/>
<rect x="213" y="320" width="1.8" height="120.6" fill="url(#g165)"/>
<rect x="214.5" y="320" width="1.8" height="120.6" fill="url(#g166)"/>
<rect x="216" y="320" width="1.8" height="120.6" fill="url(#g167)"/>
<rect x="217.5" y="320" width="1.8" height="120.6" fill="url(#g168)"/>
<rect x="219" y="320" width="1.8" height="120.6" fill="url(#g169)"/>
<rect x="220.5" y="320" width="1.8" height="120.6" fill="url(#g170)"/>
<rect x="222" y="320" width="1.8" height="120.6" fill="url(#g171)"/>
<rect x="223.5" y="320" width="1.8" height="120.6" fill="url(#g172)"/>
<rect x="225" y="320" width="1.8" height="120.6" fill="url(#g173)"/>
<rect x="226.5" y="320" width="1.8" height="120.6" fill="url(#g174)"/>
<rect x="228" y="320" width="1.8" height="120.6" fill="url(#g175)"/>
<rect x="229.5" y="320" width="1.8" height="120.6" fill="url(#g176)"/>
<rect x="231" y="320" width="1.8" height="120.6" fill="url(#g177)"/>
<rect x="232.5" y="320" width="1.8" height="120.6" fill="url(#g178)"/>
<rect x="234" y="320" width="1.8" height="120.6" fill="url(#g179)"/>
<rect x="235.5" y="320" width="1.8" height="120.6" fill="url(#g180)"/>
<rect x="237" y="320" width="1.8" height="120.6" fill="url(#g181)"/>
<rect x="238.5" y="320" width="1.8" height="120.6" fill="url(#g182)"/>
<rect x="240" y="320" width="1.8" height="120.6" fill="url(#g183)"/>
<rect x="241.5" y="320" width="1.8" height="120.6" fill="url(#g184)"/>
<rect x="243" y="320" width="1.8" height="120.6" fill="url(#g185)"/>
<rect x="244.5" y="320" width="1.8" height="120.6" fill="url(#g186)"/>
<rect x="246" y="320" width="1.8" height="120.6" fill="url(#g187)"/>
<rect x="247.5" y="320" width="1.8" height="120.6" fill="url(#g188)"/>
<rect x="249" y="320" width="1.8" height="120.6" fill="url(#g189)"/>
<rect x="250.5" y="320" width="1.8" height="120.6" fill="url(#g190)"/>
<rect x="252" y="320" width="1.8" height="120.6" fill="url(#g191)"/>
<rect x="253.5" y="320" width="1.8" height="120.6" fill="url(#g192)"/>
<rect x="255" y="320" width="1.8" height="120.6" fill="url(#g193)"/>
<rect x="256.5" y="320" width="1.8" height="120.6" fill="url(#g194)"/>
<rect x="258" y="320" width="1.8" height="120.6" fill="url(#g195)"/>
<rect x="259.5" y="320" width="1.8" height="120.6" fill="url(#g196)"/>
<rect x="261" y="320" width="1.8" height="120.6" fill="url(#g197)"/>
<rect x="262.5" y="320" width="1.8" height="120.6" fill="url(#g198)"/>
<rect x="264" y="320" width="1.8" height="120.6" fill="url(#g199)"/>
<rect x="265.5" y="320" width="1.8" height="120.6" fill="url(#g200)"/>
<rect x="267" y="320" width="1.8" height="120.6" fill="url(#g201)"/>
<rect x="268.5" y="320" width="1.8" height="120.6" fill="url(#g202)"/>
<rect x="270" y="320" width="1.8" height="120.6" fill="url(#g203)"/>
<rect x="271.5" y="320" width="1.8" height="120.6" fill="url(#g204)"/>
<rect x="273" y="320" width="1.8" height="120.6" fill="url(#g205)"/>
<rect x="274.5" y="320" width="1.8" height="120.6" fill="url(#g206)"/>
<rect x="276" y="320" width="1.8" height="120.6" fill="url(#g207)"/>
<rect x="277.5" y="320" width="1.8" height="120.6" fill="url(#g208)"/>
<rect x="279" y="320" width="1.8" height="120.6" fill="url(#g209)"/>
<rect x="280.5" y="320" width="1.8" height="120.6" fill="url(#g210)"/>
<rect x="282" y="320" width="1.8" height="120.6" fill="url(#g211)"/>
<rect x="283.5" y="320" width="1.8" height="120.6" fill="url(#g212)"/>
<rect x="285" y="320" width="1.8" height="120.6" fill="url(#g213)"/>
<rect x="286.5" y="320" width="1.8" height="120.6" fill="url(#g214)"/>
<rect x="288" y="320" width="1.8" height="120.6" fill="url(#g215)"/>
<rect x="289.5" y="320" width="1.8" height="120.6" fill="url(#g216)"/>
<rect x="291" y="320" width="1.8" height="120.6" fill="url(#g217)"/>
<rect x="292.5" y="320" width="1.8" height="120.6" fill="url(#g218)"/>
<rect x="294" y="320" width="1.8" height="120.6" fill="url(#g219)"/>
<rect x="295.5" y="320" width="1.8" height="120.6" fill="url(#g220)"/>
<rect x="297" y="320" width="1.8" height="120.6" fill="url(#g221)"/>
<rect x="298.5" y="320" width="1.8" height="120.6" fill="url(#g222)"/>
<rect x="300" y="320" width="1.8" height="120.6" fill="url(#g223)"/>
<rect x="301.5" y="320" width="1.8" height="120.6" fill="url(#g224)"/>
<rect x="303" y="320" width="1.8" height="120.6" fill="url(#g225)"/>
<rect x="304.5" y="320" width="1.8" height="120.6" fill="url(#g226)"/>
<rect x="306" y="320" width="1.8" height="120.6" fill="url(#g227)"/>
<rect x="307.5" y="320" width="1.8" height="120.6" fill="url(#g228)"/>
<rect x="309" y="320" width="1.8" height="120.6" fill="url(#g229)"/>
<rect x="310.5" y="320" width="1.8" height="120.6" fill="url(#g230)"/>
<rect x="312" y="320" width="1.8" height="120.6" fill="url(#g231)"/>
<rect x="313.5" y="320" width="1.8" height="120.6" fill="url(#g232)"/>
<rect x="315" y="320" width="1.8" height="120.6" fill="url(#g233)"/>
<rect x="316.5" y="320" width="1.8" height="120.6" fill="url(#g234)"/>
<rect x="318" y="320" width="1.8" height="120.6" fill="url(#g235)"/>
<rect x="319.5" y="320" width="1.8" height="120.6" fill="url(#g236)"/>
<rect x="321" y="320" width="1.8" height="120.6" fill="url(#g237)"/>
<rect x="322.5" y="320" width="1.8" height="120.6" fill="url(#g238)"/>
<rect x="324" y="320" width="1.8" height="120.6" fill="url(#g239)"/>
<rect x="325.5" y="320" width="1.8" height="120.6" fill="url(#g240)"/>
<rect x="327" y="320" width="1.8" height="120.6" fill="url(#g241)"/>
<rect x="328.5" y="320" width="1.8" height="120.6" fill="url(#g242)"/>
<rect x="330" y="320" width="1.8" height="120.6" fill="url(#g243)"/>
<rect x="331.5" y="320" width="1.8" height="120.6" fill="url(#g244)"/>
<rect x="333" y="320" width="2.7" height="120.6" fill="url(#g245)"/>
</g></g>
<rect x="212" y="322" width="121.4" height="116.6" fill="none" stroke="#222" stroke-width="0.8"/>
<line x1="212" y1="438.6" x2="209" y2="438.6" stroke="#000" stroke-width="0.9"/>
<line x1="212" y1="429.63" x2="210.4" y2="429.63" stroke="#000" stroke-width="0.9"/>
<line x1="212" y1="420.66" x2="209" y2="420.66" stroke="#000" stroke-width="0.9"/>
<line x1="212" y1="411.69" x2="210.4" y2="411.69" stroke="#000" stroke-width="0.9"/>
<line x1="212" y1="402.72" x2="209" y2="402.72" stroke="#000" stroke-width="0.9"/>
<line x1="212" y1="393.75" x2="210.4" y2="393.75" stroke="#000" stroke-width="0.9"/>
<line x1="212" y1="384.78" x2="209" y2="384.78" stroke="#000" stroke-width="0.9"/>
<line x1="212" y1="375.82" x2="210.4" y2="375.82" stroke="#000" stroke-width="0.9"/>
<line x1="212" y1="366.85" x2="209" y2="366.85" stroke="#000" stroke-width="0.9"/>
<line x1="212" y1="357.88" x2="210.4" y2="357.88" stroke="#000" stroke-width="0.9"/>
<line x1="212" y1="348.91" x2="209" y2="348.91" stroke="#000" stroke-width="0.9"/>
<line x1="212" y1="339.94" x2="210.4" y2="339.94" stroke="#000" stroke-width="0.9"/>
<line x1="212" y1="330.97" x2="209" y2="330.97" stroke="#000" stroke-width="0.9"/>
<line x1="212" y1="322" x2="210.4" y2="322" stroke="#000" stroke-width="0.9"/>
<text x="208" y="441.8" font-size="8.6" text-anchor="end" font-weight="bold" fill="#000">0</text>
<text x="208" y="423.86" font-size="8.6" text-anchor="end" font-weight="bold" fill="#000">10</text>
<text x="208" y="405.92" font-size="8.6" text-anchor="end" font-weight="bold" fill="#000">20</text>
<text x="208" y="387.98" font-size="8.6" text-anchor="end" font-weight="bold" fill="#000">30</text>
<text x="208" y="370.05" font-size="8.6" text-anchor="end" font-weight="bold" fill="#000">40</text>
<text x="208" y="352.11" font-size="8.6" text-anchor="end" font-weight="bold" fill="#000">50</text>
<text x="208" y="334.17" font-size="8.6" text-anchor="end" font-weight="bold" fill="#000">60</text>
<line x1="212" y1="438.6" x2="212" y2="440.4" stroke="#000" stroke-width="0.9"/>
<line x1="232.23" y1="438.6" x2="232.23" y2="441.6" stroke="#000" stroke-width="0.9"/>
<line x1="252.47" y1="438.6" x2="252.47" y2="440.4" stroke="#000" stroke-width="0.9"/>
<line x1="272.7" y1="438.6" x2="272.7" y2="441.6" stroke="#000" stroke-width="0.9"/>
<line x1="292.93" y1="438.6" x2="292.93" y2="440.4" stroke="#000" stroke-width="0.9"/>
<line x1="313.17" y1="438.6" x2="313.17" y2="441.6" stroke="#000" stroke-width="0.9"/>
<line x1="333.4" y1="438.6" x2="333.4" y2="440.4" stroke="#000" stroke-width="0.9"/>
<text x="232.23" y="450.3" font-size="8.6" text-anchor="middle" font-weight="bold" fill="#000">1200</text>
<text x="272.7" y="450.3" font-size="8.6" text-anchor="middle" font-weight="bold" fill="#000">1600</text>
<text x="313.17" y="450.3" font-size="8.6" text-anchor="middle" font-weight="bold" fill="#000">2000</text>
<text x="272.5" y="459.5" font-size="9.8" text-anchor="middle" font-weight="bold">Wavenumber (cm<tspan font-size="6.37" dy="-3.5">-1</tspan><tspan dy="3.5">)</tspan></text>
<text x="195.4" y="380" font-size="9.4" text-anchor="middle" font-weight="bold" fill="#000" transform="rotate(-90 195.4 380)">Time (min)</text>
<rect x="336.6" y="322" width="7.8" height="116.6" fill="url(#cb245)" stroke="#222" stroke-width="0.8"/>
<line x1="344.4" y1="325" x2="346.9" y2="325" stroke="#000" stroke-width="0.8"/>
<line x1="344.4" y1="331.96" x2="345.8" y2="331.96" stroke="#000" stroke-width="0.8"/>
<text x="348.4" y="327.2" font-size="5.9" text-anchor="start" font-weight="bold" fill="#000">0.22</text>
<line x1="344.4" y1="338.91" x2="346.9" y2="338.91" stroke="#000" stroke-width="0.8"/>
<line x1="344.4" y1="345.87" x2="345.8" y2="345.87" stroke="#000" stroke-width="0.8"/>
<text x="348.4" y="341.11" font-size="5.9" text-anchor="start" font-weight="bold" fill="#000">0.19</text>
<line x1="344.4" y1="352.82" x2="346.9" y2="352.82" stroke="#000" stroke-width="0.8"/>
<line x1="344.4" y1="359.78" x2="345.8" y2="359.78" stroke="#000" stroke-width="0.8"/>
<text x="348.4" y="355.02" font-size="5.9" text-anchor="start" font-weight="bold" fill="#000">0.15</text>
<line x1="344.4" y1="366.74" x2="346.9" y2="366.74" stroke="#000" stroke-width="0.8"/>
<line x1="344.4" y1="373.69" x2="345.8" y2="373.69" stroke="#000" stroke-width="0.8"/>
<text x="348.4" y="368.94" font-size="5.9" text-anchor="start" font-weight="bold" fill="#000">0.12</text>
<line x1="344.4" y1="380.65" x2="346.9" y2="380.65" stroke="#000" stroke-width="0.8"/>
<line x1="344.4" y1="387.61" x2="345.8" y2="387.61" stroke="#000" stroke-width="0.8"/>
<text x="348.4" y="382.85" font-size="5.9" text-anchor="start" font-weight="bold" fill="#000">0.085</text>
<line x1="344.4" y1="394.56" x2="346.9" y2="394.56" stroke="#000" stroke-width="0.8"/>
<line x1="344.4" y1="401.52" x2="345.8" y2="401.52" stroke="#000" stroke-width="0.8"/>
<text x="348.4" y="396.76" font-size="5.9" text-anchor="start" font-weight="bold" fill="#000">0.051</text>
<line x1="344.4" y1="408.48" x2="346.9" y2="408.48" stroke="#000" stroke-width="0.8"/>
<line x1="344.4" y1="415.43" x2="345.8" y2="415.43" stroke="#000" stroke-width="0.8"/>
<text x="348.4" y="410.68" font-size="5.9" text-anchor="start" font-weight="bold" fill="#000">0.018</text>
<line x1="344.4" y1="422.39" x2="346.9" y2="422.39" stroke="#000" stroke-width="0.8"/>
<line x1="344.4" y1="429.34" x2="345.8" y2="429.34" stroke="#000" stroke-width="0.8"/>
<text x="348.4" y="424.59" font-size="5.9" text-anchor="start" font-weight="bold" fill="#000">-0.016</text>
<line x1="344.4" y1="436.3" x2="346.9" y2="436.3" stroke="#000" stroke-width="0.8"/>
<text x="348.4" y="438.5" font-size="5.9" text-anchor="start" font-weight="bold" fill="#000">-0.050</text>
<text x="371.6" y="381" font-size="8.2" text-anchor="middle" font-weight="bold" fill="#000" transform="rotate(-90 371.6 381)">Intensity (arb.units)</text>
<path d="M246 74.5 L251.7 94.4 M247.7 89.92 L251.7 94.4 L252.72 88.49" fill="none" stroke="#a82424" stroke-width="1.2" stroke-linecap="round" stroke-linejoin="round"/>
<path d="M274.8 75.1 L265.6 94.8 M265.52 88.8 L265.6 94.8 L270.25 91.01" fill="none" stroke="#a82424" stroke-width="1.2" stroke-linecap="round" stroke-linejoin="round"/>
<path d="M283.1 101.1 L292.4 114.4 M287.17 111.47 L292.4 114.4 L291.44 108.48" fill="none" stroke="#a82424" stroke-width="1.2" stroke-linecap="round" stroke-linejoin="round"/>
<text x="249.5" y="105.9" font-size="8.2" font-weight="bold" fill="#ea2218">b-CO<tspan font-size="5.33" dy="1.8">3</tspan><tspan font-size="5.33" dy="-5.2">2-</tspan></text>
<text x="297" y="118.6" font-size="8.2" font-weight="bold" fill="#ea2218">H<tspan font-size="5.33" dy="1.8">2</tspan><tspan dy="-1.8">O</tspan></text>
<ellipse cx="227" cy="172.6" rx="10.4" ry="4.6" fill="none" stroke="#a82424" stroke-width="1.1"/>
<ellipse cx="262.6" cy="177.4" rx="13.2" ry="4.6" fill="none" stroke="#a82424" stroke-width="1.1"/>
<text x="214.5" y="190" font-size="8.6" font-weight="bold" fill="#ea2218"><tspan font-size="6.19" dy="-2.2">*</tspan><tspan dy="2.2">CH</tspan><tspan font-size="5.59" dy="1.8">x</tspan><tspan dy="-1.8">O</tspan></text>
<text x="248.5" y="198.6" font-size="8.5" font-weight="bold" fill="#ea2218"><tspan font-size="6.12" dy="-2.2">*</tspan><tspan dy="2.2">COOH</tspan></text>
<path d="M275 235 L268.6 243.5 M268.87 237.51 L268.6 243.5 L274.29 241.58" fill="none" stroke="#a82424" stroke-width="1.2" stroke-linecap="round" stroke-linejoin="round"/>
<path d="M280.6 235 L290 248 M284.46 245.69 L290 248 L289.54 242.02" fill="none" stroke="#a82424" stroke-width="1.2" stroke-linecap="round" stroke-linejoin="round"/>
<text x="253" y="256" font-size="8.2" font-weight="bold" fill="#ea2218">b-CO<tspan font-size="5.33" dy="1.8">3</tspan><tspan font-size="5.33" dy="-5.2">2-</tspan></text>
<text x="294" y="256.4" font-size="8.2" font-weight="bold" fill="#ea2218">H<tspan font-size="5.33" dy="1.8">2</tspan><tspan dy="-1.8">O</tspan></text>
<ellipse cx="224.4" cy="339.4" rx="9.2" ry="4.8" fill="none" stroke="#a82424" stroke-width="1.1"/>
<ellipse cx="258" cy="349.4" rx="13.2" ry="4.8" fill="none" stroke="#a82424" stroke-width="1.1"/>
<text x="213.5" y="358.6" font-size="8.6" font-weight="bold" fill="#ea2218"><tspan font-size="6.19" dy="-2.2">*</tspan><tspan dy="2.2">CH</tspan><tspan font-size="5.59" dy="1.8">x</tspan><tspan dy="-1.8">O</tspan></text>
<text x="249.5" y="369.4" font-size="8.5" font-weight="bold" fill="#ea2218"><tspan font-size="6.12" dy="-2.2">*</tspan><tspan dy="2.2">COOH</tspan></text>
<path d="M276 383 L269.4 392 M269.6 386 L269.4 392 L275.06 390.01" fill="none" stroke="#a82424" stroke-width="1.2" stroke-linecap="round" stroke-linejoin="round"/>
<path d="M280.6 382.4 L290.6 394.6 M284.93 392.63 L290.6 394.6 L289.78 388.66" fill="none" stroke="#a82424" stroke-width="1.2" stroke-linecap="round" stroke-linejoin="round"/>
<text x="259" y="406" font-size="8.2" font-weight="bold" fill="#ea2218">b-CO<tspan font-size="5.33" dy="1.8">3</tspan><tspan font-size="5.33" dy="-5.2">2-</tspan></text>
<text x="293" y="406" font-size="8.2" font-weight="bold" fill="#ea2218">H<tspan font-size="5.33" dy="1.8">2</tspan><tspan dy="-1.8">O</tspan></text>
<text x="1" y="158" font-size="11.5" font-weight="bold" fill="#000">b<tspan font-size="8.16" dy="2.7">1</tspan></text>
<rect x="157.2" y="203.3" width="9.1" height="36.1" fill="#f7dc00"/>
<rect x="157.2" y="239.4" width="9.1" height="33.6" fill="#a8d6f0"/>
<line x1="22.6" y1="202.6" x2="22.6" y2="246" stroke="#f6a8a0" stroke-width="0.8"/>
<line x1="27.8" y1="201.8" x2="27.8" y2="246" stroke="#f6a8a0" stroke-width="0.8"/>
<line x1="34.5" y1="205.3" x2="34.5" y2="246" stroke="#f6a8a0" stroke-width="0.8"/>
<line x1="54.5" y1="190" x2="54.5" y2="272" stroke="#f6a8a0" stroke-width="0.8"/>
<line x1="60.4" y1="182" x2="60.4" y2="272" stroke="#f6a8a0" stroke-width="0.8"/>
<line x1="65.8" y1="190.3" x2="65.8" y2="272" stroke="#f6a8a0" stroke-width="0.8"/>
<line x1="73.2" y1="189" x2="73.2" y2="272" stroke="#f6a8a0" stroke-width="0.8"/>
<line x1="87.1" y1="187.4" x2="87.1" y2="272" stroke="#f6a8a0" stroke-width="0.8"/>
<line x1="99.2" y1="186.7" x2="99.2" y2="272" stroke="#f6a8a0" stroke-width="0.8"/>
<line x1="106.6" y1="189" x2="106.6" y2="272" stroke="#f6a8a0" stroke-width="0.8"/>
<polyline points="16.5,208.6 17.0,208.5 17.6,208.3 18.1,208.1 18.7,207.8 19.2,207.6 19.7,207.3 20.3,207.1 20.8,206.8 21.3,206.3 21.9,205.7 22.4,205.0 23.0,204.7 23.5,204.9 24.0,205.6 24.6,206.2 25.1,206.5 25.7,206.6 26.2,206.7 26.7,206.6 27.3,206.3 27.8,205.7 28.3,205.1 28.9,205.1 29.4,205.6 30.0,206.2 30.5,206.5 31.0,206.6 31.6,206.7 32.1,206.8 32.6,206.8 33.2,206.7 33.7,206.3 34.3,206.0 34.8,206.2 35.3,206.9 35.9,207.9 36.4,208.6 37.0,209.1 37.5,209.3 38.0,209.3 38.6,209.0 39.1,208.7 39.6,208.3 40.2,207.9 40.7,207.4 41.3,206.9 41.8,206.3 42.3,205.8 42.9,205.3 43.4,204.7 44.5,203.7 45.6,202.6 46.6,201.5 47.7,200.3 48.8,199.2 49.9,197.9 51.0,196.6 52.0,195.2 53.1,193.7 54.2,192.3 55.3,191.1 56.3,190.2 57.4,189.5 58.5,189.0 59.6,188.7 60.6,188.6 61.7,189.0 62.8,190.5 63.9,191.7 65.0,192.4 66.0,192.7 67.1,192.3 68.2,191.7 69.3,191.2 70.3,190.9 71.4,190.6 72.5,190.7 73.6,191.2 74.6,192.3 75.7,193.6 76.8,194.7 77.9,195.6 78.9,196.1 80.0,196.0 81.1,195.6 82.2,195.0 83.3,194.4 84.3,193.8 85.4,193.2 86.5,192.7 87.6,192.4 88.6,192.3 89.7,192.2 90.8,192.2 91.9,192.1 92.9,192.0 94.0,191.8 95.1,191.5 96.2,191.2 97.2,190.9 98.3,190.6 99.4,190.5 100.5,190.6 101.6,191.1 102.6,191.6 103.7,191.8 104.8,191.6 105.9,191.4 106.9,191.7 108.0,192.7 109.1,193.9 110.2,195.1 111.2,196.3 112.3,197.5 113.4,198.7 114.5,199.7 115.6,200.4 116.6,201.1 117.7,201.8 118.8,202.4 119.9,202.9 120.9,203.4 122.0,203.8 123.1,204.1 124.2,204.4 125.2,204.6 126.3,204.8 127.4,205.0 128.5,205.2 129.6,205.4 130.6,205.5 131.7,205.6 132.8,205.8 133.9,205.9 134.9,206.0 136.0,206.1 137.1,206.1 138.2,206.2 139.2,206.3 140.3,206.3 141.4,206.4 142.5,206.4 143.5,206.4 144.6,206.5 145.7,206.5 146.8,206.5 147.9,206.5 148.9,206.5 150.0,206.5 151.1,206.5 152.2,206.5 153.2,206.5 154.3,206.6 155.4,206.6 156.5,206.6 157.5,206.6 158.6,206.5 159.7,206.5 160.8,206.5 161.8,206.5 162.9,206.5 164.0,206.5 165.1,206.5 166.2,206.5 167.2,206.5 168.3,206.5 169.4,206.5 170.5,206.5 171.5,206.5 172.6,206.4 173.7,206.4 174.8,206.4 175.8,206.4 176.9,206.4 178.0,206.4" fill="none" stroke="#f4301c" stroke-width="1" stroke-linejoin="round"/>
<polyline points="16.5,213.4 17.0,213.3 17.6,213.1 18.1,212.9 18.7,212.6 19.2,212.4 19.7,212.1 20.3,211.9 20.8,211.6 21.3,211.2 21.9,210.5 22.4,209.8 23.0,209.5 23.5,209.7 24.0,210.4 24.6,211.0 25.1,211.3 25.7,211.5 26.2,211.5 26.7,211.4 27.3,211.1 27.8,210.5 28.3,209.9 28.9,209.9 29.4,210.5 30.0,211.1 30.5,211.4 31.0,211.5 31.6,211.6 32.1,211.6 32.6,211.6 33.2,211.5 33.7,211.2 34.3,210.9 34.8,211.1 35.3,211.8 35.9,212.7 36.4,213.5 37.0,214.0 37.5,214.2 38.0,214.2 38.6,213.9 39.1,213.6 39.6,213.2 40.2,212.7 40.7,212.3 41.3,211.7 41.8,211.2 42.3,210.7 42.9,210.1 43.4,209.6 44.5,208.6 45.6,207.5 46.6,206.4 47.7,205.2 48.8,204.1 49.9,202.9 51.0,201.6 52.0,200.1 53.1,198.6 54.2,197.2 55.3,196.0 56.3,195.2 57.4,194.5 58.5,194.0 59.6,193.6 60.6,193.5 61.7,193.9 62.8,195.4 63.9,196.6 65.0,197.4 66.0,197.7 67.1,197.3 68.2,196.6 69.3,196.2 70.3,195.9 71.4,195.6 72.5,195.6 73.6,196.1 74.6,197.3 75.7,198.6 76.8,199.6 77.9,200.6 78.9,201.1 80.0,201.0 81.1,200.6 82.2,200.0 83.3,199.4 84.3,198.9 85.4,198.2 86.5,197.7 87.6,197.4 88.6,197.3 89.7,197.2 90.8,197.2 91.9,197.1 92.9,197.0 94.0,196.8 95.1,196.6 96.2,196.2 97.2,195.9 98.3,195.7 99.4,195.5 100.5,195.6 101.6,196.1 102.6,196.7 103.7,196.9 104.8,196.7 105.9,196.5 106.9,196.8 108.0,197.7 109.1,199.0 110.2,200.2 111.2,201.4 112.3,202.6 113.4,203.8 114.5,204.8 115.6,205.5 116.6,206.3 117.7,206.9 118.8,207.5 119.9,208.0 120.9,208.5 122.0,208.9 123.1,209.2 124.2,209.5 125.2,209.8 126.3,210.0 127.4,210.2 128.5,210.4 129.6,210.5 130.6,210.7 131.7,210.8 132.8,210.9 133.9,211.0 134.9,211.1 136.0,211.2 137.1,211.3 138.2,211.4 139.2,211.5 140.3,211.5 141.4,211.6 142.5,211.6 143.5,211.6 144.6,211.7 145.7,211.7 146.8,211.7 147.9,211.7 148.9,211.7 150.0,211.7 151.1,211.8 152.2,211.8 153.2,211.8 154.3,211.8 155.4,211.8 156.5,211.8 157.5,211.8 158.6,211.8 159.7,211.8 160.8,211.8 161.8,211.8 162.9,211.8 164.0,211.8 165.1,211.8 166.2,211.8 167.2,211.8 168.3,211.8 169.4,211.7 170.5,211.7 171.5,211.7 172.6,211.7 173.7,211.7 174.8,211.7 175.8,211.7 176.9,211.7 178.0,211.7" fill="none" stroke="#f4301c" stroke-width="1" stroke-linejoin="round"/>
<polyline points="16.5,218.9 17.0,218.8 17.6,218.6 18.1,218.4 18.7,218.1 19.2,217.9 19.7,217.6 20.3,217.4 20.8,217.1 21.3,216.7 21.9,216.0 22.4,215.3 23.0,215.0 23.5,215.2 24.0,215.9 24.6,216.5 25.1,216.8 25.7,217.0 26.2,217.0 26.7,216.9 27.3,216.6 27.8,216.0 28.3,215.4 28.9,215.4 29.4,216.0 30.0,216.5 30.5,216.9 31.0,217.0 31.6,217.1 32.1,217.1 32.6,217.1 33.2,217.0 33.7,216.6 34.3,216.3 34.8,216.5 35.3,217.3 35.9,218.2 36.4,219.0 37.0,219.4 37.5,219.7 38.0,219.6 38.6,219.4 39.1,219.1 39.6,218.7 40.2,218.2 40.7,217.7 41.3,217.2 41.8,216.7 42.3,216.1 42.9,215.6 43.4,215.1 44.5,214.0 45.6,213.0 46.6,211.8 47.7,210.7 48.8,209.5 49.9,208.3 51.0,207.0 52.0,205.5 53.1,204.0 54.2,202.6 55.3,201.5 56.3,200.6 57.4,199.9 58.5,199.4 59.6,199.1 60.6,199.0 61.7,199.4 62.8,200.9 63.9,202.1 65.0,202.8 66.0,203.1 67.1,202.7 68.2,202.1 69.3,201.6 70.3,201.3 71.4,201.1 72.5,201.1 73.6,201.6 74.6,202.7 75.7,204.0 76.8,205.1 77.9,206.0 78.9,206.6 80.0,206.4 81.1,206.0 82.2,205.4 83.3,204.9 84.3,204.3 85.4,203.7 86.5,203.1 87.6,202.9 88.6,202.7 89.7,202.6 90.8,202.6 91.9,202.5 92.9,202.4 94.0,202.2 95.1,202.0 96.2,201.6 97.2,201.3 98.3,201.1 99.4,200.9 100.5,201.0 101.6,201.5 102.6,202.1 103.7,202.3 104.8,202.1 105.9,201.9 106.9,202.2 108.0,203.1 109.1,204.3 110.2,205.6 111.2,206.8 112.3,208.0 113.4,209.1 114.5,210.1 115.6,210.9 116.6,211.6 117.7,212.3 118.8,212.9 119.9,213.4 120.9,213.9 122.0,214.2 123.1,214.6 124.2,214.9 125.2,215.1 126.3,215.4 127.4,215.5 128.5,215.7 129.6,215.9 130.6,216.0 131.7,216.2 132.8,216.3 133.9,216.4 134.9,216.5 136.0,216.6 137.1,216.7 138.2,216.7 139.2,216.8 140.3,216.9 141.4,216.9 142.5,216.9 143.5,217.0 144.6,217.0 145.7,217.0 146.8,217.0 147.9,217.1 148.9,217.1 150.0,217.1 151.1,217.1 152.2,217.1 153.2,217.1 154.3,217.1 155.4,217.1 156.5,217.1 157.5,217.1 158.6,217.1 159.7,217.1 160.8,217.1 161.8,217.1 162.9,217.1 164.0,217.1 165.1,217.1 166.2,217.1 167.2,217.1 168.3,217.1 169.4,217.1 170.5,217.1 171.5,217.0 172.6,217.0 173.7,217.0 174.8,217.0 175.8,217.0 176.9,217.0 178.0,217.0" fill="none" stroke="#f4301c" stroke-width="1" stroke-linejoin="round"/>
<polyline points="16.5,223.9 17.0,223.8 17.6,223.6 18.1,223.4 18.7,223.1 19.2,222.9 19.7,222.6 20.3,222.4 20.8,222.1 21.3,221.7 21.9,221.0 22.4,220.3 23.0,220.0 23.5,220.2 24.0,220.9 24.6,221.5 25.1,221.8 25.7,222.0 26.2,222.0 26.7,221.9 27.3,221.6 27.8,221.0 28.3,220.4 28.9,220.4 29.4,221.0 30.0,221.5 30.5,221.8 31.0,222.0 31.6,222.0 32.1,222.1 32.6,222.1 33.2,222.0 33.7,221.6 34.3,221.3 34.8,221.5 35.3,222.3 35.9,223.2 36.4,223.9 37.0,224.4 37.5,224.7 38.0,224.6 38.6,224.4 39.1,224.0 39.6,223.6 40.2,223.2 40.7,222.7 41.3,222.2 41.8,221.7 42.3,221.1 42.9,220.6 43.4,220.1 44.5,219.0 45.6,217.9 46.6,216.8 47.7,215.7 48.8,214.5 49.9,213.3 51.0,212.0 52.0,210.5 53.1,209.0 54.2,207.6 55.3,206.4 56.3,205.6 57.4,204.9 58.5,204.4 59.6,204.0 60.6,203.9 61.7,204.3 62.8,205.8 63.9,207.0 65.0,207.8 66.0,208.1 67.1,207.7 68.2,207.0 69.3,206.5 70.3,206.2 71.4,206.0 72.5,206.0 73.6,206.5 74.6,207.6 75.7,208.9 76.8,210.0 77.9,210.9 78.9,211.5 80.0,211.4 81.1,210.9 82.2,210.3 83.3,209.8 84.3,209.2 85.4,208.6 86.5,208.1 87.6,207.8 88.6,207.6 89.7,207.5 90.8,207.5 91.9,207.4 92.9,207.3 94.0,207.1 95.1,206.9 96.2,206.5 97.2,206.2 98.3,206.0 99.4,205.8 100.5,205.9 101.6,206.4 102.6,207.0 103.7,207.2 104.8,207.0 105.9,206.7 106.9,207.1 108.0,208.0 109.1,209.2 110.2,210.5 111.2,211.6 112.3,212.8 113.4,214.0 114.5,215.0 115.6,215.8 116.6,216.5 117.7,217.2 118.8,217.8 119.9,218.3 120.9,218.7 122.0,219.1 123.1,219.5 124.2,219.7 125.2,220.0 126.3,220.2 127.4,220.4 128.5,220.6 129.6,220.7 130.6,220.9 131.7,221.0 132.8,221.1 133.9,221.2 134.9,221.3 136.0,221.4 137.1,221.5 138.2,221.6 139.2,221.7 140.3,221.7 141.4,221.8 142.5,221.8 143.5,221.8 144.6,221.8 145.7,221.9 146.8,221.9 147.9,221.9 148.9,221.9 150.0,221.9 151.1,221.9 152.2,221.9 153.2,221.9 154.3,221.9 155.4,221.9 156.5,221.9 157.5,221.9 158.6,221.9 159.7,221.9 160.8,221.9 161.8,221.9 162.9,221.9 164.0,221.9 165.1,221.9 166.2,221.9 167.2,221.9 168.3,221.9 169.4,221.9 170.5,221.9 171.5,221.9 172.6,221.8 173.7,221.8 174.8,221.8 175.8,221.8 176.9,221.8 178.0,221.8" fill="none" stroke="#f4301c" stroke-width="1" stroke-linejoin="round"/>
<polyline points="16.5,229.0 17.0,228.9 17.6,228.7 18.1,228.5 18.7,228.3 19.2,228.0 19.7,227.8 20.3,227.5 20.8,227.3 21.3,226.8 21.9,226.2 22.4,225.6 23.0,225.2 23.5,225.5 24.0,226.1 24.6,226.7 25.1,227.0 25.7,227.1 26.2,227.1 26.7,227.0 27.3,226.7 27.8,226.2 28.3,225.7 28.9,225.7 29.4,226.2 30.0,226.7 30.5,227.0 31.0,227.1 31.6,227.2 32.1,227.2 32.6,227.2 33.2,227.1 33.7,226.8 34.3,226.5 34.8,226.7 35.3,227.4 35.9,228.3 36.4,229.0 37.0,229.5 37.5,229.7 38.0,229.7 38.6,229.4 39.1,229.1 39.6,228.7 40.2,228.2 40.7,227.8 41.3,227.2 41.8,226.7 42.3,226.2 42.9,225.6 43.4,225.1 44.5,224.1 45.6,223.0 46.6,221.9 47.7,220.7 48.8,219.5 49.9,218.3 51.0,217.0 52.0,215.5 53.1,214.0 54.2,212.6 55.3,211.5 56.3,210.6 57.4,209.9 58.5,209.4 59.6,209.0 60.6,208.9 61.7,209.3 62.8,210.8 63.9,212.0 65.0,212.8 66.0,213.1 67.1,212.7 68.2,212.0 69.3,211.5 70.3,211.2 71.4,211.0 72.5,211.0 73.6,211.5 74.6,212.6 75.7,213.9 76.8,215.0 77.9,215.9 78.9,216.5 80.0,216.3 81.1,215.9 82.2,215.3 83.3,214.7 84.3,214.2 85.4,213.5 86.5,213.0 87.6,212.7 88.6,212.6 89.7,212.5 90.8,212.5 91.9,212.4 92.9,212.3 94.0,212.1 95.1,211.8 96.2,211.5 97.2,211.2 98.3,210.9 99.4,210.8 100.5,210.9 101.6,211.4 102.6,211.9 103.7,212.1 104.8,211.9 105.9,211.7 106.9,212.0 108.0,212.9 109.1,214.2 110.2,215.4 111.2,216.6 112.3,217.8 113.4,218.9 114.5,219.9 115.6,220.7 116.6,221.4 117.7,222.1 118.8,222.7 119.9,223.2 120.9,223.6 122.0,224.0 123.1,224.4 124.2,224.6 125.2,224.9 126.3,225.1 127.4,225.3 128.5,225.5 129.6,225.6 130.6,225.8 131.7,225.9 132.8,226.0 133.9,226.1 134.9,226.2 136.0,226.3 137.1,226.4 138.2,226.5 139.2,226.5 140.3,226.6 141.4,226.6 142.5,226.7 143.5,226.7 144.6,226.7 145.7,226.7 146.8,226.7 147.9,226.7 148.9,226.8 150.0,226.8 151.1,226.8 152.2,226.8 153.2,226.8 154.3,226.8 155.4,226.8 156.5,226.8 157.5,226.8 158.6,226.8 159.7,226.8 160.8,226.8 161.8,226.8 162.9,226.7 164.0,226.7 165.1,226.7 166.2,226.7 167.2,226.7 168.3,226.7 169.4,226.7 170.5,226.7 171.5,226.7 172.6,226.7 173.7,226.6 174.8,226.6 175.8,226.6 176.9,226.6 178.0,226.6" fill="none" stroke="#f4301c" stroke-width="1" stroke-linejoin="round"/>
<polyline points="16.5,234.2 17.0,234.1 17.6,233.9 18.1,233.7 18.7,233.5 19.2,233.3 19.7,233.1 20.3,232.9 20.8,232.7 21.3,232.3 21.9,231.7 22.4,231.1 23.0,230.8 23.5,231.0 24.0,231.6 24.6,232.1 25.1,232.4 25.7,232.5 26.2,232.5 26.7,232.4 27.3,232.2 27.8,231.7 28.3,231.2 28.9,231.2 29.4,231.6 30.0,232.1 30.5,232.4 31.0,232.5 31.6,232.6 32.1,232.6 32.6,232.6 33.2,232.5 33.7,232.2 34.3,232.0 34.8,232.1 35.3,232.8 35.9,233.6 36.4,234.3 37.0,234.7 37.5,234.9 38.0,234.9 38.6,234.6 39.1,234.3 39.6,233.9 40.2,233.5 40.7,233.0 41.3,232.5 41.8,231.9 42.3,231.4 42.9,230.9 43.4,230.3 44.5,229.3 45.6,228.2 46.6,227.1 47.7,225.9 48.8,224.8 49.9,223.5 51.0,222.2 52.0,220.8 53.1,219.3 54.2,217.9 55.3,216.7 56.3,215.8 57.4,215.1 58.5,214.6 59.6,214.3 60.6,214.2 61.7,214.6 62.8,216.1 63.9,217.3 65.0,218.0 66.0,218.3 67.1,217.9 68.2,217.3 69.3,216.8 70.3,216.5 71.4,216.2 72.5,216.3 73.6,216.8 74.6,217.9 75.7,219.2 76.8,220.3 77.9,221.2 78.9,221.7 80.0,221.6 81.1,221.2 82.2,220.6 83.3,220.0 84.3,219.4 85.4,218.8 86.5,218.3 87.6,218.0 88.6,217.9 89.7,217.8 90.8,217.8 91.9,217.7 92.9,217.6 94.0,217.4 95.1,217.1 96.2,216.8 97.2,216.5 98.3,216.2 99.4,216.1 100.5,216.2 101.6,216.7 102.6,217.2 103.7,217.4 104.8,217.2 105.9,217.0 106.9,217.3 108.0,218.3 109.1,219.5 110.2,220.7 111.2,221.9 112.3,223.1 113.4,224.3 114.5,225.3 115.6,226.0 116.6,226.7 117.7,227.4 118.8,228.0 119.9,228.5 120.9,229.0 122.0,229.4 123.1,229.7 124.2,230.0 125.2,230.2 126.3,230.4 127.4,230.6 128.5,230.8 129.6,231.0 130.6,231.1 131.7,231.2 132.8,231.4 133.9,231.5 134.9,231.6 136.0,231.7 137.1,231.7 138.2,231.8 139.2,231.9 140.3,231.9 141.4,232.0 142.5,232.0 143.5,232.0 144.6,232.1 145.7,232.1 146.8,232.1 147.9,232.1 148.9,232.1 150.0,232.1 151.1,232.1 152.2,232.1 153.2,232.1 154.3,232.2 155.4,232.2 156.5,232.2 157.5,232.2 158.6,232.1 159.7,232.1 160.8,232.1 161.8,232.1 162.9,232.1 164.0,232.1 165.1,232.1 166.2,232.1 167.2,232.1 168.3,232.1 169.4,232.1 170.5,232.1 171.5,232.1 172.6,232.0 173.7,232.0 174.8,232.0 175.8,232.0 176.9,232.0 178.0,232.0" fill="none" stroke="#f4301c" stroke-width="1" stroke-linejoin="round"/>
<polyline points="16.5,239.1 17.0,239.0 17.6,238.9 18.1,238.8 18.7,238.6 19.2,238.5 19.7,238.3 20.3,238.2 20.8,238.0 21.3,237.7 21.9,237.3 22.4,236.9 23.0,236.7 23.5,236.8 24.0,237.2 24.6,237.6 25.1,237.8 25.7,237.8 26.2,237.8 26.7,237.8 27.3,237.6 27.8,237.2 28.3,236.9 28.9,236.9 29.4,237.2 30.0,237.6 30.5,237.7 31.0,237.8 31.6,237.9 32.1,237.9 32.6,237.9 33.2,237.8 33.7,237.6 34.3,237.4 34.8,237.6 35.3,238.0 35.9,238.6 36.4,239.2 37.0,239.6 37.5,239.8 38.0,239.8 38.6,239.5 39.1,239.2 39.6,238.8 40.2,238.3 40.7,237.9 41.3,237.4 41.8,236.8 42.3,236.3 42.9,235.8 43.4,235.2 44.5,234.2 45.6,233.1 46.6,232.0 47.7,230.9 48.8,229.7 49.9,228.5 51.0,227.2 52.0,225.7 53.1,224.2 54.2,222.8 55.3,221.6 56.3,220.8 57.4,220.1 58.5,219.6 59.6,219.2 60.6,219.1 61.7,219.5 62.8,221.0 63.9,222.2 65.0,223.0 66.0,223.3 67.1,222.9 68.2,222.2 69.3,221.7 70.3,221.4 71.4,221.2 72.5,221.2 73.6,221.7 74.6,222.8 75.7,224.1 76.8,225.2 77.9,226.1 78.9,226.7 80.0,226.6 81.1,226.1 82.2,225.5 83.3,225.0 84.3,224.4 85.4,223.8 86.5,223.3 87.6,223.0 88.6,222.8 89.7,222.7 90.8,222.7 91.9,222.6 92.9,222.5 94.0,222.3 95.1,222.1 96.2,221.7 97.2,221.4 98.3,221.2 99.4,221.0 100.5,221.1 101.6,221.6 102.6,222.2 103.7,222.4 104.8,222.2 105.9,221.9 106.9,222.3 108.0,223.2 109.1,224.4 110.2,225.7 111.2,226.8 112.3,228.0 113.4,229.2 114.5,230.2 115.6,231.0 116.6,231.7 117.7,232.4 118.8,233.0 119.9,233.5 120.9,233.9 122.0,234.3 123.1,234.7 124.2,234.9 125.2,235.2 126.3,235.4 127.4,235.6 128.5,235.8 129.6,235.9 130.6,236.1 131.7,236.2 132.8,236.3 133.9,236.4 134.9,236.5 136.0,236.6 137.1,236.7 138.2,236.8 139.2,236.9 140.3,236.9 141.4,237.0 142.5,237.0 143.5,237.0 144.6,237.0 145.7,237.1 146.8,237.1 147.9,237.1 148.9,237.1 150.0,237.1 151.1,237.1 152.2,237.1 153.2,237.1 154.3,237.1 155.4,237.1 156.5,237.1 157.5,237.1 158.6,237.1 159.7,237.1 160.8,237.1 161.8,237.1 162.9,237.1 164.0,237.1 165.1,237.1 166.2,237.1 167.2,237.1 168.3,237.1 169.4,237.1 170.5,237.1 171.5,237.1 172.6,237.0 173.7,237.0 174.8,237.0 175.8,237.0 176.9,237.0 178.0,237.0" fill="none" stroke="#f4301c" stroke-width="1" stroke-linejoin="round"/>
<polyline points="16.5,245.0 17.0,245.0 17.6,244.9 18.1,244.9 18.7,244.8 19.2,244.8 19.7,244.7 20.3,244.7 20.8,244.6 21.3,244.6 21.9,244.5 22.4,244.3 23.0,244.3 23.5,244.3 24.0,244.4 24.6,244.5 25.1,244.5 25.7,244.5 26.2,244.5 26.7,244.5 27.3,244.4 27.8,244.3 28.3,244.2 28.9,244.2 29.4,244.3 30.0,244.4 30.5,244.4 31.0,244.4 31.6,244.4 32.1,244.4 32.6,244.4 33.2,244.4 33.7,244.4 34.3,244.3 34.8,244.4 35.3,244.5 35.9,244.8 36.4,245.1 37.0,245.4 37.5,245.6 38.0,245.6 38.6,245.3 39.1,245.0 39.6,244.6 40.2,244.1 40.7,243.7 41.3,243.2 41.8,242.7 42.3,242.1 42.9,241.6 43.4,241.1 44.5,240.0 45.6,239.0 46.6,237.8 47.7,236.7 48.8,235.5 49.9,234.3 51.0,233.0 52.0,231.5 53.1,230.0 54.2,228.6 55.3,227.4 56.3,226.6 57.4,225.9 58.5,225.3 59.6,225.0 60.6,224.9 61.7,225.3 62.8,226.8 63.9,228.0 65.0,228.7 66.0,229.0 67.1,228.7 68.2,228.0 69.3,227.5 70.3,227.2 71.4,226.9 72.5,227.0 73.6,227.5 74.6,228.6 75.7,229.9 76.8,230.9 77.9,231.9 78.9,232.4 80.0,232.3 81.1,231.8 82.2,231.3 83.3,230.7 84.3,230.1 85.4,229.5 86.5,229.0 87.6,228.7 88.6,228.5 89.7,228.5 90.8,228.4 91.9,228.4 92.9,228.3 94.0,228.0 95.1,227.8 96.2,227.4 97.2,227.1 98.3,226.9 99.4,226.7 100.5,226.8 101.6,227.3 102.6,227.9 103.7,228.1 104.8,227.8 105.9,227.6 106.9,228.0 108.0,228.9 109.1,230.1 110.2,231.4 111.2,232.5 112.3,233.7 113.4,234.9 114.5,235.9 115.6,236.7 116.6,237.4 117.7,238.0 118.8,238.6 119.9,239.1 120.9,239.6 122.0,240.0 123.1,240.3 124.2,240.6 125.2,240.8 126.3,241.0 127.4,241.2 128.5,241.4 129.6,241.6 130.6,241.7 131.7,241.8 132.8,241.9 133.9,242.1 134.9,242.2 136.0,242.2 137.1,242.3 138.2,242.4 139.2,242.5 140.3,242.5 141.4,242.5 142.5,242.6 143.5,242.6 144.6,242.6 145.7,242.6 146.8,242.7 147.9,242.7 148.9,242.7 150.0,242.7 151.1,242.7 152.2,242.7 153.2,242.7 154.3,242.7 155.4,242.7 156.5,242.7 157.5,242.7 158.6,242.7 159.7,242.7 160.8,242.7 161.8,242.7 162.9,242.7 164.0,242.6 165.1,242.6 166.2,242.6 167.2,242.6 168.3,242.6 169.4,242.6 170.5,242.6 171.5,242.6 172.6,242.6 173.7,242.5 174.8,242.5 175.8,242.5 176.9,242.5 178.0,242.5" fill="none" stroke="#f4301c" stroke-width="1" stroke-linejoin="round"/>
<polyline points="16.5,250.1 17.0,250.1 17.6,250.1 18.1,250.0 18.7,250.0 19.2,249.9 19.7,249.9 20.3,249.9 20.8,249.8 21.3,249.8 21.9,249.7 22.4,249.6 23.0,249.6 23.5,249.6 24.0,249.6 24.6,249.7 25.1,249.7 25.7,249.7 26.2,249.7 26.7,249.7 27.3,249.6 27.8,249.6 28.3,249.5 28.9,249.5 29.4,249.5 30.0,249.6 30.5,249.6 31.0,249.6 31.6,249.6 32.1,249.6 32.6,249.6 33.2,249.6 33.7,249.6 34.3,249.6 34.8,249.6 35.3,249.7 35.9,249.9 36.4,250.2 37.0,250.6 37.5,250.7 38.0,250.7 38.6,250.4 39.1,250.1 39.6,249.7 40.2,249.3 40.7,248.8 41.3,248.3 41.8,247.8 42.3,247.3 42.9,246.8 43.4,246.3 44.5,245.3 45.6,244.2 46.6,243.1 47.7,242.0 48.8,240.8 49.9,239.6 51.0,238.4 52.0,236.9 53.1,235.4 54.2,234.1 55.3,232.9 56.3,232.1 57.4,231.4 58.5,230.9 59.6,230.6 60.6,230.4 61.7,230.9 62.8,232.3 63.9,233.5 65.0,234.2 66.0,234.5 67.1,234.1 68.2,233.5 69.3,233.0 70.3,232.7 71.4,232.5 72.5,232.5 73.6,233.0 74.6,234.1 75.7,235.3 76.8,236.4 77.9,237.3 78.9,237.8 80.0,237.7 81.1,237.3 82.2,236.7 83.3,236.2 84.3,235.6 85.4,235.0 86.5,234.5 87.6,234.2 88.6,234.0 89.7,234.0 90.8,233.9 91.9,233.9 92.9,233.8 94.0,233.6 95.1,233.3 96.2,233.0 97.2,232.7 98.3,232.4 99.4,232.3 100.5,232.4 101.6,232.8 102.6,233.4 103.7,233.6 104.8,233.4 105.9,233.2 106.9,233.5 108.0,234.4 109.1,235.6 110.2,236.8 111.2,237.9 112.3,239.1 113.4,240.3 114.5,241.2 115.6,242.0 116.6,242.7 117.7,243.4 118.8,243.9 119.9,244.4 120.9,244.9 122.0,245.3 123.1,245.6 124.2,245.9 125.2,246.1 126.3,246.3 127.4,246.5 128.5,246.7 129.6,246.8 130.6,247.0 131.7,247.1 132.8,247.2 133.9,247.3 134.9,247.4 136.0,247.5 137.1,247.6 138.2,247.7 139.2,247.7 140.3,247.8 141.4,247.8 142.5,247.8 143.5,247.9 144.6,247.9 145.7,247.9 146.8,247.9 147.9,247.9 148.9,247.9 150.0,248.0 151.1,248.0 152.2,248.0 153.2,248.0 154.3,248.0 155.4,248.0 156.5,248.0 157.5,248.0 158.6,248.0 159.7,248.0 160.8,248.0 161.8,247.9 162.9,247.9 164.0,247.9 165.1,247.9 166.2,247.9 167.2,247.9 168.3,247.9 169.4,247.9 170.5,247.9 171.5,247.9 172.6,247.9 173.7,247.8 174.8,247.8 175.8,247.8 176.9,247.8 178.0,247.8" fill="none" stroke="#f4301c" stroke-width="1" stroke-linejoin="round"/>
<polyline points="16.5,254.7 17.0,254.7 17.6,254.6 18.1,254.6 18.7,254.6 19.2,254.5 19.7,254.5 20.3,254.5 20.8,254.4 21.3,254.4 21.9,254.3 22.4,254.2 23.0,254.2 23.5,254.2 24.0,254.2 24.6,254.3 25.1,254.3 25.7,254.3 26.2,254.3 26.7,254.2 27.3,254.2 27.8,254.1 28.3,254.1 28.9,254.1 29.4,254.1 30.0,254.2 30.5,254.2 31.0,254.2 31.6,254.2 32.1,254.2 32.6,254.2 33.2,254.2 33.7,254.2 34.3,254.1 34.8,254.2 35.3,254.2 35.9,254.5 36.4,254.8 37.0,255.1 37.5,255.3 38.0,255.2 38.6,255.0 39.1,254.6 39.6,254.3 40.2,253.8 40.7,253.4 41.3,252.9 41.8,252.4 42.3,251.9 42.9,251.4 43.4,250.9 44.5,249.9 45.6,248.8 46.6,247.8 47.7,246.7 48.8,245.5 49.9,244.4 51.0,243.1 52.0,241.7 53.1,240.2 54.2,238.9 55.3,237.8 56.3,236.9 57.4,236.3 58.5,235.8 59.6,235.4 60.6,235.3 61.7,235.7 62.8,237.1 63.9,238.3 65.0,239.0 66.0,239.3 67.1,238.9 68.2,238.2 69.3,237.8 70.3,237.5 71.4,237.3 72.5,237.3 73.6,237.7 74.6,238.8 75.7,240.1 76.8,241.1 77.9,242.0 78.9,242.5 80.0,242.4 81.1,242.0 82.2,241.4 83.3,240.9 84.3,240.3 85.4,239.7 86.5,239.2 87.6,238.9 88.6,238.8 89.7,238.7 90.8,238.6 91.9,238.6 92.9,238.5 94.0,238.3 95.1,238.0 96.2,237.7 97.2,237.4 98.3,237.1 99.4,237.0 100.5,237.1 101.6,237.6 102.6,238.1 103.7,238.3 104.8,238.1 105.9,237.8 106.9,238.2 108.0,239.1 109.1,240.2 110.2,241.4 111.2,242.5 112.3,243.7 113.4,244.8 114.5,245.8 115.6,246.5 116.6,247.2 117.7,247.8 118.8,248.4 119.9,248.9 120.9,249.3 122.0,249.7 123.1,250.0 124.2,250.3 125.2,250.5 126.3,250.7 127.4,250.9 128.5,251.0 129.6,251.2 130.6,251.3 131.7,251.4 132.8,251.6 133.9,251.7 134.9,251.7 136.0,251.8 137.1,251.9 138.2,252.0 139.2,252.0 140.3,252.1 141.4,252.1 142.5,252.1 143.5,252.2 144.6,252.2 145.7,252.2 146.8,252.2 147.9,252.2 148.9,252.2 150.0,252.2 151.1,252.2 152.2,252.2 153.2,252.2 154.3,252.2 155.4,252.2 156.5,252.2 157.5,252.2 158.6,252.2 159.7,252.2 160.8,252.2 161.8,252.2 162.9,252.2 164.0,252.2 165.1,252.2 166.2,252.1 167.2,252.1 168.3,252.1 169.4,252.1 170.5,252.1 171.5,252.1 172.6,252.1 173.7,252.1 174.8,252.0 175.8,252.0 176.9,252.0 178.0,252.0" fill="none" stroke="#f4301c" stroke-width="1" stroke-linejoin="round"/>
<polyline points="16.5,259.3 17.0,259.3 17.6,259.2 18.1,259.2 18.7,259.2 19.2,259.1 19.7,259.1 20.3,259.1 20.8,259.0 21.3,259.0 21.9,258.9 22.4,258.8 23.0,258.7 23.5,258.8 24.0,258.8 24.6,258.8 25.1,258.9 25.7,258.9 26.2,258.9 26.7,258.8 27.3,258.8 27.8,258.7 28.3,258.7 28.9,258.6 29.4,258.7 30.0,258.7 30.5,258.8 31.0,258.8 31.6,258.8 32.1,258.8 32.6,258.8 33.2,258.8 33.7,258.7 34.3,258.7 34.8,258.7 35.3,258.8 35.9,259.0 36.4,259.3 37.0,259.6 37.5,259.8 38.0,259.7 38.6,259.5 39.1,259.2 39.6,258.8 40.2,258.4 40.7,258.0 41.3,257.5 41.8,257.0 42.3,256.5 42.9,256.0 43.4,255.5 44.5,254.6 45.6,253.6 46.6,252.5 47.7,251.4 48.8,250.3 49.9,249.2 51.0,248.0 52.0,246.6 53.1,245.2 54.2,243.9 55.3,242.8 56.3,242.0 57.4,241.3 58.5,240.8 59.6,240.5 60.6,240.4 61.7,240.8 62.8,242.2 63.9,243.3 65.0,244.0 66.0,244.2 67.1,243.9 68.2,243.2 69.3,242.8 70.3,242.5 71.4,242.3 72.5,242.3 73.6,242.7 74.6,243.8 75.7,245.0 76.8,246.0 77.9,246.9 78.9,247.3 80.0,247.2 81.1,246.8 82.2,246.2 83.3,245.7 84.3,245.2 85.4,244.6 86.5,244.1 87.6,243.8 88.6,243.7 89.7,243.6 90.8,243.6 91.9,243.5 92.9,243.4 94.0,243.2 95.1,242.9 96.2,242.6 97.2,242.3 98.3,242.1 99.4,242.0 100.5,242.0 101.6,242.5 102.6,243.0 103.7,243.2 104.8,243.0 105.9,242.8 106.9,243.1 108.0,243.9 109.1,245.0 110.2,246.2 111.2,247.3 112.3,248.4 113.4,249.5 114.5,250.4 115.6,251.1 116.6,251.8 117.7,252.4 118.8,252.9 119.9,253.4 120.9,253.8 122.0,254.2 123.1,254.5 124.2,254.7 125.2,255.0 126.3,255.2 127.4,255.3 128.5,255.5 129.6,255.6 130.6,255.7 131.7,255.9 132.8,256.0 133.9,256.1 134.9,256.2 136.0,256.2 137.1,256.3 138.2,256.4 139.2,256.4 140.3,256.5 141.4,256.5 142.5,256.5 143.5,256.5 144.6,256.6 145.7,256.6 146.8,256.6 147.9,256.6 148.9,256.6 150.0,256.6 151.1,256.6 152.2,256.6 153.2,256.6 154.3,256.6 155.4,256.6 156.5,256.6 157.5,256.6 158.6,256.6 159.7,256.5 160.8,256.5 161.8,256.5 162.9,256.5 164.0,256.5 165.1,256.5 166.2,256.5 167.2,256.5 168.3,256.4 169.4,256.4 170.5,256.4 171.5,256.4 172.6,256.4 173.7,256.4 174.8,256.3 175.8,256.3 176.9,256.3 178.0,256.3" fill="none" stroke="#f4301c" stroke-width="1" stroke-linejoin="round"/>
<polyline points="16.5,263.9 17.0,263.9 17.6,263.8 18.1,263.8 18.7,263.8 19.2,263.7 19.7,263.7 20.3,263.7 20.8,263.6 21.3,263.6 21.9,263.5 22.4,263.4 23.0,263.4 23.5,263.4 24.0,263.4 24.6,263.5 25.1,263.5 25.7,263.5 26.2,263.5 26.7,263.4 27.3,263.4 27.8,263.3 28.3,263.3 28.9,263.3 29.4,263.3 30.0,263.4 30.5,263.4 31.0,263.4 31.6,263.4 32.1,263.4 32.6,263.4 33.2,263.4 33.7,263.3 34.3,263.3 34.8,263.3 35.3,263.4 35.9,263.6 36.4,263.9 37.0,264.2 37.5,264.3 38.0,264.3 38.6,264.1 39.1,263.8 39.6,263.4 40.2,263.1 40.7,262.7 41.3,262.2 41.8,261.8 42.3,261.3 42.9,260.9 43.4,260.4 44.5,259.5 45.6,258.6 46.6,257.7 47.7,256.7 48.8,255.7 49.9,254.6 51.0,253.5 52.0,252.3 53.1,251.0 54.2,249.8 55.3,248.8 56.3,248.0 57.4,247.4 58.5,247.0 59.6,246.7 60.6,246.6 61.7,247.0 62.8,248.2 63.9,249.2 65.0,249.8 66.0,250.1 67.1,249.8 68.2,249.2 69.3,248.8 70.3,248.5 71.4,248.3 72.5,248.3 73.6,248.7 74.6,249.7 75.7,250.8 76.8,251.7 77.9,252.5 78.9,252.9 80.0,252.8 81.1,252.4 82.2,251.9 83.3,251.4 84.3,250.9 85.4,250.4 86.5,249.9 87.6,249.7 88.6,249.6 89.7,249.5 90.8,249.4 91.9,249.4 92.9,249.3 94.0,249.1 95.1,248.9 96.2,248.6 97.2,248.3 98.3,248.1 99.4,248.0 100.5,248.0 101.6,248.5 102.6,248.9 103.7,249.1 104.8,248.9 105.9,248.7 106.9,249.0 108.0,249.8 109.1,250.8 110.2,251.9 111.2,252.8 112.3,253.8 113.4,254.8 114.5,255.7 115.6,256.3 116.6,256.9 117.7,257.5 118.8,258.0 119.9,258.4 120.9,258.8 122.0,259.1 123.1,259.4 124.2,259.6 125.2,259.8 126.3,260.0 127.4,260.2 128.5,260.3 129.6,260.4 130.6,260.5 131.7,260.6 132.8,260.7 133.9,260.8 134.9,260.9 136.0,261.0 137.1,261.0 138.2,261.1 139.2,261.1 140.3,261.2 141.4,261.2 142.5,261.2 143.5,261.3 144.6,261.3 145.7,261.3 146.8,261.3 147.9,261.3 148.9,261.3 150.0,261.3 151.1,261.3 152.2,261.3 153.2,261.3 154.3,261.3 155.4,261.3 156.5,261.3 157.5,261.3 158.6,261.3 159.7,261.2 160.8,261.2 161.8,261.2 162.9,261.2 164.0,261.2 165.1,261.2 166.2,261.2 167.2,261.1 168.3,261.1 169.4,261.1 170.5,261.1 171.5,261.1 172.6,261.1 173.7,261.1 174.8,261.0 175.8,261.0 176.9,261.0 178.0,261.0" fill="none" stroke="#f4301c" stroke-width="1" stroke-linejoin="round"/>
<polyline points="16.5,267.6 17.0,267.6 17.6,267.6 18.1,267.6 18.7,267.5 19.2,267.5 19.7,267.5 20.3,267.5 20.8,267.5 21.3,267.4 21.9,267.4 22.4,267.4 23.0,267.3 23.5,267.3 24.0,267.4 24.6,267.4 25.1,267.4 25.7,267.4 26.2,267.4 26.7,267.4 27.3,267.4 27.8,267.3 28.3,267.3 28.9,267.3 29.4,267.3 30.0,267.3 30.5,267.4 31.0,267.4 31.6,267.4 32.1,267.4 32.6,267.4 33.2,267.4 33.7,267.4 34.3,267.4 34.8,267.4 35.3,267.4 35.9,267.5 36.4,267.7 37.0,267.9 37.5,268.0 38.0,268.0 38.6,267.8 39.1,267.6 39.6,267.4 40.2,267.2 40.7,266.9 41.3,266.6 41.8,266.3 42.3,266.0 42.9,265.6 43.4,265.3 44.5,264.7 45.6,264.1 46.6,263.4 47.7,262.7 48.8,262.0 49.9,261.3 51.0,260.5 52.0,259.6 53.1,258.7 54.2,257.9 55.3,257.2 56.3,256.7 57.4,256.2 58.5,255.9 59.6,255.7 60.6,255.7 61.7,255.9 62.8,256.8 63.9,257.5 65.0,258.0 66.0,258.2 67.1,257.9 68.2,257.5 69.3,257.3 70.3,257.1 71.4,256.9 72.5,257.0 73.6,257.2 74.6,257.9 75.7,258.7 76.8,259.4 77.9,259.9 78.9,260.2 80.0,260.2 81.1,259.9 82.2,259.6 83.3,259.2 84.3,258.9 85.4,258.5 86.5,258.2 87.6,258.0 88.6,257.9 89.7,257.9 90.8,257.9 91.9,257.9 92.9,257.8 94.0,257.7 95.1,257.5 96.2,257.3 97.2,257.1 98.3,257.0 99.4,256.9 100.5,257.0 101.6,257.2 102.6,257.6 103.7,257.7 104.8,257.6 105.9,257.4 106.9,257.7 108.0,258.2 109.1,258.9 110.2,259.7 111.2,260.4 112.3,261.1 113.4,261.8 114.5,262.4 115.6,262.9 116.6,263.3 117.7,263.7 118.8,264.1 119.9,264.4 120.9,264.7 122.0,264.9 123.1,265.1 124.2,265.3 125.2,265.4 126.3,265.6 127.4,265.7 128.5,265.8 129.6,265.9 130.6,266.0 131.7,266.1 132.8,266.1 133.9,266.2 134.9,266.3 136.0,266.3 137.1,266.4 138.2,266.4 139.2,266.5 140.3,266.5 141.4,266.5 142.5,266.5 143.5,266.6 144.6,266.6 145.7,266.6 146.8,266.6 147.9,266.6 148.9,266.6 150.0,266.6 151.1,266.6 152.2,266.6 153.2,266.6 154.3,266.6 155.4,266.6 156.5,266.6 157.5,266.7 158.6,266.7 159.7,266.7 160.8,266.6 161.8,266.6 162.9,266.6 164.0,266.6 165.1,266.6 166.2,266.6 167.2,266.6 168.3,266.6 169.4,266.6 170.5,266.6 171.5,266.6 172.6,266.6 173.7,266.6 174.8,266.6 175.8,266.6 176.9,266.6 178.0,266.6" fill="none" stroke="#f4301c" stroke-width="1" stroke-linejoin="round"/>
<polyline points="16.5,269.4 17.0,269.4 17.6,269.4 18.1,269.4 18.7,269.4 19.2,269.3 19.7,269.3 20.3,269.3 20.8,269.3 21.3,269.3 21.9,269.2 22.4,269.2 23.0,269.2 23.5,269.2 24.0,269.2 24.6,269.3 25.1,269.3 25.7,269.3 26.2,269.3 26.7,269.3 27.3,269.3 27.8,269.2 28.3,269.2 28.9,269.2 29.4,269.2 30.0,269.3 30.5,269.3 31.0,269.3 31.6,269.3 32.1,269.3 32.6,269.3 33.2,269.3 33.7,269.3 34.3,269.3 34.8,269.3 35.3,269.3 35.9,269.4 36.4,269.6 37.0,269.7 37.5,269.8 38.0,269.7 38.6,269.6 39.1,269.5 39.6,269.4 40.2,269.2 40.7,269.1 41.3,268.9 41.8,268.7 42.3,268.6 42.9,268.4 43.4,268.2 44.5,267.8 45.6,267.5 46.6,267.1 47.7,266.7 48.8,266.3 49.9,265.9 51.0,265.4 52.0,264.9 53.1,264.4 54.2,263.9 55.3,263.5 56.3,263.2 57.4,263.0 58.5,262.8 59.6,262.7 60.6,262.6 61.7,262.8 62.8,263.3 63.9,263.7 65.0,264.0 66.0,264.1 67.1,264.0 68.2,263.7 69.3,263.6 70.3,263.5 71.4,263.4 72.5,263.4 73.6,263.6 74.6,264.0 75.7,264.5 76.8,264.8 77.9,265.2 78.9,265.4 80.0,265.3 81.1,265.2 82.2,265.0 83.3,264.8 84.3,264.6 85.4,264.4 86.5,264.2 87.6,264.1 88.6,264.1 89.7,264.1 90.8,264.0 91.9,264.0 92.9,264.0 94.0,263.9 95.1,263.8 96.2,263.7 97.2,263.6 98.3,263.6 99.4,263.5 100.5,263.5 101.6,263.7 102.6,263.9 103.7,264.0 104.8,263.9 105.9,263.9 106.9,264.0 108.0,264.3 109.1,264.7 110.2,265.2 111.2,265.6 112.3,266.0 113.4,266.4 114.5,266.8 115.6,267.1 116.6,267.3 117.7,267.6 118.8,267.8 119.9,268.0 120.9,268.1 122.0,268.3 123.1,268.4 124.2,268.5 125.2,268.6 126.3,268.7 127.4,268.8 128.5,268.8 129.6,268.9 130.6,268.9 131.7,269.0 132.8,269.0 133.9,269.1 134.9,269.1 136.0,269.2 137.1,269.2 138.2,269.2 139.2,269.2 140.3,269.3 141.4,269.3 142.5,269.3 143.5,269.3 144.6,269.3 145.7,269.4 146.8,269.4 147.9,269.4 148.9,269.4 150.0,269.4 151.1,269.4 152.2,269.4 153.2,269.4 154.3,269.4 155.4,269.4 156.5,269.4 157.5,269.4 158.6,269.4 159.7,269.5 160.8,269.5 161.8,269.5 162.9,269.5 164.0,269.5 165.1,269.5 166.2,269.5 167.2,269.5 168.3,269.5 169.4,269.5 170.5,269.5 171.5,269.5 172.6,269.5 173.7,269.5 174.8,269.5 175.8,269.5 176.9,269.5 178.0,269.5" fill="none" stroke="#f4301c" stroke-width="1" stroke-linejoin="round"/>
<polyline points="16.5,270.4 17.0,270.4 17.6,270.4 18.1,270.4 18.7,270.4 19.2,270.4 19.7,270.4 20.3,270.4 20.8,270.4 21.3,270.4 21.9,270.4 22.4,270.4 23.0,270.4 23.5,270.4 24.0,270.4 24.6,270.4 25.1,270.4 25.7,270.4 26.2,270.4 26.7,270.4 27.3,270.4 27.8,270.4 28.3,270.4 28.9,270.4 29.4,270.4 30.0,270.4 30.5,270.4 31.0,270.5 31.6,270.5 32.1,270.5 32.6,270.5 33.2,270.5 33.7,270.5 34.3,270.5 34.8,270.5 35.3,270.5 35.9,270.5 36.4,270.5 37.0,270.5 37.5,270.6 38.0,270.6 38.6,270.6 39.1,270.6 39.6,270.5 40.2,270.5 40.7,270.5 41.3,270.5 41.8,270.5 42.3,270.5 42.9,270.5 43.4,270.5 44.5,270.4 45.6,270.4 46.6,270.4 47.7,270.4 48.8,270.3 49.9,270.3 51.0,270.3 52.0,270.2 53.1,270.2 54.2,270.2 55.3,270.1 56.3,270.1 57.4,270.1 58.5,270.1 59.6,270.1 60.6,270.1 61.7,270.1 62.8,270.2 63.9,270.2 65.0,270.2 66.0,270.3 67.1,270.2 68.2,270.2 69.3,270.2 70.3,270.2 71.4,270.2 72.5,270.2 73.6,270.3 74.6,270.3 75.7,270.3 76.8,270.4 77.9,270.4 78.9,270.4 80.0,270.4 81.1,270.4 82.2,270.4 83.3,270.4 84.3,270.4 85.4,270.4 86.5,270.4 87.6,270.4 88.6,270.4 89.7,270.4 90.8,270.4 91.9,270.4 92.9,270.4 94.0,270.4 95.1,270.4 96.2,270.4 97.2,270.4 98.3,270.4 99.4,270.4 100.5,270.4 101.6,270.4 102.6,270.5 103.7,270.5 104.8,270.5 105.9,270.5 106.9,270.5 108.0,270.5 109.1,270.6 110.2,270.6 111.2,270.7 112.3,270.7 113.4,270.7 114.5,270.8 115.6,270.8 116.6,270.8 117.7,270.9 118.8,270.9 119.9,270.9 120.9,270.9 122.0,271.0 123.1,271.0 124.2,271.0 125.2,271.0 126.3,271.0 127.4,271.0 128.5,271.0 129.6,271.0 130.6,271.1 131.7,271.1 132.8,271.1 133.9,271.1 134.9,271.1 136.0,271.1 137.1,271.1 138.2,271.1 139.2,271.1 140.3,271.1 141.4,271.2 142.5,271.2 143.5,271.2 144.6,271.2 145.7,271.2 146.8,271.2 147.9,271.2 148.9,271.2 150.0,271.2 151.1,271.2 152.2,271.2 153.2,271.2 154.3,271.2 155.4,271.3 156.5,271.3 157.5,271.3 158.6,271.3 159.7,271.3 160.8,271.3 161.8,271.3 162.9,271.3 164.0,271.3 165.1,271.3 166.2,271.3 167.2,271.3 168.3,271.3 169.4,271.3 170.5,271.4 171.5,271.4 172.6,271.4 173.7,271.4 174.8,271.4 175.8,271.4 176.9,271.4 178.0,271.4" fill="none" stroke="#f4301c" stroke-width="1" stroke-linejoin="round"/>
<path d="M22.6 202.6 l-1.2 2.6 h2.4 z" fill="#f22"/>
<text x="23.7" y="201" font-size="6.6" text-anchor="start" font-weight="bold" fill="#f02020" transform="rotate(-90 23.7 201)">1048</text>
<path d="M27.8 201.8 l-1.2 2.6 h2.4 z" fill="#f22"/>
<text x="30.4" y="198.8" font-size="6.6" text-anchor="start" font-weight="bold" fill="#f02020" transform="rotate(-90 30.4 198.8)">1090</text>
<path d="M34.5 205.3 l-1.2 2.6 h2.4 z" fill="#f22"/>
<text x="37.3" y="202.2" font-size="6.6" text-anchor="start" font-weight="bold" fill="#f02020" transform="rotate(-90 37.3 202.2)">1134</text>
<path d="M54.5 190 l-1.2 2.6 h2.4 z" fill="#f22"/>
<text x="53" y="195" font-size="6.6" text-anchor="start" font-weight="bold" fill="#f02020" transform="rotate(-90 53 195)">1290</text>
<path d="M60.4 182 l-1.2 2.6 h2.4 z" fill="#f22"/>
<text x="59" y="182" font-size="6.6" text-anchor="start" font-weight="bold" fill="#f02020" transform="rotate(-90 59 182)">1331</text>
<path d="M65.8 190.3 l-1.2 2.6 h2.4 z" fill="#f22"/>
<text x="68" y="189" font-size="6.6" text-anchor="start" font-weight="bold" fill="#f02020" transform="rotate(-90 68 189)">1368</text>
<path d="M73.2 189 l-1.2 2.6 h2.4 z" fill="#f22"/>
<text x="77" y="188" font-size="6.6" text-anchor="start" font-weight="bold" fill="#f02020" transform="rotate(-90 77 188)">1420</text>
<path d="M87.1 187.4 l-1.2 2.6 h2.4 z" fill="#f22"/>
<text x="90" y="185.8" font-size="6.6" text-anchor="start" font-weight="bold" fill="#f02020" transform="rotate(-90 90 185.8)">1524</text>
<path d="M99.2 186.7 l-1.2 2.6 h2.4 z" fill="#f22"/>
<text x="102.5" y="183.6" font-size="6.6" text-anchor="start" font-weight="bold" fill="#f02020" transform="rotate(-90 102.5 183.6)">1619</text>
<path d="M106.6 189 l-1.2 2.6 h2.4 z" fill="#f22"/>
<text x="110" y="187.4" font-size="6.6" text-anchor="start" font-weight="bold" fill="#f02020" transform="rotate(-90 110 187.4)">1670</text>
<rect x="16.5" y="161.5" width="161.5" height="113.5" fill="none" stroke="#000" stroke-width="1.3"/>
<line x1="16.5" y1="275" x2="16.5" y2="278" stroke="#000" stroke-width="1"/>
<line x1="29.96" y1="275" x2="29.96" y2="276.8" stroke="#000" stroke-width="1"/>
<line x1="43.42" y1="275" x2="43.42" y2="278" stroke="#000" stroke-width="1"/>
<line x1="56.88" y1="275" x2="56.88" y2="276.8" stroke="#000" stroke-width="1"/>
<line x1="70.33" y1="275" x2="70.33" y2="278" stroke="#000" stroke-width="1"/>
<line x1="83.79" y1="275" x2="83.79" y2="276.8" stroke="#000" stroke-width="1"/>
<line x1="97.25" y1="275" x2="97.25" y2="278" stroke="#000" stroke-width="1"/>
<line x1="110.71" y1="275" x2="110.71" y2="276.8" stroke="#000" stroke-width="1"/>
<line x1="124.17" y1="275" x2="124.17" y2="278" stroke="#000" stroke-width="1"/>
<line x1="137.62" y1="275" x2="137.62" y2="276.8" stroke="#000" stroke-width="1"/>
<line x1="151.08" y1="275" x2="151.08" y2="278" stroke="#000" stroke-width="1"/>
<line x1="164.54" y1="275" x2="164.54" y2="276.8" stroke="#000" stroke-width="1"/>
<line x1="178" y1="275" x2="178" y2="278" stroke="#000" stroke-width="1"/>
<text x="16.5" y="285" font-size="8.2" text-anchor="middle" font-weight="bold" fill="#000">1000</text>
<text x="43.42" y="285" font-size="8.2" text-anchor="middle" font-weight="bold" fill="#000">1200</text>
<text x="70.33" y="285" font-size="8.2" text-anchor="middle" font-weight="bold" fill="#000">1400</text>
<text x="97.25" y="285" font-size="8.2" text-anchor="middle" font-weight="bold" fill="#000">1600</text>
<text x="124.17" y="285" font-size="8.2" text-anchor="middle" font-weight="bold" fill="#000">1800</text>
<text x="151.08" y="285" font-size="8.2" text-anchor="middle" font-weight="bold" fill="#000">2000</text>
<text x="178" y="285" font-size="8.2" text-anchor="middle" font-weight="bold" fill="#000">2200</text>
<text x="97" y="294.5" font-size="9.5" text-anchor="middle" font-weight="bold">Wavenumber (cm<tspan font-size="6.17" dy="-3.5">-1</tspan><tspan dy="3.5">)</tspan></text>
<text x="10.9" y="219.4" font-size="9.6" text-anchor="middle" font-weight="bold" fill="#000" transform="rotate(-90 10.9 219.4)">Absorbance (arb.units)</text>
<line x1="19.5" y1="167.6" x2="19.5" y2="176" stroke="#000" stroke-width="1"/>
<path d="M19.5 166.1 l-1.1 2.6 h2.2 z" fill="#000"/>
<text x="22.6" y="175.3" font-size="6.8" text-anchor="start" font-weight="bold" fill="#000">0.1</text>
<text x="149" y="176.8" font-size="8.2" text-anchor="middle" font-weight="bold" fill="#000">D-NTL/TO-1</text>
<text x="156.7" y="199.8" font-size="7.2" text-anchor="middle" font-weight="bold" fill="#ff2424">Irradiation</text>
<text x="-0.6" y="315.8" font-size="11.5" font-weight="bold" fill="#000">c<tspan font-size="8.16" dy="2.7">1</tspan></text>
<rect x="155.3" y="366.6" width="9.7" height="33.1" fill="#f7dc00"/>
<rect x="155.3" y="399.7" width="9.7" height="31.1" fill="#a8d4f4"/>
<line x1="22.6" y1="367.4" x2="22.6" y2="403" stroke="#9cc4f0" stroke-width="0.8"/>
<line x1="28.5" y1="365.8" x2="28.5" y2="403" stroke="#9cc4f0" stroke-width="0.8"/>
<line x1="33.9" y1="368.5" x2="33.9" y2="403" stroke="#9cc4f0" stroke-width="0.8"/>
<line x1="56.3" y1="345.5" x2="56.3" y2="427" stroke="#9cc4f0" stroke-width="0.8"/>
<line x1="61.5" y1="343" x2="61.5" y2="427" stroke="#9cc4f0" stroke-width="0.8"/>
<line x1="65.8" y1="349" x2="65.8" y2="427" stroke="#9cc4f0" stroke-width="0.8"/>
<line x1="73.4" y1="348" x2="73.4" y2="427" stroke="#9cc4f0" stroke-width="0.8"/>
<line x1="86.4" y1="350.1" x2="86.4" y2="427" stroke="#9cc4f0" stroke-width="0.8"/>
<line x1="98.7" y1="351.2" x2="98.7" y2="427" stroke="#9cc4f0" stroke-width="0.8"/>
<line x1="106.8" y1="356.6" x2="106.8" y2="427" stroke="#9cc4f0" stroke-width="0.8"/>
<polyline points="15.5,373.4 16.0,373.3 16.6,373.1 17.1,373.0 17.7,372.8 18.2,372.6 18.8,372.5 19.3,372.4 19.8,372.1 20.4,371.6 20.9,370.6 21.5,369.6 22.0,369.1 22.5,369.6 23.1,370.6 23.6,371.6 24.2,372.1 24.7,372.3 25.3,372.3 25.8,372.0 26.3,371.2 26.9,370.2 27.4,369.3 28.0,369.3 28.5,370.2 29.1,371.2 29.6,371.9 30.1,372.2 30.7,372.3 31.2,372.3 31.8,372.2 32.3,371.7 32.8,371.0 33.4,370.3 33.9,370.5 34.5,371.7 35.0,373.0 35.6,374.0 36.1,374.7 36.6,375.5 37.2,376.2 37.7,376.6 38.3,376.6 38.8,376.5 39.3,376.3 39.9,376.1 40.4,375.8 41.0,375.5 41.5,375.1 42.1,374.6 42.6,373.9 43.7,372.3 44.8,370.4 45.9,368.4 46.9,366.4 48.0,364.3 49.1,362.4 50.2,360.5 51.3,358.5 52.4,356.6 53.4,354.8 54.5,353.3 55.6,352.0 56.7,350.6 57.8,349.3 58.9,348.2 59.9,347.6 61.0,347.9 62.1,350.0 63.2,351.8 64.3,352.9 65.4,353.5 66.4,353.2 67.5,352.4 68.6,351.8 69.7,351.2 70.8,350.7 71.9,350.5 73.0,350.9 74.0,352.1 75.1,353.5 76.2,354.8 77.3,356.3 78.4,356.9 79.5,356.5 80.5,355.8 81.6,355.0 82.7,354.3 83.8,353.4 84.9,352.6 86.0,352.0 87.0,351.8 88.1,352.0 89.2,352.3 90.3,352.7 91.4,353.1 92.5,353.2 93.5,353.3 94.6,353.4 95.7,353.6 96.8,353.7 97.9,353.9 99.0,354.2 100.1,354.8 101.1,355.7 102.2,356.7 103.3,357.7 104.4,358.7 105.5,359.7 106.6,360.8 107.6,362.0 108.7,363.3 109.8,364.5 110.9,365.6 112.0,366.6 113.1,367.6 114.1,368.4 115.2,369.1 116.3,369.6 117.4,370.0 118.5,370.3 119.6,370.5 120.6,370.7 121.7,370.8 122.8,370.9 123.9,371.0 125.0,371.1 126.1,371.2 127.2,371.3 128.2,371.4 129.3,371.5 130.4,371.5 131.5,371.6 132.6,371.6 133.7,371.6 134.7,371.7 135.8,371.7 136.9,371.7 138.0,371.7 139.1,371.7 140.2,371.7 141.2,371.7 142.3,371.8 143.4,371.8 144.5,371.8 145.6,371.8 146.7,371.8 147.7,371.8 148.8,371.8 149.9,371.8 151.0,371.8 152.1,371.8 153.2,371.8 154.3,371.8 155.3,371.8 156.4,371.8 157.5,371.8 158.6,371.8 159.7,371.8 160.8,371.8 161.8,371.8 162.9,371.8 164.0,371.8 165.1,371.8 166.2,371.8 167.3,371.8 168.3,371.8 169.4,371.8 170.5,371.8 171.6,371.8 172.7,371.8 173.8,371.8 174.8,371.8 175.9,371.8 177.0,371.8 178.1,371.8" fill="none" stroke="#1e6ee0" stroke-width="1.05" stroke-linejoin="round"/>
<polyline points="15.5,378.5 16.0,378.4 16.6,378.2 17.1,378.1 17.7,377.9 18.2,377.7 18.8,377.6 19.3,377.5 19.8,377.2 20.4,376.7 20.9,375.7 21.5,374.7 22.0,374.2 22.5,374.6 23.1,375.7 23.6,376.7 24.2,377.2 24.7,377.4 25.3,377.3 25.8,377.0 26.3,376.3 26.9,375.2 27.4,374.4 28.0,374.4 28.5,375.2 29.1,376.3 29.6,377.0 30.1,377.3 30.7,377.4 31.2,377.3 31.8,377.2 32.3,376.8 32.8,376.0 33.4,375.3 33.9,375.6 34.5,376.7 35.0,378.0 35.6,379.0 36.1,379.7 36.6,380.5 37.2,381.2 37.7,381.6 38.3,381.6 38.8,381.5 39.3,381.3 39.9,381.1 40.4,380.8 41.0,380.5 41.5,380.1 42.1,379.6 42.6,378.9 43.7,377.3 44.8,375.4 45.9,373.4 46.9,371.4 48.0,369.3 49.1,367.4 50.2,365.5 51.3,363.5 52.4,361.6 53.4,359.8 54.5,358.3 55.6,356.9 56.7,355.5 57.8,354.2 58.9,353.2 59.9,352.5 61.0,352.8 62.1,354.9 63.2,356.7 64.3,357.9 65.4,358.4 66.4,358.1 67.5,357.3 68.6,356.7 69.7,356.1 70.8,355.6 71.9,355.4 73.0,355.8 74.0,356.9 75.1,358.4 76.2,359.7 77.3,361.2 78.4,361.7 79.5,361.4 80.5,360.7 81.6,359.8 82.7,359.1 83.8,358.3 84.9,357.4 86.0,356.8 87.0,356.6 88.1,356.8 89.2,357.2 90.3,357.6 91.4,357.9 92.5,358.0 93.5,358.2 94.6,358.2 95.7,358.4 96.8,358.5 97.9,358.7 99.0,359.0 100.1,359.6 101.1,360.5 102.2,361.5 103.3,362.5 104.4,363.4 105.5,364.5 106.6,365.6 107.6,366.8 108.7,368.1 109.8,369.3 110.9,370.3 112.0,371.3 113.1,372.3 114.1,373.2 115.2,373.9 116.3,374.4 117.4,374.7 118.5,375.0 119.6,375.2 120.6,375.4 121.7,375.5 122.8,375.6 123.9,375.7 125.0,375.8 126.1,375.9 127.2,376.0 128.2,376.1 129.3,376.1 130.4,376.2 131.5,376.2 132.6,376.3 133.7,376.3 134.7,376.3 135.8,376.3 136.9,376.3 138.0,376.4 139.1,376.4 140.2,376.4 141.2,376.4 142.3,376.4 143.4,376.4 144.5,376.4 145.6,376.4 146.7,376.4 147.7,376.4 148.8,376.4 149.9,376.4 151.0,376.4 152.1,376.4 153.2,376.4 154.3,376.4 155.3,376.4 156.4,376.4 157.5,376.4 158.6,376.4 159.7,376.4 160.8,376.4 161.8,376.4 162.9,376.4 164.0,376.4 165.1,376.4 166.2,376.4 167.3,376.4 168.3,376.4 169.4,376.4 170.5,376.4 171.6,376.3 172.7,376.3 173.8,376.3 174.8,376.3 175.9,376.3 177.0,376.3 178.1,376.3" fill="none" stroke="#1e6ee0" stroke-width="1.05" stroke-linejoin="round"/>
<polyline points="15.5,383.5 16.0,383.4 16.6,383.2 17.1,383.1 17.7,382.9 18.2,382.7 18.8,382.6 19.3,382.5 19.8,382.2 20.4,381.7 20.9,380.7 21.5,379.6 22.0,379.2 22.5,379.6 23.1,380.7 23.6,381.7 24.2,382.2 24.7,382.4 25.3,382.3 25.8,382.0 26.3,381.3 26.9,380.2 27.4,379.4 28.0,379.4 28.5,380.2 29.1,381.2 29.6,382.0 30.1,382.3 30.7,382.4 31.2,382.3 31.8,382.2 32.3,381.7 32.8,381.0 33.4,380.3 33.9,380.6 34.5,381.7 35.0,383.0 35.6,384.0 36.1,384.7 36.6,385.5 37.2,386.2 37.7,386.6 38.3,386.6 38.8,386.5 39.3,386.3 39.9,386.1 40.4,385.8 41.0,385.5 41.5,385.1 42.1,384.6 42.6,383.9 43.7,382.3 44.8,380.4 45.9,378.4 46.9,376.3 48.0,374.3 49.1,372.4 50.2,370.4 51.3,368.5 52.4,366.5 53.4,364.8 54.5,363.2 55.6,361.9 56.7,360.5 57.8,359.2 58.9,358.1 59.9,357.5 61.0,357.8 62.1,359.9 63.2,361.7 64.3,362.8 65.4,363.4 66.4,363.0 67.5,362.2 68.6,361.6 69.7,361.1 70.8,360.6 71.9,360.4 73.0,360.8 74.0,361.9 75.1,363.3 76.2,364.7 77.3,366.2 78.4,366.7 79.5,366.3 80.5,365.6 81.6,364.8 82.7,364.1 83.8,363.3 84.9,362.4 86.0,361.7 87.0,361.6 88.1,361.7 89.2,362.1 90.3,362.5 91.4,362.8 92.5,363.0 93.5,363.1 94.6,363.2 95.7,363.3 96.8,363.5 97.9,363.6 99.0,363.9 100.1,364.6 101.1,365.5 102.2,366.5 103.3,367.4 104.4,368.4 105.5,369.4 106.6,370.5 107.6,371.7 108.7,373.0 109.8,374.2 110.9,375.3 112.0,376.3 113.1,377.3 114.1,378.1 115.2,378.8 116.3,379.3 117.4,379.7 118.5,380.0 119.6,380.2 120.6,380.3 121.7,380.5 122.8,380.6 123.9,380.7 125.0,380.8 126.1,380.9 127.2,380.9 128.2,381.0 129.3,381.1 130.4,381.1 131.5,381.2 132.6,381.2 133.7,381.2 134.7,381.2 135.8,381.3 136.9,381.3 138.0,381.3 139.1,381.3 140.2,381.3 141.2,381.3 142.3,381.3 143.4,381.3 144.5,381.3 145.6,381.3 146.7,381.3 147.7,381.3 148.8,381.3 149.9,381.3 151.0,381.3 152.1,381.3 153.2,381.3 154.3,381.3 155.3,381.3 156.4,381.3 157.5,381.3 158.6,381.3 159.7,381.3 160.8,381.3 161.8,381.3 162.9,381.3 164.0,381.3 165.1,381.3 166.2,381.3 167.3,381.3 168.3,381.3 169.4,381.3 170.5,381.3 171.6,381.3 172.7,381.2 173.8,381.2 174.8,381.2 175.9,381.2 177.0,381.2 178.1,381.2" fill="none" stroke="#1e6ee0" stroke-width="1.05" stroke-linejoin="round"/>
<polyline points="15.5,388.1 16.0,388.0 16.6,387.8 17.1,387.7 17.7,387.5 18.2,387.3 18.8,387.2 19.3,387.1 19.8,386.8 20.4,386.3 20.9,385.3 21.5,384.3 22.0,383.8 22.5,384.3 23.1,385.3 23.6,386.3 24.2,386.8 24.7,387.0 25.3,387.0 25.8,386.7 26.3,385.9 26.9,384.9 27.4,384.0 28.0,384.0 28.5,384.9 29.1,385.9 29.6,386.6 30.1,386.9 30.7,387.0 31.2,387.0 31.8,386.9 32.3,386.4 32.8,385.7 33.4,385.0 33.9,385.2 34.5,386.4 35.0,387.7 35.6,388.7 36.1,389.4 36.6,390.2 37.2,390.9 37.7,391.3 38.3,391.3 38.8,391.2 39.3,391.0 39.9,390.8 40.4,390.5 41.0,390.2 41.5,389.8 42.1,389.3 42.6,388.7 43.7,387.0 44.8,385.2 45.9,383.2 46.9,381.1 48.0,379.1 49.1,377.1 50.2,375.2 51.3,373.2 52.4,371.3 53.4,369.6 54.5,368.0 55.6,366.7 56.7,365.3 57.8,364.0 58.9,363.0 59.9,362.3 61.0,362.6 62.1,364.7 63.2,366.5 64.3,367.7 65.4,368.2 66.4,367.9 67.5,367.1 68.6,366.5 69.7,365.9 70.8,365.5 71.9,365.3 73.0,365.7 74.0,366.8 75.1,368.2 76.2,369.6 77.3,371.1 78.4,371.6 79.5,371.2 80.5,370.5 81.6,369.7 82.7,369.0 83.8,368.2 84.9,367.3 86.0,366.7 87.0,366.5 88.1,366.7 89.2,367.1 90.3,367.5 91.4,367.8 92.5,368.0 93.5,368.1 94.6,368.2 95.7,368.3 96.8,368.5 97.9,368.6 99.0,368.9 100.1,369.6 101.1,370.5 102.2,371.5 103.3,372.5 104.4,373.4 105.5,374.4 106.6,375.5 107.6,376.8 108.7,378.1 109.8,379.3 110.9,380.3 112.0,381.4 113.1,382.3 114.1,383.2 115.2,383.9 116.3,384.4 117.4,384.8 118.5,385.1 119.6,385.3 120.6,385.4 121.7,385.6 122.8,385.7 123.9,385.8 125.0,385.9 126.1,386.0 127.2,386.1 128.2,386.2 129.3,386.2 130.4,386.3 131.5,386.3 132.6,386.4 133.7,386.4 134.7,386.4 135.8,386.4 136.9,386.5 138.0,386.5 139.1,386.5 140.2,386.5 141.2,386.5 142.3,386.5 143.4,386.5 144.5,386.6 145.6,386.6 146.7,386.6 147.7,386.6 148.8,386.6 149.9,386.6 151.0,386.6 152.1,386.6 153.2,386.6 154.3,386.6 155.3,386.6 156.4,386.6 157.5,386.6 158.6,386.6 159.7,386.6 160.8,386.6 161.8,386.6 162.9,386.6 164.0,386.6 165.1,386.6 166.2,386.6 167.3,386.6 168.3,386.6 169.4,386.6 170.5,386.6 171.6,386.6 172.7,386.6 173.8,386.6 174.8,386.6 175.9,386.6 177.0,386.6 178.1,386.6" fill="none" stroke="#1e6ee0" stroke-width="1.05" stroke-linejoin="round"/>
<polyline points="15.5,392.7 16.0,392.6 16.6,392.5 17.1,392.3 17.7,392.1 18.2,392.0 18.8,391.9 19.3,391.7 19.8,391.5 20.4,391.0 20.9,390.1 21.5,389.1 22.0,388.6 22.5,389.1 23.1,390.1 23.6,391.0 24.2,391.5 24.7,391.7 25.3,391.7 25.8,391.4 26.3,390.7 26.9,389.7 27.4,388.9 28.0,388.9 28.5,389.7 29.1,390.7 29.6,391.4 30.1,391.7 30.7,391.7 31.2,391.7 31.8,391.6 32.3,391.2 32.8,390.5 33.4,389.8 33.9,390.1 34.5,391.2 35.0,392.4 35.6,393.3 36.1,394.0 36.6,394.8 37.2,395.5 37.7,395.8 38.3,395.8 38.8,395.7 39.3,395.5 39.9,395.3 40.4,395.1 41.0,394.8 41.5,394.4 42.1,393.8 42.6,393.2 43.7,391.6 44.8,389.8 45.9,387.8 46.9,385.8 48.0,383.8 49.1,381.8 50.2,379.9 51.3,378.0 52.4,376.1 53.4,374.3 54.5,372.8 55.6,371.5 56.7,370.1 57.8,368.8 58.9,367.7 59.9,367.1 61.0,367.4 62.1,369.5 63.2,371.3 64.3,372.5 65.4,373.1 66.4,372.7 67.5,371.9 68.6,371.3 69.7,370.8 70.8,370.3 71.9,370.1 73.0,370.5 74.0,371.6 75.1,373.1 76.2,374.4 77.3,376.0 78.4,376.5 79.5,376.1 80.5,375.4 81.6,374.6 82.7,373.9 83.8,373.1 84.9,372.2 86.0,371.6 87.0,371.4 88.1,371.6 89.2,372.0 90.3,372.4 91.4,372.7 92.5,372.9 93.5,373.0 94.6,373.1 95.7,373.2 96.8,373.4 97.9,373.6 99.0,373.9 100.1,374.5 101.1,375.5 102.2,376.5 103.3,377.4 104.4,378.4 105.5,379.4 106.6,380.5 107.6,381.8 108.7,383.1 109.8,384.3 110.9,385.3 112.0,386.4 113.1,387.4 114.1,388.2 115.2,388.9 116.3,389.4 117.4,389.8 118.5,390.1 119.6,390.3 120.6,390.5 121.7,390.6 122.8,390.8 123.9,390.9 125.0,391.0 126.1,391.1 127.2,391.2 128.2,391.2 129.3,391.3 130.4,391.4 131.5,391.4 132.6,391.5 133.7,391.5 134.7,391.5 135.8,391.6 136.9,391.6 138.0,391.6 139.1,391.6 140.2,391.6 141.2,391.7 142.3,391.7 143.4,391.7 144.5,391.7 145.6,391.7 146.7,391.7 147.7,391.8 148.8,391.8 149.9,391.8 151.0,391.8 152.1,391.8 153.2,391.8 154.3,391.8 155.3,391.8 156.4,391.8 157.5,391.8 158.6,391.8 159.7,391.9 160.8,391.9 161.8,391.9 162.9,391.9 164.0,391.9 165.1,391.9 166.2,391.9 167.3,391.9 168.3,391.9 169.4,391.9 170.5,391.9 171.6,391.9 172.7,391.9 173.8,391.9 174.8,391.9 175.9,391.9 177.0,391.9 178.1,391.9" fill="none" stroke="#1e6ee0" stroke-width="1.05" stroke-linejoin="round"/>
<polyline points="15.5,397.3 16.0,397.2 16.6,397.1 17.1,396.9 17.7,396.8 18.2,396.6 18.8,396.5 19.3,396.4 19.8,396.2 20.4,395.7 20.9,394.8 21.5,393.9 22.0,393.5 22.5,393.9 23.1,394.9 23.6,395.7 24.2,396.2 24.7,396.4 25.3,396.3 25.8,396.1 26.3,395.4 26.9,394.5 27.4,393.7 28.0,393.7 28.5,394.5 29.1,395.4 29.6,396.1 30.1,396.3 30.7,396.4 31.2,396.4 31.8,396.3 32.3,395.9 32.8,395.2 33.4,394.6 33.9,394.8 34.5,395.9 35.0,397.0 35.6,397.9 36.1,398.6 36.6,399.3 37.2,399.9 37.7,400.3 38.3,400.3 38.8,400.2 39.3,400.0 39.9,399.8 40.4,399.5 41.0,399.2 41.5,398.9 42.1,398.4 42.6,397.7 43.7,396.2 44.8,394.4 45.9,392.5 46.9,390.5 48.0,388.6 49.1,386.7 50.2,384.9 51.3,382.9 52.4,381.1 53.4,379.4 54.5,377.9 55.6,376.5 56.7,375.2 57.8,373.9 58.9,372.9 59.9,372.3 61.0,372.6 62.1,374.7 63.2,376.4 64.3,377.6 65.4,378.1 66.4,377.8 67.5,377.0 68.6,376.4 69.7,375.9 70.8,375.4 71.9,375.3 73.0,375.7 74.0,376.8 75.1,378.2 76.2,379.5 77.3,381.0 78.4,381.5 79.5,381.2 80.5,380.5 81.6,379.7 82.7,379.0 83.8,378.2 84.9,377.4 86.0,376.7 87.0,376.6 88.1,376.8 89.2,377.1 90.3,377.6 91.4,377.9 92.5,378.0 93.5,378.2 94.6,378.3 95.7,378.4 96.8,378.5 97.9,378.7 99.0,379.0 100.1,379.7 101.1,380.5 102.2,381.5 103.3,382.5 104.4,383.5 105.5,384.5 106.6,385.5 107.6,386.8 108.7,388.0 109.8,389.2 110.9,390.3 112.0,391.3 113.1,392.2 114.1,393.1 115.2,393.8 116.3,394.3 117.4,394.6 118.5,394.9 119.6,395.2 120.6,395.3 121.7,395.5 122.8,395.6 123.9,395.7 125.0,395.8 126.1,395.9 127.2,396.0 128.2,396.1 129.3,396.1 130.4,396.2 131.5,396.3 132.6,396.3 133.7,396.3 134.7,396.4 135.8,396.4 136.9,396.4 138.0,396.4 139.1,396.5 140.2,396.5 141.2,396.5 142.3,396.5 143.4,396.5 144.5,396.6 145.6,396.6 146.7,396.6 147.7,396.6 148.8,396.6 149.9,396.6 151.0,396.6 152.1,396.7 153.2,396.7 154.3,396.7 155.3,396.7 156.4,396.7 157.5,396.7 158.6,396.7 159.7,396.7 160.8,396.7 161.8,396.7 162.9,396.7 164.0,396.7 165.1,396.8 166.2,396.8 167.3,396.8 168.3,396.8 169.4,396.8 170.5,396.8 171.6,396.8 172.7,396.8 173.8,396.8 174.8,396.8 175.9,396.8 177.0,396.8 178.1,396.8" fill="none" stroke="#1e6ee0" stroke-width="1.05" stroke-linejoin="round"/>
<polyline points="15.5,401.3 16.0,401.2 16.6,401.1 17.1,401.0 17.7,400.9 18.2,400.8 18.8,400.7 19.3,400.6 19.8,400.4 20.4,400.0 20.9,399.3 21.5,398.5 22.0,398.2 22.5,398.5 23.1,399.4 23.6,400.1 24.2,400.5 24.7,400.6 25.3,400.6 25.8,400.4 26.3,399.9 26.9,399.1 27.4,398.4 28.0,398.4 28.5,399.1 29.1,399.9 29.6,400.4 30.1,400.7 30.7,400.7 31.2,400.7 31.8,400.6 32.3,400.3 32.8,399.7 33.4,399.3 33.9,399.4 34.5,400.3 35.0,401.3 35.6,402.0 36.1,402.6 36.6,403.2 37.2,403.7 37.7,404.0 38.3,404.0 38.8,403.8 39.3,403.7 39.9,403.5 40.4,403.3 41.0,403.0 41.5,402.6 42.1,402.2 42.6,401.6 43.7,400.1 44.8,398.5 45.9,396.7 46.9,394.8 48.0,393.0 49.1,391.2 50.2,389.4 51.3,387.6 52.4,385.8 53.4,384.2 54.5,382.7 55.6,381.4 56.7,380.1 57.8,378.9 58.9,377.9 59.9,377.3 61.0,377.6 62.1,379.7 63.2,381.4 64.3,382.5 65.4,383.1 66.4,382.8 67.5,382.0 68.6,381.5 69.7,380.9 70.8,380.5 71.9,380.3 73.0,380.7 74.0,381.8 75.1,383.2 76.2,384.5 77.3,386.0 78.4,386.5 79.5,386.2 80.5,385.5 81.6,384.8 82.7,384.1 83.8,383.3 84.9,382.5 86.0,381.9 87.0,381.8 88.1,382.0 89.2,382.4 90.3,382.8 91.4,383.1 92.5,383.3 93.5,383.4 94.6,383.5 95.7,383.6 96.8,383.8 97.9,384.0 99.0,384.3 100.1,384.9 101.1,385.8 102.2,386.8 103.3,387.8 104.4,388.7 105.5,389.7 106.6,390.8 107.6,392.0 108.7,393.2 109.8,394.4 110.9,395.5 112.0,396.5 113.1,397.4 114.1,398.3 115.2,399.0 116.3,399.4 117.4,399.8 118.5,400.1 119.6,400.3 120.6,400.5 121.7,400.7 122.8,400.8 123.9,400.9 125.0,401.0 126.1,401.2 127.2,401.3 128.2,401.3 129.3,401.4 130.4,401.5 131.5,401.6 132.6,401.6 133.7,401.7 134.7,401.7 135.8,401.7 136.9,401.8 138.0,401.8 139.1,401.8 140.2,401.9 141.2,401.9 142.3,401.9 143.4,402.0 144.5,402.0 145.6,402.0 146.7,402.0 147.7,402.1 148.8,402.1 149.9,402.1 151.0,402.1 152.1,402.2 153.2,402.2 154.3,402.2 155.3,402.2 156.4,402.3 157.5,402.3 158.6,402.3 159.7,402.3 160.8,402.3 161.8,402.4 162.9,402.4 164.0,402.4 165.1,402.4 166.2,402.4 167.3,402.4 168.3,402.5 169.4,402.5 170.5,402.5 171.6,402.5 172.7,402.5 173.8,402.5 174.8,402.6 175.9,402.6 177.0,402.6 178.1,402.6" fill="none" stroke="#1e6ee0" stroke-width="1.05" stroke-linejoin="round"/>
<polyline points="15.5,405.6 16.0,405.6 16.6,405.5 17.1,405.4 17.7,405.4 18.2,405.3 18.8,405.2 19.3,405.2 19.8,405.1 20.4,404.9 20.9,404.4 21.5,404.0 22.0,403.8 22.5,404.0 23.1,404.5 23.6,404.9 24.2,405.2 24.7,405.3 25.3,405.3 25.8,405.1 26.3,404.8 26.9,404.3 27.4,404.0 28.0,404.0 28.5,404.4 29.1,404.8 29.6,405.2 30.1,405.3 30.7,405.4 31.2,405.4 31.8,405.3 32.3,405.1 32.8,404.8 33.4,404.5 33.9,404.6 34.5,405.1 35.0,405.7 35.6,406.1 36.1,406.5 36.6,406.8 37.2,407.1 37.7,407.2 38.3,407.1 38.8,407.0 39.3,406.8 39.9,406.7 40.4,406.5 41.0,406.2 41.5,405.9 42.1,405.5 42.6,405.0 43.7,403.7 44.8,402.2 45.9,400.6 46.9,399.0 48.0,397.3 49.1,395.7 50.2,394.1 51.3,392.4 52.4,390.7 53.4,389.1 54.5,387.7 55.6,386.4 56.7,385.1 57.8,383.9 58.9,383.0 59.9,382.4 61.0,382.7 62.1,384.7 63.2,386.4 64.3,387.5 65.4,388.0 66.4,387.7 67.5,387.0 68.6,386.5 69.7,386.0 70.8,385.5 71.9,385.4 73.0,385.8 74.0,386.8 75.1,388.2 76.2,389.4 77.3,390.9 78.4,391.4 79.5,391.1 80.5,390.4 81.6,389.7 82.7,389.0 83.8,388.3 84.9,387.5 86.0,386.9 87.0,386.8 88.1,387.0 89.2,387.4 90.3,387.8 91.4,388.1 92.5,388.2 93.5,388.4 94.6,388.5 95.7,388.6 96.8,388.8 97.9,388.9 99.0,389.2 100.1,389.9 101.1,390.7 102.2,391.7 103.3,392.6 104.4,393.5 105.5,394.5 106.6,395.5 107.6,396.7 108.7,397.9 109.8,399.1 110.9,400.1 112.0,401.1 113.1,402.0 114.1,402.8 115.2,403.5 116.3,404.0 117.4,404.3 118.5,404.6 119.6,404.8 120.6,405.0 121.7,405.1 122.8,405.3 123.9,405.4 125.0,405.5 126.1,405.6 127.2,405.7 128.2,405.8 129.3,405.9 130.4,406.0 131.5,406.0 132.6,406.1 133.7,406.1 134.7,406.2 135.8,406.2 136.9,406.2 138.0,406.3 139.1,406.3 140.2,406.3 141.2,406.4 142.3,406.4 143.4,406.4 144.5,406.5 145.6,406.5 146.7,406.5 147.7,406.5 148.8,406.6 149.9,406.6 151.0,406.6 152.1,406.6 153.2,406.7 154.3,406.7 155.3,406.7 156.4,406.7 157.5,406.8 158.6,406.8 159.7,406.8 160.8,406.8 161.8,406.8 162.9,406.9 164.0,406.9 165.1,406.9 166.2,406.9 167.3,406.9 168.3,406.9 169.4,407.0 170.5,407.0 171.6,407.0 172.7,407.0 173.8,407.0 174.8,407.1 175.9,407.1 177.0,407.1 178.1,407.1" fill="none" stroke="#1e6ee0" stroke-width="1.05" stroke-linejoin="round"/>
<polyline points="15.5,410.2 16.0,410.2 16.6,410.2 17.1,410.1 17.7,410.1 18.2,410.1 18.8,410.0 19.3,410.0 19.8,410.0 20.4,409.8 20.9,409.6 21.5,409.4 22.0,409.2 22.5,409.4 23.1,409.7 23.6,409.9 24.2,410.0 24.7,410.1 25.3,410.1 25.8,410.0 26.3,409.9 26.9,409.6 27.4,409.4 28.0,409.4 28.5,409.6 29.1,409.9 29.6,410.1 30.1,410.2 30.7,410.2 31.2,410.2 31.8,410.2 32.3,410.1 32.8,409.9 33.4,409.7 33.9,409.8 34.5,410.1 35.0,410.4 35.6,410.6 36.1,410.8 36.6,411.0 37.2,411.1 37.7,411.1 38.3,411.0 38.8,410.9 39.3,410.7 39.9,410.5 40.4,410.4 41.0,410.2 41.5,409.9 42.1,409.6 42.6,409.1 43.7,407.9 44.8,406.5 45.9,405.1 46.9,403.6 48.0,402.1 49.1,400.6 50.2,399.0 51.3,397.4 52.4,395.8 53.4,394.3 54.5,392.9 55.6,391.7 56.7,390.5 57.8,389.3 58.9,388.4 59.9,387.8 61.0,388.2 62.1,390.1 63.2,391.7 64.3,392.8 65.4,393.3 66.4,393.0 67.5,392.3 68.6,391.8 69.7,391.3 70.8,390.9 71.9,390.8 73.0,391.1 74.0,392.2 75.1,393.5 76.2,394.7 77.3,396.1 78.4,396.6 79.5,396.3 80.5,395.7 81.6,395.0 82.7,394.3 83.8,393.6 84.9,392.9 86.0,392.3 87.0,392.2 88.1,392.3 89.2,392.7 90.3,393.1 91.4,393.4 92.5,393.6 93.5,393.7 94.6,393.8 95.7,393.9 96.8,394.1 97.9,394.3 99.0,394.6 100.1,395.2 101.1,396.0 102.2,396.9 103.3,397.8 104.4,398.7 105.5,399.7 106.6,400.7 107.6,401.8 108.7,403.0 109.8,404.1 110.9,405.1 112.0,406.0 113.1,406.9 114.1,407.7 115.2,408.4 116.3,408.8 117.4,409.2 118.5,409.5 119.6,409.7 120.6,409.9 121.7,410.0 122.8,410.1 123.9,410.2 125.0,410.3 126.1,410.5 127.2,410.6 128.2,410.6 129.3,410.7 130.4,410.8 131.5,410.9 132.6,410.9 133.7,411.0 134.7,411.0 135.8,411.0 136.9,411.1 138.0,411.1 139.1,411.2 140.2,411.2 141.2,411.2 142.3,411.3 143.4,411.3 144.5,411.3 145.6,411.3 146.7,411.4 147.7,411.4 148.8,411.4 149.9,411.5 151.0,411.5 152.1,411.5 153.2,411.5 154.3,411.6 155.3,411.6 156.4,411.6 157.5,411.6 158.6,411.6 159.7,411.7 160.8,411.7 161.8,411.7 162.9,411.7 164.0,411.8 165.1,411.8 166.2,411.8 167.3,411.8 168.3,411.8 169.4,411.9 170.5,411.9 171.6,411.9 172.7,411.9 173.8,411.9 174.8,411.9 175.9,412.0 177.0,412.0 178.1,412.0" fill="none" stroke="#1e6ee0" stroke-width="1.05" stroke-linejoin="round"/>
<polyline points="15.5,414.8 16.0,414.8 16.6,414.8 17.1,414.8 17.7,414.8 18.2,414.7 18.8,414.7 19.3,414.7 19.8,414.7 20.4,414.7 20.9,414.5 21.5,414.4 22.0,414.4 22.5,414.4 23.1,414.6 23.6,414.7 24.2,414.8 24.7,414.8 25.3,414.8 25.8,414.8 26.3,414.7 26.9,414.6 27.4,414.5 28.0,414.5 28.5,414.6 29.1,414.7 29.6,414.8 30.1,414.9 30.7,414.9 31.2,414.9 31.8,414.9 32.3,414.8 32.8,414.7 33.4,414.7 33.9,414.7 34.5,414.8 35.0,415.0 35.6,415.1 36.1,415.1 36.6,415.2 37.2,415.2 37.7,415.2 38.3,415.1 38.8,414.9 39.3,414.8 39.9,414.6 40.4,414.5 41.0,414.3 41.5,414.1 42.1,413.7 42.6,413.3 43.7,412.2 44.8,411.0 45.9,409.7 46.9,408.3 48.0,406.9 49.1,405.6 50.2,404.2 51.3,402.7 52.4,401.2 53.4,399.7 54.5,398.4 55.6,397.3 56.7,396.1 57.8,395.0 58.9,394.1 59.9,393.6 61.0,393.9 62.1,395.7 63.2,397.2 64.3,398.2 65.4,398.7 66.4,398.5 67.5,397.8 68.6,397.3 69.7,396.9 70.8,396.5 71.9,396.3 73.0,396.7 74.0,397.7 75.1,398.9 76.2,400.0 77.3,401.4 78.4,401.8 79.5,401.5 80.5,401.0 81.6,400.3 82.7,399.7 83.8,399.0 84.9,398.3 86.0,397.8 87.0,397.6 88.1,397.8 89.2,398.1 90.3,398.5 91.4,398.8 92.5,399.0 93.5,399.1 94.6,399.2 95.7,399.3 96.8,399.4 97.9,399.6 99.0,399.9 100.1,400.5 101.1,401.2 102.2,402.1 103.3,402.9 104.4,403.8 105.5,404.7 106.6,405.6 107.6,406.7 108.7,407.8 109.8,408.9 110.9,409.8 112.0,410.7 113.1,411.5 114.1,412.3 115.2,412.9 116.3,413.3 117.4,413.7 118.5,413.9 119.6,414.1 120.6,414.3 121.7,414.4 122.8,414.5 123.9,414.6 125.0,414.7 126.1,414.8 127.2,414.9 128.2,415.0 129.3,415.1 130.4,415.1 131.5,415.2 132.6,415.3 133.7,415.3 134.7,415.3 135.8,415.4 136.9,415.4 138.0,415.4 139.1,415.5 140.2,415.5 141.2,415.5 142.3,415.6 143.4,415.6 144.5,415.6 145.6,415.6 146.7,415.7 147.7,415.7 148.8,415.7 149.9,415.7 151.0,415.8 152.1,415.8 153.2,415.8 154.3,415.8 155.3,415.8 156.4,415.9 157.5,415.9 158.6,415.9 159.7,415.9 160.8,415.9 161.8,416.0 162.9,416.0 164.0,416.0 165.1,416.0 166.2,416.0 167.3,416.0 168.3,416.1 169.4,416.1 170.5,416.1 171.6,416.1 172.7,416.1 173.8,416.1 174.8,416.2 175.9,416.2 177.0,416.2 178.1,416.2" fill="none" stroke="#1e6ee0" stroke-width="1.05" stroke-linejoin="round"/>
<polyline points="15.5,418.5 16.0,418.5 16.6,418.5 17.1,418.5 17.7,418.5 18.2,418.5 18.8,418.5 19.3,418.5 19.8,418.5 20.4,418.4 20.9,418.4 21.5,418.3 22.0,418.3 22.5,418.3 23.1,418.4 23.6,418.5 24.2,418.5 24.7,418.6 25.3,418.6 25.8,418.6 26.3,418.5 26.9,418.4 27.4,418.4 28.0,418.4 28.5,418.4 29.1,418.5 29.6,418.6 30.1,418.6 30.7,418.6 31.2,418.6 31.8,418.6 32.3,418.6 32.8,418.5 33.4,418.5 33.9,418.5 34.5,418.6 35.0,418.7 35.6,418.8 36.1,418.8 36.6,418.8 37.2,418.8 37.7,418.8 38.3,418.7 38.8,418.5 39.3,418.4 39.9,418.3 40.4,418.1 41.0,418.0 41.5,417.8 42.1,417.5 42.6,417.1 43.7,416.1 44.8,415.0 45.9,413.8 46.9,412.6 48.0,411.3 49.1,410.1 50.2,408.8 51.3,407.4 52.4,406.1 53.4,404.7 54.5,403.6 55.6,402.5 56.7,401.4 57.8,400.4 58.9,399.6 59.9,399.1 61.0,399.4 62.1,401.1 63.2,402.5 64.3,403.4 65.4,403.9 66.4,403.6 67.5,403.0 68.6,402.6 69.7,402.1 70.8,401.8 71.9,401.7 73.0,402.0 74.0,402.9 75.1,404.0 76.2,405.1 77.3,406.3 78.4,406.7 79.5,406.4 80.5,405.9 81.6,405.3 82.7,404.7 83.8,404.1 84.9,403.5 86.0,403.0 87.0,402.9 88.1,403.0 89.2,403.4 90.3,403.7 91.4,404.0 92.5,404.1 93.5,404.2 94.6,404.3 95.7,404.4 96.8,404.6 97.9,404.7 99.0,405.0 100.1,405.5 101.1,406.2 102.2,407.0 103.3,407.8 104.4,408.6 105.5,409.4 106.6,410.3 107.6,411.2 108.7,412.3 109.8,413.2 110.9,414.1 112.0,414.9 113.1,415.7 114.1,416.4 115.2,416.9 116.3,417.3 117.4,417.6 118.5,417.9 119.6,418.1 120.6,418.2 121.7,418.3 122.8,418.4 123.9,418.6 125.0,418.7 126.1,418.7 127.2,418.8 128.2,418.9 129.3,419.0 130.4,419.0 131.5,419.1 132.6,419.1 133.7,419.2 134.7,419.2 135.8,419.3 136.9,419.3 138.0,419.3 139.1,419.4 140.2,419.4 141.2,419.4 142.3,419.4 143.4,419.5 144.5,419.5 145.6,419.5 146.7,419.5 147.7,419.6 148.8,419.6 149.9,419.6 151.0,419.6 152.1,419.7 153.2,419.7 154.3,419.7 155.3,419.7 156.4,419.8 157.5,419.8 158.6,419.8 159.7,419.8 160.8,419.8 161.8,419.8 162.9,419.9 164.0,419.9 165.1,419.9 166.2,419.9 167.3,419.9 168.3,420.0 169.4,420.0 170.5,420.0 171.6,420.0 172.7,420.0 173.8,420.0 174.8,420.1 175.9,420.1 177.0,420.1 178.1,420.1" fill="none" stroke="#1e6ee0" stroke-width="1.05" stroke-linejoin="round"/>
<polyline points="15.5,423.0 16.0,423.0 16.6,423.0 17.1,423.0 17.7,423.0 18.2,423.0 18.8,423.0 19.3,423.0 19.8,423.0 20.4,422.9 20.9,422.9 21.5,422.9 22.0,422.8 22.5,422.9 23.1,422.9 23.6,423.0 24.2,423.0 24.7,423.0 25.3,423.0 25.8,423.0 26.3,423.0 26.9,422.9 27.4,422.9 28.0,422.9 28.5,422.9 29.1,423.0 29.6,423.0 30.1,423.1 30.7,423.1 31.2,423.1 31.8,423.1 32.3,423.0 32.8,423.0 33.4,423.0 33.9,423.0 34.5,423.0 35.0,423.1 35.6,423.1 36.1,423.1 36.6,423.1 37.2,423.1 37.7,423.1 38.3,423.0 38.8,422.9 39.3,422.8 39.9,422.7 40.4,422.6 41.0,422.4 41.5,422.3 42.1,422.0 42.6,421.7 43.7,420.9 44.8,420.1 45.9,419.1 46.9,418.1 48.0,417.1 49.1,416.1 50.2,415.1 51.3,414.1 52.4,413.0 53.4,411.9 54.5,411.0 55.6,410.1 56.7,409.2 57.8,408.4 58.9,407.8 59.9,407.4 61.0,407.6 62.1,408.9 63.2,410.1 64.3,410.8 65.4,411.2 66.4,410.9 67.5,410.5 68.6,410.1 69.7,409.8 70.8,409.5 71.9,409.4 73.0,409.6 74.0,410.3 75.1,411.2 76.2,412.1 77.3,413.0 78.4,413.4 79.5,413.1 80.5,412.7 81.6,412.2 82.7,411.8 83.8,411.3 84.9,410.8 86.0,410.4 87.0,410.3 88.1,410.4 89.2,410.7 90.3,410.9 91.4,411.1 92.5,411.2 93.5,411.3 94.6,411.4 95.7,411.5 96.8,411.6 97.9,411.7 99.0,411.9 100.1,412.3 101.1,412.9 102.2,413.5 103.3,414.1 104.4,414.7 105.5,415.4 106.6,416.1 107.6,416.9 108.7,417.7 109.8,418.4 110.9,419.1 112.0,419.7 113.1,420.3 114.1,420.9 115.2,421.3 116.3,421.7 117.4,421.9 118.5,422.1 119.6,422.2 120.6,422.3 121.7,422.4 122.8,422.5 123.9,422.6 125.0,422.7 126.1,422.7 127.2,422.8 128.2,422.9 129.3,422.9 130.4,423.0 131.5,423.0 132.6,423.0 133.7,423.1 134.7,423.1 135.8,423.1 136.9,423.1 138.0,423.1 139.1,423.2 140.2,423.2 141.2,423.2 142.3,423.2 143.4,423.2 144.5,423.3 145.6,423.3 146.7,423.3 147.7,423.3 148.8,423.3 149.9,423.3 151.0,423.3 152.1,423.4 153.2,423.4 154.3,423.4 155.3,423.4 156.4,423.4 157.5,423.4 158.6,423.4 159.7,423.4 160.8,423.5 161.8,423.5 162.9,423.5 164.0,423.5 165.1,423.5 166.2,423.5 167.3,423.5 168.3,423.5 169.4,423.5 170.5,423.5 171.6,423.6 172.7,423.6 173.8,423.6 174.8,423.6 175.9,423.6 177.0,423.6 178.1,423.6" fill="none" stroke="#1e6ee0" stroke-width="1.05" stroke-linejoin="round"/>
<polyline points="15.5,424.9 16.0,424.9 16.6,424.9 17.1,424.9 17.7,424.9 18.2,424.9 18.8,424.9 19.3,424.9 19.8,424.9 20.4,424.9 20.9,424.8 21.5,424.8 22.0,424.8 22.5,424.8 23.1,424.9 23.6,424.9 24.2,424.9 24.7,425.0 25.3,425.0 25.8,425.0 26.3,424.9 26.9,424.9 27.4,424.9 28.0,424.9 28.5,424.9 29.1,425.0 29.6,425.0 30.1,425.0 30.7,425.0 31.2,425.0 31.8,425.0 32.3,425.0 32.8,425.0 33.4,424.9 33.9,425.0 34.5,425.0 35.0,425.1 35.6,425.1 36.1,425.2 36.6,425.2 37.2,425.2 37.7,425.2 38.3,425.1 38.8,425.0 39.3,424.9 39.9,424.9 40.4,424.8 41.0,424.7 41.5,424.6 42.1,424.4 42.6,424.2 43.7,423.6 44.8,423.0 45.9,422.3 46.9,421.6 48.0,420.9 49.1,420.2 50.2,419.4 51.3,418.6 52.4,417.9 53.4,417.1 54.5,416.4 55.6,415.8 56.7,415.2 57.8,414.6 58.9,414.2 59.9,413.9 61.0,414.1 62.1,415.0 63.2,415.8 64.3,416.4 65.4,416.6 66.4,416.5 67.5,416.1 68.6,415.9 69.7,415.7 70.8,415.5 71.9,415.4 73.0,415.6 74.0,416.1 75.1,416.8 76.2,417.4 77.3,418.1 78.4,418.3 79.5,418.2 80.5,417.9 81.6,417.5 82.7,417.2 83.8,416.9 84.9,416.5 86.0,416.2 87.0,416.1 88.1,416.2 89.2,416.4 90.3,416.6 91.4,416.8 92.5,416.9 93.5,416.9 94.6,417.0 95.7,417.1 96.8,417.1 97.9,417.2 99.0,417.4 100.1,417.7 101.1,418.1 102.2,418.6 103.3,419.0 104.4,419.5 105.5,420.0 106.6,420.5 107.6,421.0 108.7,421.6 109.8,422.2 110.9,422.7 112.0,423.2 113.1,423.6 114.1,424.0 115.2,424.3 116.3,424.6 117.4,424.8 118.5,424.9 119.6,425.0 120.6,425.1 121.7,425.2 122.8,425.3 123.9,425.3 125.0,425.4 126.1,425.4 127.2,425.5 128.2,425.5 129.3,425.6 130.4,425.6 131.5,425.7 132.6,425.7 133.7,425.7 134.7,425.7 135.8,425.8 136.9,425.8 138.0,425.8 139.1,425.8 140.2,425.9 141.2,425.9 142.3,425.9 143.4,425.9 144.5,425.9 145.6,426.0 146.7,426.0 147.7,426.0 148.8,426.0 149.9,426.0 151.0,426.0 152.1,426.1 153.2,426.1 154.3,426.1 155.3,426.1 156.4,426.1 157.5,426.1 158.6,426.2 159.7,426.2 160.8,426.2 161.8,426.2 162.9,426.2 164.0,426.2 165.1,426.2 166.2,426.3 167.3,426.3 168.3,426.3 169.4,426.3 170.5,426.3 171.6,426.3 172.7,426.3 173.8,426.3 174.8,426.4 175.9,426.4 177.0,426.4 178.1,426.4" fill="none" stroke="#1e6ee0" stroke-width="1.05" stroke-linejoin="round"/>
<polyline points="15.5,426.7 16.0,426.7 16.6,426.7 17.1,426.7 17.7,426.7 18.2,426.7 18.8,426.7 19.3,426.7 19.8,426.7 20.4,426.7 20.9,426.6 21.5,426.6 22.0,426.6 22.5,426.6 23.1,426.7 23.6,426.7 24.2,426.7 24.7,426.8 25.3,426.8 25.8,426.7 26.3,426.7 26.9,426.7 27.4,426.6 28.0,426.6 28.5,426.7 29.1,426.7 29.6,426.8 30.1,426.8 30.7,426.8 31.2,426.8 31.8,426.8 32.3,426.8 32.8,426.8 33.4,426.7 33.9,426.7 34.5,426.8 35.0,426.9 35.6,426.9 36.1,427.0 36.6,427.0 37.2,427.0 37.7,427.0 38.3,427.0 38.8,426.9 39.3,426.9 39.9,426.8 40.4,426.8 41.0,426.7 41.5,426.6 42.1,426.5 42.6,426.4 43.7,426.0 44.8,425.6 45.9,425.1 46.9,424.6 48.0,424.1 49.1,423.6 50.2,423.2 51.3,422.6 52.4,422.1 53.4,421.6 54.5,421.2 55.6,420.8 56.7,420.3 57.8,420.0 58.9,419.7 59.9,419.5 61.0,419.6 62.1,420.2 63.2,420.8 64.3,421.2 65.4,421.3 66.4,421.2 67.5,421.0 68.6,420.9 69.7,420.7 70.8,420.6 71.9,420.5 73.0,420.7 74.0,421.0 75.1,421.5 76.2,421.9 77.3,422.3 78.4,422.5 79.5,422.4 80.5,422.2 81.6,422.0 82.7,421.8 83.8,421.5 84.9,421.3 86.0,421.1 87.0,421.1 88.1,421.2 89.2,421.3 90.3,421.4 91.4,421.5 92.5,421.6 93.5,421.6 94.6,421.7 95.7,421.7 96.8,421.8 97.9,421.8 99.0,421.9 100.1,422.2 101.1,422.4 102.2,422.8 103.3,423.1 104.4,423.4 105.5,423.7 106.6,424.0 107.6,424.4 108.7,424.8 109.8,425.2 110.9,425.5 112.0,425.8 113.1,426.1 114.1,426.4 115.2,426.6 116.3,426.8 117.4,426.9 118.5,427.0 119.6,427.1 120.6,427.2 121.7,427.2 122.8,427.3 123.9,427.3 125.0,427.4 126.1,427.4 127.2,427.4 128.2,427.5 129.3,427.5 130.4,427.5 131.5,427.6 132.6,427.6 133.7,427.6 134.7,427.6 135.8,427.6 136.9,427.7 138.0,427.7 139.1,427.7 140.2,427.7 141.2,427.7 142.3,427.8 143.4,427.8 144.5,427.8 145.6,427.8 146.7,427.8 147.7,427.8 148.8,427.8 149.9,427.9 151.0,427.9 152.1,427.9 153.2,427.9 154.3,427.9 155.3,427.9 156.4,427.9 157.5,428.0 158.6,428.0 159.7,428.0 160.8,428.0 161.8,428.0 162.9,428.0 164.0,428.0 165.1,428.1 166.2,428.1 167.3,428.1 168.3,428.1 169.4,428.1 170.5,428.1 171.6,428.1 172.7,428.1 173.8,428.2 174.8,428.2 175.9,428.2 177.0,428.2 178.1,428.2" fill="none" stroke="#1e6ee0" stroke-width="1.05" stroke-linejoin="round"/>
<polyline points="15.5,428.5 16.0,428.5 16.6,428.5 17.1,428.5 17.7,428.5 18.2,428.5 18.8,428.5 19.3,428.5 19.8,428.5 20.4,428.5 20.9,428.5 21.5,428.5 22.0,428.5 22.5,428.5 23.1,428.5 23.6,428.5 24.2,428.5 24.7,428.5 25.3,428.5 25.8,428.5 26.3,428.5 26.9,428.5 27.4,428.5 28.0,428.5 28.5,428.5 29.1,428.5 29.6,428.6 30.1,428.6 30.7,428.6 31.2,428.6 31.8,428.6 32.3,428.6 32.8,428.6 33.4,428.6 33.9,428.6 34.5,428.6 35.0,428.6 35.6,428.6 36.1,428.7 36.6,428.7 37.2,428.7 37.7,428.7 38.3,428.7 38.8,428.7 39.3,428.7 39.9,428.7 40.4,428.7 41.0,428.7 41.5,428.7 42.1,428.7 42.6,428.7 43.7,428.7 44.8,428.6 45.9,428.6 46.9,428.6 48.0,428.5 49.1,428.5 50.2,428.5 51.3,428.4 52.4,428.4 53.4,428.4 54.5,428.3 55.6,428.3 56.7,428.3 57.8,428.3 58.9,428.3 59.9,428.3 61.0,428.3 62.1,428.3 63.2,428.4 64.3,428.4 65.4,428.4 66.4,428.4 67.5,428.4 68.6,428.4 69.7,428.4 70.8,428.4 71.9,428.4 73.0,428.4 74.0,428.4 75.1,428.5 76.2,428.5 77.3,428.6 78.4,428.6 79.5,428.6 80.5,428.6 81.6,428.6 82.7,428.5 83.8,428.5 84.9,428.5 86.0,428.5 87.0,428.5 88.1,428.5 89.2,428.5 90.3,428.6 91.4,428.6 92.5,428.6 93.5,428.6 94.6,428.6 95.7,428.6 96.8,428.6 97.9,428.6 99.0,428.6 100.1,428.7 101.1,428.7 102.2,428.7 103.3,428.7 104.4,428.8 105.5,428.8 106.6,428.8 107.6,428.9 108.7,428.9 109.8,428.9 110.9,428.9 112.0,429.0 113.1,429.0 114.1,429.0 115.2,429.0 116.3,429.1 117.4,429.1 118.5,429.1 119.6,429.1 120.6,429.1 121.7,429.1 122.8,429.1 123.9,429.1 125.0,429.1 126.1,429.2 127.2,429.2 128.2,429.2 129.3,429.2 130.4,429.2 131.5,429.2 132.6,429.2 133.7,429.2 134.7,429.2 135.8,429.2 136.9,429.2 138.0,429.2 139.1,429.3 140.2,429.3 141.2,429.3 142.3,429.3 143.4,429.3 144.5,429.3 145.6,429.3 146.7,429.3 147.7,429.3 148.8,429.3 149.9,429.3 151.0,429.3 152.1,429.3 153.2,429.3 154.3,429.3 155.3,429.4 156.4,429.4 157.5,429.4 158.6,429.4 159.7,429.4 160.8,429.4 161.8,429.4 162.9,429.4 164.0,429.4 165.1,429.4 166.2,429.4 167.3,429.4 168.3,429.4 169.4,429.4 170.5,429.5 171.6,429.5 172.7,429.5 173.8,429.5 174.8,429.5 175.9,429.5 177.0,429.5 178.1,429.5" fill="none" stroke="#1e6ee0" stroke-width="1.05" stroke-linejoin="round"/>
<path d="M22.6 367.4 l-1.2 2.6 h2.4 z" fill="#2a74dc"/>
<text x="25" y="364.7" font-size="6.6" text-anchor="start" font-weight="bold" fill="#2a74dc" transform="rotate(-90 25 364.7)">1048</text>
<path d="M28.5 365.8 l-1.2 2.6 h2.4 z" fill="#2a74dc"/>
<text x="32" y="363.6" font-size="6.6" text-anchor="start" font-weight="bold" fill="#2a74dc" transform="rotate(-90 32 363.6)">1090</text>
<path d="M33.9 368.5 l-1.2 2.6 h2.4 z" fill="#2a74dc"/>
<text x="38.2" y="366.3" font-size="6.6" text-anchor="start" font-weight="bold" fill="#2a74dc" transform="rotate(-90 38.2 366.3)">1134</text>
<path d="M56.3 345.5 l-1.2 2.6 h2.4 z" fill="#2a74dc"/>
<text x="55.5" y="348" font-size="6.6" text-anchor="start" font-weight="bold" fill="#2a74dc" transform="rotate(-90 55.5 348)">1290</text>
<path d="M61.5 343 l-1.2 2.6 h2.4 z" fill="#2a74dc"/>
<text x="63" y="343" font-size="6.6" text-anchor="start" font-weight="bold" fill="#2a74dc" transform="rotate(-90 63 343)">1331</text>
<path d="M65.8 349 l-1.2 2.6 h2.4 z" fill="#2a74dc"/>
<text x="69.6" y="346.3" font-size="6.6" text-anchor="start" font-weight="bold" fill="#2a74dc" transform="rotate(-90 69.6 346.3)">1368</text>
<path d="M73.4 348 l-1.2 2.6 h2.4 z" fill="#2a74dc"/>
<text x="76.5" y="346.3" font-size="6.6" text-anchor="start" font-weight="bold" fill="#2a74dc" transform="rotate(-90 76.5 346.3)">1420</text>
<path d="M86.4 350.1 l-1.2 2.6 h2.4 z" fill="#2a74dc"/>
<text x="90" y="348.5" font-size="6.6" text-anchor="start" font-weight="bold" fill="#2a74dc" transform="rotate(-90 90 348.5)">1524</text>
<path d="M98.7 351.2 l-1.2 2.6 h2.4 z" fill="#2a74dc"/>
<text x="102.5" y="348.5" font-size="6.6" text-anchor="start" font-weight="bold" fill="#2a74dc" transform="rotate(-90 102.5 348.5)">1619</text>
<path d="M106.8 356.6 l-1.2 2.6 h2.4 z" fill="#2a74dc"/>
<text x="111.6" y="354.4" font-size="6.6" text-anchor="start" font-weight="bold" fill="#2a74dc" transform="rotate(-90 111.6 354.4)">1670</text>
<rect x="15.5" y="322.5" width="162.6" height="112.6" fill="none" stroke="#000" stroke-width="1.3"/>
<line x1="15.5" y1="435.1" x2="15.5" y2="438.1" stroke="#000" stroke-width="1"/>
<line x1="29.05" y1="435.1" x2="29.05" y2="436.9" stroke="#000" stroke-width="1"/>
<line x1="42.6" y1="435.1" x2="42.6" y2="438.1" stroke="#000" stroke-width="1"/>
<line x1="56.15" y1="435.1" x2="56.15" y2="436.9" stroke="#000" stroke-width="1"/>
<line x1="69.7" y1="435.1" x2="69.7" y2="438.1" stroke="#000" stroke-width="1"/>
<line x1="83.25" y1="435.1" x2="83.25" y2="436.9" stroke="#000" stroke-width="1"/>
<line x1="96.8" y1="435.1" x2="96.8" y2="438.1" stroke="#000" stroke-width="1"/>
<line x1="110.35" y1="435.1" x2="110.35" y2="436.9" stroke="#000" stroke-width="1"/>
<line x1="123.9" y1="435.1" x2="123.9" y2="438.1" stroke="#000" stroke-width="1"/>
<line x1="137.45" y1="435.1" x2="137.45" y2="436.9" stroke="#000" stroke-width="1"/>
<line x1="151" y1="435.1" x2="151" y2="438.1" stroke="#000" stroke-width="1"/>
<line x1="164.55" y1="435.1" x2="164.55" y2="436.9" stroke="#000" stroke-width="1"/>
<line x1="178.1" y1="435.1" x2="178.1" y2="438.1" stroke="#000" stroke-width="1"/>
<text x="15.5" y="447" font-size="8.2" text-anchor="middle" font-weight="bold" fill="#000">1000</text>
<text x="42.6" y="447" font-size="8.2" text-anchor="middle" font-weight="bold" fill="#000">1200</text>
<text x="69.7" y="447" font-size="8.2" text-anchor="middle" font-weight="bold" fill="#000">1400</text>
<text x="96.8" y="447" font-size="8.2" text-anchor="middle" font-weight="bold" fill="#000">1600</text>
<text x="123.9" y="447" font-size="8.2" text-anchor="middle" font-weight="bold" fill="#000">1800</text>
<text x="151" y="447" font-size="8.2" text-anchor="middle" font-weight="bold" fill="#000">2000</text>
<text x="178.1" y="447" font-size="8.2" text-anchor="middle" font-weight="bold" fill="#000">2200</text>
<text x="97" y="456" font-size="9.5" text-anchor="middle" font-weight="bold">Wavenumber (cm<tspan font-size="6.17" dy="-3.5">-1</tspan><tspan dy="3.5">)</tspan></text>
<text x="10" y="381.4" font-size="9.6" text-anchor="middle" font-weight="bold" fill="#000" transform="rotate(-90 10 381.4)">Absorbance (arb.units)</text>
<line x1="19.3" y1="326.5" x2="19.3" y2="339" stroke="#000" stroke-width="1"/>
<path d="M19.3 325 l-1.1 2.6 h2.2 z" fill="#000"/>
<text x="21" y="334.8" font-size="6.4" text-anchor="start" font-weight="bold" fill="#000">0.1</text>
<text x="145.7" y="335.6" font-size="8.3" text-anchor="middle" font-weight="bold" fill="#000">D-NTL/TO-2</text>
<text x="157.4" y="362.9" font-size="7" text-anchor="middle" font-weight="bold" fill="#1f70d8">Irradiation</text>
<text x="387.5" y="8.5" font-size="11.5" font-weight="bold" fill="#000">a<tspan font-size="8.16" dy="2.7">3</tspan></text>
<g stroke="#ff6aa8" stroke-width="0.45">
<rect x="405.2" y="110.2" width="1.4" height="0.4" fill="#1010ff"/>
<rect x="406.6" y="110.1" width="1.4" height="0.5" fill="#4040ff"/>
<rect x="408" y="110.2" width="1.4" height="0.4" fill="#6464ff"/>
<rect x="409.4" y="110.2" width="1.4" height="0.4" fill="#8484ff"/>
<rect x="410.8" y="110.3" width="1.4" height="0.3" fill="#aaaaff"/>
<rect x="412.2" y="110.4" width="1.4" height="0.2" fill="#d4d4ff"/>
<rect x="413.6" y="110.6" width="1.4" height="6.3" fill="#f4eaf4"/>
<rect x="415" y="110.6" width="1.4" height="1" fill="#ff1c1c"/>
<rect x="416.4" y="110.4" width="1.4" height="0.2" fill="#ff4040"/>
<rect x="417.8" y="110.3" width="1.4" height="0.3" fill="#ff6060"/>
<rect x="419.2" y="104.3" width="1.4" height="6.3" fill="#ff8080"/>
<rect x="420.6" y="104.1" width="1.4" height="6.5" fill="#ffa2a2"/>
<rect x="422" y="104.2" width="1.4" height="6.4" fill="#ffcaca"/>
<rect x="423.4" y="104.4" width="1.4" height="6.2" fill="#fff0f0"/>
<rect x="430.8" y="67.7" width="1.4" height="42.9" fill="#1010ff"/>
<rect x="432.2" y="59.73" width="1.4" height="50.87" fill="#4040ff"/>
<rect x="433.6" y="55.77" width="1.4" height="54.83" fill="#6464ff"/>
<rect x="435" y="53.8" width="1.4" height="56.8" fill="#8484ff"/>
<rect x="436.4" y="52.83" width="1.4" height="57.77" fill="#aaaaff"/>
<rect x="437.8" y="52.34" width="1.4" height="58.26" fill="#d4d4ff"/>
<rect x="439.2" y="52.1" width="1.4" height="58.5" fill="#f4eaf4"/>
<rect x="440.6" y="47.1" width="1.4" height="63.5" fill="#ff1c1c"/>
<rect x="442" y="46.8" width="1.4" height="63.8" fill="#ff4040"/>
<rect x="443.4" y="46.68" width="1.4" height="63.92" fill="#ff6060"/>
<rect x="444.8" y="46.63" width="1.4" height="63.97" fill="#ff8080"/>
<rect x="446.2" y="46.61" width="1.4" height="63.99" fill="#ffa2a2"/>
<rect x="447.6" y="46.6" width="1.4" height="64" fill="#ffcaca"/>
<rect x="449" y="46.6" width="1.4" height="64" fill="#fff0f0"/>
<rect x="456.4" y="73.1" width="1.4" height="37.5" fill="#1010ff"/>
<rect x="457.8" y="64.92" width="1.4" height="45.68" fill="#4040ff"/>
<rect x="459.2" y="60.86" width="1.4" height="49.74" fill="#6464ff"/>
<rect x="460.6" y="58.85" width="1.4" height="51.75" fill="#8484ff"/>
<rect x="462" y="57.84" width="1.4" height="52.76" fill="#aaaaff"/>
<rect x="463.4" y="57.35" width="1.4" height="53.25" fill="#d4d4ff"/>
<rect x="464.8" y="57.1" width="1.4" height="53.5" fill="#f4eaf4"/>
<rect x="466.2" y="52.1" width="1.4" height="58.5" fill="#ff1c1c"/>
<rect x="467.6" y="51.5" width="1.4" height="59.1" fill="#ff4040"/>
<rect x="469" y="51.26" width="1.4" height="59.34" fill="#ff6060"/>
<rect x="470.4" y="51.16" width="1.4" height="59.44" fill="#ff8080"/>
<rect x="471.8" y="51.12" width="1.4" height="59.48" fill="#ffa2a2"/>
<rect x="473.2" y="51.11" width="1.4" height="59.49" fill="#ffcaca"/>
<rect x="474.6" y="51.1" width="1.4" height="59.5" fill="#fff0f0"/>
<rect x="482" y="102.5" width="1.4" height="8.1" fill="#1010ff"/>
<rect x="483.4" y="97.44" width="1.4" height="13.16" fill="#4040ff"/>
<rect x="484.8" y="94.93" width="1.4" height="15.67" fill="#6464ff"/>
<rect x="486.2" y="93.68" width="1.4" height="16.92" fill="#8484ff"/>
<rect x="487.6" y="93.06" width="1.4" height="17.54" fill="#aaaaff"/>
<rect x="489" y="92.75" width="1.4" height="17.85" fill="#d4d4ff"/>
<rect x="490.4" y="92.6" width="1.4" height="18" fill="#f4eaf4"/>
<rect x="491.8" y="88.1" width="1.4" height="22.5" fill="#ff1c1c"/>
<rect x="493.2" y="85.42" width="1.4" height="25.18" fill="#ff4040"/>
<rect x="494.6" y="84.33" width="1.4" height="26.27" fill="#ff6060"/>
<rect x="496" y="83.88" width="1.4" height="26.72" fill="#ff8080"/>
<rect x="497.4" y="83.7" width="1.4" height="26.9" fill="#ffa2a2"/>
<rect x="498.8" y="83.63" width="1.4" height="26.97" fill="#ffcaca"/>
<rect x="500.2" y="83.6" width="1.4" height="27" fill="#fff0f0"/>
<rect x="507.6" y="95.4" width="1.4" height="15.2" fill="#1010ff"/>
<rect x="509" y="90.75" width="1.4" height="19.85" fill="#4040ff"/>
<rect x="510.4" y="88.44" width="1.4" height="22.16" fill="#6464ff"/>
<rect x="511.8" y="87.29" width="1.4" height="23.31" fill="#8484ff"/>
<rect x="513.2" y="86.72" width="1.4" height="23.88" fill="#aaaaff"/>
<rect x="514.6" y="86.44" width="1.4" height="24.16" fill="#d4d4ff"/>
<rect x="516" y="86.3" width="1.4" height="24.3" fill="#f4eaf4"/>
<rect x="517.4" y="81.1" width="1.4" height="29.5" fill="#ff1c1c"/>
<rect x="518.8" y="80.15" width="1.4" height="30.45" fill="#ff4040"/>
<rect x="520.2" y="79.76" width="1.4" height="30.84" fill="#ff6060"/>
<rect x="521.6" y="79.6" width="1.4" height="31" fill="#ff8080"/>
<rect x="523" y="79.54" width="1.4" height="31.06" fill="#ffa2a2"/>
<rect x="524.4" y="79.51" width="1.4" height="31.09" fill="#ffcaca"/>
<rect x="525.8" y="79.5" width="1.4" height="31.1" fill="#fff0f0"/>
<rect x="533.2" y="97.3" width="1.4" height="13.3" fill="#1010ff"/>
<rect x="534.6" y="92.85" width="1.4" height="17.75" fill="#4040ff"/>
<rect x="536" y="90.65" width="1.4" height="19.95" fill="#6464ff"/>
<rect x="537.4" y="89.55" width="1.4" height="21.05" fill="#8484ff"/>
<rect x="538.8" y="89" width="1.4" height="21.6" fill="#aaaaff"/>
<rect x="540.2" y="88.73" width="1.4" height="21.87" fill="#d4d4ff"/>
<rect x="541.6" y="88.6" width="1.4" height="22" fill="#f4eaf4"/>
<rect x="543" y="85.6" width="1.4" height="25" fill="#ff1c1c"/>
<rect x="544.4" y="84.11" width="1.4" height="26.49" fill="#ff4040"/>
<rect x="545.8" y="83.5" width="1.4" height="27.1" fill="#ff6060"/>
<rect x="547.2" y="83.26" width="1.4" height="27.34" fill="#ff8080"/>
<rect x="548.6" y="83.16" width="1.4" height="27.44" fill="#ffa2a2"/>
<rect x="550" y="83.12" width="1.4" height="27.48" fill="#ffcaca"/>
<rect x="551.4" y="83.1" width="1.4" height="27.5" fill="#fff0f0"/>
<rect x="558.8" y="89.1" width="1.4" height="21.5" fill="#1010ff"/>
<rect x="560.2" y="83.73" width="1.4" height="26.87" fill="#4040ff"/>
<rect x="561.6" y="81.07" width="1.4" height="29.53" fill="#6464ff"/>
<rect x="563" y="79.75" width="1.4" height="30.85" fill="#8484ff"/>
<rect x="564.4" y="79.09" width="1.4" height="31.51" fill="#aaaaff"/>
<rect x="565.8" y="78.76" width="1.4" height="31.84" fill="#d4d4ff"/>
<rect x="567.2" y="78.6" width="1.4" height="32" fill="#f4eaf4"/>
<rect x="568.6" y="71.4" width="1.4" height="39.2" fill="#ff1c1c"/>
<rect x="570" y="71.22" width="1.4" height="39.38" fill="#ff4040"/>
<rect x="571.4" y="71.15" width="1.4" height="39.45" fill="#ff6060"/>
<rect x="572.8" y="71.12" width="1.4" height="39.48" fill="#ff8080"/>
<rect x="574.2" y="71.11" width="1.4" height="39.49" fill="#ffa2a2"/>
<rect x="575.6" y="71.1" width="1.4" height="39.5" fill="#ffcaca"/>
<rect x="577" y="71.1" width="1.4" height="39.5" fill="#fff0f0"/>
<rect x="584.4" y="79.6" width="1.4" height="31" fill="#1010ff"/>
<rect x="585.8" y="73.88" width="1.4" height="36.72" fill="#4040ff"/>
<rect x="587.2" y="71.03" width="1.4" height="39.57" fill="#6464ff"/>
<rect x="588.6" y="69.62" width="1.4" height="40.98" fill="#8484ff"/>
<rect x="590" y="68.92" width="1.4" height="41.68" fill="#aaaaff"/>
<rect x="591.4" y="68.57" width="1.4" height="42.03" fill="#d4d4ff"/>
<rect x="592.8" y="68.4" width="1.4" height="42.2" fill="#f4eaf4"/>
<rect x="594.2" y="60.9" width="1.4" height="49.7" fill="#ff1c1c"/>
<rect x="595.6" y="60.78" width="1.4" height="49.82" fill="#ff4040"/>
<rect x="597" y="60.73" width="1.4" height="49.87" fill="#ff6060"/>
<rect x="598.4" y="60.71" width="1.4" height="49.89" fill="#ff8080"/>
<rect x="599.8" y="60.7" width="1.4" height="49.9" fill="#ffa2a2"/>
<rect x="601.2" y="60.7" width="1.4" height="49.9" fill="#ffcaca"/>
<rect x="602.6" y="60.7" width="1.4" height="49.9" fill="#fff0f0"/>
<rect x="610" y="110.6" width="1.4" height="0.5" fill="#1010ff"/>
<rect x="611.4" y="110.6" width="1.4" height="0.72" fill="#4040ff"/>
<rect x="612.8" y="110.6" width="1.4" height="0.93" fill="#6464ff"/>
<rect x="614.2" y="110.6" width="1.4" height="1.15" fill="#8484ff"/>
<rect x="615.6" y="110.6" width="1.4" height="1.37" fill="#aaaaff"/>
<rect x="617" y="110.6" width="1.4" height="1.58" fill="#d4d4ff"/>
<rect x="618.4" y="110.6" width="1.4" height="1.8" fill="#f4eaf4"/>
<rect x="619.8" y="109.6" width="1.4" height="1" fill="#ff1c1c"/>
<rect x="621.2" y="109.47" width="1.4" height="1.13" fill="#ff4040"/>
<rect x="622.6" y="109.33" width="1.4" height="1.27" fill="#ff6060"/>
<rect x="624" y="109.2" width="1.4" height="1.4" fill="#ff8080"/>
<rect x="625.4" y="109.07" width="1.4" height="1.53" fill="#ffa2a2"/>
<rect x="626.8" y="108.93" width="1.4" height="1.67" fill="#ffcaca"/>
<rect x="628.2" y="108.8" width="1.4" height="1.8" fill="#fff0f0"/>
<rect x="635.6" y="110.6" width="1.4" height="0.5" fill="#1010ff"/>
<rect x="637" y="110.6" width="1.4" height="0.67" fill="#4040ff"/>
<rect x="638.4" y="110.6" width="1.4" height="0.83" fill="#6464ff"/>
<rect x="639.8" y="110.6" width="1.4" height="1" fill="#8484ff"/>
<rect x="641.2" y="110.6" width="1.4" height="1.17" fill="#aaaaff"/>
<rect x="642.6" y="110.6" width="1.4" height="1.33" fill="#d4d4ff"/>
<rect x="644" y="110.6" width="1.4" height="1.5" fill="#f4eaf4"/>
<rect x="645.4" y="109.1" width="1.4" height="1.5" fill="#ff1c1c"/>
<rect x="646.8" y="108.98" width="1.4" height="1.62" fill="#ff4040"/>
<rect x="648.2" y="108.87" width="1.4" height="1.73" fill="#ff6060"/>
<rect x="649.6" y="108.75" width="1.4" height="1.85" fill="#ff8080"/>
<rect x="651" y="108.63" width="1.4" height="1.97" fill="#ffa2a2"/>
<rect x="652.4" y="108.52" width="1.4" height="2.08" fill="#ffcaca"/>
<rect x="653.8" y="108.4" width="1.4" height="2.2" fill="#fff0f0"/>
<rect x="661.2" y="110.6" width="1.4" height="0.5" fill="#1010ff"/>
<rect x="662.6" y="110.6" width="1.4" height="0.72" fill="#4040ff"/>
<rect x="664" y="110.6" width="1.4" height="0.93" fill="#6464ff"/>
<rect x="665.4" y="110.6" width="1.4" height="1.15" fill="#8484ff"/>
<rect x="666.8" y="110.6" width="1.4" height="1.37" fill="#aaaaff"/>
<rect x="668.2" y="110.6" width="1.4" height="1.58" fill="#d4d4ff"/>
<rect x="669.6" y="110.6" width="1.4" height="1.8" fill="#f4eaf4"/>
<rect x="671" y="109.6" width="1.4" height="1" fill="#ff1c1c"/>
<rect x="672.4" y="109.47" width="1.4" height="1.13" fill="#ff4040"/>
<rect x="673.8" y="109.33" width="1.4" height="1.27" fill="#ff6060"/>
<rect x="675.2" y="109.2" width="1.4" height="1.4" fill="#ff8080"/>
<rect x="676.6" y="109.07" width="1.4" height="1.53" fill="#ffa2a2"/>
<rect x="678" y="108.93" width="1.4" height="1.67" fill="#ffcaca"/>
<rect x="679.4" y="108.8" width="1.4" height="1.8" fill="#fff0f0"/>
</g>
<line x1="402" y1="110.6" x2="683" y2="110.6" stroke="#000" stroke-width="1.3"/>
<rect x="402" y="11.5" width="281" height="106.9" fill="none" stroke="#000" stroke-width="1.3"/>
<line x1="414.5" y1="118.4" x2="414.5" y2="120.6" stroke="#000" stroke-width="0.9"/>
<line x1="427.3" y1="118.4" x2="427.3" y2="120" stroke="#000" stroke-width="0.9"/>
<text x="414.5" y="130.4" font-size="8.5" text-anchor="middle" font-weight="bold" fill="#000">2077</text>
<line x1="440.1" y1="118.4" x2="440.1" y2="120.6" stroke="#000" stroke-width="0.9"/>
<line x1="452.9" y1="118.4" x2="452.9" y2="120" stroke="#000" stroke-width="0.9"/>
<text x="440.1" y="130.4" font-size="8.5" text-anchor="middle" font-weight="bold" fill="#000">1670</text>
<line x1="465.7" y1="118.4" x2="465.7" y2="120.6" stroke="#000" stroke-width="0.9"/>
<line x1="478.5" y1="118.4" x2="478.5" y2="120" stroke="#000" stroke-width="0.9"/>
<text x="465.7" y="130.4" font-size="8.5" text-anchor="middle" font-weight="bold" fill="#000">1619</text>
<line x1="491.3" y1="118.4" x2="491.3" y2="120.6" stroke="#000" stroke-width="0.9"/>
<line x1="504.1" y1="118.4" x2="504.1" y2="120" stroke="#000" stroke-width="0.9"/>
<text x="491.3" y="130.4" font-size="8.5" text-anchor="middle" font-weight="bold" fill="#000">1524</text>
<line x1="516.9" y1="118.4" x2="516.9" y2="120.6" stroke="#000" stroke-width="0.9"/>
<line x1="529.7" y1="118.4" x2="529.7" y2="120" stroke="#000" stroke-width="0.9"/>
<text x="516.9" y="130.4" font-size="8.5" text-anchor="middle" font-weight="bold" fill="#000">1420</text>
<line x1="542.5" y1="118.4" x2="542.5" y2="120.6" stroke="#000" stroke-width="0.9"/>
<line x1="555.3" y1="118.4" x2="555.3" y2="120" stroke="#000" stroke-width="0.9"/>
<text x="542.5" y="130.4" font-size="8.5" text-anchor="middle" font-weight="bold" fill="#000">1368</text>
<line x1="568.1" y1="118.4" x2="568.1" y2="120.6" stroke="#000" stroke-width="0.9"/>
<line x1="580.9" y1="118.4" x2="580.9" y2="120" stroke="#000" stroke-width="0.9"/>
<text x="568.1" y="130.4" font-size="8.5" text-anchor="middle" font-weight="bold" fill="#000">1331</text>
<line x1="593.7" y1="118.4" x2="593.7" y2="120.6" stroke="#000" stroke-width="0.9"/>
<line x1="606.5" y1="118.4" x2="606.5" y2="120" stroke="#000" stroke-width="0.9"/>
<text x="593.7" y="130.4" font-size="8.5" text-anchor="middle" font-weight="bold" fill="#000">1290</text>
<line x1="619.3" y1="118.4" x2="619.3" y2="120.6" stroke="#000" stroke-width="0.9"/>
<line x1="632.1" y1="118.4" x2="632.1" y2="120" stroke="#000" stroke-width="0.9"/>
<text x="619.3" y="130.4" font-size="8.5" text-anchor="middle" font-weight="bold" fill="#000">1134</text>
<line x1="644.9" y1="118.4" x2="644.9" y2="120.6" stroke="#000" stroke-width="0.9"/>
<line x1="657.7" y1="118.4" x2="657.7" y2="120" stroke="#000" stroke-width="0.9"/>
<text x="644.9" y="130.4" font-size="8.5" text-anchor="middle" font-weight="bold" fill="#000">1090</text>
<line x1="670.5" y1="118.4" x2="670.5" y2="120.6" stroke="#000" stroke-width="0.9"/>
<line x1="683.3" y1="118.4" x2="683.3" y2="120" stroke="#000" stroke-width="0.9"/>
<text x="670.5" y="130.4" font-size="8.5" text-anchor="middle" font-weight="bold" fill="#000">1048</text>
<line x1="401.7" y1="118.4" x2="401.7" y2="120" stroke="#000" stroke-width="0.9"/>
<rect x="417.4" y="19" width="18.4" height="8.3" fill="#1010ff" stroke="#ff70c0" stroke-width="0.8"/>
<rect x="417.4" y="29.6" width="18.4" height="8.3" fill="#ff1c1c" stroke="#ff70c0" stroke-width="0.8"/>
<text x="439" y="26.7" font-size="8.4" text-anchor="start" font-weight="bold" fill="#000">0</text>
<text x="439" y="37.3" font-size="8.4" text-anchor="start" font-weight="bold" fill="#000">35</text>
<rect x="450" y="19" width="18.4" height="8.3" fill="#4040ff" stroke="#ff70c0" stroke-width="0.8"/>
<rect x="450" y="29.6" width="18.4" height="8.3" fill="#ff4040" stroke="#ff70c0" stroke-width="0.8"/>
<text x="471.6" y="26.7" font-size="8.4" text-anchor="start" font-weight="bold" fill="#000">5</text>
<text x="471.6" y="37.3" font-size="8.4" text-anchor="start" font-weight="bold" fill="#000">40</text>
<rect x="483" y="19" width="18.4" height="8.3" fill="#6464ff" stroke="#ff70c0" stroke-width="0.8"/>
<rect x="483" y="29.6" width="18.4" height="8.3" fill="#ff6060" stroke="#ff70c0" stroke-width="0.8"/>
<text x="504.6" y="26.7" font-size="8.4" text-anchor="start" font-weight="bold" fill="#000">1</text>
<text x="504.6" y="37.3" font-size="8.4" text-anchor="start" font-weight="bold" fill="#000">45</text>
<rect x="520.2" y="19" width="18.4" height="8.3" fill="#8484ff" stroke="#ff70c0" stroke-width="0.8"/>
<rect x="520.2" y="29.6" width="18.4" height="8.3" fill="#ff8080" stroke="#ff70c0" stroke-width="0.8"/>
<text x="541.8" y="26.7" font-size="8.4" text-anchor="start" font-weight="bold" fill="#000">15</text>
<text x="541.8" y="37.3" font-size="8.4" text-anchor="start" font-weight="bold" fill="#000">50</text>
<rect x="560.3" y="19" width="18.4" height="8.3" fill="#aaaaff" stroke="#ff70c0" stroke-width="0.8"/>
<rect x="560.3" y="29.6" width="18.4" height="8.3" fill="#ffa2a2" stroke="#ff70c0" stroke-width="0.8"/>
<text x="581.9" y="26.7" font-size="8.4" text-anchor="start" font-weight="bold" fill="#000">20</text>
<text x="581.9" y="37.3" font-size="8.4" text-anchor="start" font-weight="bold" fill="#000">55</text>
<rect x="598.1" y="19" width="18.4" height="8.3" fill="#d4d4ff" stroke="#ff70c0" stroke-width="0.8"/>
<rect x="598.1" y="29.6" width="18.4" height="8.3" fill="#ffcaca" stroke="#ff70c0" stroke-width="0.8"/>
<text x="619.7" y="26.7" font-size="8.4" text-anchor="start" font-weight="bold" fill="#000">25</text>
<text x="619.7" y="37.3" font-size="8.4" text-anchor="start" font-weight="bold" fill="#000">60</text>
<rect x="635.2" y="19" width="18.4" height="8.3" fill="#f4eaf4" stroke="#ff70c0" stroke-width="0.8"/>
<rect x="635.2" y="29.6" width="18.4" height="8.3" fill="#fff0f0" stroke="#ff70c0" stroke-width="0.8"/>
<text x="656.8" y="26.7" font-size="8.4" text-anchor="start" font-weight="bold" fill="#000">30</text>
<text x="656.8" y="37.3" font-size="8.4" text-anchor="start" font-weight="bold" fill="#000">65</text>
<text x="541.5" y="141.6" font-size="9.8" text-anchor="middle" font-weight="bold">Wavenumber (cm<tspan font-size="6.37" dy="-3.5">-1</tspan><tspan dy="3.5">)</tspan></text>
<text x="396" y="67.8" font-size="10.2" text-anchor="middle" font-weight="bold" fill="#000" transform="rotate(-90 396 67.8)">Absorbance (arb.units)</text>
<text x="384" y="155.4" font-size="11.5" font-weight="bold" fill="#000">b<tspan font-size="8.16" dy="2.7">3</tspan></text>
<g stroke="#ff2a2a" stroke-width="0.4">
<rect x="403.2" y="256.5" width="1.5" height="1" fill="#1010ff"/>
<rect x="404.7" y="256.5" width="1.5" height="1.26" fill="#4040ff"/>
<rect x="406.2" y="256.5" width="1.5" height="1.38" fill="#6464ff"/>
<rect x="407.7" y="256.5" width="1.5" height="1.45" fill="#8484ff"/>
<rect x="409.2" y="256.5" width="1.5" height="1.48" fill="#aaaaff"/>
<rect x="410.7" y="256.5" width="1.5" height="1.49" fill="#d4d4ff"/>
<rect x="412.2" y="256.5" width="1.5" height="1.5" fill="#f4eaf4"/>
<rect x="413.7" y="248.5" width="1.5" height="8" fill="#ff1c1c"/>
<rect x="415.2" y="247.31" width="1.5" height="9.19" fill="#ff4040"/>
<rect x="416.7" y="246.82" width="1.5" height="9.68" fill="#ff6060"/>
<rect x="418.2" y="246.63" width="1.5" height="9.87" fill="#ff8080"/>
<rect x="419.7" y="246.55" width="1.5" height="9.95" fill="#ffa2a2"/>
<rect x="421.2" y="246.51" width="1.5" height="9.99" fill="#ffcaca"/>
<rect x="422.7" y="246.5" width="1.5" height="10" fill="#fff0f0"/>
<rect x="429" y="226.5" width="1.5" height="30" fill="#1010ff"/>
<rect x="430.5" y="215.92" width="1.5" height="40.58" fill="#4040ff"/>
<rect x="432" y="210.67" width="1.5" height="45.83" fill="#6464ff"/>
<rect x="433.5" y="208.06" width="1.5" height="48.44" fill="#8484ff"/>
<rect x="435" y="206.76" width="1.5" height="49.74" fill="#aaaaff"/>
<rect x="436.5" y="206.12" width="1.5" height="50.38" fill="#d4d4ff"/>
<rect x="438" y="205.8" width="1.5" height="50.7" fill="#f4eaf4"/>
<rect x="439.5" y="202" width="1.5" height="54.5" fill="#ff1c1c"/>
<rect x="441" y="201.4" width="1.5" height="55.1" fill="#ff4040"/>
<rect x="442.5" y="201.16" width="1.5" height="55.34" fill="#ff6060"/>
<rect x="444" y="201.06" width="1.5" height="55.44" fill="#ff8080"/>
<rect x="445.5" y="201.02" width="1.5" height="55.48" fill="#ffa2a2"/>
<rect x="447" y="201.01" width="1.5" height="55.49" fill="#ffcaca"/>
<rect x="448.5" y="201" width="1.5" height="55.5" fill="#fff0f0"/>
<rect x="454.8" y="223.1" width="1.5" height="33.4" fill="#1010ff"/>
<rect x="456.3" y="211.55" width="1.5" height="44.95" fill="#4040ff"/>
<rect x="457.8" y="205.81" width="1.5" height="50.69" fill="#6464ff"/>
<rect x="459.3" y="202.97" width="1.5" height="53.53" fill="#8484ff"/>
<rect x="460.8" y="201.55" width="1.5" height="54.95" fill="#aaaaff"/>
<rect x="462.3" y="200.85" width="1.5" height="55.65" fill="#d4d4ff"/>
<rect x="463.8" y="200.5" width="1.5" height="56" fill="#f4eaf4"/>
<rect x="465.3" y="196.4" width="1.5" height="60.1" fill="#ff1c1c"/>
<rect x="466.8" y="193.48" width="1.5" height="63.02" fill="#ff4040"/>
<rect x="468.3" y="192.29" width="1.5" height="64.21" fill="#ff6060"/>
<rect x="469.8" y="191.81" width="1.5" height="64.69" fill="#ff8080"/>
<rect x="471.3" y="191.61" width="1.5" height="64.89" fill="#ffa2a2"/>
<rect x="472.8" y="191.53" width="1.5" height="64.97" fill="#ffcaca"/>
<rect x="474.3" y="191.5" width="1.5" height="65" fill="#fff0f0"/>
<rect x="480.6" y="239" width="1.5" height="17.5" fill="#1010ff"/>
<rect x="482.1" y="227.25" width="1.5" height="29.25" fill="#4040ff"/>
<rect x="483.6" y="221.41" width="1.5" height="35.09" fill="#6464ff"/>
<rect x="485.1" y="218.51" width="1.5" height="37.99" fill="#8484ff"/>
<rect x="486.6" y="217.07" width="1.5" height="39.43" fill="#aaaaff"/>
<rect x="488.1" y="216.35" width="1.5" height="40.15" fill="#d4d4ff"/>
<rect x="489.6" y="216" width="1.5" height="40.5" fill="#f4eaf4"/>
<rect x="491.1" y="210" width="1.5" height="46.5" fill="#ff1c1c"/>
<rect x="492.6" y="202.85" width="1.5" height="53.65" fill="#ff4040"/>
<rect x="494.1" y="199.94" width="1.5" height="56.56" fill="#ff6060"/>
<rect x="495.6" y="198.76" width="1.5" height="57.74" fill="#ff8080"/>
<rect x="497.1" y="198.27" width="1.5" height="58.23" fill="#ffa2a2"/>
<rect x="498.6" y="198.08" width="1.5" height="58.42" fill="#ffcaca"/>
<rect x="500.1" y="198" width="1.5" height="58.5" fill="#fff0f0"/>
<rect x="506.4" y="236" width="1.5" height="20.5" fill="#1010ff"/>
<rect x="507.9" y="225.27" width="1.5" height="31.23" fill="#4040ff"/>
<rect x="509.4" y="219.94" width="1.5" height="36.56" fill="#6464ff"/>
<rect x="510.9" y="217.29" width="1.5" height="39.21" fill="#8484ff"/>
<rect x="512.4" y="215.98" width="1.5" height="40.52" fill="#aaaaff"/>
<rect x="513.9" y="215.32" width="1.5" height="41.18" fill="#d4d4ff"/>
<rect x="515.4" y="215" width="1.5" height="41.5" fill="#f4eaf4"/>
<rect x="516.9" y="202" width="1.5" height="54.5" fill="#ff1c1c"/>
<rect x="518.4" y="199.62" width="1.5" height="56.88" fill="#ff4040"/>
<rect x="519.9" y="198.65" width="1.5" height="57.85" fill="#ff6060"/>
<rect x="521.4" y="198.25" width="1.5" height="58.25" fill="#ff8080"/>
<rect x="522.9" y="198.09" width="1.5" height="58.41" fill="#ffa2a2"/>
<rect x="524.4" y="198.03" width="1.5" height="58.47" fill="#ffcaca"/>
<rect x="525.9" y="198" width="1.5" height="58.5" fill="#fff0f0"/>
<rect x="532.2" y="234.5" width="1.5" height="22" fill="#1010ff"/>
<rect x="533.7" y="224.53" width="1.5" height="31.97" fill="#4040ff"/>
<rect x="535.2" y="219.58" width="1.5" height="36.92" fill="#6464ff"/>
<rect x="536.7" y="217.13" width="1.5" height="39.37" fill="#8484ff"/>
<rect x="538.2" y="215.91" width="1.5" height="40.59" fill="#aaaaff"/>
<rect x="539.7" y="215.3" width="1.5" height="41.2" fill="#d4d4ff"/>
<rect x="541.2" y="215" width="1.5" height="41.5" fill="#f4eaf4"/>
<rect x="542.7" y="206.5" width="1.5" height="50" fill="#ff1c1c"/>
<rect x="544.2" y="203.1" width="1.5" height="53.4" fill="#ff4040"/>
<rect x="545.7" y="201.72" width="1.5" height="54.78" fill="#ff6060"/>
<rect x="547.2" y="201.16" width="1.5" height="55.34" fill="#ff8080"/>
<rect x="548.7" y="200.93" width="1.5" height="55.57" fill="#ffa2a2"/>
<rect x="550.2" y="200.84" width="1.5" height="55.66" fill="#ffcaca"/>
<rect x="551.7" y="200.8" width="1.5" height="55.7" fill="#fff0f0"/>
<rect x="558" y="229" width="1.5" height="27.5" fill="#1010ff"/>
<rect x="559.5" y="215.97" width="1.5" height="40.53" fill="#4040ff"/>
<rect x="561" y="209.5" width="1.5" height="47" fill="#6464ff"/>
<rect x="562.5" y="206.28" width="1.5" height="50.22" fill="#8484ff"/>
<rect x="564" y="204.69" width="1.5" height="51.81" fill="#aaaaff"/>
<rect x="565.5" y="203.89" width="1.5" height="52.61" fill="#d4d4ff"/>
<rect x="567" y="203.5" width="1.5" height="53" fill="#f4eaf4"/>
<rect x="568.5" y="193.8" width="1.5" height="62.7" fill="#ff1c1c"/>
<rect x="570" y="191.24" width="1.5" height="65.26" fill="#ff4040"/>
<rect x="571.5" y="190.19" width="1.5" height="66.31" fill="#ff6060"/>
<rect x="573" y="189.77" width="1.5" height="66.73" fill="#ff8080"/>
<rect x="574.5" y="189.6" width="1.5" height="66.9" fill="#ffa2a2"/>
<rect x="576" y="189.53" width="1.5" height="66.97" fill="#ffcaca"/>
<rect x="577.5" y="189.5" width="1.5" height="67" fill="#fff0f0"/>
<rect x="583.8" y="229" width="1.5" height="27.5" fill="#1010ff"/>
<rect x="585.3" y="219.65" width="1.5" height="36.85" fill="#4040ff"/>
<rect x="586.8" y="215" width="1.5" height="41.5" fill="#6464ff"/>
<rect x="588.3" y="212.7" width="1.5" height="43.8" fill="#8484ff"/>
<rect x="589.8" y="211.55" width="1.5" height="44.95" fill="#aaaaff"/>
<rect x="591.3" y="210.98" width="1.5" height="45.52" fill="#d4d4ff"/>
<rect x="592.8" y="210.7" width="1.5" height="45.8" fill="#f4eaf4"/>
<rect x="594.3" y="199.5" width="1.5" height="57" fill="#ff1c1c"/>
<rect x="595.8" y="198.31" width="1.5" height="58.19" fill="#ff4040"/>
<rect x="597.3" y="197.82" width="1.5" height="58.68" fill="#ff6060"/>
<rect x="598.8" y="197.63" width="1.5" height="58.87" fill="#ff8080"/>
<rect x="600.3" y="197.55" width="1.5" height="58.95" fill="#ffa2a2"/>
<rect x="601.8" y="197.51" width="1.5" height="58.99" fill="#ffcaca"/>
<rect x="603.3" y="197.5" width="1.5" height="59" fill="#fff0f0"/>
<rect x="609.6" y="256.5" width="1.5" height="1" fill="#1010ff"/>
<rect x="611.1" y="256.5" width="1.5" height="2.5" fill="#4040ff"/>
<rect x="612.6" y="256.5" width="1.5" height="4" fill="#6464ff"/>
<rect x="614.1" y="256.5" width="1.5" height="5.5" fill="#8484ff"/>
<rect x="615.6" y="256.5" width="1.5" height="7" fill="#aaaaff"/>
<rect x="617.1" y="256.5" width="1.5" height="8.5" fill="#d4d4ff"/>
<rect x="618.6" y="256.5" width="1.5" height="10" fill="#f4eaf4"/>
<rect x="620.1" y="250" width="1.5" height="6.5" fill="#ff1c1c"/>
<rect x="621.6" y="249.92" width="1.5" height="6.58" fill="#ff4040"/>
<rect x="623.1" y="249.83" width="1.5" height="6.67" fill="#ff6060"/>
<rect x="624.6" y="249.75" width="1.5" height="6.75" fill="#ff8080"/>
<rect x="626.1" y="249.67" width="1.5" height="6.83" fill="#ffa2a2"/>
<rect x="627.6" y="249.58" width="1.5" height="6.92" fill="#ffcaca"/>
<rect x="629.1" y="249.5" width="1.5" height="7" fill="#fff0f0"/>
<rect x="635.4" y="256.5" width="1.5" height="1" fill="#1010ff"/>
<rect x="636.9" y="256.5" width="1.5" height="2.3" fill="#4040ff"/>
<rect x="638.4" y="256.5" width="1.5" height="3.6" fill="#6464ff"/>
<rect x="639.9" y="256.5" width="1.5" height="4.9" fill="#8484ff"/>
<rect x="641.4" y="256.5" width="1.5" height="6.2" fill="#aaaaff"/>
<rect x="642.9" y="256.5" width="1.5" height="7.5" fill="#d4d4ff"/>
<rect x="644.4" y="256.5" width="1.5" height="8.8" fill="#f4eaf4"/>
<rect x="645.9" y="242.3" width="1.5" height="14.2" fill="#ff1c1c"/>
<rect x="647.4" y="242.78" width="1.5" height="13.72" fill="#ff4040"/>
<rect x="648.9" y="243.27" width="1.5" height="13.23" fill="#ff6060"/>
<rect x="650.4" y="243.75" width="1.5" height="12.75" fill="#ff8080"/>
<rect x="651.9" y="244.23" width="1.5" height="12.27" fill="#ffa2a2"/>
<rect x="653.4" y="244.72" width="1.5" height="11.78" fill="#ffcaca"/>
<rect x="654.9" y="245.2" width="1.5" height="11.3" fill="#fff0f0"/>
<rect x="661.2" y="256.5" width="1.5" height="1" fill="#1010ff"/>
<rect x="662.7" y="256.5" width="1.5" height="2.5" fill="#4040ff"/>
<rect x="664.2" y="256.5" width="1.5" height="4" fill="#6464ff"/>
<rect x="665.7" y="256.5" width="1.5" height="5.5" fill="#8484ff"/>
<rect x="667.2" y="256.5" width="1.5" height="7" fill="#aaaaff"/>
<rect x="668.7" y="256.5" width="1.5" height="8.5" fill="#d4d4ff"/>
<rect x="670.2" y="256.5" width="1.5" height="10" fill="#f4eaf4"/>
<rect x="671.7" y="254.3" width="1.5" height="2.2" fill="#ff1c1c"/>
<rect x="673.2" y="252.4" width="1.5" height="4.1" fill="#ff4040"/>
<rect x="674.7" y="250.5" width="1.5" height="6" fill="#ff6060"/>
<rect x="676.2" y="248.6" width="1.5" height="7.9" fill="#ff8080"/>
<rect x="677.7" y="246.7" width="1.5" height="9.8" fill="#ffa2a2"/>
<rect x="679.2" y="244.8" width="1.5" height="11.7" fill="#ffcaca"/>
<rect x="680.7" y="242.9" width="1.5" height="13.6" fill="#fff0f0"/>
</g>
<line x1="399.4" y1="256.5" x2="683.7" y2="256.5" stroke="#000" stroke-width="1.3"/>
<rect x="399.4" y="159.4" width="284.3" height="107.9" fill="none" stroke="#000" stroke-width="1.3"/>
<line x1="413" y1="267.3" x2="413" y2="269.5" stroke="#000" stroke-width="0.9"/>
<line x1="425.9" y1="267.3" x2="425.9" y2="268.9" stroke="#000" stroke-width="0.9"/>
<text x="413" y="278.7" font-size="8.5" text-anchor="middle" font-weight="bold" fill="#000">2077</text>
<line x1="438.8" y1="267.3" x2="438.8" y2="269.5" stroke="#000" stroke-width="0.9"/>
<line x1="451.7" y1="267.3" x2="451.7" y2="268.9" stroke="#000" stroke-width="0.9"/>
<text x="438.8" y="278.7" font-size="8.5" text-anchor="middle" font-weight="bold" fill="#000">1670</text>
<line x1="464.6" y1="267.3" x2="464.6" y2="269.5" stroke="#000" stroke-width="0.9"/>
<line x1="477.5" y1="267.3" x2="477.5" y2="268.9" stroke="#000" stroke-width="0.9"/>
<text x="464.6" y="278.7" font-size="8.5" text-anchor="middle" font-weight="bold" fill="#000">1619</text>
<line x1="490.4" y1="267.3" x2="490.4" y2="269.5" stroke="#000" stroke-width="0.9"/>
<line x1="503.3" y1="267.3" x2="503.3" y2="268.9" stroke="#000" stroke-width="0.9"/>
<text x="490.4" y="278.7" font-size="8.5" text-anchor="middle" font-weight="bold" fill="#000">1524</text>
<line x1="516.2" y1="267.3" x2="516.2" y2="269.5" stroke="#000" stroke-width="0.9"/>
<line x1="529.1" y1="267.3" x2="529.1" y2="268.9" stroke="#000" stroke-width="0.9"/>
<text x="516.2" y="278.7" font-size="8.5" text-anchor="middle" font-weight="bold" fill="#000">1420</text>
<line x1="542" y1="267.3" x2="542" y2="269.5" stroke="#000" stroke-width="0.9"/>
<line x1="554.9" y1="267.3" x2="554.9" y2="268.9" stroke="#000" stroke-width="0.9"/>
<text x="542" y="278.7" font-size="8.5" text-anchor="middle" font-weight="bold" fill="#000">1368</text>
<line x1="567.8" y1="267.3" x2="567.8" y2="269.5" stroke="#000" stroke-width="0.9"/>
<line x1="580.7" y1="267.3" x2="580.7" y2="268.9" stroke="#000" stroke-width="0.9"/>
<text x="567.8" y="278.7" font-size="8.5" text-anchor="middle" font-weight="bold" fill="#000">1331</text>
<line x1="593.6" y1="267.3" x2="593.6" y2="269.5" stroke="#000" stroke-width="0.9"/>
<line x1="606.5" y1="267.3" x2="606.5" y2="268.9" stroke="#000" stroke-width="0.9"/>
<text x="593.6" y="278.7" font-size="8.5" text-anchor="middle" font-weight="bold" fill="#000">1290</text>
<line x1="619.4" y1="267.3" x2="619.4" y2="269.5" stroke="#000" stroke-width="0.9"/>
<line x1="632.3" y1="267.3" x2="632.3" y2="268.9" stroke="#000" stroke-width="0.9"/>
<text x="619.4" y="278.7" font-size="8.5" text-anchor="middle" font-weight="bold" fill="#000">1135</text>
<line x1="645.2" y1="267.3" x2="645.2" y2="269.5" stroke="#000" stroke-width="0.9"/>
<line x1="658.1" y1="267.3" x2="658.1" y2="268.9" stroke="#000" stroke-width="0.9"/>
<text x="645.2" y="278.7" font-size="8.5" text-anchor="middle" font-weight="bold" fill="#000">1090</text>
<line x1="671" y1="267.3" x2="671" y2="269.5" stroke="#000" stroke-width="0.9"/>
<line x1="683.9" y1="267.3" x2="683.9" y2="268.9" stroke="#000" stroke-width="0.9"/>
<text x="671" y="278.7" font-size="8.5" text-anchor="middle" font-weight="bold" fill="#000">1048</text>
<line x1="400.1" y1="267.3" x2="400.1" y2="268.9" stroke="#000" stroke-width="0.9"/>
<rect x="423" y="166" width="18.5" height="8.4" fill="#1010ff" stroke="#ff3030" stroke-width="0.8"/>
<rect x="423" y="177.3" width="18.5" height="8.4" fill="#ff1c1c" stroke="#ff3030" stroke-width="0.8"/>
<text x="444.7" y="173.8" font-size="8.4" text-anchor="start" font-weight="bold" fill="#000">0</text>
<text x="444.7" y="185.1" font-size="8.4" text-anchor="start" font-weight="bold" fill="#000">35</text>
<rect x="456" y="166" width="18.5" height="8.4" fill="#4040ff" stroke="#ff3030" stroke-width="0.8"/>
<rect x="456" y="177.3" width="18.5" height="8.4" fill="#ff4040" stroke="#ff3030" stroke-width="0.8"/>
<text x="477.7" y="173.8" font-size="8.4" text-anchor="start" font-weight="bold" fill="#000">5</text>
<text x="477.7" y="185.1" font-size="8.4" text-anchor="start" font-weight="bold" fill="#000">40</text>
<rect x="489.4" y="166" width="18.5" height="8.4" fill="#6464ff" stroke="#ff3030" stroke-width="0.8"/>
<rect x="489.4" y="177.3" width="18.5" height="8.4" fill="#ff6060" stroke="#ff3030" stroke-width="0.8"/>
<text x="511.1" y="173.8" font-size="8.4" text-anchor="start" font-weight="bold" fill="#000">1</text>
<text x="511.1" y="185.1" font-size="8.4" text-anchor="start" font-weight="bold" fill="#000">45</text>
<rect x="528" y="166" width="18.5" height="8.4" fill="#8484ff" stroke="#ff3030" stroke-width="0.8"/>
<rect x="528" y="177.3" width="18.5" height="8.4" fill="#ff8080" stroke="#ff3030" stroke-width="0.8"/>
<text x="549.7" y="173.8" font-size="8.4" text-anchor="start" font-weight="bold" fill="#000">15</text>
<text x="549.7" y="185.1" font-size="8.4" text-anchor="start" font-weight="bold" fill="#000">50</text>
<rect x="568.4" y="166" width="18.5" height="8.4" fill="#aaaaff" stroke="#ff3030" stroke-width="0.8"/>
<rect x="568.4" y="177.3" width="18.5" height="8.4" fill="#ffa2a2" stroke="#ff3030" stroke-width="0.8"/>
<text x="590.1" y="173.8" font-size="8.4" text-anchor="start" font-weight="bold" fill="#000">20</text>
<text x="590.1" y="185.1" font-size="8.4" text-anchor="start" font-weight="bold" fill="#000">55</text>
<rect x="606.4" y="166" width="18.5" height="8.4" fill="#d4d4ff" stroke="#ff3030" stroke-width="0.8"/>
<rect x="606.4" y="177.3" width="18.5" height="8.4" fill="#ffcaca" stroke="#ff3030" stroke-width="0.8"/>
<text x="628.1" y="173.8" font-size="8.4" text-anchor="start" font-weight="bold" fill="#000">25</text>
<text x="628.1" y="185.1" font-size="8.4" text-anchor="start" font-weight="bold" fill="#000">60</text>
<rect x="644.5" y="166" width="18.5" height="8.4" fill="#f4eaf4" stroke="#ff3030" stroke-width="0.8"/>
<rect x="644.5" y="177.3" width="18.5" height="8.4" fill="#fff0f0" stroke="#ff3030" stroke-width="0.8"/>
<text x="666.2" y="173.8" font-size="8.4" text-anchor="start" font-weight="bold" fill="#000">30</text>
<text x="666.2" y="185.1" font-size="8.4" text-anchor="start" font-weight="bold" fill="#000">65</text>
<text x="529.5" y="291.6" font-size="9.8" text-anchor="middle" font-weight="bold">Wavenumber (cm<tspan font-size="6.37" dy="-3.5">-1</tspan><tspan dy="3.5">)</tspan></text>
<text x="392.6" y="215.9" font-size="10.15" text-anchor="middle" font-weight="bold" fill="#000" transform="rotate(-90 392.6 215.9)">Absorbance (arb.units)</text>
<text x="383.4" y="318.8" font-size="11.5" font-weight="bold" fill="#000">c<tspan font-size="8.16" dy="2.7">3</tspan></text>
<g stroke="#e040e0" stroke-width="0.45">
<rect x="400.91" y="420" width="1.47" height="0.5" fill="#1010ff"/>
<rect x="402.38" y="420" width="1.47" height="0.86" fill="#4040ff"/>
<rect x="403.85" y="420" width="1.47" height="1.04" fill="#6464ff"/>
<rect x="405.32" y="420" width="1.47" height="1.12" fill="#8484ff"/>
<rect x="406.79" y="420" width="1.47" height="1.17" fill="#aaaaff"/>
<rect x="408.26" y="420" width="1.47" height="1.19" fill="#d4d4ff"/>
<rect x="409.73" y="420" width="1.47" height="1.2" fill="#f4eaf4"/>
<rect x="411.2" y="410" width="1.47" height="10" fill="#ff1c1c"/>
<rect x="412.67" y="408.81" width="1.47" height="11.19" fill="#ff4040"/>
<rect x="414.14" y="408.32" width="1.47" height="11.68" fill="#ff6060"/>
<rect x="415.61" y="408.13" width="1.47" height="11.87" fill="#ff8080"/>
<rect x="417.08" y="408.05" width="1.47" height="11.95" fill="#ffa2a2"/>
<rect x="418.55" y="408.01" width="1.47" height="11.99" fill="#ffcaca"/>
<rect x="420.02" y="408" width="1.47" height="12" fill="#fff0f0"/>
<rect x="426.76" y="406" width="1.47" height="14" fill="#1010ff"/>
<rect x="428.23" y="400.38" width="1.47" height="19.62" fill="#4040ff"/>
<rect x="429.7" y="397.59" width="1.47" height="22.41" fill="#6464ff"/>
<rect x="431.17" y="396.2" width="1.47" height="23.8" fill="#8484ff"/>
<rect x="432.64" y="395.51" width="1.47" height="24.49" fill="#aaaaff"/>
<rect x="434.11" y="395.17" width="1.47" height="24.83" fill="#d4d4ff"/>
<rect x="435.58" y="395" width="1.47" height="25" fill="#f4eaf4"/>
<rect x="437.05" y="385.5" width="1.47" height="34.5" fill="#ff1c1c"/>
<rect x="438.52" y="384.01" width="1.47" height="35.99" fill="#ff4040"/>
<rect x="439.99" y="383.4" width="1.47" height="36.6" fill="#ff6060"/>
<rect x="441.46" y="383.16" width="1.47" height="36.84" fill="#ff8080"/>
<rect x="442.93" y="383.06" width="1.47" height="36.94" fill="#ffa2a2"/>
<rect x="444.4" y="383.02" width="1.47" height="36.98" fill="#ffcaca"/>
<rect x="445.87" y="383" width="1.47" height="37" fill="#fff0f0"/>
<rect x="452.61" y="398.4" width="1.47" height="21.6" fill="#1010ff"/>
<rect x="454.08" y="390.53" width="1.47" height="29.47" fill="#4040ff"/>
<rect x="455.55" y="386.62" width="1.47" height="33.38" fill="#6464ff"/>
<rect x="457.02" y="384.68" width="1.47" height="35.32" fill="#8484ff"/>
<rect x="458.49" y="383.72" width="1.47" height="36.28" fill="#aaaaff"/>
<rect x="459.96" y="383.24" width="1.47" height="36.76" fill="#d4d4ff"/>
<rect x="461.43" y="383" width="1.47" height="37" fill="#f4eaf4"/>
<rect x="462.9" y="372.5" width="1.47" height="47.5" fill="#ff1c1c"/>
<rect x="464.37" y="371.25" width="1.47" height="48.75" fill="#ff4040"/>
<rect x="465.84" y="370.74" width="1.47" height="49.26" fill="#ff6060"/>
<rect x="467.31" y="370.53" width="1.47" height="49.47" fill="#ff8080"/>
<rect x="468.78" y="370.45" width="1.47" height="49.55" fill="#ffa2a2"/>
<rect x="470.25" y="370.41" width="1.47" height="49.59" fill="#ffcaca"/>
<rect x="471.72" y="370.4" width="1.47" height="49.6" fill="#fff0f0"/>
<rect x="478.46" y="399.3" width="1.47" height="20.7" fill="#1010ff"/>
<rect x="479.93" y="388.26" width="1.47" height="31.74" fill="#4040ff"/>
<rect x="481.4" y="382.78" width="1.47" height="37.22" fill="#6464ff"/>
<rect x="482.87" y="380.06" width="1.47" height="39.94" fill="#8484ff"/>
<rect x="484.34" y="378.7" width="1.47" height="41.3" fill="#aaaaff"/>
<rect x="485.81" y="378.03" width="1.47" height="41.97" fill="#d4d4ff"/>
<rect x="487.28" y="377.7" width="1.47" height="42.3" fill="#f4eaf4"/>
<rect x="488.75" y="366.4" width="1.47" height="53.6" fill="#ff1c1c"/>
<rect x="490.22" y="361.75" width="1.47" height="58.25" fill="#ff4040"/>
<rect x="491.69" y="359.86" width="1.47" height="60.14" fill="#ff6060"/>
<rect x="493.16" y="359.09" width="1.47" height="60.91" fill="#ff8080"/>
<rect x="494.63" y="358.78" width="1.47" height="61.22" fill="#ffa2a2"/>
<rect x="496.1" y="358.65" width="1.47" height="61.35" fill="#ffcaca"/>
<rect x="497.57" y="358.6" width="1.47" height="61.4" fill="#fff0f0"/>
<rect x="504.31" y="394.6" width="1.47" height="25.4" fill="#1010ff"/>
<rect x="505.78" y="382.39" width="1.47" height="37.61" fill="#4040ff"/>
<rect x="507.25" y="376.32" width="1.47" height="43.68" fill="#6464ff"/>
<rect x="508.72" y="373.31" width="1.47" height="46.69" fill="#8484ff"/>
<rect x="510.19" y="371.81" width="1.47" height="48.19" fill="#aaaaff"/>
<rect x="511.66" y="371.07" width="1.47" height="48.93" fill="#d4d4ff"/>
<rect x="513.13" y="370.7" width="1.47" height="49.3" fill="#f4eaf4"/>
<rect x="514.6" y="359.4" width="1.47" height="60.6" fill="#ff1c1c"/>
<rect x="516.07" y="356.9" width="1.47" height="63.1" fill="#ff4040"/>
<rect x="517.54" y="355.88" width="1.47" height="64.12" fill="#ff6060"/>
<rect x="519.01" y="355.46" width="1.47" height="64.54" fill="#ff8080"/>
<rect x="520.48" y="355.3" width="1.47" height="64.7" fill="#ffa2a2"/>
<rect x="521.95" y="355.23" width="1.47" height="64.77" fill="#ffcaca"/>
<rect x="523.42" y="355.2" width="1.47" height="64.8" fill="#fff0f0"/>
<rect x="530.16" y="396" width="1.47" height="24" fill="#1010ff"/>
<rect x="531.63" y="385.93" width="1.47" height="34.07" fill="#4040ff"/>
<rect x="533.1" y="380.93" width="1.47" height="39.07" fill="#6464ff"/>
<rect x="534.57" y="378.45" width="1.47" height="41.55" fill="#8484ff"/>
<rect x="536.04" y="377.22" width="1.47" height="42.78" fill="#aaaaff"/>
<rect x="537.51" y="376.6" width="1.47" height="43.4" fill="#d4d4ff"/>
<rect x="538.98" y="376.3" width="1.47" height="43.7" fill="#f4eaf4"/>
<rect x="540.45" y="363.6" width="1.47" height="56.4" fill="#ff1c1c"/>
<rect x="541.92" y="360.62" width="1.47" height="59.38" fill="#ff4040"/>
<rect x="543.39" y="359.41" width="1.47" height="60.59" fill="#ff6060"/>
<rect x="544.86" y="358.91" width="1.47" height="61.09" fill="#ff8080"/>
<rect x="546.33" y="358.71" width="1.47" height="61.29" fill="#ffa2a2"/>
<rect x="547.8" y="358.63" width="1.47" height="61.37" fill="#ffcaca"/>
<rect x="549.27" y="358.6" width="1.47" height="61.4" fill="#fff0f0"/>
<rect x="556.01" y="394.6" width="1.47" height="25.4" fill="#1010ff"/>
<rect x="557.48" y="378.04" width="1.47" height="41.96" fill="#4040ff"/>
<rect x="558.95" y="369.82" width="1.47" height="50.18" fill="#6464ff"/>
<rect x="560.42" y="365.73" width="1.47" height="54.27" fill="#8484ff"/>
<rect x="561.89" y="363.71" width="1.47" height="56.29" fill="#aaaaff"/>
<rect x="563.36" y="362.7" width="1.47" height="57.3" fill="#d4d4ff"/>
<rect x="564.83" y="362.2" width="1.47" height="57.8" fill="#f4eaf4"/>
<rect x="566.3" y="349.6" width="1.47" height="70.4" fill="#ff1c1c"/>
<rect x="567.77" y="347.93" width="1.47" height="72.07" fill="#ff4040"/>
<rect x="569.24" y="347.25" width="1.47" height="72.75" fill="#ff6060"/>
<rect x="570.71" y="346.98" width="1.47" height="73.02" fill="#ff8080"/>
<rect x="572.18" y="346.86" width="1.47" height="73.14" fill="#ffa2a2"/>
<rect x="573.65" y="346.82" width="1.47" height="73.18" fill="#ffcaca"/>
<rect x="575.12" y="346.8" width="1.47" height="73.2" fill="#fff0f0"/>
<rect x="581.86" y="394.6" width="1.47" height="25.4" fill="#1010ff"/>
<rect x="583.33" y="389.85" width="1.47" height="30.15" fill="#4040ff"/>
<rect x="584.8" y="387.49" width="1.47" height="32.51" fill="#6464ff"/>
<rect x="586.27" y="386.31" width="1.47" height="33.69" fill="#8484ff"/>
<rect x="587.74" y="385.73" width="1.47" height="34.27" fill="#aaaaff"/>
<rect x="589.21" y="385.44" width="1.47" height="34.56" fill="#d4d4ff"/>
<rect x="590.68" y="385.3" width="1.47" height="34.7" fill="#f4eaf4"/>
<rect x="592.15" y="373.5" width="1.47" height="46.5" fill="#ff1c1c"/>
<rect x="593.62" y="372.61" width="1.47" height="47.39" fill="#ff4040"/>
<rect x="595.09" y="372.24" width="1.47" height="47.76" fill="#ff6060"/>
<rect x="596.56" y="372.09" width="1.47" height="47.91" fill="#ff8080"/>
<rect x="598.03" y="372.03" width="1.47" height="47.97" fill="#ffa2a2"/>
<rect x="599.5" y="372.01" width="1.47" height="47.99" fill="#ffcaca"/>
<rect x="600.97" y="372" width="1.47" height="48" fill="#fff0f0"/>
<rect x="607.71" y="420" width="1.47" height="3.5" fill="#1010ff"/>
<rect x="609.18" y="420" width="1.47" height="4.5" fill="#4040ff"/>
<rect x="610.65" y="420" width="1.47" height="5.5" fill="#6464ff"/>
<rect x="612.12" y="420" width="1.47" height="6.5" fill="#8484ff"/>
<rect x="613.59" y="420" width="1.47" height="7.5" fill="#aaaaff"/>
<rect x="615.06" y="420" width="1.47" height="8.5" fill="#d4d4ff"/>
<rect x="616.53" y="420" width="1.47" height="9.5" fill="#f4eaf4"/>
<rect x="618" y="418.5" width="1.47" height="1.5" fill="#ff1c1c"/>
<rect x="619.47" y="417.17" width="1.47" height="2.83" fill="#ff4040"/>
<rect x="620.94" y="415.83" width="1.47" height="4.17" fill="#ff6060"/>
<rect x="622.41" y="414.5" width="1.47" height="5.5" fill="#ff8080"/>
<rect x="623.88" y="413.17" width="1.47" height="6.83" fill="#ffa2a2"/>
<rect x="625.35" y="411.83" width="1.47" height="8.17" fill="#ffcaca"/>
<rect x="626.82" y="410.5" width="1.47" height="9.5" fill="#fff0f0"/>
<rect x="633.56" y="420" width="1.47" height="3.5" fill="#1010ff"/>
<rect x="635.03" y="420" width="1.47" height="4.5" fill="#4040ff"/>
<rect x="636.5" y="420" width="1.47" height="5.5" fill="#6464ff"/>
<rect x="637.97" y="420" width="1.47" height="6.5" fill="#8484ff"/>
<rect x="639.44" y="420" width="1.47" height="7.5" fill="#aaaaff"/>
<rect x="640.91" y="420" width="1.47" height="8.5" fill="#d4d4ff"/>
<rect x="642.38" y="420" width="1.47" height="9.5" fill="#f4eaf4"/>
<rect x="643.85" y="418.5" width="1.47" height="1.5" fill="#ff1c1c"/>
<rect x="645.32" y="416.08" width="1.47" height="3.92" fill="#ff4040"/>
<rect x="646.79" y="413.67" width="1.47" height="6.33" fill="#ff6060"/>
<rect x="648.26" y="411.25" width="1.47" height="8.75" fill="#ff8080"/>
<rect x="649.73" y="408.83" width="1.47" height="11.17" fill="#ffa2a2"/>
<rect x="651.2" y="406.42" width="1.47" height="13.58" fill="#ffcaca"/>
<rect x="652.67" y="404" width="1.47" height="16" fill="#fff0f0"/>
<rect x="659.41" y="420" width="1.47" height="3" fill="#1010ff"/>
<rect x="660.88" y="420" width="1.47" height="4.08" fill="#4040ff"/>
<rect x="662.35" y="420" width="1.47" height="5.17" fill="#6464ff"/>
<rect x="663.82" y="420" width="1.47" height="6.25" fill="#8484ff"/>
<rect x="665.29" y="420" width="1.47" height="7.33" fill="#aaaaff"/>
<rect x="666.76" y="420" width="1.47" height="8.42" fill="#d4d4ff"/>
<rect x="668.23" y="420" width="1.47" height="9.5" fill="#f4eaf4"/>
<rect x="669.7" y="418.5" width="1.47" height="1.5" fill="#ff1c1c"/>
<rect x="671.17" y="416.33" width="1.47" height="3.67" fill="#ff4040"/>
<rect x="672.64" y="414.17" width="1.47" height="5.83" fill="#ff6060"/>
<rect x="674.11" y="412" width="1.47" height="8" fill="#ff8080"/>
<rect x="675.58" y="409.83" width="1.47" height="10.17" fill="#ffa2a2"/>
<rect x="677.05" y="407.67" width="1.47" height="12.33" fill="#ffcaca"/>
<rect x="678.52" y="405.5" width="1.47" height="14.5" fill="#fff0f0"/>
</g>
<line x1="398.6" y1="420" x2="683" y2="420" stroke="#000" stroke-width="1.3"/>
<rect x="398.6" y="323.6" width="284.4" height="106.4" fill="none" stroke="#000" stroke-width="1.3"/>
<line x1="411.2" y1="430" x2="411.2" y2="432.2" stroke="#000" stroke-width="0.9"/>
<line x1="424.12" y1="430" x2="424.12" y2="431.6" stroke="#000" stroke-width="0.9"/>
<text x="411.2" y="443" font-size="8.5" text-anchor="middle" font-weight="bold" fill="#000">2077</text>
<line x1="437.05" y1="430" x2="437.05" y2="432.2" stroke="#000" stroke-width="0.9"/>
<line x1="449.98" y1="430" x2="449.98" y2="431.6" stroke="#000" stroke-width="0.9"/>
<text x="437.05" y="443" font-size="8.5" text-anchor="middle" font-weight="bold" fill="#000">1670</text>
<line x1="462.9" y1="430" x2="462.9" y2="432.2" stroke="#000" stroke-width="0.9"/>
<line x1="475.82" y1="430" x2="475.82" y2="431.6" stroke="#000" stroke-width="0.9"/>
<text x="462.9" y="443" font-size="8.5" text-anchor="middle" font-weight="bold" fill="#000">1619</text>
<line x1="488.75" y1="430" x2="488.75" y2="432.2" stroke="#000" stroke-width="0.9"/>
<line x1="501.68" y1="430" x2="501.68" y2="431.6" stroke="#000" stroke-width="0.9"/>
<text x="488.75" y="443" font-size="8.5" text-anchor="middle" font-weight="bold" fill="#000">1524</text>
<line x1="514.6" y1="430" x2="514.6" y2="432.2" stroke="#000" stroke-width="0.9"/>
<line x1="527.52" y1="430" x2="527.52" y2="431.6" stroke="#000" stroke-width="0.9"/>
<text x="514.6" y="443" font-size="8.5" text-anchor="middle" font-weight="bold" fill="#000">1420</text>
<line x1="540.45" y1="430" x2="540.45" y2="432.2" stroke="#000" stroke-width="0.9"/>
<line x1="553.38" y1="430" x2="553.38" y2="431.6" stroke="#000" stroke-width="0.9"/>
<text x="540.45" y="443" font-size="8.5" text-anchor="middle" font-weight="bold" fill="#000">1368</text>
<line x1="566.3" y1="430" x2="566.3" y2="432.2" stroke="#000" stroke-width="0.9"/>
<line x1="579.22" y1="430" x2="579.22" y2="431.6" stroke="#000" stroke-width="0.9"/>
<text x="566.3" y="443" font-size="8.5" text-anchor="middle" font-weight="bold" fill="#000">1331</text>
<line x1="592.15" y1="430" x2="592.15" y2="432.2" stroke="#000" stroke-width="0.9"/>
<line x1="605.07" y1="430" x2="605.07" y2="431.6" stroke="#000" stroke-width="0.9"/>
<text x="592.15" y="443" font-size="8.5" text-anchor="middle" font-weight="bold" fill="#000">1290</text>
<line x1="618" y1="430" x2="618" y2="432.2" stroke="#000" stroke-width="0.9"/>
<line x1="630.92" y1="430" x2="630.92" y2="431.6" stroke="#000" stroke-width="0.9"/>
<text x="618" y="443" font-size="8.5" text-anchor="middle" font-weight="bold" fill="#000">1134</text>
<line x1="643.85" y1="430" x2="643.85" y2="432.2" stroke="#000" stroke-width="0.9"/>
<line x1="656.77" y1="430" x2="656.77" y2="431.6" stroke="#000" stroke-width="0.9"/>
<text x="643.85" y="443" font-size="8.5" text-anchor="middle" font-weight="bold" fill="#000">1090</text>
<line x1="669.7" y1="430" x2="669.7" y2="432.2" stroke="#000" stroke-width="0.9"/>
<line x1="682.62" y1="430" x2="682.62" y2="431.6" stroke="#000" stroke-width="0.9"/>
<text x="669.7" y="443" font-size="8.5" text-anchor="middle" font-weight="bold" fill="#000">1048</text>
<line x1="398.27" y1="430" x2="398.27" y2="431.6" stroke="#000" stroke-width="0.9"/>
<rect x="419.4" y="328.4" width="18.2" height="8.2" fill="#1010ff" stroke="#e050e0" stroke-width="0.8"/>
<rect x="419.4" y="339.2" width="18.2" height="8.2" fill="#ff1c1c" stroke="#e050e0" stroke-width="0.8"/>
<text x="440.8" y="336" font-size="8.4" text-anchor="start" font-weight="bold" fill="#000">0</text>
<text x="440.8" y="346.8" font-size="8.4" text-anchor="start" font-weight="bold" fill="#000">35</text>
<rect x="453" y="328.4" width="18.2" height="8.2" fill="#4040ff" stroke="#e050e0" stroke-width="0.8"/>
<rect x="453" y="339.2" width="18.2" height="8.2" fill="#ff4040" stroke="#e050e0" stroke-width="0.8"/>
<text x="474.4" y="336" font-size="8.4" text-anchor="start" font-weight="bold" fill="#000">5</text>
<text x="474.4" y="346.8" font-size="8.4" text-anchor="start" font-weight="bold" fill="#000">40</text>
<rect x="486" y="328.4" width="18.2" height="8.2" fill="#6464ff" stroke="#e050e0" stroke-width="0.8"/>
<rect x="486" y="339.2" width="18.2" height="8.2" fill="#ff6060" stroke="#e050e0" stroke-width="0.8"/>
<text x="507.4" y="336" font-size="8.4" text-anchor="start" font-weight="bold" fill="#000">1</text>
<text x="507.4" y="346.8" font-size="8.4" text-anchor="start" font-weight="bold" fill="#000">45</text>
<rect x="524" y="328.4" width="18.2" height="8.2" fill="#8484ff" stroke="#e050e0" stroke-width="0.8"/>
<rect x="524" y="339.2" width="18.2" height="8.2" fill="#ff8080" stroke="#e050e0" stroke-width="0.8"/>
<text x="545.4" y="336" font-size="8.4" text-anchor="start" font-weight="bold" fill="#000">15</text>
<text x="545.4" y="346.8" font-size="8.4" text-anchor="start" font-weight="bold" fill="#000">50</text>
<rect x="564.2" y="328.4" width="18.2" height="8.2" fill="#aaaaff" stroke="#e050e0" stroke-width="0.8"/>
<rect x="564.2" y="339.2" width="18.2" height="8.2" fill="#ffa2a2" stroke="#e050e0" stroke-width="0.8"/>
<text x="585.6" y="336" font-size="8.4" text-anchor="start" font-weight="bold" fill="#000">20</text>
<text x="585.6" y="346.8" font-size="8.4" text-anchor="start" font-weight="bold" fill="#000">55</text>
<rect x="602.2" y="328.4" width="18.2" height="8.2" fill="#d4d4ff" stroke="#e050e0" stroke-width="0.8"/>
<rect x="602.2" y="339.2" width="18.2" height="8.2" fill="#ffcaca" stroke="#e050e0" stroke-width="0.8"/>
<text x="623.6" y="336" font-size="8.4" text-anchor="start" font-weight="bold" fill="#000">25</text>
<text x="623.6" y="346.8" font-size="8.4" text-anchor="start" font-weight="bold" fill="#000">60</text>
<rect x="640" y="328.4" width="18.2" height="8.2" fill="#f4eaf4" stroke="#e050e0" stroke-width="0.8"/>
<rect x="640" y="339.2" width="18.2" height="8.2" fill="#fff0f0" stroke="#e050e0" stroke-width="0.8"/>
<text x="661.4" y="336" font-size="8.4" text-anchor="start" font-weight="bold" fill="#000">30</text>
<text x="661.4" y="346.8" font-size="8.4" text-anchor="start" font-weight="bold" fill="#000">65</text>
<text x="540.5" y="453.2" font-size="9.8" text-anchor="middle" font-weight="bold">Wavenumber (cm<tspan font-size="6.37" dy="-3.5">-1</tspan><tspan dy="3.5">)</tspan></text>
<text x="391.8" y="379" font-size="10.2" text-anchor="middle" font-weight="bold" fill="#000" transform="rotate(-90 391.8 379)">Absorbance (arb.units)</text>
<rect x="624.4" y="52.4" width="44.4" height="46" fill="url(#inA)"/>
<text x="636" y="73.8" font-size="9.6" font-weight="bold">CO<tspan font-size="6.2" dy="2.2">3</tspan><tspan font-size="6.2" dy="-6.6">2-</tspan></text>
<line x1="634.7" y1="83.1" x2="648.5" y2="83.8" stroke="#4a4a4a" stroke-width="3" stroke-linecap="round"/>
<line x1="648.5" y1="83.8" x2="658.4" y2="82" stroke="#4a4a4a" stroke-width="2.6" stroke-linecap="round"/>
<line x1="648.5" y1="83.8" x2="653" y2="86.2" stroke="#4a4a4a" stroke-width="2.6" stroke-linecap="round"/>
<circle cx="634.7" cy="83.1" r="3.7" fill="url(#bR)"/>
<circle cx="648.5" cy="83.6" r="3.6" fill="url(#bG)"/>
<circle cx="658.6" cy="82" r="3.6" fill="url(#bR)"/>
<circle cx="653.2" cy="86.4" r="3.6" fill="url(#bR)"/>
<rect x="624" y="193" width="44" height="45" fill="url(#inB)"/>
<line x1="638" y1="199.3" x2="648.3" y2="200" stroke="#4a4a4a" stroke-width="2.6" stroke-linecap="round"/>
<line x1="648.3" y1="200" x2="656.8" y2="198.6" stroke="#4a4a4a" stroke-width="2.2" stroke-linecap="round"/>
<line x1="648.3" y1="200" x2="652.9" y2="201.9" stroke="#4a4a4a" stroke-width="2.2" stroke-linecap="round"/>
<circle cx="637.9" cy="199.3" r="3" fill="url(#bR)"/>
<circle cx="648.3" cy="200" r="2.9" fill="url(#bG)"/>
<circle cx="656.8" cy="198.6" r="3" fill="url(#bR)"/>
<circle cx="652.9" cy="202" r="3" fill="url(#bR)"/>
<line x1="643.5" y1="214.5" x2="638" y2="223" stroke="#4a4a4a" stroke-width="2.4" stroke-linecap="round"/>
<line x1="638" y1="223" x2="645" y2="230.5" stroke="#4a4a4a" stroke-width="2.6" stroke-linecap="round"/>
<line x1="645" y1="230.5" x2="657.5" y2="218" stroke="#c81818" stroke-width="2.6"/>
<circle cx="643.5" cy="214.5" r="3.5" fill="url(#bW)"/>
<circle cx="638" cy="223" r="3.6" fill="url(#bR)"/>
<circle cx="657.5" cy="218" r="3.7" fill="url(#bR)"/>
<circle cx="645" cy="230.5" r="3.7" fill="url(#bW)"/>
<rect x="621" y="357.5" width="43.7" height="46.5" fill="url(#inC)"/>
<text x="642" y="371.4" font-size="9.2" font-weight="bold" text-anchor="middle">*COOH</text>
<line x1="641.6" y1="379.6" x2="635.8" y2="388.6" stroke="#4a4a4a" stroke-width="2.4" stroke-linecap="round"/>
<line x1="635.8" y1="388.6" x2="642.9" y2="396" stroke="#4a4a4a" stroke-width="2.6" stroke-linecap="round"/>
<line x1="642.9" y1="396" x2="648.4" y2="389.7" stroke="#777" stroke-width="3"/>
<line x1="648.4" y1="389.7" x2="653.9" y2="383.5" stroke="#d01010" stroke-width="3"/>
<circle cx="641.6" cy="379.6" r="3.4" fill="url(#bW)"/>
<circle cx="635.8" cy="388.6" r="3.5" fill="url(#bR)"/>
<circle cx="653.9" cy="383.5" r="3.7" fill="url(#bR)"/>
<circle cx="642.9" cy="396" r="3.6" fill="url(#bW)"/>
</svg>
</body></html>
